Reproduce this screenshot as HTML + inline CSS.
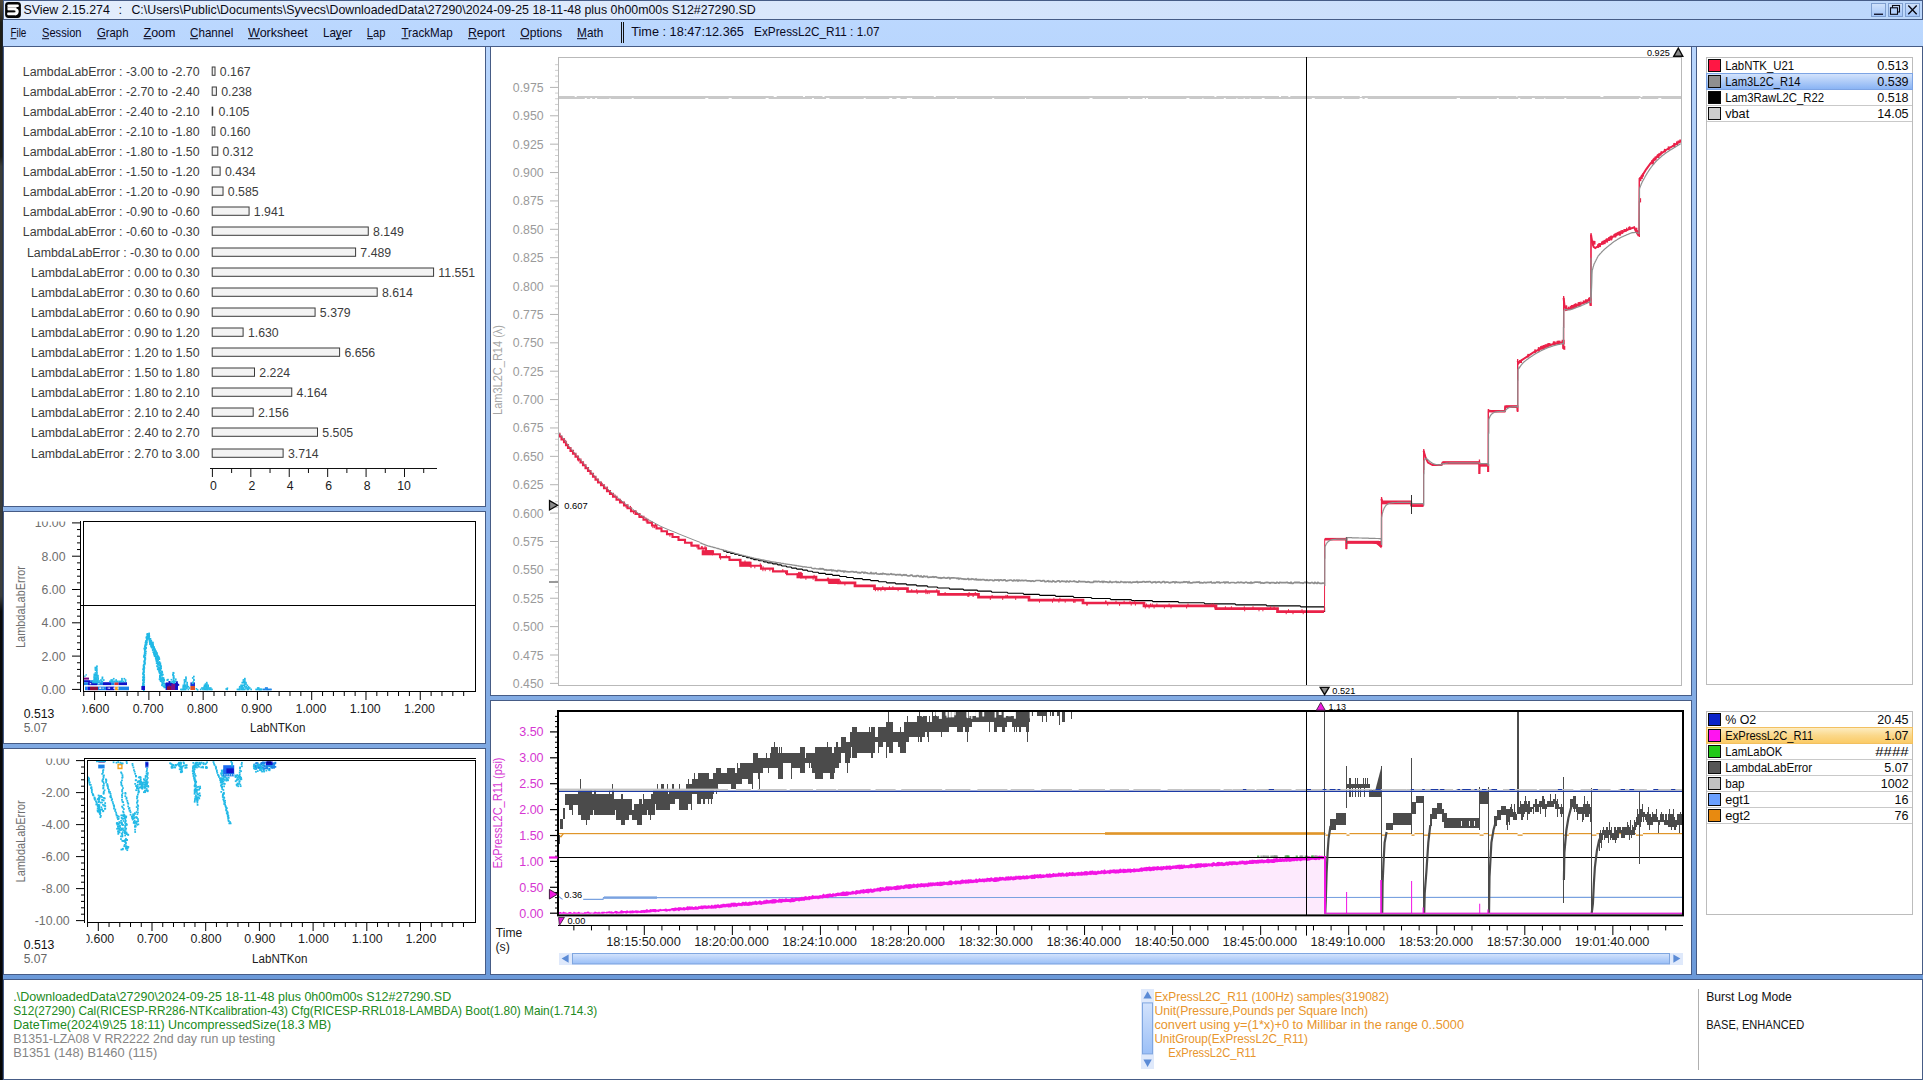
<!DOCTYPE html>
<html lang="en"><head><meta charset="utf-8"><title>SView 2.15.274</title>
<style>html,body{margin:0;padding:0;background:#000;overflow:hidden}svg{display:block;font-family:"Liberation Sans",sans-serif}text{white-space:pre}</style></head>
<body>
<svg width="1923" height="1080" viewBox="0 0 1923 1080">
<defs>
<linearGradient id="bg" x1="0" y1="0" x2="0" y2="1"><stop offset="0" stop-color="#bdd9ff"/><stop offset="1" stop-color="#6393d5"/></linearGradient>
<linearGradient id="tb" x1="0" y1="0" x2="1" y2="0"><stop offset="0" stop-color="#e4eefc"/><stop offset="0.45" stop-color="#d9e7fc"/><stop offset="1" stop-color="#bcd7fb"/></linearGradient>
<linearGradient id="desk" x1="0" y1="0" x2="0" y2="1"><stop offset="0" stop-color="#4f4737"/><stop offset="0.017" stop-color="#2c291f"/><stop offset="0.021" stop-color="#1d1d16"/><stop offset="0.145" stop-color="#1d1d16"/><stop offset="0.154" stop-color="#3b3c37"/><stop offset="0.552" stop-color="#3c3e3b"/><stop offset="0.566" stop-color="#0a0b0b"/><stop offset="1" stop-color="#050505"/></linearGradient>
<linearGradient id="btn" x1="0" y1="0" x2="0" y2="1"><stop offset="0" stop-color="#cfe1fb"/><stop offset="1" stop-color="#a4c6fa"/></linearGradient>
<linearGradient id="selb" x1="0" y1="0" x2="0" y2="1"><stop offset="0" stop-color="#d3e3fc"/><stop offset="1" stop-color="#8ab4f4"/></linearGradient>
<linearGradient id="selo" x1="0" y1="0" x2="0" y2="1"><stop offset="0" stop-color="#fdecc0"/><stop offset="0.5" stop-color="#fbd88a"/><stop offset="1" stop-color="#fbcb66"/></linearGradient>
<linearGradient id="thumb" x1="0" y1="0" x2="0" y2="1"><stop offset="0" stop-color="#d2e2fc"/><stop offset="1" stop-color="#9cc0f7"/></linearGradient>
</defs>
<rect x="0" y="0" width="3" height="1080" fill="url(#desk)"/>
<rect x="2" y="20" width="1" height="1060" fill="#1c2c4c" opacity="0.45"/>
<rect x="3" y="0" width="1920" height="1080" fill="url(#bg)"/>
<rect x="3" y="0" width="1920" height="20" fill="#465c86"/>
<rect x="4" y="1" width="1918" height="18" fill="url(#tb)"/>
<rect x="3" y="1079" width="1920" height="1" fill="#465c86"/>
<rect x="5.1" y="1.9" width="15.8" height="16.1" rx="3.4" fill="#050505"/>
<g fill="#fdfdfd"><rect x="7.5" y="4.4" width="11.2" height="2.7" rx="0.9"/><rect x="7.5" y="6.6" width="8.9" height="4.0" rx="0.8"/><path d="M14.6 8.3 Q18.7 8.3 18.7 11.6 Q18.7 15.3 15 15.3 L14.6 12.2 Z"/><rect x="7.2" y="12.3" width="9.6" height="3.0" rx="1.0"/></g>
<rect x="7.7" y="7.15" width="8.2" height="0.55" fill="#8e8e8e"/>
<rect x="6.4" y="10.7" width="9.0" height="1.5" fill="#050505"/>
<text x="23.40" y="14.00" font-size="12.6" fill="#0a0a14" text-anchor="start" textLength="86.40" lengthAdjust="spacingAndGlyphs">SView 2.15.274</text>
<text x="118.60" y="14.00" font-size="12.6" fill="#0a0a14" text-anchor="start" textLength="3.60" lengthAdjust="spacingAndGlyphs">:</text>
<text x="131.40" y="14.00" font-size="12.6" fill="#0a0a14" text-anchor="start" textLength="624.40" lengthAdjust="spacingAndGlyphs">C:\Users\Public\Documents\Syvecs\DownloadedData\27290\2024-09-25 18-11-48 plus 0h00m00s S12#27290.SD</text>
<rect x="1871" y="3" width="15" height="14" fill="#7f9fd0"/>
<rect x="1872" y="4" width="13" height="12" fill="url(#btn)"/>
<rect x="1888" y="3" width="15" height="14" fill="#7f9fd0"/>
<rect x="1889" y="4" width="13" height="12" fill="url(#btn)"/>
<rect x="1905" y="3" width="15" height="14" fill="#7f9fd0"/>
<rect x="1906" y="4" width="13" height="12" fill="url(#btn)"/>
<rect x="1874" y="13.6" width="9" height="1.3" fill="#0a0a20"/>
<g fill="none" stroke="#0a0a14" stroke-width="1.1"><rect x="1892.5" y="5.5" width="7" height="6.5"/><rect x="1890.5" y="7.8" width="7" height="6.5" fill="#b4d0fa"/></g>
<path d="M1908.3 5.5 L1916.7 14.3 M1916.7 5.5 L1908.3 14.3" stroke="#0a0a14" stroke-width="1.35" fill="none"/>
<rect x="3" y="46" width="1920" height="1" fill="#465c86"/>
<text x="10.40" y="37.00" font-size="12.6" fill="#0a0a1e" text-anchor="start" textLength="16.00" lengthAdjust="spacingAndGlyphs">File</text>
<rect x="10.5" y="38.2" width="6" height="1" fill="#0a0a1e"/>
<text x="42.00" y="37.00" font-size="12.6" fill="#0a0a1e" text-anchor="start" textLength="39.50" lengthAdjust="spacingAndGlyphs">Session</text>
<rect x="42.0" y="38.2" width="7" height="1" fill="#0a0a1e"/>
<text x="96.90" y="37.00" font-size="12.6" fill="#0a0a1e" text-anchor="start" textLength="31.60" lengthAdjust="spacingAndGlyphs">Graph</text>
<rect x="97.0" y="38.2" width="9" height="1" fill="#0a0a1e"/>
<text x="143.50" y="37.00" font-size="12.6" fill="#0a0a1e" text-anchor="start" textLength="32.00" lengthAdjust="spacingAndGlyphs">Zoom</text>
<rect x="143.5" y="38.2" width="8" height="1" fill="#0a0a1e"/>
<text x="190.10" y="37.00" font-size="12.6" fill="#0a0a1e" text-anchor="start" textLength="43.20" lengthAdjust="spacingAndGlyphs">Channel</text>
<rect x="190.0" y="38.2" width="8" height="1" fill="#0a0a1e"/>
<text x="248.00" y="37.00" font-size="12.6" fill="#0a0a1e" text-anchor="start" textLength="59.80" lengthAdjust="spacingAndGlyphs">Worksheet</text>
<rect x="248.0" y="38.2" width="12" height="1" fill="#0a0a1e"/>
<text x="322.90" y="37.00" font-size="12.6" fill="#0a0a1e" text-anchor="start" textLength="29.20" lengthAdjust="spacingAndGlyphs">Layer</text>
<rect x="336.0" y="38.2" width="6" height="1" fill="#0a0a1e"/>
<text x="366.80" y="37.00" font-size="12.6" fill="#0a0a1e" text-anchor="start" textLength="18.60" lengthAdjust="spacingAndGlyphs">Lap</text>
<rect x="367.0" y="38.2" width="6" height="1" fill="#0a0a1e"/>
<text x="401.40" y="37.00" font-size="12.6" fill="#0a0a1e" text-anchor="start" textLength="51.20" lengthAdjust="spacingAndGlyphs">TrackMap</text>
<rect x="401.5" y="38.2" width="7" height="1" fill="#0a0a1e"/>
<text x="468.00" y="37.00" font-size="12.6" fill="#0a0a1e" text-anchor="start" textLength="36.80" lengthAdjust="spacingAndGlyphs">Report</text>
<rect x="468.0" y="38.2" width="9" height="1" fill="#0a0a1e"/>
<text x="520.20" y="37.00" font-size="12.6" fill="#0a0a1e" text-anchor="start" textLength="41.90" lengthAdjust="spacingAndGlyphs">Options</text>
<rect x="520.0" y="38.2" width="9" height="1" fill="#0a0a1e"/>
<text x="577.10" y="37.00" font-size="12.6" fill="#0a0a1e" text-anchor="start" textLength="26.20" lengthAdjust="spacingAndGlyphs">Math</text>
<rect x="577.0" y="38.2" width="10" height="1" fill="#0a0a1e"/>
<rect x="621" y="22" width="1" height="21" fill="#111"/>
<rect x="623" y="22" width="1" height="21" fill="#111"/>
<text x="631.20" y="36.00" font-size="12.6" fill="#0a0a1e" text-anchor="start" textLength="112.70" lengthAdjust="spacingAndGlyphs">Time : 18:47:12.365</text>
<text x="754.10" y="36.00" font-size="12.6" fill="#0a0a1e" text-anchor="start" textLength="125.50" lengthAdjust="spacingAndGlyphs">ExPressL2C_R11 : 1.07</text>
<rect x="3" y="46" width="483" height="461" fill="#465c86"/><rect x="4" y="47" width="481" height="459" fill="#fff"/>
<rect x="3" y="511" width="483" height="233" fill="#465c86"/><rect x="4" y="512" width="481" height="231" fill="#fff"/>
<rect x="3" y="748" width="483" height="227" fill="#465c86"/><rect x="4" y="749" width="481" height="225" fill="#fff"/>
<rect x="490" y="46" width="1202" height="650" fill="#465c86"/><rect x="491" y="47" width="1200" height="648" fill="#fff"/>
<rect x="490" y="700" width="1202" height="275" fill="#465c86"/><rect x="491" y="701" width="1200" height="273" fill="#fff"/>
<rect x="1696" y="46" width="227" height="929" fill="#465c86"/><rect x="1697" y="47" width="225" height="927" fill="#fff"/>
<rect x="3" y="979" width="1920" height="101" fill="#465c86"/><rect x="4" y="980" width="1918" height="99" fill="#fff"/>
<text x="199.60" y="75.60" font-size="12" fill="#3c3c3c" text-anchor="end" textLength="176.80" lengthAdjust="spacingAndGlyphs">LambdaLabError : -3.00 to -2.70</text>
<rect x="212.2" y="67.00" width="2.81" height="8.3" fill="#f3f3f3" stroke="#3a3a3a" stroke-width="1"/>
<text x="219.81" y="75.60" font-size="12" fill="#3c3c3c" text-anchor="start" textLength="30.79" lengthAdjust="spacingAndGlyphs">0.167</text>
<text x="199.60" y="95.60" font-size="12" fill="#3c3c3c" text-anchor="end" textLength="176.80" lengthAdjust="spacingAndGlyphs">LambdaLabError : -2.70 to -2.40</text>
<rect x="212.2" y="87.00" width="4.17" height="8.3" fill="#f3f3f3" stroke="#3a3a3a" stroke-width="1"/>
<text x="221.17" y="95.60" font-size="12" fill="#3c3c3c" text-anchor="start" textLength="30.79" lengthAdjust="spacingAndGlyphs">0.238</text>
<text x="199.60" y="115.60" font-size="12" fill="#3c3c3c" text-anchor="end" textLength="176.80" lengthAdjust="spacingAndGlyphs">LambdaLabError : -2.40 to -2.10</text>
<rect x="211.7" y="106.60" width="1.5" height="9.2" fill="#3a3a3a"/>
<text x="218.62" y="115.60" font-size="12" fill="#3c3c3c" text-anchor="start" textLength="30.79" lengthAdjust="spacingAndGlyphs">0.105</text>
<text x="199.60" y="135.60" font-size="12" fill="#3c3c3c" text-anchor="end" textLength="176.80" lengthAdjust="spacingAndGlyphs">LambdaLabError : -2.10 to -1.80</text>
<rect x="212.2" y="127.00" width="2.67" height="8.3" fill="#f3f3f3" stroke="#3a3a3a" stroke-width="1"/>
<text x="219.67" y="135.60" font-size="12" fill="#3c3c3c" text-anchor="start" textLength="30.79" lengthAdjust="spacingAndGlyphs">0.160</text>
<text x="199.60" y="155.60" font-size="12" fill="#3c3c3c" text-anchor="end" textLength="176.80" lengthAdjust="spacingAndGlyphs">LambdaLabError : -1.80 to -1.50</text>
<rect x="212.2" y="147.00" width="5.59" height="8.3" fill="#f3f3f3" stroke="#3a3a3a" stroke-width="1"/>
<text x="222.59" y="155.60" font-size="12" fill="#3c3c3c" text-anchor="start" textLength="30.79" lengthAdjust="spacingAndGlyphs">0.312</text>
<text x="199.60" y="175.60" font-size="12" fill="#3c3c3c" text-anchor="end" textLength="176.80" lengthAdjust="spacingAndGlyphs">LambdaLabError : -1.50 to -1.20</text>
<rect x="212.2" y="167.00" width="7.93" height="8.3" fill="#f3f3f3" stroke="#3a3a3a" stroke-width="1"/>
<text x="224.93" y="175.60" font-size="12" fill="#3c3c3c" text-anchor="start" textLength="30.79" lengthAdjust="spacingAndGlyphs">0.434</text>
<text x="199.60" y="195.60" font-size="12" fill="#3c3c3c" text-anchor="end" textLength="176.80" lengthAdjust="spacingAndGlyphs">LambdaLabError : -1.20 to -0.90</text>
<rect x="212.2" y="187.00" width="10.83" height="8.3" fill="#f3f3f3" stroke="#3a3a3a" stroke-width="1"/>
<text x="227.83" y="195.60" font-size="12" fill="#3c3c3c" text-anchor="start" textLength="30.79" lengthAdjust="spacingAndGlyphs">0.585</text>
<text x="199.60" y="215.60" font-size="12" fill="#3c3c3c" text-anchor="end" textLength="176.80" lengthAdjust="spacingAndGlyphs">LambdaLabError : -0.90 to -0.60</text>
<rect x="212.2" y="207.00" width="36.87" height="8.3" fill="#f3f3f3" stroke="#3a3a3a" stroke-width="1"/>
<text x="253.87" y="215.60" font-size="12" fill="#3c3c3c" text-anchor="start" textLength="30.79" lengthAdjust="spacingAndGlyphs">1.941</text>
<text x="199.60" y="235.60" font-size="12" fill="#3c3c3c" text-anchor="end" textLength="176.80" lengthAdjust="spacingAndGlyphs">LambdaLabError : -0.60 to -0.30</text>
<rect x="212.2" y="227.00" width="156.06" height="8.3" fill="#f3f3f3" stroke="#3a3a3a" stroke-width="1"/>
<text x="373.06" y="235.60" font-size="12" fill="#3c3c3c" text-anchor="start" textLength="30.79" lengthAdjust="spacingAndGlyphs">8.149</text>
<text x="199.60" y="256.60" font-size="12" fill="#3c3c3c" text-anchor="end" textLength="172.68" lengthAdjust="spacingAndGlyphs">LambdaLabError : -0.30 to 0.00</text>
<rect x="212.2" y="248.00" width="143.39" height="8.3" fill="#f3f3f3" stroke="#3a3a3a" stroke-width="1"/>
<text x="360.39" y="256.60" font-size="12" fill="#3c3c3c" text-anchor="start" textLength="30.79" lengthAdjust="spacingAndGlyphs">7.489</text>
<text x="199.60" y="276.60" font-size="12" fill="#3c3c3c" text-anchor="end" textLength="168.56" lengthAdjust="spacingAndGlyphs">LambdaLabError : 0.00 to 0.30</text>
<rect x="212.2" y="268.00" width="221.38" height="8.3" fill="#f3f3f3" stroke="#3a3a3a" stroke-width="1"/>
<text x="438.38" y="276.60" font-size="12" fill="#3c3c3c" text-anchor="start" textLength="36.72" lengthAdjust="spacingAndGlyphs">11.551</text>
<text x="199.60" y="296.60" font-size="12" fill="#3c3c3c" text-anchor="end" textLength="168.56" lengthAdjust="spacingAndGlyphs">LambdaLabError : 0.30 to 0.60</text>
<rect x="212.2" y="288.00" width="164.99" height="8.3" fill="#f3f3f3" stroke="#3a3a3a" stroke-width="1"/>
<text x="381.99" y="296.60" font-size="12" fill="#3c3c3c" text-anchor="start" textLength="30.79" lengthAdjust="spacingAndGlyphs">8.614</text>
<text x="199.60" y="316.60" font-size="12" fill="#3c3c3c" text-anchor="end" textLength="168.56" lengthAdjust="spacingAndGlyphs">LambdaLabError : 0.60 to 0.90</text>
<rect x="212.2" y="308.00" width="102.88" height="8.3" fill="#f3f3f3" stroke="#3a3a3a" stroke-width="1"/>
<text x="319.88" y="316.60" font-size="12" fill="#3c3c3c" text-anchor="start" textLength="30.79" lengthAdjust="spacingAndGlyphs">5.379</text>
<text x="199.60" y="336.60" font-size="12" fill="#3c3c3c" text-anchor="end" textLength="168.56" lengthAdjust="spacingAndGlyphs">LambdaLabError : 0.90 to 1.20</text>
<rect x="212.2" y="328.00" width="30.90" height="8.3" fill="#f3f3f3" stroke="#3a3a3a" stroke-width="1"/>
<text x="247.90" y="336.60" font-size="12" fill="#3c3c3c" text-anchor="start" textLength="30.79" lengthAdjust="spacingAndGlyphs">1.630</text>
<text x="199.60" y="356.60" font-size="12" fill="#3c3c3c" text-anchor="end" textLength="168.56" lengthAdjust="spacingAndGlyphs">LambdaLabError : 1.20 to 1.50</text>
<rect x="212.2" y="348.00" width="127.40" height="8.3" fill="#f3f3f3" stroke="#3a3a3a" stroke-width="1"/>
<text x="344.40" y="356.60" font-size="12" fill="#3c3c3c" text-anchor="start" textLength="30.79" lengthAdjust="spacingAndGlyphs">6.656</text>
<text x="199.60" y="376.60" font-size="12" fill="#3c3c3c" text-anchor="end" textLength="168.56" lengthAdjust="spacingAndGlyphs">LambdaLabError : 1.50 to 1.80</text>
<rect x="212.2" y="368.00" width="42.30" height="8.3" fill="#f3f3f3" stroke="#3a3a3a" stroke-width="1"/>
<text x="259.30" y="376.60" font-size="12" fill="#3c3c3c" text-anchor="start" textLength="30.79" lengthAdjust="spacingAndGlyphs">2.224</text>
<text x="199.60" y="396.60" font-size="12" fill="#3c3c3c" text-anchor="end" textLength="168.56" lengthAdjust="spacingAndGlyphs">LambdaLabError : 1.80 to 2.10</text>
<rect x="212.2" y="388.00" width="79.55" height="8.3" fill="#f3f3f3" stroke="#3a3a3a" stroke-width="1"/>
<text x="296.55" y="396.60" font-size="12" fill="#3c3c3c" text-anchor="start" textLength="30.79" lengthAdjust="spacingAndGlyphs">4.164</text>
<text x="199.60" y="416.60" font-size="12" fill="#3c3c3c" text-anchor="end" textLength="168.56" lengthAdjust="spacingAndGlyphs">LambdaLabError : 2.10 to 2.40</text>
<rect x="212.2" y="408.00" width="41.00" height="8.3" fill="#f3f3f3" stroke="#3a3a3a" stroke-width="1"/>
<text x="258.00" y="416.60" font-size="12" fill="#3c3c3c" text-anchor="start" textLength="30.79" lengthAdjust="spacingAndGlyphs">2.156</text>
<text x="199.60" y="436.60" font-size="12" fill="#3c3c3c" text-anchor="end" textLength="168.56" lengthAdjust="spacingAndGlyphs">LambdaLabError : 2.40 to 2.70</text>
<rect x="212.2" y="428.00" width="105.30" height="8.3" fill="#f3f3f3" stroke="#3a3a3a" stroke-width="1"/>
<text x="322.30" y="436.60" font-size="12" fill="#3c3c3c" text-anchor="start" textLength="30.79" lengthAdjust="spacingAndGlyphs">5.505</text>
<text x="199.60" y="457.60" font-size="12" fill="#3c3c3c" text-anchor="end" textLength="168.56" lengthAdjust="spacingAndGlyphs">LambdaLabError : 2.70 to 3.00</text>
<rect x="212.2" y="449.00" width="70.91" height="8.3" fill="#f3f3f3" stroke="#3a3a3a" stroke-width="1"/>
<text x="287.91" y="457.60" font-size="12" fill="#3c3c3c" text-anchor="start" textLength="30.79" lengthAdjust="spacingAndGlyphs">3.714</text>
<rect x="210" y="468" width="227" height="1" fill="#111"/>
<rect x="211.90" y="468" width="1" height="9" fill="#111"/>
<text x="213.40" y="489.60" font-size="12" fill="#1a1a1a" text-anchor="middle" textLength="6.81" lengthAdjust="spacingAndGlyphs">0</text>
<rect x="231.11" y="468" width="1" height="5" fill="#111"/>
<rect x="250.32" y="468" width="1" height="9" fill="#111"/>
<text x="251.82" y="489.60" font-size="12" fill="#1a1a1a" text-anchor="middle" textLength="6.81" lengthAdjust="spacingAndGlyphs">2</text>
<rect x="269.53" y="468" width="1" height="5" fill="#111"/>
<rect x="288.74" y="468" width="1" height="9" fill="#111"/>
<text x="290.24" y="489.60" font-size="12" fill="#1a1a1a" text-anchor="middle" textLength="6.81" lengthAdjust="spacingAndGlyphs">4</text>
<rect x="307.95" y="468" width="1" height="5" fill="#111"/>
<rect x="327.16" y="468" width="1" height="9" fill="#111"/>
<text x="328.66" y="489.60" font-size="12" fill="#1a1a1a" text-anchor="middle" textLength="6.81" lengthAdjust="spacingAndGlyphs">6</text>
<rect x="346.37" y="468" width="1" height="5" fill="#111"/>
<rect x="365.58" y="468" width="1" height="9" fill="#111"/>
<text x="367.08" y="489.60" font-size="12" fill="#1a1a1a" text-anchor="middle" textLength="6.81" lengthAdjust="spacingAndGlyphs">8</text>
<rect x="384.79" y="468" width="1" height="5" fill="#111"/>
<rect x="404.00" y="468" width="1" height="9" fill="#111"/>
<text x="404.00" y="489.60" font-size="12" fill="#1a1a1a" text-anchor="middle" textLength="13.62" lengthAdjust="spacingAndGlyphs">10</text>
<rect x="423.21" y="468" width="1" height="5" fill="#111"/>
<rect x="80" y="521" width="1" height="171" fill="#000"/>
<rect x="72" y="688.90" width="8" height="1" fill="#000"/>
<rect x="77" y="682.24" width="3" height="1" fill="#000"/>
<rect x="77" y="675.58" width="3" height="1" fill="#000"/>
<rect x="77" y="668.92" width="3" height="1" fill="#000"/>
<rect x="77" y="662.26" width="3" height="1" fill="#000"/>
<rect x="72" y="655.60" width="8" height="1" fill="#000"/>
<rect x="77" y="648.94" width="3" height="1" fill="#000"/>
<rect x="77" y="642.28" width="3" height="1" fill="#000"/>
<rect x="77" y="635.62" width="3" height="1" fill="#000"/>
<rect x="77" y="628.96" width="3" height="1" fill="#000"/>
<rect x="72" y="622.30" width="8" height="1" fill="#000"/>
<rect x="77" y="615.64" width="3" height="1" fill="#000"/>
<rect x="77" y="608.98" width="3" height="1" fill="#000"/>
<rect x="77" y="602.32" width="3" height="1" fill="#000"/>
<rect x="77" y="595.66" width="3" height="1" fill="#000"/>
<rect x="72" y="589.00" width="8" height="1" fill="#000"/>
<rect x="77" y="582.34" width="3" height="1" fill="#000"/>
<rect x="77" y="575.68" width="3" height="1" fill="#000"/>
<rect x="77" y="569.02" width="3" height="1" fill="#000"/>
<rect x="77" y="562.36" width="3" height="1" fill="#000"/>
<rect x="72" y="555.70" width="8" height="1" fill="#000"/>
<rect x="77" y="549.04" width="3" height="1" fill="#000"/>
<rect x="77" y="542.38" width="3" height="1" fill="#000"/>
<rect x="77" y="535.72" width="3" height="1" fill="#000"/>
<rect x="77" y="529.06" width="3" height="1" fill="#000"/>
<rect x="72" y="522.40" width="8" height="1" fill="#000"/>
<clipPath id="c2"><rect x="4" y="521.6" width="480" height="220"/></clipPath>
<g clip-path="url(#c2)">
<text x="65.50" y="693.80" font-size="12" fill="#6e6e6e" text-anchor="end" textLength="23.95" lengthAdjust="spacingAndGlyphs">0.00</text>
<text x="65.50" y="660.50" font-size="12" fill="#6e6e6e" text-anchor="end" textLength="23.95" lengthAdjust="spacingAndGlyphs">2.00</text>
<text x="65.50" y="627.20" font-size="12" fill="#6e6e6e" text-anchor="end" textLength="23.95" lengthAdjust="spacingAndGlyphs">4.00</text>
<text x="65.50" y="593.90" font-size="12" fill="#6e6e6e" text-anchor="end" textLength="23.95" lengthAdjust="spacingAndGlyphs">6.00</text>
<text x="65.50" y="560.60" font-size="12" fill="#6e6e6e" text-anchor="end" textLength="23.95" lengthAdjust="spacingAndGlyphs">8.00</text>
<text x="65.50" y="527.30" font-size="12" fill="#6e6e6e" text-anchor="end" textLength="30.79" lengthAdjust="spacingAndGlyphs">10.00</text>
</g>
<text transform="translate(25.20,607.00) rotate(-90)" font-size="12" fill="#6e6e6e" text-anchor="middle" textLength="82.00" lengthAdjust="spacingAndGlyphs">LambdaLabError</text>
<clipPath id="p2"><rect x="84" y="522" width="391" height="169"/></clipPath><g clip-path="url(#p2)">
<rect x="83.5" y="677.6" width="5.5" height="2.0" fill="#7a0a86"/>
<rect x="84.0" y="680.2" width="6.0" height="2.0" fill="#1212c8"/><rect x="90.0" y="680.2" width="3.0" height="2.0" fill="#1b84e8"/>
<rect x="84.0" y="682.2" width="19.0" height="2.9" fill="#1b84e8"/><rect x="88.0" y="682.2" width="9.0" height="2.9" fill="#1212c8"/><rect x="103.0" y="682.2" width="8.0" height="2.9" fill="#1212c8"/><rect x="111.0" y="682.2" width="3.5" height="2.9" fill="#1b84e8"/><rect x="114.5" y="682.2" width="4.0" height="2.9" fill="#e03232"/><rect x="118.5" y="682.2" width="8.5" height="2.9" fill="#1212c8"/>
<rect x="85.0" y="686.6" width="2.5" height="3.6" fill="#1b84e8"/><rect x="87.5" y="686.6" width="2.5" height="3.6" fill="#1212c8"/><rect x="90.0" y="686.6" width="8.0" height="3.6" fill="#8a0f3c"/><rect x="98.0" y="686.6" width="8.0" height="3.6" fill="#1b84e8"/><rect x="106.0" y="686.6" width="8.5" height="3.6" fill="#1212c8"/><rect x="115.0" y="686.6" width="3.4" height="3.6" fill="#f2a21e"/><rect x="118.4" y="686.6" width="10.6" height="3.6" fill="#1b84e8"/>
<rect x="107.7" y="687.6" width="1.1" height="1.1" fill="#fff"/><rect x="102.5" y="687.6" width="1.1" height="1.1" fill="#fff"/><rect x="117.5" y="687.6" width="1.1" height="1.1" fill="#fff"/><rect x="100.2" y="687.6" width="1.1" height="1.1" fill="#fff"/><rect x="114.1" y="687.6" width="1.1" height="1.1" fill="#fff"/><rect x="109.0" y="687.6" width="1.1" height="1.1" fill="#fff"/><rect x="99.7" y="687.6" width="1.1" height="1.1" fill="#fff"/><rect x="113.2" y="687.6" width="1.1" height="1.1" fill="#fff"/><rect x="99.1" y="687.6" width="1.1" height="1.1" fill="#fff"/>
<rect x="98.4" y="683.2" width="1.0" height="1.0" fill="#fff"/><rect x="89.7" y="683.2" width="1.0" height="1.0" fill="#fff"/><rect x="90.2" y="683.2" width="1.0" height="1.0" fill="#fff"/><rect x="98.2" y="683.2" width="1.0" height="1.0" fill="#fff"/>
<rect x="92.1" y="681.6" width="1.7" height="1.7" fill="#22b9e6"/><rect x="92.4" y="680.2" width="1.7" height="1.7" fill="#22b9e6"/><rect x="93.6" y="681.6" width="1.7" height="1.7" fill="#22b9e6"/><rect x="93.6" y="680.2" width="1.7" height="1.7" fill="#22b9e6"/><rect x="93.3" y="678.9" width="1.7" height="1.7" fill="#22b9e6"/><rect x="93.4" y="677.5" width="1.7" height="1.7" fill="#22b9e6"/><rect x="93.3" y="676.2" width="1.7" height="1.7" fill="#22b9e6"/><rect x="93.5" y="674.8" width="1.7" height="1.7" fill="#22b9e6"/><rect x="93.5" y="673.5" width="1.7" height="1.7" fill="#22b9e6"/><rect x="94.6" y="681.6" width="1.7" height="1.7" fill="#22b9e6"/><rect x="94.7" y="680.2" width="1.7" height="1.7" fill="#22b9e6"/><rect x="94.7" y="678.9" width="1.7" height="1.7" fill="#22b9e6"/><rect x="94.6" y="677.5" width="1.7" height="1.7" fill="#22b9e6"/><rect x="94.8" y="676.2" width="1.7" height="1.7" fill="#22b9e6"/><rect x="94.7" y="674.8" width="1.7" height="1.7" fill="#22b9e6"/><rect x="94.9" y="673.5" width="1.7" height="1.7" fill="#22b9e6"/><rect x="94.6" y="672.1" width="1.7" height="1.7" fill="#22b9e6"/><rect x="94.7" y="669.4" width="1.7" height="1.7" fill="#22b9e6"/><rect x="94.6" y="668.1" width="1.7" height="1.7" fill="#22b9e6"/><rect x="94.5" y="666.7" width="1.7" height="1.7" fill="#22b9e6"/><rect x="96.0" y="681.6" width="1.7" height="1.7" fill="#22b9e6"/><rect x="95.9" y="680.2" width="1.7" height="1.7" fill="#22b9e6"/><rect x="96.0" y="678.9" width="1.7" height="1.7" fill="#22b9e6"/><rect x="95.9" y="677.5" width="1.7" height="1.7" fill="#22b9e6"/><rect x="96.1" y="676.2" width="1.7" height="1.7" fill="#22b9e6"/><rect x="96.0" y="674.8" width="1.7" height="1.7" fill="#22b9e6"/><rect x="96.0" y="673.5" width="1.7" height="1.7" fill="#22b9e6"/><rect x="96.1" y="672.1" width="1.7" height="1.7" fill="#22b9e6"/><rect x="95.9" y="670.8" width="1.7" height="1.7" fill="#22b9e6"/><rect x="96.0" y="669.4" width="1.7" height="1.7" fill="#22b9e6"/><rect x="95.9" y="668.1" width="1.7" height="1.7" fill="#22b9e6"/><rect x="95.8" y="666.7" width="1.7" height="1.7" fill="#22b9e6"/><rect x="96.1" y="665.4" width="1.7" height="1.7" fill="#22b9e6"/><rect x="97.2" y="681.6" width="1.7" height="1.7" fill="#22b9e6"/><rect x="97.0" y="680.2" width="1.7" height="1.7" fill="#22b9e6"/><rect x="97.2" y="678.9" width="1.7" height="1.7" fill="#22b9e6"/><rect x="97.3" y="677.5" width="1.7" height="1.7" fill="#22b9e6"/><rect x="97.1" y="676.2" width="1.7" height="1.7" fill="#22b9e6"/><rect x="97.1" y="674.8" width="1.7" height="1.7" fill="#22b9e6"/><rect x="98.3" y="680.2" width="1.7" height="1.7" fill="#22b9e6"/>
<rect x="100.3" y="680.6" width="1.7" height="1.7" fill="#22b9e6"/><rect x="100.1" y="679.2" width="1.7" height="1.7" fill="#22b9e6"/><rect x="101.5" y="680.6" width="1.7" height="1.7" fill="#22b9e6"/><rect x="101.5" y="677.9" width="1.7" height="1.7" fill="#22b9e6"/><rect x="101.6" y="676.5" width="1.7" height="1.7" fill="#22b9e6"/><rect x="102.9" y="679.2" width="1.7" height="1.7" fill="#22b9e6"/>
<rect x="109.1" y="680.6" width="1.7" height="1.7" fill="#22b9e6"/><rect x="110.3" y="680.6" width="1.7" height="1.7" fill="#22b9e6"/><rect x="110.4" y="679.2" width="1.7" height="1.7" fill="#22b9e6"/><rect x="111.6" y="680.6" width="1.7" height="1.7" fill="#22b9e6"/><rect x="111.6" y="679.2" width="1.7" height="1.7" fill="#22b9e6"/><rect x="113.1" y="680.6" width="1.7" height="1.7" fill="#22b9e6"/><rect x="112.9" y="677.9" width="1.7" height="1.7" fill="#22b9e6"/><rect x="114.1" y="680.6" width="1.7" height="1.7" fill="#22b9e6"/><rect x="115.5" y="680.6" width="1.7" height="1.7" fill="#22b9e6"/><rect x="115.3" y="679.2" width="1.7" height="1.7" fill="#22b9e6"/><rect x="116.9" y="680.6" width="1.7" height="1.7" fill="#22b9e6"/>
<rect x="118.5" y="680.6" width="1.7" height="1.7" fill="#22b9e6"/><rect x="119.9" y="680.6" width="1.7" height="1.7" fill="#22b9e6"/><rect x="120.9" y="680.6" width="1.7" height="1.7" fill="#22b9e6"/><rect x="121.1" y="679.2" width="1.7" height="1.7" fill="#22b9e6"/><rect x="121.1" y="677.9" width="1.7" height="1.7" fill="#22b9e6"/><rect x="122.4" y="680.6" width="1.7" height="1.7" fill="#22b9e6"/><rect x="123.5" y="677.9" width="1.7" height="1.7" fill="#22b9e6"/><rect x="124.6" y="680.6" width="1.7" height="1.7" fill="#22b9e6"/><rect x="124.7" y="679.2" width="1.7" height="1.7" fill="#22b9e6"/>
<rect x="84.2" y="675.5" width="1.4" height="1.4" fill="#22b9e6"/><rect x="85.5" y="674.2" width="1.4" height="1.4" fill="#22b9e6"/>
<rect x="142.9" y="689.5" width="1.7" height="1.7" fill="#22b9e6"/><rect x="143.0" y="688.3" width="1.7" height="1.7" fill="#22b9e6"/><rect x="142.0" y="687.5" width="1.7" height="1.7" fill="#22b9e6"/><rect x="141.9" y="686.9" width="1.7" height="1.7" fill="#22b9e6"/><rect x="142.6" y="687.0" width="1.7" height="1.7" fill="#22b9e6"/><rect x="142.9" y="685.9" width="1.7" height="1.7" fill="#22b9e6"/><rect x="142.6" y="685.7" width="1.7" height="1.7" fill="#22b9e6"/><rect x="141.9" y="684.9" width="1.7" height="1.7" fill="#22b9e6"/><rect x="143.0" y="684.4" width="1.7" height="1.7" fill="#22b9e6"/><rect x="142.8" y="683.5" width="1.7" height="1.7" fill="#22b9e6"/><rect x="142.1" y="683.2" width="1.7" height="1.7" fill="#22b9e6"/><rect x="142.3" y="682.6" width="1.7" height="1.7" fill="#22b9e6"/><rect x="143.2" y="681.6" width="1.7" height="1.7" fill="#22b9e6"/><rect x="142.4" y="681.6" width="1.7" height="1.7" fill="#22b9e6"/><rect x="142.9" y="680.2" width="1.7" height="1.7" fill="#22b9e6"/><rect x="142.1" y="679.6" width="1.7" height="1.7" fill="#22b9e6"/><rect x="143.2" y="679.6" width="1.7" height="1.7" fill="#22b9e6"/><rect x="142.2" y="679.0" width="1.7" height="1.7" fill="#22b9e6"/><rect x="143.4" y="678.2" width="1.7" height="1.7" fill="#22b9e6"/><rect x="142.5" y="677.5" width="1.7" height="1.7" fill="#22b9e6"/><rect x="142.2" y="676.4" width="1.7" height="1.7" fill="#22b9e6"/><rect x="143.4" y="676.4" width="1.7" height="1.7" fill="#22b9e6"/><rect x="142.8" y="676.1" width="1.7" height="1.7" fill="#22b9e6"/><rect x="142.7" y="675.4" width="1.7" height="1.7" fill="#22b9e6"/><rect x="143.3" y="674.2" width="1.7" height="1.7" fill="#22b9e6"/><rect x="142.5" y="673.6" width="1.7" height="1.7" fill="#22b9e6"/><rect x="142.5" y="673.3" width="1.7" height="1.7" fill="#22b9e6"/><rect x="142.5" y="672.6" width="1.7" height="1.7" fill="#22b9e6"/><rect x="142.4" y="672.4" width="1.7" height="1.7" fill="#22b9e6"/><rect x="142.7" y="671.4" width="1.7" height="1.7" fill="#22b9e6"/><rect x="143.1" y="671.2" width="1.7" height="1.7" fill="#22b9e6"/><rect x="142.8" y="670.6" width="1.7" height="1.7" fill="#22b9e6"/><rect x="143.0" y="669.6" width="1.7" height="1.7" fill="#22b9e6"/><rect x="143.0" y="668.5" width="1.7" height="1.7" fill="#22b9e6"/>
<rect x="142.9" y="668.7" width="1.7" height="1.7" fill="#22b9e6"/><rect x="142.3" y="668.6" width="1.7" height="1.7" fill="#22b9e6"/><rect x="142.6" y="667.6" width="1.7" height="1.7" fill="#22b9e6"/><rect x="143.5" y="667.1" width="1.7" height="1.7" fill="#22b9e6"/><rect x="142.9" y="666.4" width="1.7" height="1.7" fill="#22b9e6"/><rect x="143.3" y="666.0" width="1.7" height="1.7" fill="#22b9e6"/><rect x="142.7" y="665.1" width="1.7" height="1.7" fill="#22b9e6"/><rect x="142.9" y="664.1" width="1.7" height="1.7" fill="#22b9e6"/><rect x="143.8" y="663.7" width="1.7" height="1.7" fill="#22b9e6"/><rect x="143.5" y="663.3" width="1.7" height="1.7" fill="#22b9e6"/><rect x="144.1" y="662.3" width="1.7" height="1.7" fill="#22b9e6"/><rect x="143.7" y="661.7" width="1.7" height="1.7" fill="#22b9e6"/><rect x="143.6" y="661.2" width="1.7" height="1.7" fill="#22b9e6"/><rect x="143.6" y="660.4" width="1.7" height="1.7" fill="#22b9e6"/><rect x="143.6" y="660.1" width="1.7" height="1.7" fill="#22b9e6"/><rect x="144.0" y="659.4" width="1.7" height="1.7" fill="#22b9e6"/><rect x="144.5" y="658.1" width="1.7" height="1.7" fill="#22b9e6"/><rect x="143.9" y="658.1" width="1.7" height="1.7" fill="#22b9e6"/><rect x="144.4" y="656.6" width="1.7" height="1.7" fill="#22b9e6"/><rect x="143.3" y="656.3" width="1.7" height="1.7" fill="#22b9e6"/><rect x="143.3" y="655.4" width="1.7" height="1.7" fill="#22b9e6"/><rect x="143.3" y="655.2" width="1.7" height="1.7" fill="#22b9e6"/><rect x="144.5" y="654.7" width="1.7" height="1.7" fill="#22b9e6"/><rect x="143.6" y="653.9" width="1.7" height="1.7" fill="#22b9e6"/><rect x="144.4" y="652.6" width="1.7" height="1.7" fill="#22b9e6"/><rect x="144.8" y="652.8" width="1.7" height="1.7" fill="#22b9e6"/><rect x="143.8" y="652.1" width="1.7" height="1.7" fill="#22b9e6"/><rect x="144.1" y="651.0" width="1.7" height="1.7" fill="#22b9e6"/><rect x="145.1" y="650.7" width="1.7" height="1.7" fill="#22b9e6"/><rect x="143.9" y="649.6" width="1.7" height="1.7" fill="#22b9e6"/><rect x="144.5" y="648.8" width="1.7" height="1.7" fill="#22b9e6"/><rect x="144.0" y="648.2" width="1.7" height="1.7" fill="#22b9e6"/><rect x="144.9" y="647.2" width="1.7" height="1.7" fill="#22b9e6"/><rect x="144.7" y="646.9" width="1.7" height="1.7" fill="#22b9e6"/>
<rect x="143.5" y="647.8" width="1.7" height="1.7" fill="#22b9e6"/><rect x="144.7" y="647.5" width="1.7" height="1.7" fill="#22b9e6"/><rect x="143.8" y="647.5" width="1.7" height="1.7" fill="#22b9e6"/><rect x="145.2" y="646.9" width="1.7" height="1.7" fill="#22b9e6"/><rect x="144.1" y="645.7" width="1.7" height="1.7" fill="#22b9e6"/><rect x="144.1" y="645.7" width="1.7" height="1.7" fill="#22b9e6"/><rect x="144.6" y="644.5" width="1.7" height="1.7" fill="#22b9e6"/><rect x="144.9" y="644.8" width="1.7" height="1.7" fill="#22b9e6"/><rect x="145.7" y="643.6" width="1.7" height="1.7" fill="#22b9e6"/><rect x="144.6" y="643.8" width="1.7" height="1.7" fill="#22b9e6"/><rect x="145.5" y="643.0" width="1.7" height="1.7" fill="#22b9e6"/><rect x="144.7" y="641.9" width="1.7" height="1.7" fill="#22b9e6"/><rect x="145.9" y="641.7" width="1.7" height="1.7" fill="#22b9e6"/><rect x="144.9" y="641.7" width="1.7" height="1.7" fill="#22b9e6"/><rect x="146.0" y="641.1" width="1.7" height="1.7" fill="#22b9e6"/><rect x="145.1" y="640.6" width="1.7" height="1.7" fill="#22b9e6"/><rect x="145.2" y="640.1" width="1.7" height="1.7" fill="#22b9e6"/><rect x="146.0" y="639.0" width="1.7" height="1.7" fill="#22b9e6"/><rect x="146.2" y="639.1" width="1.7" height="1.7" fill="#22b9e6"/><rect x="145.8" y="637.8" width="1.7" height="1.7" fill="#22b9e6"/><rect x="146.4" y="637.4" width="1.7" height="1.7" fill="#22b9e6"/><rect x="145.7" y="636.8" width="1.7" height="1.7" fill="#22b9e6"/><rect x="145.7" y="636.3" width="1.7" height="1.7" fill="#22b9e6"/><rect x="146.3" y="635.9" width="1.7" height="1.7" fill="#22b9e6"/><rect x="147.2" y="635.4" width="1.7" height="1.7" fill="#22b9e6"/><rect x="146.8" y="634.7" width="1.7" height="1.7" fill="#22b9e6"/><rect x="146.6" y="634.1" width="1.7" height="1.7" fill="#22b9e6"/><rect x="146.6" y="633.5" width="1.7" height="1.7" fill="#22b9e6"/><rect x="147.5" y="633.6" width="1.7" height="1.7" fill="#22b9e6"/><rect x="146.6" y="633.0" width="1.7" height="1.7" fill="#22b9e6"/>
<rect x="148.3" y="632.6" width="1.7" height="1.7" fill="#22b9e6"/><rect x="148.2" y="633.3" width="1.7" height="1.7" fill="#22b9e6"/><rect x="147.6" y="634.1" width="1.7" height="1.7" fill="#22b9e6"/><rect x="147.5" y="634.2" width="1.7" height="1.7" fill="#22b9e6"/><rect x="148.3" y="635.1" width="1.7" height="1.7" fill="#22b9e6"/><rect x="147.7" y="635.3" width="1.7" height="1.7" fill="#22b9e6"/><rect x="148.5" y="635.5" width="1.7" height="1.7" fill="#22b9e6"/><rect x="148.0" y="635.6" width="1.7" height="1.7" fill="#22b9e6"/><rect x="147.5" y="635.8" width="1.7" height="1.7" fill="#22b9e6"/><rect x="147.6" y="636.8" width="1.7" height="1.7" fill="#22b9e6"/><rect x="148.1" y="636.7" width="1.7" height="1.7" fill="#22b9e6"/><rect x="147.9" y="637.7" width="1.7" height="1.7" fill="#22b9e6"/><rect x="149.6" y="638.0" width="1.7" height="1.7" fill="#22b9e6"/><rect x="148.5" y="637.9" width="1.7" height="1.7" fill="#22b9e6"/><rect x="148.7" y="638.6" width="1.7" height="1.7" fill="#22b9e6"/><rect x="148.5" y="638.9" width="1.7" height="1.7" fill="#22b9e6"/><rect x="148.8" y="639.9" width="1.7" height="1.7" fill="#22b9e6"/><rect x="150.4" y="639.8" width="1.7" height="1.7" fill="#22b9e6"/><rect x="149.0" y="640.7" width="1.7" height="1.7" fill="#22b9e6"/><rect x="149.3" y="640.5" width="1.7" height="1.7" fill="#22b9e6"/><rect x="148.8" y="640.9" width="1.7" height="1.7" fill="#22b9e6"/><rect x="149.9" y="641.4" width="1.7" height="1.7" fill="#22b9e6"/><rect x="149.4" y="641.8" width="1.7" height="1.7" fill="#22b9e6"/><rect x="149.2" y="642.0" width="1.7" height="1.7" fill="#22b9e6"/><rect x="149.5" y="642.5" width="1.7" height="1.7" fill="#22b9e6"/><rect x="149.5" y="642.5" width="1.7" height="1.7" fill="#22b9e6"/>
<rect x="149.3" y="640.6" width="1.7" height="1.7" fill="#22b9e6"/><rect x="150.4" y="641.3" width="1.7" height="1.7" fill="#22b9e6"/><rect x="151.0" y="641.7" width="1.7" height="1.7" fill="#22b9e6"/><rect x="151.0" y="642.3" width="1.7" height="1.7" fill="#22b9e6"/><rect x="150.0" y="641.7" width="1.7" height="1.7" fill="#22b9e6"/><rect x="152.1" y="641.7" width="1.7" height="1.7" fill="#22b9e6"/><rect x="151.3" y="642.7" width="1.7" height="1.7" fill="#22b9e6"/><rect x="149.1" y="643.3" width="1.7" height="1.7" fill="#22b9e6"/><rect x="152.1" y="643.2" width="1.7" height="1.7" fill="#22b9e6"/><rect x="151.7" y="643.7" width="1.7" height="1.7" fill="#22b9e6"/><rect x="149.7" y="643.5" width="1.7" height="1.7" fill="#22b9e6"/><rect x="151.1" y="644.2" width="1.7" height="1.7" fill="#22b9e6"/><rect x="152.2" y="644.5" width="1.7" height="1.7" fill="#22b9e6"/><rect x="151.5" y="644.8" width="1.7" height="1.7" fill="#22b9e6"/><rect x="152.0" y="644.8" width="1.7" height="1.7" fill="#22b9e6"/><rect x="150.5" y="643.9" width="1.7" height="1.7" fill="#22b9e6"/><rect x="150.3" y="644.7" width="1.7" height="1.7" fill="#22b9e6"/><rect x="150.3" y="645.7" width="1.7" height="1.7" fill="#22b9e6"/><rect x="151.9" y="645.6" width="1.7" height="1.7" fill="#22b9e6"/><rect x="152.2" y="646.0" width="1.7" height="1.7" fill="#22b9e6"/><rect x="151.9" y="645.1" width="1.7" height="1.7" fill="#22b9e6"/><rect x="153.0" y="646.6" width="1.7" height="1.7" fill="#22b9e6"/><rect x="152.1" y="646.5" width="1.7" height="1.7" fill="#22b9e6"/><rect x="152.7" y="646.0" width="1.7" height="1.7" fill="#22b9e6"/><rect x="153.1" y="646.5" width="1.7" height="1.7" fill="#22b9e6"/><rect x="150.9" y="646.8" width="1.7" height="1.7" fill="#22b9e6"/><rect x="153.3" y="646.9" width="1.7" height="1.7" fill="#22b9e6"/><rect x="153.4" y="648.4" width="1.7" height="1.7" fill="#22b9e6"/><rect x="152.7" y="647.7" width="1.7" height="1.7" fill="#22b9e6"/><rect x="152.7" y="648.4" width="1.7" height="1.7" fill="#22b9e6"/><rect x="153.8" y="648.6" width="1.7" height="1.7" fill="#22b9e6"/><rect x="153.5" y="648.0" width="1.7" height="1.7" fill="#22b9e6"/><rect x="151.9" y="648.5" width="1.7" height="1.7" fill="#22b9e6"/><rect x="154.0" y="648.8" width="1.7" height="1.7" fill="#22b9e6"/><rect x="153.5" y="648.6" width="1.7" height="1.7" fill="#22b9e6"/><rect x="151.9" y="649.3" width="1.7" height="1.7" fill="#22b9e6"/><rect x="154.0" y="650.2" width="1.7" height="1.7" fill="#22b9e6"/><rect x="154.1" y="649.8" width="1.7" height="1.7" fill="#22b9e6"/><rect x="153.7" y="650.3" width="1.7" height="1.7" fill="#22b9e6"/><rect x="153.6" y="650.0" width="1.7" height="1.7" fill="#22b9e6"/><rect x="155.2" y="650.4" width="1.7" height="1.7" fill="#22b9e6"/><rect x="155.5" y="651.8" width="1.7" height="1.7" fill="#22b9e6"/><rect x="152.4" y="651.3" width="1.7" height="1.7" fill="#22b9e6"/><rect x="155.2" y="652.3" width="1.7" height="1.7" fill="#22b9e6"/><rect x="154.0" y="651.5" width="1.7" height="1.7" fill="#22b9e6"/><rect x="153.3" y="652.8" width="1.7" height="1.7" fill="#22b9e6"/><rect x="153.4" y="652.5" width="1.7" height="1.7" fill="#22b9e6"/><rect x="153.3" y="652.6" width="1.7" height="1.7" fill="#22b9e6"/><rect x="156.1" y="652.2" width="1.7" height="1.7" fill="#22b9e6"/><rect x="155.8" y="653.1" width="1.7" height="1.7" fill="#22b9e6"/><rect x="156.1" y="653.6" width="1.7" height="1.7" fill="#22b9e6"/><rect x="154.0" y="654.2" width="1.7" height="1.7" fill="#22b9e6"/><rect x="154.9" y="653.1" width="1.7" height="1.7" fill="#22b9e6"/><rect x="153.4" y="654.0" width="1.7" height="1.7" fill="#22b9e6"/><rect x="155.0" y="654.0" width="1.7" height="1.7" fill="#22b9e6"/><rect x="154.0" y="654.3" width="1.7" height="1.7" fill="#22b9e6"/><rect x="154.7" y="655.3" width="1.7" height="1.7" fill="#22b9e6"/><rect x="153.8" y="655.4" width="1.7" height="1.7" fill="#22b9e6"/><rect x="156.7" y="654.7" width="1.7" height="1.7" fill="#22b9e6"/><rect x="157.1" y="655.9" width="1.7" height="1.7" fill="#22b9e6"/><rect x="157.1" y="655.4" width="1.7" height="1.7" fill="#22b9e6"/><rect x="155.4" y="655.9" width="1.7" height="1.7" fill="#22b9e6"/><rect x="157.6" y="656.4" width="1.7" height="1.7" fill="#22b9e6"/><rect x="155.6" y="656.4" width="1.7" height="1.7" fill="#22b9e6"/><rect x="155.4" y="656.0" width="1.7" height="1.7" fill="#22b9e6"/><rect x="154.9" y="657.5" width="1.7" height="1.7" fill="#22b9e6"/><rect x="155.6" y="658.0" width="1.7" height="1.7" fill="#22b9e6"/><rect x="155.6" y="657.1" width="1.7" height="1.7" fill="#22b9e6"/><rect x="156.5" y="657.3" width="1.7" height="1.7" fill="#22b9e6"/><rect x="156.2" y="658.7" width="1.7" height="1.7" fill="#22b9e6"/>
<rect x="157.5" y="656.5" width="1.7" height="1.7" fill="#22b9e6"/><rect x="156.6" y="656.9" width="1.7" height="1.7" fill="#22b9e6"/><rect x="157.9" y="656.6" width="1.7" height="1.7" fill="#22b9e6"/><rect x="157.1" y="656.1" width="1.7" height="1.7" fill="#22b9e6"/><rect x="157.2" y="657.0" width="1.7" height="1.7" fill="#22b9e6"/><rect x="157.3" y="657.6" width="1.7" height="1.7" fill="#22b9e6"/><rect x="155.5" y="656.9" width="1.7" height="1.7" fill="#22b9e6"/><rect x="158.1" y="657.3" width="1.7" height="1.7" fill="#22b9e6"/><rect x="156.4" y="657.9" width="1.7" height="1.7" fill="#22b9e6"/><rect x="155.7" y="658.8" width="1.7" height="1.7" fill="#22b9e6"/><rect x="158.5" y="658.3" width="1.7" height="1.7" fill="#22b9e6"/><rect x="157.3" y="658.6" width="1.7" height="1.7" fill="#22b9e6"/><rect x="157.0" y="659.1" width="1.7" height="1.7" fill="#22b9e6"/><rect x="155.5" y="659.0" width="1.7" height="1.7" fill="#22b9e6"/><rect x="155.7" y="660.4" width="1.7" height="1.7" fill="#22b9e6"/><rect x="156.9" y="659.6" width="1.7" height="1.7" fill="#22b9e6"/><rect x="158.6" y="661.1" width="1.7" height="1.7" fill="#22b9e6"/><rect x="156.9" y="660.0" width="1.7" height="1.7" fill="#22b9e6"/><rect x="155.9" y="660.2" width="1.7" height="1.7" fill="#22b9e6"/><rect x="156.5" y="660.5" width="1.7" height="1.7" fill="#22b9e6"/><rect x="156.2" y="661.0" width="1.7" height="1.7" fill="#22b9e6"/><rect x="157.6" y="662.3" width="1.7" height="1.7" fill="#22b9e6"/><rect x="158.4" y="661.8" width="1.7" height="1.7" fill="#22b9e6"/><rect x="157.1" y="662.2" width="1.7" height="1.7" fill="#22b9e6"/><rect x="157.0" y="662.2" width="1.7" height="1.7" fill="#22b9e6"/><rect x="155.8" y="662.4" width="1.7" height="1.7" fill="#22b9e6"/><rect x="159.5" y="662.4" width="1.7" height="1.7" fill="#22b9e6"/><rect x="157.7" y="663.5" width="1.7" height="1.7" fill="#22b9e6"/><rect x="159.2" y="663.1" width="1.7" height="1.7" fill="#22b9e6"/><rect x="156.9" y="663.4" width="1.7" height="1.7" fill="#22b9e6"/><rect x="157.5" y="664.0" width="1.7" height="1.7" fill="#22b9e6"/><rect x="159.7" y="664.9" width="1.7" height="1.7" fill="#22b9e6"/><rect x="159.5" y="663.9" width="1.7" height="1.7" fill="#22b9e6"/><rect x="156.2" y="665.2" width="1.7" height="1.7" fill="#22b9e6"/><rect x="159.7" y="665.1" width="1.7" height="1.7" fill="#22b9e6"/><rect x="158.5" y="664.6" width="1.7" height="1.7" fill="#22b9e6"/><rect x="157.8" y="666.4" width="1.7" height="1.7" fill="#22b9e6"/><rect x="159.6" y="666.5" width="1.7" height="1.7" fill="#22b9e6"/><rect x="160.2" y="665.8" width="1.7" height="1.7" fill="#22b9e6"/><rect x="156.8" y="666.0" width="1.7" height="1.7" fill="#22b9e6"/><rect x="158.6" y="667.1" width="1.7" height="1.7" fill="#22b9e6"/><rect x="160.3" y="667.4" width="1.7" height="1.7" fill="#22b9e6"/><rect x="159.2" y="667.7" width="1.7" height="1.7" fill="#22b9e6"/><rect x="158.5" y="667.7" width="1.7" height="1.7" fill="#22b9e6"/><rect x="156.9" y="668.3" width="1.7" height="1.7" fill="#22b9e6"/><rect x="157.7" y="668.8" width="1.7" height="1.7" fill="#22b9e6"/><rect x="159.4" y="668.1" width="1.7" height="1.7" fill="#22b9e6"/><rect x="157.4" y="668.3" width="1.7" height="1.7" fill="#22b9e6"/><rect x="159.5" y="669.3" width="1.7" height="1.7" fill="#22b9e6"/><rect x="157.5" y="668.5" width="1.7" height="1.7" fill="#22b9e6"/><rect x="159.2" y="669.6" width="1.7" height="1.7" fill="#22b9e6"/><rect x="158.7" y="669.3" width="1.7" height="1.7" fill="#22b9e6"/><rect x="159.6" y="669.2" width="1.7" height="1.7" fill="#22b9e6"/><rect x="158.5" y="670.2" width="1.7" height="1.7" fill="#22b9e6"/><rect x="161.2" y="670.8" width="1.7" height="1.7" fill="#22b9e6"/><rect x="160.9" y="670.8" width="1.7" height="1.7" fill="#22b9e6"/><rect x="158.4" y="670.7" width="1.7" height="1.7" fill="#22b9e6"/><rect x="161.4" y="671.7" width="1.7" height="1.7" fill="#22b9e6"/><rect x="158.8" y="670.9" width="1.7" height="1.7" fill="#22b9e6"/><rect x="159.6" y="672.2" width="1.7" height="1.7" fill="#22b9e6"/><rect x="159.4" y="671.8" width="1.7" height="1.7" fill="#22b9e6"/><rect x="160.4" y="673.1" width="1.7" height="1.7" fill="#22b9e6"/><rect x="158.7" y="672.0" width="1.7" height="1.7" fill="#22b9e6"/><rect x="159.2" y="672.9" width="1.7" height="1.7" fill="#22b9e6"/><rect x="160.7" y="672.8" width="1.7" height="1.7" fill="#22b9e6"/><rect x="161.2" y="673.9" width="1.7" height="1.7" fill="#22b9e6"/><rect x="160.1" y="673.3" width="1.7" height="1.7" fill="#22b9e6"/><rect x="162.0" y="673.8" width="1.7" height="1.7" fill="#22b9e6"/><rect x="161.5" y="673.9" width="1.7" height="1.7" fill="#22b9e6"/><rect x="159.1" y="675.0" width="1.7" height="1.7" fill="#22b9e6"/><rect x="159.5" y="675.6" width="1.7" height="1.7" fill="#22b9e6"/><rect x="160.4" y="674.6" width="1.7" height="1.7" fill="#22b9e6"/><rect x="159.3" y="675.3" width="1.7" height="1.7" fill="#22b9e6"/><rect x="161.2" y="676.4" width="1.7" height="1.7" fill="#22b9e6"/><rect x="159.2" y="675.8" width="1.7" height="1.7" fill="#22b9e6"/><rect x="159.5" y="677.0" width="1.7" height="1.7" fill="#22b9e6"/><rect x="159.3" y="675.8" width="1.7" height="1.7" fill="#22b9e6"/><rect x="159.0" y="676.6" width="1.7" height="1.7" fill="#22b9e6"/><rect x="162.4" y="677.6" width="1.7" height="1.7" fill="#22b9e6"/><rect x="161.8" y="678.1" width="1.7" height="1.7" fill="#22b9e6"/><rect x="162.7" y="677.3" width="1.7" height="1.7" fill="#22b9e6"/><rect x="159.7" y="678.5" width="1.7" height="1.7" fill="#22b9e6"/><rect x="162.1" y="677.4" width="1.7" height="1.7" fill="#22b9e6"/><rect x="161.8" y="678.2" width="1.7" height="1.7" fill="#22b9e6"/><rect x="160.7" y="678.4" width="1.7" height="1.7" fill="#22b9e6"/><rect x="159.9" y="678.1" width="1.7" height="1.7" fill="#22b9e6"/><rect x="160.4" y="679.0" width="1.7" height="1.7" fill="#22b9e6"/><rect x="163.2" y="678.9" width="1.7" height="1.7" fill="#22b9e6"/><rect x="163.3" y="679.3" width="1.7" height="1.7" fill="#22b9e6"/><rect x="160.9" y="680.5" width="1.7" height="1.7" fill="#22b9e6"/>
<rect x="161.0" y="677.9" width="1.7" height="1.7" fill="#22b9e6"/><rect x="158.7" y="678.4" width="1.7" height="1.7" fill="#22b9e6"/><rect x="160.0" y="679.5" width="1.7" height="1.7" fill="#22b9e6"/><rect x="159.6" y="679.1" width="1.7" height="1.7" fill="#22b9e6"/><rect x="162.0" y="679.0" width="1.7" height="1.7" fill="#22b9e6"/><rect x="160.7" y="680.6" width="1.7" height="1.7" fill="#22b9e6"/><rect x="162.0" y="679.8" width="1.7" height="1.7" fill="#22b9e6"/><rect x="159.8" y="680.3" width="1.7" height="1.7" fill="#22b9e6"/><rect x="162.9" y="681.0" width="1.7" height="1.7" fill="#22b9e6"/><rect x="162.5" y="682.5" width="1.7" height="1.7" fill="#22b9e6"/><rect x="161.4" y="681.9" width="1.7" height="1.7" fill="#22b9e6"/><rect x="163.6" y="682.9" width="1.7" height="1.7" fill="#22b9e6"/><rect x="161.5" y="683.5" width="1.7" height="1.7" fill="#22b9e6"/><rect x="161.9" y="683.2" width="1.7" height="1.7" fill="#22b9e6"/><rect x="161.1" y="684.4" width="1.7" height="1.7" fill="#22b9e6"/><rect x="164.2" y="684.6" width="1.7" height="1.7" fill="#22b9e6"/><rect x="164.5" y="684.1" width="1.7" height="1.7" fill="#22b9e6"/><rect x="162.4" y="685.2" width="1.7" height="1.7" fill="#22b9e6"/><rect x="164.9" y="686.4" width="1.7" height="1.7" fill="#22b9e6"/><rect x="163.3" y="685.7" width="1.7" height="1.7" fill="#22b9e6"/><rect x="163.6" y="686.6" width="1.7" height="1.7" fill="#22b9e6"/><rect x="165.4" y="686.5" width="1.7" height="1.7" fill="#22b9e6"/>
<rect x="141.4" y="686" width="3.6" height="4" fill="#1212c8"/>
<rect x="165.6" y="683" width="12.4" height="7" fill="#1212c8"/>
<rect x="168.6" y="683.6" width="6.6" height="6.4" fill="#7a1088"/>
<rect x="167" y="686.4" width="4" height="3.6" fill="#8a0f3c"/>
<rect x="176.2" y="683.2" width="1.8" height="1.8" fill="#1212c8"/><rect x="176.5" y="683.3" width="1.8" height="1.8" fill="#1212c8"/><rect x="173.5" y="682.0" width="1.8" height="1.8" fill="#1212c8"/><rect x="169.5" y="682.1" width="1.8" height="1.8" fill="#1212c8"/><rect x="176.0" y="681.2" width="1.8" height="1.8" fill="#1212c8"/><rect x="167.8" y="683.3" width="1.8" height="1.8" fill="#1212c8"/><rect x="168.5" y="681.2" width="1.8" height="1.8" fill="#1212c8"/><rect x="165.5" y="682.7" width="1.8" height="1.8" fill="#1212c8"/><rect x="169.6" y="683.9" width="1.8" height="1.8" fill="#1212c8"/><rect x="177.4" y="684.0" width="1.8" height="1.8" fill="#1212c8"/><rect x="168.7" y="681.3" width="1.8" height="1.8" fill="#1212c8"/><rect x="166.3" y="682.5" width="1.8" height="1.8" fill="#1212c8"/>
<rect x="172.7" y="682.0" width="1.7" height="1.7" fill="#22b9e6"/><rect x="172.0" y="681.0" width="1.7" height="1.7" fill="#22b9e6"/><rect x="172.6" y="680.2" width="1.7" height="1.7" fill="#22b9e6"/><rect x="172.8" y="679.4" width="1.7" height="1.7" fill="#22b9e6"/><rect x="172.7" y="677.9" width="1.7" height="1.7" fill="#22b9e6"/><rect x="173.0" y="677.1" width="1.7" height="1.7" fill="#22b9e6"/><rect x="172.6" y="676.2" width="1.7" height="1.7" fill="#22b9e6"/><rect x="172.9" y="675.1" width="1.7" height="1.7" fill="#22b9e6"/><rect x="172.2" y="674.2" width="1.7" height="1.7" fill="#22b9e6"/><rect x="172.1" y="673.7" width="1.7" height="1.7" fill="#22b9e6"/><rect x="172.7" y="672.3" width="1.7" height="1.7" fill="#22b9e6"/><rect x="172.5" y="671.9" width="1.7" height="1.7" fill="#22b9e6"/>
<rect x="170.6" y="678.9" width="1.7" height="1.7" fill="#22b9e6"/><rect x="173.3" y="680.6" width="1.7" height="1.7" fill="#22b9e6"/><rect x="174.9" y="678.4" width="1.7" height="1.7" fill="#22b9e6"/><rect x="170.3" y="681.3" width="1.7" height="1.7" fill="#22b9e6"/><rect x="173.6" y="681.7" width="1.7" height="1.7" fill="#22b9e6"/><rect x="166.4" y="679.2" width="1.7" height="1.7" fill="#22b9e6"/><rect x="167.1" y="678.8" width="1.7" height="1.7" fill="#22b9e6"/><rect x="174.8" y="680.3" width="1.7" height="1.7" fill="#22b9e6"/>
<rect x="180.1" y="688.6" width="1.7" height="1.7" fill="#22b9e6"/><rect x="181.4" y="688.6" width="1.7" height="1.7" fill="#22b9e6"/><rect x="182.5" y="688.6" width="1.7" height="1.7" fill="#22b9e6"/><rect x="182.4" y="687.2" width="1.7" height="1.7" fill="#22b9e6"/><rect x="182.4" y="685.9" width="1.7" height="1.7" fill="#22b9e6"/><rect x="182.5" y="684.5" width="1.7" height="1.7" fill="#22b9e6"/><rect x="183.6" y="688.6" width="1.7" height="1.7" fill="#22b9e6"/><rect x="183.8" y="687.2" width="1.7" height="1.7" fill="#22b9e6"/><rect x="183.7" y="685.9" width="1.7" height="1.7" fill="#22b9e6"/><rect x="183.9" y="684.5" width="1.7" height="1.7" fill="#22b9e6"/><rect x="183.6" y="683.2" width="1.7" height="1.7" fill="#22b9e6"/><rect x="183.7" y="681.8" width="1.7" height="1.7" fill="#22b9e6"/><rect x="183.8" y="680.5" width="1.7" height="1.7" fill="#22b9e6"/><rect x="183.6" y="679.1" width="1.7" height="1.7" fill="#22b9e6"/><rect x="184.9" y="688.6" width="1.7" height="1.7" fill="#22b9e6"/><rect x="185.2" y="687.2" width="1.7" height="1.7" fill="#22b9e6"/><rect x="185.0" y="685.9" width="1.7" height="1.7" fill="#22b9e6"/><rect x="185.0" y="684.5" width="1.7" height="1.7" fill="#22b9e6"/><rect x="184.9" y="680.5" width="1.7" height="1.7" fill="#22b9e6"/><rect x="184.9" y="679.1" width="1.7" height="1.7" fill="#22b9e6"/><rect x="185.2" y="677.8" width="1.7" height="1.7" fill="#22b9e6"/><rect x="185.1" y="676.4" width="1.7" height="1.7" fill="#22b9e6"/><rect x="186.1" y="687.2" width="1.7" height="1.7" fill="#22b9e6"/><rect x="186.3" y="685.9" width="1.7" height="1.7" fill="#22b9e6"/><rect x="186.4" y="684.5" width="1.7" height="1.7" fill="#22b9e6"/><rect x="186.3" y="683.2" width="1.7" height="1.7" fill="#22b9e6"/><rect x="186.3" y="681.8" width="1.7" height="1.7" fill="#22b9e6"/><rect x="187.5" y="688.6" width="1.7" height="1.7" fill="#22b9e6"/><rect x="187.5" y="685.9" width="1.7" height="1.7" fill="#22b9e6"/><rect x="188.6" y="687.2" width="1.7" height="1.7" fill="#22b9e6"/>
<rect x="199.9" y="688.6" width="1.7" height="1.7" fill="#22b9e6"/><rect x="201.1" y="687.2" width="1.7" height="1.7" fill="#22b9e6"/><rect x="202.1" y="688.6" width="1.7" height="1.7" fill="#22b9e6"/><rect x="202.4" y="687.2" width="1.7" height="1.7" fill="#22b9e6"/><rect x="203.5" y="688.6" width="1.7" height="1.7" fill="#22b9e6"/><rect x="203.5" y="687.2" width="1.7" height="1.7" fill="#22b9e6"/><rect x="203.4" y="685.9" width="1.7" height="1.7" fill="#22b9e6"/><rect x="203.7" y="684.5" width="1.7" height="1.7" fill="#22b9e6"/><rect x="204.9" y="688.6" width="1.7" height="1.7" fill="#22b9e6"/><rect x="204.9" y="687.2" width="1.7" height="1.7" fill="#22b9e6"/><rect x="204.8" y="685.9" width="1.7" height="1.7" fill="#22b9e6"/><rect x="204.8" y="684.5" width="1.7" height="1.7" fill="#22b9e6"/><rect x="204.7" y="683.2" width="1.7" height="1.7" fill="#22b9e6"/><rect x="206.1" y="688.6" width="1.7" height="1.7" fill="#22b9e6"/><rect x="206.0" y="687.2" width="1.7" height="1.7" fill="#22b9e6"/><rect x="206.0" y="685.9" width="1.7" height="1.7" fill="#22b9e6"/><rect x="205.9" y="684.5" width="1.7" height="1.7" fill="#22b9e6"/><rect x="206.1" y="683.2" width="1.7" height="1.7" fill="#22b9e6"/><rect x="205.9" y="681.8" width="1.7" height="1.7" fill="#22b9e6"/><rect x="207.1" y="688.6" width="1.7" height="1.7" fill="#22b9e6"/><rect x="207.1" y="687.2" width="1.7" height="1.7" fill="#22b9e6"/><rect x="207.3" y="685.9" width="1.7" height="1.7" fill="#22b9e6"/><rect x="207.3" y="684.5" width="1.7" height="1.7" fill="#22b9e6"/><rect x="208.6" y="688.6" width="1.7" height="1.7" fill="#22b9e6"/><rect x="208.3" y="687.2" width="1.7" height="1.7" fill="#22b9e6"/><rect x="209.9" y="688.6" width="1.7" height="1.7" fill="#22b9e6"/><rect x="209.9" y="687.2" width="1.7" height="1.7" fill="#22b9e6"/><rect x="211.1" y="688.6" width="1.7" height="1.7" fill="#22b9e6"/>
<rect x="190.4" y="682.4" width="4.6" height="3.6" fill="#1a36d8"/>
<rect x="190.4" y="686" width="4.6" height="4" fill="#e0502a"/>
<rect x="191.9" y="682.4" width="1.7" height="1.7" fill="#22b9e6"/><rect x="192.4" y="681.2" width="1.7" height="1.7" fill="#22b9e6"/><rect x="193.1" y="679.3" width="1.7" height="1.7" fill="#22b9e6"/><rect x="193.0" y="678.7" width="1.7" height="1.7" fill="#22b9e6"/><rect x="191.9" y="677.1" width="1.7" height="1.7" fill="#22b9e6"/><rect x="193.0" y="675.7" width="1.7" height="1.7" fill="#22b9e6"/>
<rect x="195.6" y="688.0" width="1.6" height="1.6" fill="#22b9e6"/><rect x="196.8" y="689.0" width="1.6" height="1.6" fill="#22b9e6"/>
<rect x="225.4" y="688.2" width="1.6" height="1.6" fill="#22b9e6"/><rect x="226.6" y="687.4" width="1.6" height="1.6" fill="#22b9e6"/><rect x="226.4" y="688.6" width="1.6" height="1.6" fill="#22b9e6"/>
<rect x="236.6" y="688.6" width="1.7" height="1.7" fill="#22b9e6"/><rect x="237.9" y="688.6" width="1.7" height="1.7" fill="#22b9e6"/><rect x="239.0" y="688.6" width="1.7" height="1.7" fill="#22b9e6"/><rect x="238.8" y="687.2" width="1.7" height="1.7" fill="#22b9e6"/><rect x="238.9" y="685.9" width="1.7" height="1.7" fill="#22b9e6"/><rect x="240.4" y="688.6" width="1.7" height="1.7" fill="#22b9e6"/><rect x="240.4" y="687.2" width="1.7" height="1.7" fill="#22b9e6"/><rect x="240.3" y="685.9" width="1.7" height="1.7" fill="#22b9e6"/><rect x="240.2" y="684.5" width="1.7" height="1.7" fill="#22b9e6"/><rect x="241.7" y="688.6" width="1.7" height="1.7" fill="#22b9e6"/><rect x="241.7" y="687.2" width="1.7" height="1.7" fill="#22b9e6"/><rect x="241.5" y="685.9" width="1.7" height="1.7" fill="#22b9e6"/><rect x="241.4" y="684.5" width="1.7" height="1.7" fill="#22b9e6"/><rect x="241.4" y="681.8" width="1.7" height="1.7" fill="#22b9e6"/><rect x="242.6" y="688.6" width="1.7" height="1.7" fill="#22b9e6"/><rect x="242.6" y="687.2" width="1.7" height="1.7" fill="#22b9e6"/><rect x="242.8" y="684.5" width="1.7" height="1.7" fill="#22b9e6"/><rect x="242.8" y="681.8" width="1.7" height="1.7" fill="#22b9e6"/><rect x="242.6" y="680.5" width="1.7" height="1.7" fill="#22b9e6"/><rect x="242.6" y="679.1" width="1.7" height="1.7" fill="#22b9e6"/><rect x="244.0" y="688.6" width="1.7" height="1.7" fill="#22b9e6"/><rect x="243.9" y="685.9" width="1.7" height="1.7" fill="#22b9e6"/><rect x="243.8" y="684.5" width="1.7" height="1.7" fill="#22b9e6"/><rect x="243.9" y="683.2" width="1.7" height="1.7" fill="#22b9e6"/><rect x="243.9" y="681.8" width="1.7" height="1.7" fill="#22b9e6"/><rect x="244.0" y="680.5" width="1.7" height="1.7" fill="#22b9e6"/><rect x="243.9" y="679.1" width="1.7" height="1.7" fill="#22b9e6"/><rect x="244.0" y="677.8" width="1.7" height="1.7" fill="#22b9e6"/><rect x="245.1" y="687.2" width="1.7" height="1.7" fill="#22b9e6"/><rect x="245.3" y="685.9" width="1.7" height="1.7" fill="#22b9e6"/><rect x="245.2" y="683.2" width="1.7" height="1.7" fill="#22b9e6"/><rect x="245.1" y="681.8" width="1.7" height="1.7" fill="#22b9e6"/><rect x="246.4" y="688.6" width="1.7" height="1.7" fill="#22b9e6"/><rect x="246.5" y="687.2" width="1.7" height="1.7" fill="#22b9e6"/><rect x="246.4" y="684.5" width="1.7" height="1.7" fill="#22b9e6"/><rect x="247.7" y="688.6" width="1.7" height="1.7" fill="#22b9e6"/><rect x="247.6" y="687.2" width="1.7" height="1.7" fill="#22b9e6"/><rect x="247.6" y="685.9" width="1.7" height="1.7" fill="#22b9e6"/><rect x="248.9" y="687.2" width="1.7" height="1.7" fill="#22b9e6"/><rect x="250.3" y="688.6" width="1.7" height="1.7" fill="#22b9e6"/>
<rect x="255.3" y="688.6" width="1.7" height="1.7" fill="#22b9e6"/><rect x="256.8" y="688.6" width="1.7" height="1.7" fill="#22b9e6"/><rect x="256.9" y="687.2" width="1.7" height="1.7" fill="#22b9e6"/><rect x="258.1" y="688.6" width="1.7" height="1.7" fill="#22b9e6"/><rect x="257.9" y="687.2" width="1.7" height="1.7" fill="#22b9e6"/><rect x="259.1" y="688.6" width="1.7" height="1.7" fill="#22b9e6"/><rect x="260.6" y="688.6" width="1.7" height="1.7" fill="#22b9e6"/>
<rect x="262.6" y="688.6" width="1.7" height="1.7" fill="#1b84e8"/><rect x="263.8" y="688.6" width="1.7" height="1.7" fill="#1b84e8"/><rect x="265.2" y="688.6" width="1.7" height="1.7" fill="#1b84e8"/><rect x="264.9" y="687.2" width="1.7" height="1.7" fill="#1b84e8"/><rect x="266.4" y="688.6" width="1.7" height="1.7" fill="#1b84e8"/><rect x="266.2" y="687.2" width="1.7" height="1.7" fill="#1b84e8"/><rect x="267.4" y="688.6" width="1.7" height="1.7" fill="#1b84e8"/><rect x="268.8" y="688.6" width="1.7" height="1.7" fill="#1b84e8"/><rect x="270.1" y="688.6" width="1.7" height="1.7" fill="#1b84e8"/>
<rect x="259.4" y="688.6" width="1.7" height="1.7" fill="#22b9e6"/><rect x="260.6" y="688.6" width="1.7" height="1.7" fill="#22b9e6"/>
</g>
<rect x="83.5" y="521.5" width="392" height="170" fill="none" stroke="#000" stroke-width="1"/>
<rect x="80" y="605" width="396" height="1" fill="#000"/>
<rect x="83.24" y="692" width="1" height="4" fill="#000"/>
<rect x="94.10" y="692" width="1" height="8" fill="#000"/>
<rect x="104.95" y="692" width="1" height="4" fill="#000"/>
<rect x="115.81" y="692" width="1" height="4" fill="#000"/>
<rect x="126.66" y="692" width="1" height="4" fill="#000"/>
<rect x="137.52" y="692" width="1" height="4" fill="#000"/>
<rect x="148.38" y="692" width="1" height="8" fill="#000"/>
<rect x="159.23" y="692" width="1" height="4" fill="#000"/>
<rect x="170.08" y="692" width="1" height="4" fill="#000"/>
<rect x="180.94" y="692" width="1" height="4" fill="#000"/>
<rect x="191.80" y="692" width="1" height="4" fill="#000"/>
<rect x="202.65" y="692" width="1" height="8" fill="#000"/>
<rect x="213.50" y="692" width="1" height="4" fill="#000"/>
<rect x="224.36" y="692" width="1" height="4" fill="#000"/>
<rect x="235.22" y="692" width="1" height="4" fill="#000"/>
<rect x="246.07" y="692" width="1" height="4" fill="#000"/>
<rect x="256.93" y="692" width="1" height="8" fill="#000"/>
<rect x="267.78" y="692" width="1" height="4" fill="#000"/>
<rect x="278.63" y="692" width="1" height="4" fill="#000"/>
<rect x="289.49" y="692" width="1" height="4" fill="#000"/>
<rect x="300.35" y="692" width="1" height="4" fill="#000"/>
<rect x="311.20" y="692" width="1" height="8" fill="#000"/>
<rect x="322.06" y="692" width="1" height="4" fill="#000"/>
<rect x="332.91" y="692" width="1" height="4" fill="#000"/>
<rect x="343.76" y="692" width="1" height="4" fill="#000"/>
<rect x="354.62" y="692" width="1" height="4" fill="#000"/>
<rect x="365.48" y="692" width="1" height="8" fill="#000"/>
<rect x="376.33" y="692" width="1" height="4" fill="#000"/>
<rect x="387.19" y="692" width="1" height="4" fill="#000"/>
<rect x="398.04" y="692" width="1" height="4" fill="#000"/>
<rect x="408.89" y="692" width="1" height="4" fill="#000"/>
<rect x="419.75" y="692" width="1" height="8" fill="#000"/>
<rect x="430.61" y="692" width="1" height="4" fill="#000"/>
<rect x="441.46" y="692" width="1" height="4" fill="#000"/>
<rect x="452.32" y="692" width="1" height="4" fill="#000"/>
<rect x="463.17" y="692" width="1" height="4" fill="#000"/>
<clipPath id="x2"><rect x="82.5" y="700" width="400" height="20"/></clipPath><g clip-path="url(#x2)">
<text x="93.90" y="713.20" font-size="12" fill="#1a1a1a" text-anchor="middle" textLength="30.94" lengthAdjust="spacingAndGlyphs">0.600</text>
<text x="148.17" y="713.20" font-size="12" fill="#1a1a1a" text-anchor="middle" textLength="30.94" lengthAdjust="spacingAndGlyphs">0.700</text>
<text x="202.44" y="713.20" font-size="12" fill="#1a1a1a" text-anchor="middle" textLength="30.94" lengthAdjust="spacingAndGlyphs">0.800</text>
<text x="256.71" y="713.20" font-size="12" fill="#1a1a1a" text-anchor="middle" textLength="30.94" lengthAdjust="spacingAndGlyphs">0.900</text>
<text x="310.98" y="713.20" font-size="12" fill="#1a1a1a" text-anchor="middle" textLength="30.94" lengthAdjust="spacingAndGlyphs">1.000</text>
<text x="365.25" y="713.20" font-size="12" fill="#1a1a1a" text-anchor="middle" textLength="30.94" lengthAdjust="spacingAndGlyphs">1.100</text>
<text x="419.52" y="713.20" font-size="12" fill="#1a1a1a" text-anchor="middle" textLength="30.94" lengthAdjust="spacingAndGlyphs">1.200</text>
</g>
<text x="277.80" y="732.20" font-size="12" fill="#1a1a1a" text-anchor="middle" textLength="55.40" lengthAdjust="spacingAndGlyphs">LabNTKon</text>
<text x="23.70" y="717.80" font-size="12" fill="#111" text-anchor="start" textLength="30.70" lengthAdjust="spacingAndGlyphs">0.513</text>
<text x="23.70" y="731.90" font-size="12" fill="#666" text-anchor="start" textLength="23.40" lengthAdjust="spacingAndGlyphs">5.07</text>
<rect x="84" y="758" width="1" height="165" fill="#000"/>
<rect x="76" y="760.10" width="8" height="1" fill="#000"/>
<rect x="81" y="766.50" width="3" height="1" fill="#000"/>
<rect x="81" y="772.90" width="3" height="1" fill="#000"/>
<rect x="81" y="779.30" width="3" height="1" fill="#000"/>
<rect x="81" y="785.70" width="3" height="1" fill="#000"/>
<rect x="76" y="792.10" width="8" height="1" fill="#000"/>
<rect x="81" y="798.50" width="3" height="1" fill="#000"/>
<rect x="81" y="804.90" width="3" height="1" fill="#000"/>
<rect x="81" y="811.30" width="3" height="1" fill="#000"/>
<rect x="81" y="817.70" width="3" height="1" fill="#000"/>
<rect x="76" y="824.10" width="8" height="1" fill="#000"/>
<rect x="81" y="830.50" width="3" height="1" fill="#000"/>
<rect x="81" y="836.90" width="3" height="1" fill="#000"/>
<rect x="81" y="843.30" width="3" height="1" fill="#000"/>
<rect x="81" y="849.70" width="3" height="1" fill="#000"/>
<rect x="76" y="856.10" width="8" height="1" fill="#000"/>
<rect x="81" y="862.50" width="3" height="1" fill="#000"/>
<rect x="81" y="868.90" width="3" height="1" fill="#000"/>
<rect x="81" y="875.30" width="3" height="1" fill="#000"/>
<rect x="81" y="881.70" width="3" height="1" fill="#000"/>
<rect x="76" y="888.10" width="8" height="1" fill="#000"/>
<rect x="81" y="894.50" width="3" height="1" fill="#000"/>
<rect x="81" y="900.90" width="3" height="1" fill="#000"/>
<rect x="81" y="907.30" width="3" height="1" fill="#000"/>
<rect x="81" y="913.70" width="3" height="1" fill="#000"/>
<rect x="76" y="920.10" width="8" height="1" fill="#000"/>
<clipPath id="c3"><rect x="4" y="758.6" width="480" height="215"/></clipPath><g clip-path="url(#c3)">
<text x="69.60" y="765.20" font-size="12" fill="#6e6e6e" text-anchor="end" textLength="23.95" lengthAdjust="spacingAndGlyphs">0.00</text>
<text x="69.60" y="797.15" font-size="12" fill="#6e6e6e" text-anchor="end" textLength="28.04" lengthAdjust="spacingAndGlyphs">-2.00</text>
<text x="69.60" y="829.10" font-size="12" fill="#6e6e6e" text-anchor="end" textLength="28.04" lengthAdjust="spacingAndGlyphs">-4.00</text>
<text x="69.60" y="861.05" font-size="12" fill="#6e6e6e" text-anchor="end" textLength="28.04" lengthAdjust="spacingAndGlyphs">-6.00</text>
<text x="69.60" y="893.00" font-size="12" fill="#6e6e6e" text-anchor="end" textLength="28.04" lengthAdjust="spacingAndGlyphs">-8.00</text>
<text x="69.60" y="924.95" font-size="12" fill="#6e6e6e" text-anchor="end" textLength="34.89" lengthAdjust="spacingAndGlyphs">-10.00</text>
</g>
<text transform="translate(25.20,841.40) rotate(-90)" font-size="12" fill="#6e6e6e" text-anchor="middle" textLength="82.00" lengthAdjust="spacingAndGlyphs">LambdaLabError</text>
<clipPath id="p3"><rect x="87.5" y="760.5" width="388" height="161"/></clipPath><g clip-path="url(#p3)">
<rect x="87.3" y="776.6" width="1.75" height="1.75" fill="#22b9e6"/><rect x="88.2" y="777.6" width="1.75" height="1.75" fill="#22b9e6"/><rect x="88.0" y="778.9" width="1.75" height="1.75" fill="#22b9e6"/><rect x="88.0" y="780.0" width="1.75" height="1.75" fill="#22b9e6"/><rect x="88.8" y="781.4" width="1.75" height="1.75" fill="#22b9e6"/><rect x="88.5" y="782.0" width="1.75" height="1.75" fill="#22b9e6"/><rect x="88.8" y="783.8" width="1.75" height="1.75" fill="#22b9e6"/><rect x="89.9" y="784.0" width="1.75" height="1.75" fill="#22b9e6"/><rect x="90.5" y="786.2" width="1.75" height="1.75" fill="#22b9e6"/><rect x="90.5" y="787.0" width="1.75" height="1.75" fill="#22b9e6"/><rect x="90.2" y="787.4" width="1.75" height="1.75" fill="#22b9e6"/><rect x="91.0" y="788.6" width="1.75" height="1.75" fill="#22b9e6"/><rect x="90.9" y="790.0" width="1.75" height="1.75" fill="#22b9e6"/><rect x="91.0" y="791.4" width="1.75" height="1.75" fill="#22b9e6"/><rect x="91.8" y="793.0" width="1.75" height="1.75" fill="#22b9e6"/><rect x="92.2" y="793.9" width="1.75" height="1.75" fill="#22b9e6"/>
<rect x="92.2" y="793.9" width="1.75" height="1.75" fill="#22b9e6"/><rect x="92.6" y="794.6" width="1.75" height="1.75" fill="#22b9e6"/><rect x="93.6" y="796.6" width="1.75" height="1.75" fill="#22b9e6"/><rect x="93.9" y="797.4" width="1.75" height="1.75" fill="#22b9e6"/><rect x="93.7" y="797.9" width="1.75" height="1.75" fill="#22b9e6"/><rect x="94.1" y="798.9" width="1.75" height="1.75" fill="#22b9e6"/><rect x="95.1" y="800.4" width="1.75" height="1.75" fill="#22b9e6"/><rect x="95.6" y="801.5" width="1.75" height="1.75" fill="#22b9e6"/><rect x="96.1" y="803.2" width="1.75" height="1.75" fill="#22b9e6"/><rect x="95.4" y="803.6" width="1.75" height="1.75" fill="#22b9e6"/><rect x="96.9" y="805.0" width="1.75" height="1.75" fill="#22b9e6"/><rect x="97.4" y="806.1" width="1.75" height="1.75" fill="#22b9e6"/><rect x="96.8" y="807.5" width="1.75" height="1.75" fill="#22b9e6"/><rect x="98.0" y="808.2" width="1.75" height="1.75" fill="#22b9e6"/><rect x="97.6" y="809.4" width="1.75" height="1.75" fill="#22b9e6"/><rect x="99.1" y="811.0" width="1.75" height="1.75" fill="#22b9e6"/><rect x="98.5" y="811.6" width="1.75" height="1.75" fill="#22b9e6"/><rect x="98.9" y="812.5" width="1.75" height="1.75" fill="#22b9e6"/>
<rect x="103.0" y="797.0" width="1.75" height="1.75" fill="#22b9e6"/><rect x="101.1" y="801.6" width="1.75" height="1.75" fill="#22b9e6"/><rect x="98.1" y="806.4" width="1.75" height="1.75" fill="#22b9e6"/><rect x="97.6" y="804.9" width="1.75" height="1.75" fill="#22b9e6"/><rect x="97.5" y="801.2" width="1.75" height="1.75" fill="#22b9e6"/><rect x="98.3" y="798.6" width="1.75" height="1.75" fill="#22b9e6"/><rect x="104.4" y="807.7" width="1.75" height="1.75" fill="#22b9e6"/><rect x="99.0" y="809.0" width="1.75" height="1.75" fill="#22b9e6"/><rect x="98.3" y="800.7" width="1.75" height="1.75" fill="#22b9e6"/><rect x="103.4" y="804.9" width="1.75" height="1.75" fill="#22b9e6"/><rect x="97.4" y="810.8" width="1.75" height="1.75" fill="#22b9e6"/><rect x="98.3" y="798.4" width="1.75" height="1.75" fill="#22b9e6"/><rect x="102.8" y="799.6" width="1.75" height="1.75" fill="#22b9e6"/><rect x="99.0" y="795.2" width="1.75" height="1.75" fill="#22b9e6"/><rect x="97.3" y="803.9" width="1.75" height="1.75" fill="#22b9e6"/><rect x="98.5" y="804.2" width="1.75" height="1.75" fill="#22b9e6"/><rect x="99.6" y="801.7" width="1.75" height="1.75" fill="#22b9e6"/><rect x="104.3" y="802.2" width="1.75" height="1.75" fill="#22b9e6"/><rect x="101.2" y="808.7" width="1.75" height="1.75" fill="#22b9e6"/><rect x="98.1" y="796.6" width="1.75" height="1.75" fill="#22b9e6"/><rect x="103.9" y="807.9" width="1.75" height="1.75" fill="#22b9e6"/><rect x="98.6" y="797.2" width="1.75" height="1.75" fill="#22b9e6"/><rect x="102.5" y="810.0" width="1.75" height="1.75" fill="#22b9e6"/><rect x="98.2" y="810.2" width="1.75" height="1.75" fill="#22b9e6"/><rect x="103.7" y="804.3" width="1.75" height="1.75" fill="#22b9e6"/><rect x="100.0" y="795.8" width="1.75" height="1.75" fill="#22b9e6"/><rect x="96.9" y="810.4" width="1.75" height="1.75" fill="#22b9e6"/><rect x="98.5" y="806.0" width="1.75" height="1.75" fill="#22b9e6"/><rect x="98.7" y="808.0" width="1.75" height="1.75" fill="#22b9e6"/><rect x="101.4" y="799.0" width="1.75" height="1.75" fill="#22b9e6"/><rect x="98.0" y="806.2" width="1.75" height="1.75" fill="#22b9e6"/><rect x="97.2" y="797.9" width="1.75" height="1.75" fill="#22b9e6"/><rect x="101.1" y="808.5" width="1.75" height="1.75" fill="#22b9e6"/><rect x="101.5" y="798.8" width="1.75" height="1.75" fill="#22b9e6"/><rect x="103.9" y="797.5" width="1.75" height="1.75" fill="#22b9e6"/><rect x="96.7" y="798.6" width="1.75" height="1.75" fill="#22b9e6"/><rect x="100.2" y="795.0" width="1.75" height="1.75" fill="#22b9e6"/><rect x="98.0" y="800.3" width="1.75" height="1.75" fill="#22b9e6"/><rect x="101.2" y="796.2" width="1.75" height="1.75" fill="#22b9e6"/><rect x="99.5" y="809.1" width="1.75" height="1.75" fill="#22b9e6"/><rect x="104.4" y="805.2" width="1.75" height="1.75" fill="#22b9e6"/><rect x="102.1" y="803.9" width="1.75" height="1.75" fill="#22b9e6"/><rect x="97.7" y="794.6" width="1.75" height="1.75" fill="#22b9e6"/><rect x="96.7" y="809.5" width="1.75" height="1.75" fill="#22b9e6"/><rect x="102.2" y="810.4" width="1.75" height="1.75" fill="#22b9e6"/><rect x="96.8" y="804.8" width="1.75" height="1.75" fill="#22b9e6"/><rect x="100.5" y="806.4" width="1.75" height="1.75" fill="#22b9e6"/><rect x="99.2" y="811.0" width="1.75" height="1.75" fill="#22b9e6"/>
<rect x="98.0" y="808.0" width="1.75" height="1.75" fill="#22b9e6"/><rect x="99.1" y="809.7" width="1.75" height="1.75" fill="#22b9e6"/><rect x="99.3" y="810.9" width="1.75" height="1.75" fill="#22b9e6"/><rect x="99.5" y="812.4" width="1.75" height="1.75" fill="#22b9e6"/><rect x="99.1" y="813.5" width="1.75" height="1.75" fill="#22b9e6"/><rect x="100.0" y="815.0" width="1.75" height="1.75" fill="#22b9e6"/><rect x="99.5" y="816.3" width="1.75" height="1.75" fill="#22b9e6"/>
<rect x="98.4" y="761" width="6.4" height="1.6" fill="#7a0a86"/>
<rect x="96" y="761" width="10" height="1.2" fill="#22b9e6"/>
<rect x="98.2" y="764.6" width="6.4" height="3.8" fill="#1b84e8"/>
<rect x="102.5" y="769.1" width="1.75" height="1.75" fill="#22b9e6"/><rect x="102.1" y="770.1" width="1.75" height="1.75" fill="#22b9e6"/><rect x="102.1" y="771.7" width="1.75" height="1.75" fill="#22b9e6"/><rect x="101.3" y="773.0" width="1.75" height="1.75" fill="#22b9e6"/><rect x="103.0" y="774.5" width="1.75" height="1.75" fill="#22b9e6"/><rect x="102.6" y="775.2" width="1.75" height="1.75" fill="#22b9e6"/><rect x="102.7" y="776.7" width="1.75" height="1.75" fill="#22b9e6"/><rect x="102.2" y="778.2" width="1.75" height="1.75" fill="#22b9e6"/><rect x="101.6" y="779.4" width="1.75" height="1.75" fill="#22b9e6"/><rect x="101.6" y="780.5" width="1.75" height="1.75" fill="#22b9e6"/><rect x="102.5" y="781.3" width="1.75" height="1.75" fill="#22b9e6"/><rect x="103.0" y="782.9" width="1.75" height="1.75" fill="#22b9e6"/><rect x="102.9" y="784.7" width="1.75" height="1.75" fill="#22b9e6"/><rect x="102.3" y="784.8" width="1.75" height="1.75" fill="#22b9e6"/><rect x="102.5" y="786.9" width="1.75" height="1.75" fill="#22b9e6"/><rect x="102.4" y="787.6" width="1.75" height="1.75" fill="#22b9e6"/><rect x="103.7" y="789.4" width="1.75" height="1.75" fill="#22b9e6"/><rect x="102.9" y="790.9" width="1.75" height="1.75" fill="#22b9e6"/><rect x="102.8" y="791.9" width="1.75" height="1.75" fill="#22b9e6"/><rect x="102.7" y="792.9" width="1.75" height="1.75" fill="#22b9e6"/>
<rect x="105.0" y="778.5" width="1.75" height="1.75" fill="#22b9e6"/><rect x="105.4" y="779.1" width="1.75" height="1.75" fill="#22b9e6"/><rect x="105.4" y="780.2" width="1.75" height="1.75" fill="#22b9e6"/><rect x="105.2" y="781.6" width="1.75" height="1.75" fill="#22b9e6"/><rect x="106.4" y="783.2" width="1.75" height="1.75" fill="#22b9e6"/><rect x="106.7" y="784.5" width="1.75" height="1.75" fill="#22b9e6"/><rect x="106.5" y="784.8" width="1.75" height="1.75" fill="#22b9e6"/><rect x="107.1" y="786.1" width="1.75" height="1.75" fill="#22b9e6"/><rect x="107.1" y="787.5" width="1.75" height="1.75" fill="#22b9e6"/><rect x="108.0" y="788.8" width="1.75" height="1.75" fill="#22b9e6"/><rect x="108.0" y="790.4" width="1.75" height="1.75" fill="#22b9e6"/><rect x="109.1" y="791.1" width="1.75" height="1.75" fill="#22b9e6"/><rect x="108.4" y="791.8" width="1.75" height="1.75" fill="#22b9e6"/><rect x="109.7" y="793.0" width="1.75" height="1.75" fill="#22b9e6"/><rect x="109.9" y="794.9" width="1.75" height="1.75" fill="#22b9e6"/><rect x="109.8" y="796.3" width="1.75" height="1.75" fill="#22b9e6"/>
<rect x="109.4" y="795.6" width="1.75" height="1.75" fill="#22b9e6"/><rect x="110.4" y="796.7" width="1.75" height="1.75" fill="#22b9e6"/><rect x="111.2" y="798.3" width="1.75" height="1.75" fill="#22b9e6"/><rect x="110.8" y="799.4" width="1.75" height="1.75" fill="#22b9e6"/><rect x="111.8" y="801.1" width="1.75" height="1.75" fill="#22b9e6"/><rect x="112.2" y="802.7" width="1.75" height="1.75" fill="#22b9e6"/><rect x="112.8" y="804.4" width="1.75" height="1.75" fill="#22b9e6"/><rect x="113.1" y="804.7" width="1.75" height="1.75" fill="#22b9e6"/><rect x="113.3" y="806.0" width="1.75" height="1.75" fill="#22b9e6"/><rect x="113.1" y="807.7" width="1.75" height="1.75" fill="#22b9e6"/><rect x="114.4" y="808.6" width="1.75" height="1.75" fill="#22b9e6"/><rect x="114.3" y="810.1" width="1.75" height="1.75" fill="#22b9e6"/><rect x="115.2" y="811.6" width="1.75" height="1.75" fill="#22b9e6"/><rect x="115.5" y="813.2" width="1.75" height="1.75" fill="#22b9e6"/><rect x="115.7" y="814.6" width="1.75" height="1.75" fill="#22b9e6"/><rect x="116.7" y="815.0" width="1.75" height="1.75" fill="#22b9e6"/>
<rect x="125.3" y="827.7" width="1.75" height="1.75" fill="#22b9e6"/><rect x="116.4" y="822.6" width="1.75" height="1.75" fill="#22b9e6"/><rect x="121.9" y="831.3" width="1.75" height="1.75" fill="#22b9e6"/><rect x="119.1" y="824.8" width="1.75" height="1.75" fill="#22b9e6"/><rect x="124.7" y="829.1" width="1.75" height="1.75" fill="#22b9e6"/><rect x="125.4" y="822.8" width="1.75" height="1.75" fill="#22b9e6"/><rect x="122.2" y="817.9" width="1.75" height="1.75" fill="#22b9e6"/><rect x="122.9" y="829.5" width="1.75" height="1.75" fill="#22b9e6"/><rect x="122.1" y="827.6" width="1.75" height="1.75" fill="#22b9e6"/><rect x="117.3" y="831.1" width="1.75" height="1.75" fill="#22b9e6"/><rect x="125.8" y="832.6" width="1.75" height="1.75" fill="#22b9e6"/><rect x="120.9" y="829.0" width="1.75" height="1.75" fill="#22b9e6"/><rect x="118.5" y="831.3" width="1.75" height="1.75" fill="#22b9e6"/><rect x="124.4" y="820.6" width="1.75" height="1.75" fill="#22b9e6"/><rect x="115.9" y="822.4" width="1.75" height="1.75" fill="#22b9e6"/><rect x="121.1" y="828.6" width="1.75" height="1.75" fill="#22b9e6"/><rect x="120.4" y="814.5" width="1.75" height="1.75" fill="#22b9e6"/><rect x="123.9" y="815.2" width="1.75" height="1.75" fill="#22b9e6"/><rect x="123.8" y="817.3" width="1.75" height="1.75" fill="#22b9e6"/><rect x="118.7" y="829.0" width="1.75" height="1.75" fill="#22b9e6"/><rect x="116.5" y="816.8" width="1.75" height="1.75" fill="#22b9e6"/><rect x="120.7" y="827.7" width="1.75" height="1.75" fill="#22b9e6"/><rect x="124.2" y="827.1" width="1.75" height="1.75" fill="#22b9e6"/><rect x="125.4" y="823.4" width="1.75" height="1.75" fill="#22b9e6"/><rect x="125.4" y="815.6" width="1.75" height="1.75" fill="#22b9e6"/><rect x="117.4" y="824.0" width="1.75" height="1.75" fill="#22b9e6"/><rect x="118.2" y="827.8" width="1.75" height="1.75" fill="#22b9e6"/><rect x="122.0" y="823.9" width="1.75" height="1.75" fill="#22b9e6"/><rect x="124.3" y="824.6" width="1.75" height="1.75" fill="#22b9e6"/><rect x="118.4" y="821.2" width="1.75" height="1.75" fill="#22b9e6"/><rect x="124.3" y="831.1" width="1.75" height="1.75" fill="#22b9e6"/><rect x="117.3" y="830.2" width="1.75" height="1.75" fill="#22b9e6"/><rect x="125.7" y="824.0" width="1.75" height="1.75" fill="#22b9e6"/><rect x="121.3" y="817.8" width="1.75" height="1.75" fill="#22b9e6"/><rect x="120.9" y="823.6" width="1.75" height="1.75" fill="#22b9e6"/><rect x="121.7" y="814.5" width="1.75" height="1.75" fill="#22b9e6"/><rect x="125.7" y="823.8" width="1.75" height="1.75" fill="#22b9e6"/><rect x="119.4" y="829.2" width="1.75" height="1.75" fill="#22b9e6"/><rect x="121.2" y="823.3" width="1.75" height="1.75" fill="#22b9e6"/><rect x="122.6" y="815.3" width="1.75" height="1.75" fill="#22b9e6"/><rect x="120.9" y="821.9" width="1.75" height="1.75" fill="#22b9e6"/><rect x="125.5" y="831.5" width="1.75" height="1.75" fill="#22b9e6"/><rect x="118.0" y="823.0" width="1.75" height="1.75" fill="#22b9e6"/><rect x="116.4" y="822.2" width="1.75" height="1.75" fill="#22b9e6"/><rect x="124.0" y="831.1" width="1.75" height="1.75" fill="#22b9e6"/><rect x="120.2" y="820.0" width="1.75" height="1.75" fill="#22b9e6"/><rect x="117.1" y="825.7" width="1.75" height="1.75" fill="#22b9e6"/><rect x="125.2" y="816.5" width="1.75" height="1.75" fill="#22b9e6"/><rect x="123.6" y="814.4" width="1.75" height="1.75" fill="#22b9e6"/><rect x="117.1" y="818.3" width="1.75" height="1.75" fill="#22b9e6"/><rect x="122.6" y="820.1" width="1.75" height="1.75" fill="#22b9e6"/><rect x="118.9" y="825.8" width="1.75" height="1.75" fill="#22b9e6"/><rect x="116.2" y="827.9" width="1.75" height="1.75" fill="#22b9e6"/><rect x="116.4" y="823.7" width="1.75" height="1.75" fill="#22b9e6"/><rect x="117.8" y="817.8" width="1.75" height="1.75" fill="#22b9e6"/><rect x="120.8" y="822.3" width="1.75" height="1.75" fill="#22b9e6"/><rect x="119.1" y="821.9" width="1.75" height="1.75" fill="#22b9e6"/><rect x="120.8" y="817.0" width="1.75" height="1.75" fill="#22b9e6"/><rect x="117.2" y="826.0" width="1.75" height="1.75" fill="#22b9e6"/><rect x="122.0" y="824.1" width="1.75" height="1.75" fill="#22b9e6"/><rect x="124.4" y="825.6" width="1.75" height="1.75" fill="#22b9e6"/><rect x="124.4" y="818.4" width="1.75" height="1.75" fill="#22b9e6"/><rect x="123.1" y="829.4" width="1.75" height="1.75" fill="#22b9e6"/><rect x="124.9" y="820.0" width="1.75" height="1.75" fill="#22b9e6"/><rect x="118.5" y="831.5" width="1.75" height="1.75" fill="#22b9e6"/><rect x="117.4" y="833.0" width="1.75" height="1.75" fill="#22b9e6"/><rect x="124.8" y="816.5" width="1.75" height="1.75" fill="#22b9e6"/><rect x="117.6" y="827.8" width="1.75" height="1.75" fill="#22b9e6"/><rect x="117.9" y="815.8" width="1.75" height="1.75" fill="#22b9e6"/><rect x="124.2" y="822.0" width="1.75" height="1.75" fill="#22b9e6"/><rect x="123.7" y="816.4" width="1.75" height="1.75" fill="#22b9e6"/><rect x="119.4" y="827.0" width="1.75" height="1.75" fill="#22b9e6"/>
<rect x="120.1" y="835.5" width="1.75" height="1.75" fill="#22b9e6"/><rect x="125.2" y="847.9" width="1.75" height="1.75" fill="#22b9e6"/><rect x="127.4" y="834.0" width="1.75" height="1.75" fill="#22b9e6"/><rect x="123.8" y="845.3" width="1.75" height="1.75" fill="#22b9e6"/><rect x="123.8" y="844.0" width="1.75" height="1.75" fill="#22b9e6"/><rect x="121.4" y="833.2" width="1.75" height="1.75" fill="#22b9e6"/><rect x="120.8" y="832.7" width="1.75" height="1.75" fill="#22b9e6"/><rect x="124.2" y="841.0" width="1.75" height="1.75" fill="#22b9e6"/><rect x="124.3" y="834.6" width="1.75" height="1.75" fill="#22b9e6"/><rect x="121.4" y="835.6" width="1.75" height="1.75" fill="#22b9e6"/><rect x="126.4" y="849.3" width="1.75" height="1.75" fill="#22b9e6"/><rect x="127.0" y="833.7" width="1.75" height="1.75" fill="#22b9e6"/><rect x="120.5" y="848.7" width="1.75" height="1.75" fill="#22b9e6"/><rect x="123.5" y="845.4" width="1.75" height="1.75" fill="#22b9e6"/><rect x="122.5" y="840.2" width="1.75" height="1.75" fill="#22b9e6"/><rect x="123.9" y="839.5" width="1.75" height="1.75" fill="#22b9e6"/><rect x="124.6" y="832.2" width="1.75" height="1.75" fill="#22b9e6"/><rect x="125.3" y="846.8" width="1.75" height="1.75" fill="#22b9e6"/><rect x="121.4" y="839.9" width="1.75" height="1.75" fill="#22b9e6"/><rect x="125.6" y="839.1" width="1.75" height="1.75" fill="#22b9e6"/><rect x="121.5" y="834.9" width="1.75" height="1.75" fill="#22b9e6"/><rect x="123.9" y="832.3" width="1.75" height="1.75" fill="#22b9e6"/><rect x="126.8" y="846.0" width="1.75" height="1.75" fill="#22b9e6"/><rect x="125.4" y="847.1" width="1.75" height="1.75" fill="#22b9e6"/><rect x="124.8" y="839.1" width="1.75" height="1.75" fill="#22b9e6"/><rect x="124.6" y="840.8" width="1.75" height="1.75" fill="#22b9e6"/><rect x="127.5" y="846.1" width="1.75" height="1.75" fill="#22b9e6"/><rect x="122.0" y="847.9" width="1.75" height="1.75" fill="#22b9e6"/><rect x="125.7" y="845.6" width="1.75" height="1.75" fill="#22b9e6"/><rect x="126.2" y="839.1" width="1.75" height="1.75" fill="#22b9e6"/><rect x="126.8" y="847.4" width="1.75" height="1.75" fill="#22b9e6"/><rect x="125.3" y="845.4" width="1.75" height="1.75" fill="#22b9e6"/><rect x="125.8" y="839.1" width="1.75" height="1.75" fill="#22b9e6"/><rect x="125.5" y="833.2" width="1.75" height="1.75" fill="#22b9e6"/><rect x="122.6" y="840.2" width="1.75" height="1.75" fill="#22b9e6"/><rect x="120.1" y="838.2" width="1.75" height="1.75" fill="#22b9e6"/><rect x="124.9" y="842.9" width="1.75" height="1.75" fill="#22b9e6"/><rect x="121.8" y="848.5" width="1.75" height="1.75" fill="#22b9e6"/><rect x="125.1" y="837.9" width="1.75" height="1.75" fill="#22b9e6"/><rect x="125.0" y="842.0" width="1.75" height="1.75" fill="#22b9e6"/>
<rect x="117.4" y="763.6" width="5.2" height="5.6" fill="#f2a21e"/>
<rect x="118.8" y="765.4" width="2.4" height="2.2" fill="#fff"/>
<rect x="119.5" y="761.8" width="1.75" height="1.75" fill="#22b9e6"/><rect x="126.0" y="762.3" width="1.75" height="1.75" fill="#22b9e6"/><rect x="121.8" y="762.5" width="1.75" height="1.75" fill="#22b9e6"/><rect x="125.7" y="761.0" width="1.75" height="1.75" fill="#22b9e6"/><rect x="120.6" y="762.5" width="1.75" height="1.75" fill="#22b9e6"/><rect x="115.6" y="761.8" width="1.75" height="1.75" fill="#22b9e6"/><rect x="112.7" y="761.4" width="1.75" height="1.75" fill="#22b9e6"/><rect x="117.3" y="761.2" width="1.75" height="1.75" fill="#22b9e6"/>
<rect x="120.2" y="771.5" width="1.75" height="1.75" fill="#22b9e6"/><rect x="120.8" y="772.6" width="1.75" height="1.75" fill="#22b9e6"/><rect x="121.6" y="774.3" width="1.75" height="1.75" fill="#22b9e6"/><rect x="121.7" y="776.1" width="1.75" height="1.75" fill="#22b9e6"/><rect x="121.4" y="777.0" width="1.75" height="1.75" fill="#22b9e6"/><rect x="121.1" y="779.5" width="1.75" height="1.75" fill="#22b9e6"/><rect x="120.2" y="781.3" width="1.75" height="1.75" fill="#22b9e6"/><rect x="120.5" y="782.4" width="1.75" height="1.75" fill="#22b9e6"/><rect x="120.5" y="784.0" width="1.75" height="1.75" fill="#22b9e6"/><rect x="121.4" y="785.1" width="1.75" height="1.75" fill="#22b9e6"/><rect x="122.1" y="787.2" width="1.75" height="1.75" fill="#22b9e6"/><rect x="121.4" y="789.0" width="1.75" height="1.75" fill="#22b9e6"/><rect x="121.2" y="790.3" width="1.75" height="1.75" fill="#22b9e6"/><rect x="121.7" y="792.3" width="1.75" height="1.75" fill="#22b9e6"/><rect x="121.1" y="794.1" width="1.75" height="1.75" fill="#22b9e6"/><rect x="121.2" y="794.9" width="1.75" height="1.75" fill="#22b9e6"/><rect x="121.2" y="796.5" width="1.75" height="1.75" fill="#22b9e6"/><rect x="121.1" y="799.0" width="1.75" height="1.75" fill="#22b9e6"/><rect x="121.6" y="800.8" width="1.75" height="1.75" fill="#22b9e6"/><rect x="122.3" y="801.4" width="1.75" height="1.75" fill="#22b9e6"/><rect x="122.8" y="804.1" width="1.75" height="1.75" fill="#22b9e6"/><rect x="121.2" y="805.7" width="1.75" height="1.75" fill="#22b9e6"/><rect x="121.9" y="806.8" width="1.75" height="1.75" fill="#22b9e6"/><rect x="123.0" y="808.2" width="1.75" height="1.75" fill="#22b9e6"/><rect x="122.2" y="810.6" width="1.75" height="1.75" fill="#22b9e6"/><rect x="122.7" y="811.7" width="1.75" height="1.75" fill="#22b9e6"/><rect x="123.2" y="813.8" width="1.75" height="1.75" fill="#22b9e6"/><rect x="122.6" y="814.5" width="1.75" height="1.75" fill="#22b9e6"/>
<rect x="131.6" y="763.0" width="1.75" height="1.75" fill="#22b9e6"/><rect x="131.8" y="764.6" width="1.75" height="1.75" fill="#22b9e6"/><rect x="132.6" y="766.6" width="1.75" height="1.75" fill="#22b9e6"/><rect x="133.1" y="769.2" width="1.75" height="1.75" fill="#22b9e6"/><rect x="133.7" y="770.8" width="1.75" height="1.75" fill="#22b9e6"/><rect x="134.3" y="772.9" width="1.75" height="1.75" fill="#22b9e6"/><rect x="135.1" y="775.0" width="1.75" height="1.75" fill="#22b9e6"/>
<rect x="124.5" y="792.0" width="1.75" height="1.75" fill="#22b9e6"/><rect x="124.6" y="792.9" width="1.75" height="1.75" fill="#22b9e6"/><rect x="124.4" y="795.3" width="1.75" height="1.75" fill="#22b9e6"/><rect x="125.6" y="796.7" width="1.75" height="1.75" fill="#22b9e6"/><rect x="125.6" y="798.0" width="1.75" height="1.75" fill="#22b9e6"/><rect x="126.4" y="800.0" width="1.75" height="1.75" fill="#22b9e6"/><rect x="126.8" y="801.8" width="1.75" height="1.75" fill="#22b9e6"/><rect x="127.4" y="802.9" width="1.75" height="1.75" fill="#22b9e6"/><rect x="127.3" y="805.5" width="1.75" height="1.75" fill="#22b9e6"/><rect x="128.6" y="807.1" width="1.75" height="1.75" fill="#22b9e6"/><rect x="128.0" y="807.8" width="1.75" height="1.75" fill="#22b9e6"/><rect x="128.7" y="809.9" width="1.75" height="1.75" fill="#22b9e6"/>
<rect x="129.1" y="809.5" width="1.75" height="1.75" fill="#22b9e6"/><rect x="129.7" y="811.3" width="1.75" height="1.75" fill="#22b9e6"/><rect x="129.7" y="813.8" width="1.75" height="1.75" fill="#22b9e6"/><rect x="130.9" y="815.5" width="1.75" height="1.75" fill="#22b9e6"/><rect x="131.3" y="817.1" width="1.75" height="1.75" fill="#22b9e6"/><rect x="131.8" y="818.7" width="1.75" height="1.75" fill="#22b9e6"/><rect x="133.0" y="821.1" width="1.75" height="1.75" fill="#22b9e6"/><rect x="132.8" y="822.0" width="1.75" height="1.75" fill="#22b9e6"/><rect x="134.3" y="824.4" width="1.75" height="1.75" fill="#22b9e6"/><rect x="134.9" y="825.7" width="1.75" height="1.75" fill="#22b9e6"/>
<rect x="139.9" y="778.5" width="1.75" height="1.75" fill="#22b9e6"/><rect x="145.2" y="780.5" width="1.75" height="1.75" fill="#22b9e6"/><rect x="143.0" y="791.3" width="1.75" height="1.75" fill="#22b9e6"/><rect x="138.5" y="783.6" width="1.75" height="1.75" fill="#22b9e6"/><rect x="144.3" y="790.1" width="1.75" height="1.75" fill="#22b9e6"/><rect x="139.9" y="780.5" width="1.75" height="1.75" fill="#22b9e6"/><rect x="135.3" y="789.3" width="1.75" height="1.75" fill="#22b9e6"/><rect x="135.1" y="775.5" width="1.75" height="1.75" fill="#22b9e6"/><rect x="141.8" y="782.5" width="1.75" height="1.75" fill="#22b9e6"/><rect x="143.5" y="779.2" width="1.75" height="1.75" fill="#22b9e6"/><rect x="144.7" y="775.3" width="1.75" height="1.75" fill="#22b9e6"/><rect x="136.9" y="785.6" width="1.75" height="1.75" fill="#22b9e6"/><rect x="135.1" y="779.3" width="1.75" height="1.75" fill="#22b9e6"/><rect x="144.0" y="786.1" width="1.75" height="1.75" fill="#22b9e6"/><rect x="137.9" y="776.5" width="1.75" height="1.75" fill="#22b9e6"/><rect x="138.9" y="786.7" width="1.75" height="1.75" fill="#22b9e6"/><rect x="139.1" y="776.1" width="1.75" height="1.75" fill="#22b9e6"/><rect x="143.8" y="784.0" width="1.75" height="1.75" fill="#22b9e6"/><rect x="146.7" y="790.4" width="1.75" height="1.75" fill="#22b9e6"/><rect x="146.6" y="781.7" width="1.75" height="1.75" fill="#22b9e6"/><rect x="145.1" y="779.3" width="1.75" height="1.75" fill="#22b9e6"/><rect x="138.4" y="781.0" width="1.75" height="1.75" fill="#22b9e6"/><rect x="146.9" y="789.7" width="1.75" height="1.75" fill="#22b9e6"/><rect x="137.4" y="780.3" width="1.75" height="1.75" fill="#22b9e6"/><rect x="139.0" y="780.4" width="1.75" height="1.75" fill="#22b9e6"/><rect x="139.5" y="780.8" width="1.75" height="1.75" fill="#22b9e6"/><rect x="136.7" y="783.9" width="1.75" height="1.75" fill="#22b9e6"/><rect x="145.0" y="783.5" width="1.75" height="1.75" fill="#22b9e6"/><rect x="145.5" y="783.8" width="1.75" height="1.75" fill="#22b9e6"/><rect x="136.4" y="787.3" width="1.75" height="1.75" fill="#22b9e6"/><rect x="146.2" y="778.9" width="1.75" height="1.75" fill="#22b9e6"/><rect x="134.3" y="783.0" width="1.75" height="1.75" fill="#22b9e6"/><rect x="141.5" y="783.9" width="1.75" height="1.75" fill="#22b9e6"/><rect x="147.3" y="785.4" width="1.75" height="1.75" fill="#22b9e6"/><rect x="145.1" y="775.1" width="1.75" height="1.75" fill="#22b9e6"/><rect x="141.5" y="787.8" width="1.75" height="1.75" fill="#22b9e6"/><rect x="135.2" y="775.4" width="1.75" height="1.75" fill="#22b9e6"/><rect x="144.2" y="789.7" width="1.75" height="1.75" fill="#22b9e6"/><rect x="135.2" y="785.1" width="1.75" height="1.75" fill="#22b9e6"/><rect x="136.0" y="787.1" width="1.75" height="1.75" fill="#22b9e6"/><rect x="143.0" y="778.3" width="1.75" height="1.75" fill="#22b9e6"/><rect x="137.0" y="787.4" width="1.75" height="1.75" fill="#22b9e6"/><rect x="141.2" y="787.4" width="1.75" height="1.75" fill="#22b9e6"/><rect x="139.4" y="779.9" width="1.75" height="1.75" fill="#22b9e6"/><rect x="147.4" y="785.8" width="1.75" height="1.75" fill="#22b9e6"/><rect x="140.8" y="783.4" width="1.75" height="1.75" fill="#22b9e6"/><rect x="143.9" y="786.4" width="1.75" height="1.75" fill="#22b9e6"/><rect x="146.6" y="781.2" width="1.75" height="1.75" fill="#22b9e6"/><rect x="145.4" y="785.7" width="1.75" height="1.75" fill="#22b9e6"/><rect x="145.8" y="788.1" width="1.75" height="1.75" fill="#22b9e6"/><rect x="145.5" y="789.6" width="1.75" height="1.75" fill="#22b9e6"/><rect x="147.2" y="785.2" width="1.75" height="1.75" fill="#22b9e6"/><rect x="141.2" y="786.4" width="1.75" height="1.75" fill="#22b9e6"/><rect x="145.1" y="781.4" width="1.75" height="1.75" fill="#22b9e6"/><rect x="139.8" y="776.6" width="1.75" height="1.75" fill="#22b9e6"/><rect x="144.2" y="791.3" width="1.75" height="1.75" fill="#22b9e6"/><rect x="139.2" y="776.9" width="1.75" height="1.75" fill="#22b9e6"/><rect x="136.8" y="781.4" width="1.75" height="1.75" fill="#22b9e6"/><rect x="138.0" y="791.0" width="1.75" height="1.75" fill="#22b9e6"/><rect x="134.8" y="779.4" width="1.75" height="1.75" fill="#22b9e6"/><rect x="135.6" y="785.3" width="1.75" height="1.75" fill="#22b9e6"/><rect x="144.7" y="777.1" width="1.75" height="1.75" fill="#22b9e6"/>
<rect x="139.5" y="783.2" width="1.75" height="1.75" fill="#22b9e6"/><rect x="143.7" y="786.4" width="1.75" height="1.75" fill="#22b9e6"/><rect x="139.3" y="780.8" width="1.75" height="1.75" fill="#22b9e6"/><rect x="140.5" y="781.5" width="1.75" height="1.75" fill="#22b9e6"/><rect x="140.9" y="785.0" width="1.75" height="1.75" fill="#22b9e6"/><rect x="143.8" y="781.6" width="1.75" height="1.75" fill="#22b9e6"/><rect x="140.5" y="782.0" width="1.75" height="1.75" fill="#22b9e6"/><rect x="140.4" y="785.3" width="1.75" height="1.75" fill="#22b9e6"/><rect x="141.5" y="783.8" width="1.75" height="1.75" fill="#22b9e6"/><rect x="145.5" y="783.4" width="1.75" height="1.75" fill="#22b9e6"/><rect x="141.1" y="786.2" width="1.75" height="1.75" fill="#22b9e6"/><rect x="146.3" y="782.4" width="1.75" height="1.75" fill="#22b9e6"/><rect x="143.4" y="786.7" width="1.75" height="1.75" fill="#22b9e6"/><rect x="142.9" y="781.5" width="1.75" height="1.75" fill="#22b9e6"/><rect x="139.4" y="786.6" width="1.75" height="1.75" fill="#22b9e6"/><rect x="145.4" y="782.7" width="1.75" height="1.75" fill="#22b9e6"/><rect x="143.2" y="783.6" width="1.75" height="1.75" fill="#22b9e6"/><rect x="141.2" y="786.9" width="1.75" height="1.75" fill="#22b9e6"/><rect x="144.3" y="781.7" width="1.75" height="1.75" fill="#22b9e6"/><rect x="139.1" y="783.3" width="1.75" height="1.75" fill="#22b9e6"/><rect x="142.0" y="785.6" width="1.75" height="1.75" fill="#22b9e6"/><rect x="144.7" y="784.2" width="1.75" height="1.75" fill="#22b9e6"/><rect x="140.3" y="781.1" width="1.75" height="1.75" fill="#22b9e6"/><rect x="141.6" y="781.8" width="1.75" height="1.75" fill="#22b9e6"/><rect x="146.0" y="783.6" width="1.75" height="1.75" fill="#22b9e6"/><rect x="144.1" y="787.0" width="1.75" height="1.75" fill="#22b9e6"/>
<rect x="145.2" y="761.6" width="3.2" height="6" fill="#1a56e0"/>
<rect x="145.8" y="762.6" width="2.4" height="3" fill="#1212c8"/>
<rect x="146.2" y="768.0" width="1.75" height="1.75" fill="#22b9e6"/><rect x="146.0" y="769.6" width="1.75" height="1.75" fill="#22b9e6"/><rect x="145.7" y="770.9" width="1.75" height="1.75" fill="#22b9e6"/><rect x="147.0" y="772.2" width="1.75" height="1.75" fill="#22b9e6"/><rect x="145.7" y="772.9" width="1.75" height="1.75" fill="#22b9e6"/><rect x="146.7" y="774.0" width="1.75" height="1.75" fill="#22b9e6"/><rect x="146.2" y="775.7" width="1.75" height="1.75" fill="#22b9e6"/><rect x="146.9" y="777.1" width="1.75" height="1.75" fill="#22b9e6"/>
<rect x="137.6" y="787.8" width="1.75" height="1.75" fill="#22b9e6"/><rect x="137.5" y="789.3" width="1.75" height="1.75" fill="#22b9e6"/><rect x="137.7" y="790.3" width="1.75" height="1.75" fill="#22b9e6"/><rect x="137.5" y="791.9" width="1.75" height="1.75" fill="#22b9e6"/><rect x="137.0" y="793.7" width="1.75" height="1.75" fill="#22b9e6"/><rect x="136.3" y="795.5" width="1.75" height="1.75" fill="#22b9e6"/><rect x="136.5" y="796.2" width="1.75" height="1.75" fill="#22b9e6"/><rect x="136.1" y="797.6" width="1.75" height="1.75" fill="#22b9e6"/><rect x="136.8" y="799.6" width="1.75" height="1.75" fill="#22b9e6"/><rect x="136.5" y="800.9" width="1.75" height="1.75" fill="#22b9e6"/><rect x="136.1" y="802.0" width="1.75" height="1.75" fill="#22b9e6"/><rect x="136.7" y="804.1" width="1.75" height="1.75" fill="#22b9e6"/><rect x="137.3" y="805.1" width="1.75" height="1.75" fill="#22b9e6"/><rect x="135.8" y="806.2" width="1.75" height="1.75" fill="#22b9e6"/><rect x="137.0" y="807.4" width="1.75" height="1.75" fill="#22b9e6"/><rect x="136.8" y="809.1" width="1.75" height="1.75" fill="#22b9e6"/><rect x="135.7" y="811.2" width="1.75" height="1.75" fill="#22b9e6"/><rect x="137.1" y="811.6" width="1.75" height="1.75" fill="#22b9e6"/>
<rect x="135.3" y="816.2" width="1.75" height="1.75" fill="#22b9e6"/><rect x="133.8" y="819.8" width="1.75" height="1.75" fill="#22b9e6"/><rect x="133.3" y="816.9" width="1.75" height="1.75" fill="#22b9e6"/><rect x="133.9" y="821.7" width="1.75" height="1.75" fill="#22b9e6"/><rect x="133.1" y="814.9" width="1.75" height="1.75" fill="#22b9e6"/><rect x="136.0" y="816.8" width="1.75" height="1.75" fill="#22b9e6"/><rect x="137.3" y="820.2" width="1.75" height="1.75" fill="#22b9e6"/><rect x="135.9" y="816.8" width="1.75" height="1.75" fill="#22b9e6"/><rect x="136.5" y="813.3" width="1.75" height="1.75" fill="#22b9e6"/><rect x="132.4" y="813.4" width="1.75" height="1.75" fill="#22b9e6"/><rect x="135.6" y="822.3" width="1.75" height="1.75" fill="#22b9e6"/><rect x="132.6" y="817.8" width="1.75" height="1.75" fill="#22b9e6"/><rect x="136.6" y="820.6" width="1.75" height="1.75" fill="#22b9e6"/><rect x="132.0" y="815.3" width="1.75" height="1.75" fill="#22b9e6"/><rect x="132.5" y="813.8" width="1.75" height="1.75" fill="#22b9e6"/><rect x="134.0" y="813.1" width="1.75" height="1.75" fill="#22b9e6"/><rect x="137.1" y="818.2" width="1.75" height="1.75" fill="#22b9e6"/><rect x="134.6" y="821.4" width="1.75" height="1.75" fill="#22b9e6"/><rect x="136.2" y="823.9" width="1.75" height="1.75" fill="#22b9e6"/><rect x="133.9" y="816.8" width="1.75" height="1.75" fill="#22b9e6"/><rect x="134.0" y="812.2" width="1.75" height="1.75" fill="#22b9e6"/><rect x="133.9" y="822.1" width="1.75" height="1.75" fill="#22b9e6"/><rect x="137.5" y="823.5" width="1.75" height="1.75" fill="#22b9e6"/><rect x="135.5" y="820.8" width="1.75" height="1.75" fill="#22b9e6"/><rect x="131.6" y="816.8" width="1.75" height="1.75" fill="#22b9e6"/><rect x="133.6" y="821.4" width="1.75" height="1.75" fill="#22b9e6"/>
<rect x="134.0" y="825.9" width="1.75" height="1.75" fill="#22b9e6"/><rect x="134.2" y="828.8" width="1.75" height="1.75" fill="#22b9e6"/><rect x="134.3" y="831.1" width="1.75" height="1.75" fill="#22b9e6"/>
<rect x="171.4" y="765.7" width="1.75" height="1.75" fill="#22b9e6"/><rect x="184.3" y="764.5" width="1.75" height="1.75" fill="#22b9e6"/><rect x="174.7" y="764.2" width="1.75" height="1.75" fill="#22b9e6"/><rect x="171.1" y="765.4" width="1.75" height="1.75" fill="#22b9e6"/><rect x="185.8" y="764.3" width="1.75" height="1.75" fill="#22b9e6"/><rect x="181.0" y="766.1" width="1.75" height="1.75" fill="#22b9e6"/><rect x="172.0" y="766.7" width="1.75" height="1.75" fill="#22b9e6"/><rect x="179.5" y="762.5" width="1.75" height="1.75" fill="#22b9e6"/><rect x="170.0" y="762.8" width="1.75" height="1.75" fill="#22b9e6"/><rect x="178.6" y="765.3" width="1.75" height="1.75" fill="#22b9e6"/><rect x="174.3" y="766.6" width="1.75" height="1.75" fill="#22b9e6"/><rect x="174.9" y="764.0" width="1.75" height="1.75" fill="#22b9e6"/><rect x="170.8" y="766.9" width="1.75" height="1.75" fill="#22b9e6"/><rect x="171.0" y="766.5" width="1.75" height="1.75" fill="#22b9e6"/><rect x="178.1" y="764.5" width="1.75" height="1.75" fill="#22b9e6"/><rect x="178.4" y="762.9" width="1.75" height="1.75" fill="#22b9e6"/><rect x="184.4" y="767.0" width="1.75" height="1.75" fill="#22b9e6"/><rect x="182.8" y="764.8" width="1.75" height="1.75" fill="#22b9e6"/><rect x="170.7" y="766.0" width="1.75" height="1.75" fill="#22b9e6"/><rect x="173.6" y="766.4" width="1.75" height="1.75" fill="#22b9e6"/><rect x="172.8" y="764.6" width="1.75" height="1.75" fill="#22b9e6"/><rect x="183.1" y="762.4" width="1.75" height="1.75" fill="#22b9e6"/><rect x="178.1" y="761.8" width="1.75" height="1.75" fill="#22b9e6"/><rect x="169.2" y="762.4" width="1.75" height="1.75" fill="#22b9e6"/><rect x="185.8" y="766.7" width="1.75" height="1.75" fill="#22b9e6"/><rect x="180.1" y="763.1" width="1.75" height="1.75" fill="#22b9e6"/><rect x="180.3" y="765.5" width="1.75" height="1.75" fill="#22b9e6"/><rect x="175.2" y="764.7" width="1.75" height="1.75" fill="#22b9e6"/><rect x="182.6" y="761.5" width="1.75" height="1.75" fill="#22b9e6"/><rect x="172.1" y="764.0" width="1.75" height="1.75" fill="#22b9e6"/><rect x="171.1" y="763.6" width="1.75" height="1.75" fill="#22b9e6"/><rect x="178.5" y="762.4" width="1.75" height="1.75" fill="#22b9e6"/><rect x="177.6" y="762.9" width="1.75" height="1.75" fill="#22b9e6"/><rect x="178.5" y="763.3" width="1.75" height="1.75" fill="#22b9e6"/><rect x="179.8" y="761.6" width="1.75" height="1.75" fill="#22b9e6"/><rect x="180.3" y="762.2" width="1.75" height="1.75" fill="#22b9e6"/><rect x="185.3" y="764.8" width="1.75" height="1.75" fill="#22b9e6"/><rect x="176.8" y="763.7" width="1.75" height="1.75" fill="#22b9e6"/><rect x="179.5" y="765.3" width="1.75" height="1.75" fill="#22b9e6"/><rect x="181.8" y="765.6" width="1.75" height="1.75" fill="#22b9e6"/>
<rect x="180.1" y="771.4" width="1.75" height="1.75" fill="#22b9e6"/><rect x="181.3" y="770.6" width="1.75" height="1.75" fill="#22b9e6"/><rect x="179.8" y="768.3" width="1.75" height="1.75" fill="#22b9e6"/><rect x="180.3" y="770.9" width="1.75" height="1.75" fill="#22b9e6"/><rect x="180.2" y="768.8" width="1.75" height="1.75" fill="#22b9e6"/><rect x="179.9" y="770.9" width="1.75" height="1.75" fill="#22b9e6"/><rect x="179.5" y="766.3" width="1.75" height="1.75" fill="#22b9e6"/><rect x="180.9" y="770.9" width="1.75" height="1.75" fill="#22b9e6"/><rect x="180.9" y="769.2" width="1.75" height="1.75" fill="#22b9e6"/><rect x="181.0" y="767.6" width="1.75" height="1.75" fill="#22b9e6"/><rect x="180.4" y="766.4" width="1.75" height="1.75" fill="#22b9e6"/><rect x="178.8" y="768.4" width="1.75" height="1.75" fill="#22b9e6"/>
<rect x="199.3" y="763.6" width="1.75" height="1.75" fill="#22b9e6"/><rect x="192.4" y="765.3" width="1.75" height="1.75" fill="#22b9e6"/><rect x="199.7" y="762.7" width="1.75" height="1.75" fill="#22b9e6"/><rect x="196.3" y="763.6" width="1.75" height="1.75" fill="#22b9e6"/><rect x="195.2" y="761.8" width="1.75" height="1.75" fill="#22b9e6"/><rect x="205.6" y="766.8" width="1.75" height="1.75" fill="#22b9e6"/><rect x="201.9" y="766.3" width="1.75" height="1.75" fill="#22b9e6"/><rect x="198.1" y="765.9" width="1.75" height="1.75" fill="#22b9e6"/><rect x="195.0" y="765.6" width="1.75" height="1.75" fill="#22b9e6"/><rect x="200.3" y="766.5" width="1.75" height="1.75" fill="#22b9e6"/><rect x="193.1" y="765.8" width="1.75" height="1.75" fill="#22b9e6"/><rect x="193.5" y="764.4" width="1.75" height="1.75" fill="#22b9e6"/><rect x="206.2" y="761.4" width="1.75" height="1.75" fill="#22b9e6"/><rect x="195.4" y="763.1" width="1.75" height="1.75" fill="#22b9e6"/><rect x="196.6" y="761.8" width="1.75" height="1.75" fill="#22b9e6"/><rect x="205.4" y="766.0" width="1.75" height="1.75" fill="#22b9e6"/><rect x="197.7" y="763.4" width="1.75" height="1.75" fill="#22b9e6"/><rect x="200.6" y="761.7" width="1.75" height="1.75" fill="#22b9e6"/><rect x="192.1" y="766.4" width="1.75" height="1.75" fill="#22b9e6"/><rect x="196.3" y="764.2" width="1.75" height="1.75" fill="#22b9e6"/><rect x="206.0" y="766.9" width="1.75" height="1.75" fill="#22b9e6"/><rect x="198.9" y="762.6" width="1.75" height="1.75" fill="#22b9e6"/><rect x="196.1" y="766.6" width="1.75" height="1.75" fill="#22b9e6"/><rect x="205.4" y="762.5" width="1.75" height="1.75" fill="#22b9e6"/><rect x="204.5" y="763.4" width="1.75" height="1.75" fill="#22b9e6"/><rect x="198.9" y="762.4" width="1.75" height="1.75" fill="#22b9e6"/><rect x="205.1" y="767.0" width="1.75" height="1.75" fill="#22b9e6"/><rect x="194.7" y="764.9" width="1.75" height="1.75" fill="#22b9e6"/><rect x="194.5" y="766.3" width="1.75" height="1.75" fill="#22b9e6"/><rect x="192.4" y="762.0" width="1.75" height="1.75" fill="#22b9e6"/><rect x="202.8" y="763.2" width="1.75" height="1.75" fill="#22b9e6"/><rect x="205.5" y="766.3" width="1.75" height="1.75" fill="#22b9e6"/><rect x="202.6" y="762.2" width="1.75" height="1.75" fill="#22b9e6"/><rect x="202.3" y="766.7" width="1.75" height="1.75" fill="#22b9e6"/><rect x="198.5" y="761.8" width="1.75" height="1.75" fill="#22b9e6"/><rect x="195.0" y="763.1" width="1.75" height="1.75" fill="#22b9e6"/><rect x="202.5" y="762.5" width="1.75" height="1.75" fill="#22b9e6"/><rect x="194.4" y="762.7" width="1.75" height="1.75" fill="#22b9e6"/><rect x="201.8" y="765.8" width="1.75" height="1.75" fill="#22b9e6"/><rect x="197.3" y="765.1" width="1.75" height="1.75" fill="#22b9e6"/>
<rect x="193.6" y="767.1" width="1.75" height="1.75" fill="#22b9e6"/><rect x="192.0" y="767.4" width="1.75" height="1.75" fill="#22b9e6"/><rect x="193.8" y="768.5" width="1.75" height="1.75" fill="#22b9e6"/><rect x="192.2" y="769.1" width="1.75" height="1.75" fill="#22b9e6"/><rect x="191.8" y="770.2" width="1.75" height="1.75" fill="#22b9e6"/><rect x="192.8" y="770.3" width="1.75" height="1.75" fill="#22b9e6"/><rect x="193.1" y="770.4" width="1.75" height="1.75" fill="#22b9e6"/><rect x="193.3" y="771.3" width="1.75" height="1.75" fill="#22b9e6"/><rect x="192.5" y="772.6" width="1.75" height="1.75" fill="#22b9e6"/><rect x="192.1" y="772.6" width="1.75" height="1.75" fill="#22b9e6"/><rect x="194.0" y="773.2" width="1.75" height="1.75" fill="#22b9e6"/><rect x="192.8" y="774.3" width="1.75" height="1.75" fill="#22b9e6"/><rect x="192.6" y="775.3" width="1.75" height="1.75" fill="#22b9e6"/><rect x="194.8" y="775.0" width="1.75" height="1.75" fill="#22b9e6"/><rect x="193.5" y="776.5" width="1.75" height="1.75" fill="#22b9e6"/><rect x="193.3" y="777.3" width="1.75" height="1.75" fill="#22b9e6"/><rect x="193.7" y="777.1" width="1.75" height="1.75" fill="#22b9e6"/><rect x="193.9" y="778.3" width="1.75" height="1.75" fill="#22b9e6"/><rect x="193.5" y="779.0" width="1.75" height="1.75" fill="#22b9e6"/><rect x="194.6" y="779.5" width="1.75" height="1.75" fill="#22b9e6"/><rect x="194.0" y="780.5" width="1.75" height="1.75" fill="#22b9e6"/><rect x="194.5" y="780.8" width="1.75" height="1.75" fill="#22b9e6"/><rect x="195.3" y="781.0" width="1.75" height="1.75" fill="#22b9e6"/><rect x="194.9" y="781.7" width="1.75" height="1.75" fill="#22b9e6"/><rect x="194.5" y="782.4" width="1.75" height="1.75" fill="#22b9e6"/><rect x="194.2" y="783.7" width="1.75" height="1.75" fill="#22b9e6"/><rect x="195.1" y="784.4" width="1.75" height="1.75" fill="#22b9e6"/><rect x="193.8" y="784.7" width="1.75" height="1.75" fill="#22b9e6"/><rect x="193.8" y="785.4" width="1.75" height="1.75" fill="#22b9e6"/><rect x="194.6" y="785.4" width="1.75" height="1.75" fill="#22b9e6"/>
<rect x="197.1" y="796.4" width="1.75" height="1.75" fill="#22b9e6"/><rect x="196.9" y="799.0" width="1.75" height="1.75" fill="#22b9e6"/><rect x="194.6" y="787.4" width="1.75" height="1.75" fill="#22b9e6"/><rect x="193.7" y="792.9" width="1.75" height="1.75" fill="#22b9e6"/><rect x="196.1" y="792.1" width="1.75" height="1.75" fill="#22b9e6"/><rect x="195.1" y="797.8" width="1.75" height="1.75" fill="#22b9e6"/><rect x="194.0" y="799.5" width="1.75" height="1.75" fill="#22b9e6"/><rect x="196.9" y="793.7" width="1.75" height="1.75" fill="#22b9e6"/><rect x="198.2" y="788.8" width="1.75" height="1.75" fill="#22b9e6"/><rect x="194.4" y="790.0" width="1.75" height="1.75" fill="#22b9e6"/><rect x="193.8" y="790.0" width="1.75" height="1.75" fill="#22b9e6"/><rect x="197.2" y="793.4" width="1.75" height="1.75" fill="#22b9e6"/><rect x="195.1" y="794.4" width="1.75" height="1.75" fill="#22b9e6"/><rect x="194.1" y="798.1" width="1.75" height="1.75" fill="#22b9e6"/><rect x="194.6" y="789.1" width="1.75" height="1.75" fill="#22b9e6"/><rect x="194.5" y="796.1" width="1.75" height="1.75" fill="#22b9e6"/><rect x="198.4" y="797.6" width="1.75" height="1.75" fill="#22b9e6"/><rect x="194.0" y="791.6" width="1.75" height="1.75" fill="#22b9e6"/><rect x="195.7" y="788.5" width="1.75" height="1.75" fill="#22b9e6"/><rect x="199.2" y="785.7" width="1.75" height="1.75" fill="#22b9e6"/><rect x="196.4" y="797.2" width="1.75" height="1.75" fill="#22b9e6"/><rect x="199.3" y="787.3" width="1.75" height="1.75" fill="#22b9e6"/><rect x="196.2" y="796.9" width="1.75" height="1.75" fill="#22b9e6"/><rect x="193.8" y="788.8" width="1.75" height="1.75" fill="#22b9e6"/><rect x="198.8" y="787.3" width="1.75" height="1.75" fill="#22b9e6"/><rect x="195.9" y="789.8" width="1.75" height="1.75" fill="#22b9e6"/><rect x="196.1" y="786.2" width="1.75" height="1.75" fill="#22b9e6"/><rect x="193.8" y="800.9" width="1.75" height="1.75" fill="#22b9e6"/><rect x="198.0" y="796.7" width="1.75" height="1.75" fill="#22b9e6"/><rect x="194.9" y="789.1" width="1.75" height="1.75" fill="#22b9e6"/><rect x="196.8" y="788.9" width="1.75" height="1.75" fill="#22b9e6"/><rect x="196.3" y="799.9" width="1.75" height="1.75" fill="#22b9e6"/><rect x="195.7" y="790.4" width="1.75" height="1.75" fill="#22b9e6"/><rect x="199.3" y="794.8" width="1.75" height="1.75" fill="#22b9e6"/><rect x="193.8" y="791.4" width="1.75" height="1.75" fill="#22b9e6"/><rect x="197.4" y="785.9" width="1.75" height="1.75" fill="#22b9e6"/><rect x="195.6" y="796.1" width="1.75" height="1.75" fill="#22b9e6"/><rect x="198.6" y="794.5" width="1.75" height="1.75" fill="#22b9e6"/><rect x="198.7" y="792.4" width="1.75" height="1.75" fill="#22b9e6"/><rect x="195.9" y="798.5" width="1.75" height="1.75" fill="#22b9e6"/>
<rect x="196.5" y="800.3" width="1.75" height="1.75" fill="#22b9e6"/><rect x="196.5" y="801.8" width="1.75" height="1.75" fill="#22b9e6"/><rect x="196.7" y="804.0" width="1.75" height="1.75" fill="#22b9e6"/>
<rect x="212.6" y="761.2" width="1.75" height="1.75" fill="#22b9e6"/><rect x="213.1" y="762.8" width="1.75" height="1.75" fill="#22b9e6"/><rect x="213.7" y="764.1" width="1.75" height="1.75" fill="#22b9e6"/><rect x="214.8" y="765.7" width="1.75" height="1.75" fill="#22b9e6"/><rect x="215.2" y="766.6" width="1.75" height="1.75" fill="#22b9e6"/><rect x="215.1" y="767.8" width="1.75" height="1.75" fill="#22b9e6"/><rect x="215.9" y="769.4" width="1.75" height="1.75" fill="#22b9e6"/><rect x="216.0" y="770.4" width="1.75" height="1.75" fill="#22b9e6"/><rect x="216.4" y="772.0" width="1.75" height="1.75" fill="#22b9e6"/><rect x="217.1" y="774.0" width="1.75" height="1.75" fill="#22b9e6"/><rect x="217.8" y="774.7" width="1.75" height="1.75" fill="#22b9e6"/><rect x="218.0" y="776.0" width="1.75" height="1.75" fill="#22b9e6"/><rect x="219.0" y="777.5" width="1.75" height="1.75" fill="#22b9e6"/><rect x="219.3" y="779.2" width="1.75" height="1.75" fill="#22b9e6"/><rect x="219.9" y="779.9" width="1.75" height="1.75" fill="#22b9e6"/><rect x="219.8" y="781.6" width="1.75" height="1.75" fill="#22b9e6"/>
<rect x="220.4" y="791.0" width="1.75" height="1.75" fill="#22b9e6"/><rect x="221.4" y="788.2" width="1.75" height="1.75" fill="#22b9e6"/><rect x="222.3" y="770.0" width="1.75" height="1.75" fill="#22b9e6"/><rect x="221.7" y="774.7" width="1.75" height="1.75" fill="#22b9e6"/><rect x="220.2" y="772.4" width="1.75" height="1.75" fill="#22b9e6"/><rect x="222.6" y="769.4" width="1.75" height="1.75" fill="#22b9e6"/><rect x="221.4" y="779.4" width="1.75" height="1.75" fill="#22b9e6"/><rect x="222.4" y="772.1" width="1.75" height="1.75" fill="#22b9e6"/><rect x="223.1" y="775.2" width="1.75" height="1.75" fill="#22b9e6"/><rect x="223.2" y="785.5" width="1.75" height="1.75" fill="#22b9e6"/><rect x="220.6" y="773.8" width="1.75" height="1.75" fill="#22b9e6"/><rect x="221.2" y="786.7" width="1.75" height="1.75" fill="#22b9e6"/><rect x="221.8" y="778.4" width="1.75" height="1.75" fill="#22b9e6"/><rect x="223.8" y="774.3" width="1.75" height="1.75" fill="#22b9e6"/><rect x="221.3" y="777.4" width="1.75" height="1.75" fill="#22b9e6"/><rect x="220.9" y="769.6" width="1.75" height="1.75" fill="#22b9e6"/><rect x="220.1" y="784.6" width="1.75" height="1.75" fill="#22b9e6"/><rect x="222.5" y="789.1" width="1.75" height="1.75" fill="#22b9e6"/><rect x="224.3" y="776.2" width="1.75" height="1.75" fill="#22b9e6"/><rect x="223.0" y="791.9" width="1.75" height="1.75" fill="#22b9e6"/><rect x="221.0" y="786.1" width="1.75" height="1.75" fill="#22b9e6"/><rect x="222.9" y="792.9" width="1.75" height="1.75" fill="#22b9e6"/><rect x="223.8" y="774.6" width="1.75" height="1.75" fill="#22b9e6"/><rect x="222.8" y="770.9" width="1.75" height="1.75" fill="#22b9e6"/><rect x="221.9" y="778.6" width="1.75" height="1.75" fill="#22b9e6"/><rect x="220.3" y="778.3" width="1.75" height="1.75" fill="#22b9e6"/><rect x="221.4" y="781.2" width="1.75" height="1.75" fill="#22b9e6"/><rect x="221.2" y="772.6" width="1.75" height="1.75" fill="#22b9e6"/><rect x="221.8" y="780.7" width="1.75" height="1.75" fill="#22b9e6"/><rect x="220.7" y="785.5" width="1.75" height="1.75" fill="#22b9e6"/><rect x="221.1" y="771.0" width="1.75" height="1.75" fill="#22b9e6"/><rect x="221.5" y="779.3" width="1.75" height="1.75" fill="#22b9e6"/><rect x="220.7" y="783.4" width="1.75" height="1.75" fill="#22b9e6"/><rect x="223.1" y="782.7" width="1.75" height="1.75" fill="#22b9e6"/><rect x="223.1" y="769.2" width="1.75" height="1.75" fill="#22b9e6"/><rect x="221.7" y="777.9" width="1.75" height="1.75" fill="#22b9e6"/><rect x="220.3" y="778.9" width="1.75" height="1.75" fill="#22b9e6"/><rect x="220.2" y="781.2" width="1.75" height="1.75" fill="#22b9e6"/><rect x="222.6" y="780.5" width="1.75" height="1.75" fill="#22b9e6"/><rect x="221.4" y="775.0" width="1.75" height="1.75" fill="#22b9e6"/><rect x="220.1" y="777.4" width="1.75" height="1.75" fill="#22b9e6"/><rect x="223.9" y="783.0" width="1.75" height="1.75" fill="#22b9e6"/><rect x="221.2" y="785.6" width="1.75" height="1.75" fill="#22b9e6"/><rect x="220.8" y="780.5" width="1.75" height="1.75" fill="#22b9e6"/><rect x="222.7" y="792.8" width="1.75" height="1.75" fill="#22b9e6"/><rect x="221.6" y="783.2" width="1.75" height="1.75" fill="#22b9e6"/>
<rect x="222.3" y="793.3" width="1.75" height="1.75" fill="#22b9e6"/><rect x="222.0" y="794.1" width="1.75" height="1.75" fill="#22b9e6"/><rect x="221.9" y="794.7" width="1.75" height="1.75" fill="#22b9e6"/><rect x="221.9" y="796.1" width="1.75" height="1.75" fill="#22b9e6"/><rect x="223.1" y="796.5" width="1.75" height="1.75" fill="#22b9e6"/><rect x="223.4" y="797.0" width="1.75" height="1.75" fill="#22b9e6"/><rect x="222.4" y="798.5" width="1.75" height="1.75" fill="#22b9e6"/><rect x="222.9" y="799.2" width="1.75" height="1.75" fill="#22b9e6"/><rect x="224.2" y="799.9" width="1.75" height="1.75" fill="#22b9e6"/><rect x="223.2" y="800.9" width="1.75" height="1.75" fill="#22b9e6"/><rect x="224.2" y="801.8" width="1.75" height="1.75" fill="#22b9e6"/><rect x="223.3" y="803.1" width="1.75" height="1.75" fill="#22b9e6"/><rect x="224.2" y="803.6" width="1.75" height="1.75" fill="#22b9e6"/><rect x="224.6" y="805.0" width="1.75" height="1.75" fill="#22b9e6"/><rect x="224.9" y="805.9" width="1.75" height="1.75" fill="#22b9e6"/><rect x="225.2" y="807.0" width="1.75" height="1.75" fill="#22b9e6"/><rect x="226.0" y="807.3" width="1.75" height="1.75" fill="#22b9e6"/><rect x="225.3" y="808.9" width="1.75" height="1.75" fill="#22b9e6"/><rect x="225.4" y="809.6" width="1.75" height="1.75" fill="#22b9e6"/><rect x="226.3" y="810.5" width="1.75" height="1.75" fill="#22b9e6"/><rect x="226.9" y="811.6" width="1.75" height="1.75" fill="#22b9e6"/><rect x="225.9" y="812.2" width="1.75" height="1.75" fill="#22b9e6"/><rect x="226.7" y="813.1" width="1.75" height="1.75" fill="#22b9e6"/><rect x="226.7" y="813.7" width="1.75" height="1.75" fill="#22b9e6"/><rect x="227.5" y="814.9" width="1.75" height="1.75" fill="#22b9e6"/><rect x="226.9" y="815.4" width="1.75" height="1.75" fill="#22b9e6"/><rect x="227.3" y="816.2" width="1.75" height="1.75" fill="#22b9e6"/><rect x="227.8" y="817.1" width="1.75" height="1.75" fill="#22b9e6"/><rect x="227.3" y="817.9" width="1.75" height="1.75" fill="#22b9e6"/><rect x="227.6" y="819.6" width="1.75" height="1.75" fill="#22b9e6"/><rect x="227.9" y="820.2" width="1.75" height="1.75" fill="#22b9e6"/><rect x="229.2" y="821.2" width="1.75" height="1.75" fill="#22b9e6"/><rect x="228.4" y="822.5" width="1.75" height="1.75" fill="#22b9e6"/><rect x="229.8" y="822.5" width="1.75" height="1.75" fill="#22b9e6"/>
<rect x="223.2" y="765.2" width="11" height="11" fill="#1c6af0"/>
<rect x="226.4" y="768.4" width="7.4" height="5" fill="#1212c8"/>
<rect x="223.2" y="773.6" width="11" height="2.6" fill="#1b84e8"/>
<rect x="224.4" y="774.4" width="1.0" height="1.0" fill="#fff"/><rect x="226.6" y="774.4" width="1.0" height="1.0" fill="#fff"/><rect x="228.8" y="774.4" width="1.0" height="1.0" fill="#fff"/><rect x="231.0" y="774.4" width="1.0" height="1.0" fill="#fff"/><rect x="233.2" y="774.4" width="1.0" height="1.0" fill="#fff"/>
<rect x="230.4" y="761.0" width="1.75" height="1.75" fill="#22b9e6"/><rect x="231.3" y="762.2" width="1.75" height="1.75" fill="#22b9e6"/><rect x="231.1" y="763.4" width="1.75" height="1.75" fill="#22b9e6"/><rect x="231.1" y="764.8" width="1.75" height="1.75" fill="#22b9e6"/>
<rect x="224.0" y="779.1" width="1.75" height="1.75" fill="#22b9e6"/><rect x="227.1" y="779.4" width="1.75" height="1.75" fill="#22b9e6"/><rect x="225.4" y="777.9" width="1.75" height="1.75" fill="#22b9e6"/><rect x="226.2" y="778.6" width="1.75" height="1.75" fill="#22b9e6"/><rect x="227.0" y="779.3" width="1.75" height="1.75" fill="#22b9e6"/><rect x="222.8" y="777.8" width="1.75" height="1.75" fill="#22b9e6"/><rect x="226.0" y="777.2" width="1.75" height="1.75" fill="#22b9e6"/><rect x="223.1" y="776.4" width="1.75" height="1.75" fill="#22b9e6"/><rect x="225.5" y="779.8" width="1.75" height="1.75" fill="#22b9e6"/><rect x="227.8" y="776.9" width="1.75" height="1.75" fill="#22b9e6"/>
<rect x="241.0" y="761.9" width="1.75" height="1.75" fill="#22b9e6"/><rect x="240.7" y="763.3" width="1.75" height="1.75" fill="#22b9e6"/><rect x="241.0" y="765.4" width="1.75" height="1.75" fill="#22b9e6"/><rect x="239.2" y="766.5" width="1.75" height="1.75" fill="#22b9e6"/><rect x="239.1" y="767.3" width="1.75" height="1.75" fill="#22b9e6"/><rect x="239.1" y="769.5" width="1.75" height="1.75" fill="#22b9e6"/><rect x="240.2" y="770.3" width="1.75" height="1.75" fill="#22b9e6"/><rect x="238.8" y="771.6" width="1.75" height="1.75" fill="#22b9e6"/><rect x="238.9" y="773.5" width="1.75" height="1.75" fill="#22b9e6"/><rect x="238.4" y="774.8" width="1.75" height="1.75" fill="#22b9e6"/>
<rect x="239.4" y="783.6" width="1.75" height="1.75" fill="#22b9e6"/><rect x="236.2" y="778.5" width="1.75" height="1.75" fill="#22b9e6"/><rect x="238.2" y="782.7" width="1.75" height="1.75" fill="#22b9e6"/><rect x="240.5" y="778.4" width="1.75" height="1.75" fill="#22b9e6"/><rect x="238.7" y="780.2" width="1.75" height="1.75" fill="#22b9e6"/><rect x="239.4" y="775.7" width="1.75" height="1.75" fill="#22b9e6"/><rect x="235.5" y="775.2" width="1.75" height="1.75" fill="#22b9e6"/><rect x="240.2" y="776.9" width="1.75" height="1.75" fill="#22b9e6"/><rect x="237.4" y="775.4" width="1.75" height="1.75" fill="#22b9e6"/><rect x="236.4" y="774.2" width="1.75" height="1.75" fill="#22b9e6"/><rect x="237.9" y="775.6" width="1.75" height="1.75" fill="#22b9e6"/><rect x="238.3" y="777.1" width="1.75" height="1.75" fill="#22b9e6"/><rect x="235.8" y="779.5" width="1.75" height="1.75" fill="#22b9e6"/><rect x="236.7" y="777.0" width="1.75" height="1.75" fill="#22b9e6"/><rect x="234.7" y="774.7" width="1.75" height="1.75" fill="#22b9e6"/><rect x="239.9" y="777.5" width="1.75" height="1.75" fill="#22b9e6"/><rect x="234.9" y="776.1" width="1.75" height="1.75" fill="#22b9e6"/><rect x="237.4" y="785.4" width="1.75" height="1.75" fill="#22b9e6"/><rect x="235.7" y="783.9" width="1.75" height="1.75" fill="#22b9e6"/><rect x="237.4" y="778.7" width="1.75" height="1.75" fill="#22b9e6"/><rect x="239.4" y="778.5" width="1.75" height="1.75" fill="#22b9e6"/><rect x="234.8" y="780.3" width="1.75" height="1.75" fill="#22b9e6"/><rect x="238.5" y="781.1" width="1.75" height="1.75" fill="#22b9e6"/><rect x="236.1" y="784.7" width="1.75" height="1.75" fill="#22b9e6"/><rect x="239.8" y="785.3" width="1.75" height="1.75" fill="#22b9e6"/><rect x="237.1" y="783.5" width="1.75" height="1.75" fill="#22b9e6"/><rect x="238.9" y="776.0" width="1.75" height="1.75" fill="#22b9e6"/><rect x="234.6" y="775.9" width="1.75" height="1.75" fill="#22b9e6"/><rect x="235.1" y="774.9" width="1.75" height="1.75" fill="#22b9e6"/><rect x="236.6" y="782.6" width="1.75" height="1.75" fill="#22b9e6"/>
<rect x="258.9" y="767.6" width="1.75" height="1.75" fill="#22b9e6"/><rect x="253.2" y="765.5" width="1.75" height="1.75" fill="#22b9e6"/><rect x="271.2" y="764.1" width="1.75" height="1.75" fill="#22b9e6"/><rect x="263.0" y="769.7" width="1.75" height="1.75" fill="#22b9e6"/><rect x="268.1" y="769.1" width="1.75" height="1.75" fill="#22b9e6"/><rect x="260.6" y="769.6" width="1.75" height="1.75" fill="#22b9e6"/><rect x="268.7" y="769.4" width="1.75" height="1.75" fill="#22b9e6"/><rect x="271.7" y="764.7" width="1.75" height="1.75" fill="#22b9e6"/><rect x="271.1" y="766.8" width="1.75" height="1.75" fill="#22b9e6"/><rect x="266.4" y="765.8" width="1.75" height="1.75" fill="#22b9e6"/><rect x="270.3" y="764.2" width="1.75" height="1.75" fill="#22b9e6"/><rect x="264.0" y="765.6" width="1.75" height="1.75" fill="#22b9e6"/><rect x="260.4" y="766.6" width="1.75" height="1.75" fill="#22b9e6"/><rect x="265.5" y="769.7" width="1.75" height="1.75" fill="#22b9e6"/><rect x="259.9" y="768.5" width="1.75" height="1.75" fill="#22b9e6"/><rect x="259.7" y="766.0" width="1.75" height="1.75" fill="#22b9e6"/><rect x="270.2" y="766.3" width="1.75" height="1.75" fill="#22b9e6"/><rect x="254.8" y="766.3" width="1.75" height="1.75" fill="#22b9e6"/><rect x="267.1" y="765.5" width="1.75" height="1.75" fill="#22b9e6"/><rect x="267.1" y="767.8" width="1.75" height="1.75" fill="#22b9e6"/><rect x="265.9" y="765.2" width="1.75" height="1.75" fill="#22b9e6"/><rect x="255.0" y="765.0" width="1.75" height="1.75" fill="#22b9e6"/><rect x="259.7" y="767.0" width="1.75" height="1.75" fill="#22b9e6"/><rect x="253.2" y="767.5" width="1.75" height="1.75" fill="#22b9e6"/><rect x="260.7" y="766.3" width="1.75" height="1.75" fill="#22b9e6"/><rect x="263.2" y="770.7" width="1.75" height="1.75" fill="#22b9e6"/><rect x="256.9" y="770.2" width="1.75" height="1.75" fill="#22b9e6"/><rect x="259.1" y="769.3" width="1.75" height="1.75" fill="#22b9e6"/><rect x="255.1" y="770.9" width="1.75" height="1.75" fill="#22b9e6"/><rect x="261.2" y="770.7" width="1.75" height="1.75" fill="#22b9e6"/><rect x="257.2" y="766.9" width="1.75" height="1.75" fill="#22b9e6"/><rect x="266.4" y="765.2" width="1.75" height="1.75" fill="#22b9e6"/>
<rect x="258.7" y="765.9" width="1.75" height="1.75" fill="#1b84e8"/><rect x="273.5" y="763.5" width="1.75" height="1.75" fill="#1b84e8"/><rect x="256.7" y="763.8" width="1.75" height="1.75" fill="#1b84e8"/><rect x="274.4" y="762.4" width="1.75" height="1.75" fill="#1b84e8"/><rect x="266.6" y="763.9" width="1.75" height="1.75" fill="#1b84e8"/><rect x="266.8" y="762.8" width="1.75" height="1.75" fill="#1b84e8"/><rect x="266.2" y="767.3" width="1.75" height="1.75" fill="#1b84e8"/><rect x="271.5" y="765.5" width="1.75" height="1.75" fill="#1b84e8"/><rect x="263.8" y="765.1" width="1.75" height="1.75" fill="#1b84e8"/><rect x="255.2" y="766.9" width="1.75" height="1.75" fill="#1b84e8"/><rect x="267.8" y="764.4" width="1.75" height="1.75" fill="#1b84e8"/><rect x="267.3" y="764.2" width="1.75" height="1.75" fill="#1b84e8"/><rect x="261.1" y="762.9" width="1.75" height="1.75" fill="#1b84e8"/><rect x="265.9" y="765.2" width="1.75" height="1.75" fill="#1b84e8"/><rect x="264.0" y="761.6" width="1.75" height="1.75" fill="#1b84e8"/><rect x="266.4" y="764.3" width="1.75" height="1.75" fill="#1b84e8"/><rect x="265.7" y="765.3" width="1.75" height="1.75" fill="#1b84e8"/><rect x="273.1" y="762.4" width="1.75" height="1.75" fill="#1b84e8"/><rect x="263.0" y="768.0" width="1.75" height="1.75" fill="#1b84e8"/><rect x="268.9" y="763.5" width="1.75" height="1.75" fill="#1b84e8"/><rect x="268.8" y="767.9" width="1.75" height="1.75" fill="#1b84e8"/><rect x="261.5" y="767.1" width="1.75" height="1.75" fill="#1b84e8"/><rect x="255.5" y="767.9" width="1.75" height="1.75" fill="#1b84e8"/><rect x="263.5" y="762.9" width="1.75" height="1.75" fill="#1b84e8"/><rect x="271.1" y="765.7" width="1.75" height="1.75" fill="#1b84e8"/><rect x="273.2" y="766.9" width="1.75" height="1.75" fill="#1b84e8"/><rect x="270.2" y="764.8" width="1.75" height="1.75" fill="#1b84e8"/><rect x="274.5" y="761.8" width="1.75" height="1.75" fill="#1b84e8"/><rect x="271.8" y="766.1" width="1.75" height="1.75" fill="#1b84e8"/><rect x="258.2" y="766.7" width="1.75" height="1.75" fill="#1b84e8"/><rect x="262.6" y="764.9" width="1.75" height="1.75" fill="#1b84e8"/><rect x="271.7" y="762.7" width="1.75" height="1.75" fill="#1b84e8"/><rect x="258.8" y="765.6" width="1.75" height="1.75" fill="#1b84e8"/><rect x="254.3" y="765.1" width="1.75" height="1.75" fill="#1b84e8"/><rect x="269.9" y="764.6" width="1.75" height="1.75" fill="#1b84e8"/><rect x="258.0" y="766.7" width="1.75" height="1.75" fill="#1b84e8"/><rect x="271.4" y="766.5" width="1.75" height="1.75" fill="#1b84e8"/><rect x="264.7" y="767.4" width="1.75" height="1.75" fill="#1b84e8"/><rect x="270.1" y="762.4" width="1.75" height="1.75" fill="#1b84e8"/><rect x="260.7" y="762.1" width="1.75" height="1.75" fill="#1b84e8"/><rect x="253.5" y="763.7" width="1.75" height="1.75" fill="#1b84e8"/><rect x="271.6" y="766.9" width="1.75" height="1.75" fill="#1b84e8"/><rect x="255.3" y="762.6" width="1.75" height="1.75" fill="#1b84e8"/><rect x="261.2" y="767.0" width="1.75" height="1.75" fill="#1b84e8"/><rect x="266.2" y="767.4" width="1.75" height="1.75" fill="#1b84e8"/><rect x="254.3" y="767.9" width="1.75" height="1.75" fill="#1b84e8"/><rect x="257.2" y="765.6" width="1.75" height="1.75" fill="#1b84e8"/><rect x="271.9" y="766.2" width="1.75" height="1.75" fill="#1b84e8"/><rect x="257.0" y="765.8" width="1.75" height="1.75" fill="#1b84e8"/><rect x="262.1" y="761.5" width="1.75" height="1.75" fill="#1b84e8"/><rect x="260.1" y="763.5" width="1.75" height="1.75" fill="#1b84e8"/><rect x="266.5" y="763.2" width="1.75" height="1.75" fill="#1b84e8"/><rect x="265.9" y="766.0" width="1.75" height="1.75" fill="#1b84e8"/><rect x="256.7" y="762.2" width="1.75" height="1.75" fill="#1b84e8"/><rect x="267.9" y="764.5" width="1.75" height="1.75" fill="#1b84e8"/><rect x="255.5" y="762.2" width="1.75" height="1.75" fill="#1b84e8"/><rect x="273.3" y="765.4" width="1.75" height="1.75" fill="#1b84e8"/><rect x="260.5" y="762.7" width="1.75" height="1.75" fill="#1b84e8"/><rect x="274.5" y="766.0" width="1.75" height="1.75" fill="#1b84e8"/><rect x="268.8" y="763.8" width="1.75" height="1.75" fill="#1b84e8"/><rect x="259.5" y="764.1" width="1.75" height="1.75" fill="#1b84e8"/><rect x="255.9" y="765.6" width="1.75" height="1.75" fill="#1b84e8"/><rect x="262.0" y="766.8" width="1.75" height="1.75" fill="#1b84e8"/><rect x="261.7" y="764.4" width="1.75" height="1.75" fill="#1b84e8"/><rect x="263.8" y="767.6" width="1.75" height="1.75" fill="#1b84e8"/><rect x="260.3" y="766.0" width="1.75" height="1.75" fill="#1b84e8"/><rect x="257.8" y="765.2" width="1.75" height="1.75" fill="#1b84e8"/><rect x="258.9" y="767.2" width="1.75" height="1.75" fill="#1b84e8"/><rect x="259.0" y="767.0" width="1.75" height="1.75" fill="#1b84e8"/><rect x="267.5" y="764.4" width="1.75" height="1.75" fill="#1b84e8"/><rect x="273.1" y="764.0" width="1.75" height="1.75" fill="#1b84e8"/><rect x="269.0" y="765.4" width="1.75" height="1.75" fill="#1b84e8"/><rect x="262.5" y="761.8" width="1.75" height="1.75" fill="#1b84e8"/><rect x="261.9" y="763.3" width="1.75" height="1.75" fill="#1b84e8"/><rect x="262.4" y="767.7" width="1.75" height="1.75" fill="#1b84e8"/><rect x="259.1" y="766.0" width="1.75" height="1.75" fill="#1b84e8"/><rect x="267.4" y="763.0" width="1.75" height="1.75" fill="#1b84e8"/><rect x="261.7" y="762.3" width="1.75" height="1.75" fill="#1b84e8"/><rect x="272.3" y="763.1" width="1.75" height="1.75" fill="#1b84e8"/><rect x="261.9" y="763.7" width="1.75" height="1.75" fill="#1b84e8"/>
<rect x="260.3" y="767.0" width="1.75" height="1.75" fill="#22b9e6"/><rect x="258.2" y="765.0" width="1.75" height="1.75" fill="#22b9e6"/><rect x="253.6" y="767.3" width="1.75" height="1.75" fill="#22b9e6"/><rect x="253.5" y="763.8" width="1.75" height="1.75" fill="#22b9e6"/><rect x="256.2" y="766.2" width="1.75" height="1.75" fill="#22b9e6"/><rect x="258.9" y="763.7" width="1.75" height="1.75" fill="#22b9e6"/><rect x="261.1" y="767.7" width="1.75" height="1.75" fill="#22b9e6"/><rect x="252.9" y="765.6" width="1.75" height="1.75" fill="#22b9e6"/><rect x="257.1" y="763.8" width="1.75" height="1.75" fill="#22b9e6"/><rect x="257.0" y="763.5" width="1.75" height="1.75" fill="#22b9e6"/><rect x="258.9" y="765.4" width="1.75" height="1.75" fill="#22b9e6"/><rect x="261.7" y="767.8" width="1.75" height="1.75" fill="#22b9e6"/><rect x="261.9" y="764.0" width="1.75" height="1.75" fill="#22b9e6"/><rect x="260.4" y="765.7" width="1.75" height="1.75" fill="#22b9e6"/><rect x="259.2" y="768.0" width="1.75" height="1.75" fill="#22b9e6"/><rect x="253.3" y="764.5" width="1.75" height="1.75" fill="#22b9e6"/><rect x="256.4" y="765.7" width="1.75" height="1.75" fill="#22b9e6"/><rect x="254.7" y="767.9" width="1.75" height="1.75" fill="#22b9e6"/>
<rect x="265.8" y="761.4" width="6.8" height="3.6" fill="#1212c8"/>
<rect x="267" y="761.4" width="4" height="2" fill="#0a0a80"/>
</g>
<rect x="87.5" y="760.5" width="388" height="162" fill="none" stroke="#000" stroke-width="1"/>
<rect x="84" y="758" width="392" height="1" fill="#000"/>
<rect x="87.06" y="923" width="1" height="4" fill="#000"/>
<rect x="97.80" y="923" width="1" height="8" fill="#000"/>
<rect x="108.54" y="923" width="1" height="4" fill="#000"/>
<rect x="119.28" y="923" width="1" height="4" fill="#000"/>
<rect x="130.02" y="923" width="1" height="4" fill="#000"/>
<rect x="140.76" y="923" width="1" height="4" fill="#000"/>
<rect x="151.50" y="923" width="1" height="8" fill="#000"/>
<rect x="162.24" y="923" width="1" height="4" fill="#000"/>
<rect x="172.98" y="923" width="1" height="4" fill="#000"/>
<rect x="183.72" y="923" width="1" height="4" fill="#000"/>
<rect x="194.46" y="923" width="1" height="4" fill="#000"/>
<rect x="205.20" y="923" width="1" height="8" fill="#000"/>
<rect x="215.94" y="923" width="1" height="4" fill="#000"/>
<rect x="226.68" y="923" width="1" height="4" fill="#000"/>
<rect x="237.42" y="923" width="1" height="4" fill="#000"/>
<rect x="248.16" y="923" width="1" height="4" fill="#000"/>
<rect x="258.90" y="923" width="1" height="8" fill="#000"/>
<rect x="269.64" y="923" width="1" height="4" fill="#000"/>
<rect x="280.38" y="923" width="1" height="4" fill="#000"/>
<rect x="291.12" y="923" width="1" height="4" fill="#000"/>
<rect x="301.86" y="923" width="1" height="4" fill="#000"/>
<rect x="312.60" y="923" width="1" height="8" fill="#000"/>
<rect x="323.34" y="923" width="1" height="4" fill="#000"/>
<rect x="334.08" y="923" width="1" height="4" fill="#000"/>
<rect x="344.82" y="923" width="1" height="4" fill="#000"/>
<rect x="355.56" y="923" width="1" height="4" fill="#000"/>
<rect x="366.30" y="923" width="1" height="8" fill="#000"/>
<rect x="377.04" y="923" width="1" height="4" fill="#000"/>
<rect x="387.78" y="923" width="1" height="4" fill="#000"/>
<rect x="398.52" y="923" width="1" height="4" fill="#000"/>
<rect x="409.26" y="923" width="1" height="4" fill="#000"/>
<rect x="420.00" y="923" width="1" height="8" fill="#000"/>
<rect x="430.74" y="923" width="1" height="4" fill="#000"/>
<rect x="441.48" y="923" width="1" height="4" fill="#000"/>
<rect x="452.22" y="923" width="1" height="4" fill="#000"/>
<rect x="462.96" y="923" width="1" height="4" fill="#000"/>
<clipPath id="x3"><rect x="86.5" y="930" width="400" height="20"/></clipPath><g clip-path="url(#x3)">
<text x="98.70" y="943.30" font-size="12" fill="#1a1a1a" text-anchor="middle" textLength="30.94" lengthAdjust="spacingAndGlyphs">0.600</text>
<text x="152.40" y="943.30" font-size="12" fill="#1a1a1a" text-anchor="middle" textLength="30.94" lengthAdjust="spacingAndGlyphs">0.700</text>
<text x="206.10" y="943.30" font-size="12" fill="#1a1a1a" text-anchor="middle" textLength="30.94" lengthAdjust="spacingAndGlyphs">0.800</text>
<text x="259.80" y="943.30" font-size="12" fill="#1a1a1a" text-anchor="middle" textLength="30.94" lengthAdjust="spacingAndGlyphs">0.900</text>
<text x="313.50" y="943.30" font-size="12" fill="#1a1a1a" text-anchor="middle" textLength="30.94" lengthAdjust="spacingAndGlyphs">1.000</text>
<text x="367.20" y="943.30" font-size="12" fill="#1a1a1a" text-anchor="middle" textLength="30.94" lengthAdjust="spacingAndGlyphs">1.100</text>
<text x="420.90" y="943.30" font-size="12" fill="#1a1a1a" text-anchor="middle" textLength="30.94" lengthAdjust="spacingAndGlyphs">1.200</text>
</g>
<text x="279.80" y="963.00" font-size="12" fill="#1a1a1a" text-anchor="middle" textLength="55.40" lengthAdjust="spacingAndGlyphs">LabNTKon</text>
<text x="23.70" y="948.80" font-size="12" fill="#111" text-anchor="start" textLength="30.70" lengthAdjust="spacingAndGlyphs">0.513</text>
<text x="23.70" y="963.00" font-size="12" fill="#666" text-anchor="start" textLength="23.40" lengthAdjust="spacingAndGlyphs">5.07</text>
<text transform="translate(501.80,370.00) rotate(-90)" font-size="12" fill="#a6a6a6" text-anchor="middle" textLength="90.00" lengthAdjust="spacingAndGlyphs">Lam3L2C_R14 (λ)</text>
<rect x="555" y="64.20" width="3" height="1" fill="#cfcfcf"/>
<rect x="555" y="69.87" width="3" height="1" fill="#cfcfcf"/>
<rect x="555" y="75.55" width="3" height="1" fill="#cfcfcf"/>
<rect x="555" y="81.22" width="3" height="1" fill="#cfcfcf"/>
<rect x="550" y="86.90" width="8" height="1" fill="#b4b4b4"/>
<rect x="555" y="92.58" width="3" height="1" fill="#cfcfcf"/>
<rect x="555" y="98.25" width="3" height="1" fill="#cfcfcf"/>
<rect x="555" y="103.93" width="3" height="1" fill="#cfcfcf"/>
<rect x="555" y="109.60" width="3" height="1" fill="#cfcfcf"/>
<rect x="550" y="115.28" width="8" height="1" fill="#b4b4b4"/>
<rect x="555" y="120.96" width="3" height="1" fill="#cfcfcf"/>
<rect x="555" y="126.63" width="3" height="1" fill="#cfcfcf"/>
<rect x="555" y="132.31" width="3" height="1" fill="#cfcfcf"/>
<rect x="555" y="137.98" width="3" height="1" fill="#cfcfcf"/>
<rect x="550" y="143.66" width="8" height="1" fill="#b4b4b4"/>
<rect x="555" y="149.34" width="3" height="1" fill="#cfcfcf"/>
<rect x="555" y="155.01" width="3" height="1" fill="#cfcfcf"/>
<rect x="555" y="160.69" width="3" height="1" fill="#cfcfcf"/>
<rect x="555" y="166.36" width="3" height="1" fill="#cfcfcf"/>
<rect x="550" y="172.04" width="8" height="1" fill="#b4b4b4"/>
<rect x="555" y="177.72" width="3" height="1" fill="#cfcfcf"/>
<rect x="555" y="183.39" width="3" height="1" fill="#cfcfcf"/>
<rect x="555" y="189.07" width="3" height="1" fill="#cfcfcf"/>
<rect x="555" y="194.74" width="3" height="1" fill="#cfcfcf"/>
<rect x="550" y="200.42" width="8" height="1" fill="#b4b4b4"/>
<rect x="555" y="206.10" width="3" height="1" fill="#cfcfcf"/>
<rect x="555" y="211.77" width="3" height="1" fill="#cfcfcf"/>
<rect x="555" y="217.45" width="3" height="1" fill="#cfcfcf"/>
<rect x="555" y="223.12" width="3" height="1" fill="#cfcfcf"/>
<rect x="550" y="228.80" width="8" height="1" fill="#b4b4b4"/>
<rect x="555" y="234.48" width="3" height="1" fill="#cfcfcf"/>
<rect x="555" y="240.15" width="3" height="1" fill="#cfcfcf"/>
<rect x="555" y="245.83" width="3" height="1" fill="#cfcfcf"/>
<rect x="555" y="251.50" width="3" height="1" fill="#cfcfcf"/>
<rect x="550" y="257.18" width="8" height="1" fill="#b4b4b4"/>
<rect x="555" y="262.86" width="3" height="1" fill="#cfcfcf"/>
<rect x="555" y="268.53" width="3" height="1" fill="#cfcfcf"/>
<rect x="555" y="274.21" width="3" height="1" fill="#cfcfcf"/>
<rect x="555" y="279.88" width="3" height="1" fill="#cfcfcf"/>
<rect x="550" y="285.56" width="8" height="1" fill="#b4b4b4"/>
<rect x="555" y="291.24" width="3" height="1" fill="#cfcfcf"/>
<rect x="555" y="296.91" width="3" height="1" fill="#cfcfcf"/>
<rect x="555" y="302.59" width="3" height="1" fill="#cfcfcf"/>
<rect x="555" y="308.26" width="3" height="1" fill="#cfcfcf"/>
<rect x="550" y="313.94" width="8" height="1" fill="#b4b4b4"/>
<rect x="555" y="319.62" width="3" height="1" fill="#cfcfcf"/>
<rect x="555" y="325.29" width="3" height="1" fill="#cfcfcf"/>
<rect x="555" y="330.97" width="3" height="1" fill="#cfcfcf"/>
<rect x="555" y="336.64" width="3" height="1" fill="#cfcfcf"/>
<rect x="550" y="342.32" width="8" height="1" fill="#b4b4b4"/>
<rect x="555" y="348.00" width="3" height="1" fill="#cfcfcf"/>
<rect x="555" y="353.67" width="3" height="1" fill="#cfcfcf"/>
<rect x="555" y="359.35" width="3" height="1" fill="#cfcfcf"/>
<rect x="555" y="365.02" width="3" height="1" fill="#cfcfcf"/>
<rect x="550" y="370.70" width="8" height="1" fill="#b4b4b4"/>
<rect x="555" y="376.38" width="3" height="1" fill="#cfcfcf"/>
<rect x="555" y="382.05" width="3" height="1" fill="#cfcfcf"/>
<rect x="555" y="387.73" width="3" height="1" fill="#cfcfcf"/>
<rect x="555" y="393.40" width="3" height="1" fill="#cfcfcf"/>
<rect x="550" y="399.08" width="8" height="1" fill="#b4b4b4"/>
<rect x="555" y="404.76" width="3" height="1" fill="#cfcfcf"/>
<rect x="555" y="410.43" width="3" height="1" fill="#cfcfcf"/>
<rect x="555" y="416.11" width="3" height="1" fill="#cfcfcf"/>
<rect x="555" y="421.78" width="3" height="1" fill="#cfcfcf"/>
<rect x="550" y="427.46" width="8" height="1" fill="#b4b4b4"/>
<rect x="555" y="433.14" width="3" height="1" fill="#cfcfcf"/>
<rect x="555" y="438.81" width="3" height="1" fill="#cfcfcf"/>
<rect x="555" y="444.49" width="3" height="1" fill="#cfcfcf"/>
<rect x="555" y="450.16" width="3" height="1" fill="#cfcfcf"/>
<rect x="550" y="455.84" width="8" height="1" fill="#b4b4b4"/>
<rect x="555" y="461.52" width="3" height="1" fill="#cfcfcf"/>
<rect x="555" y="467.19" width="3" height="1" fill="#cfcfcf"/>
<rect x="555" y="472.87" width="3" height="1" fill="#cfcfcf"/>
<rect x="555" y="478.54" width="3" height="1" fill="#cfcfcf"/>
<rect x="550" y="484.22" width="8" height="1" fill="#b4b4b4"/>
<rect x="555" y="489.90" width="3" height="1" fill="#cfcfcf"/>
<rect x="555" y="495.57" width="3" height="1" fill="#cfcfcf"/>
<rect x="555" y="501.25" width="3" height="1" fill="#cfcfcf"/>
<rect x="555" y="506.92" width="3" height="1" fill="#cfcfcf"/>
<rect x="550" y="512.60" width="8" height="1" fill="#b4b4b4"/>
<rect x="555" y="518.28" width="3" height="1" fill="#cfcfcf"/>
<rect x="555" y="523.95" width="3" height="1" fill="#cfcfcf"/>
<rect x="555" y="529.63" width="3" height="1" fill="#cfcfcf"/>
<rect x="555" y="535.30" width="3" height="1" fill="#cfcfcf"/>
<rect x="550" y="540.98" width="8" height="1" fill="#b4b4b4"/>
<rect x="555" y="546.66" width="3" height="1" fill="#cfcfcf"/>
<rect x="555" y="552.33" width="3" height="1" fill="#cfcfcf"/>
<rect x="555" y="558.01" width="3" height="1" fill="#cfcfcf"/>
<rect x="555" y="563.68" width="3" height="1" fill="#cfcfcf"/>
<rect x="550" y="569.36" width="8" height="1" fill="#b4b4b4"/>
<rect x="555" y="575.04" width="3" height="1" fill="#cfcfcf"/>
<rect x="555" y="580.71" width="3" height="1" fill="#cfcfcf"/>
<rect x="555" y="586.39" width="3" height="1" fill="#cfcfcf"/>
<rect x="555" y="592.06" width="3" height="1" fill="#cfcfcf"/>
<rect x="550" y="597.74" width="8" height="1" fill="#b4b4b4"/>
<rect x="555" y="603.42" width="3" height="1" fill="#cfcfcf"/>
<rect x="555" y="609.09" width="3" height="1" fill="#cfcfcf"/>
<rect x="555" y="614.77" width="3" height="1" fill="#cfcfcf"/>
<rect x="555" y="620.44" width="3" height="1" fill="#cfcfcf"/>
<rect x="550" y="626.12" width="8" height="1" fill="#b4b4b4"/>
<rect x="555" y="631.80" width="3" height="1" fill="#cfcfcf"/>
<rect x="555" y="637.47" width="3" height="1" fill="#cfcfcf"/>
<rect x="555" y="643.15" width="3" height="1" fill="#cfcfcf"/>
<rect x="555" y="648.82" width="3" height="1" fill="#cfcfcf"/>
<rect x="550" y="654.50" width="8" height="1" fill="#b4b4b4"/>
<rect x="555" y="660.18" width="3" height="1" fill="#cfcfcf"/>
<rect x="555" y="665.85" width="3" height="1" fill="#cfcfcf"/>
<rect x="555" y="671.53" width="3" height="1" fill="#cfcfcf"/>
<rect x="555" y="677.20" width="3" height="1" fill="#cfcfcf"/>
<rect x="550" y="682.88" width="8" height="1" fill="#b4b4b4"/>
<text x="543.60" y="91.90" font-size="12" fill="#9a9a9a" text-anchor="end" textLength="30.80" lengthAdjust="spacingAndGlyphs">0.975</text>
<text x="543.60" y="120.28" font-size="12" fill="#9a9a9a" text-anchor="end" textLength="30.80" lengthAdjust="spacingAndGlyphs">0.950</text>
<text x="543.60" y="148.66" font-size="12" fill="#9a9a9a" text-anchor="end" textLength="30.80" lengthAdjust="spacingAndGlyphs">0.925</text>
<text x="543.60" y="177.04" font-size="12" fill="#9a9a9a" text-anchor="end" textLength="30.80" lengthAdjust="spacingAndGlyphs">0.900</text>
<text x="543.60" y="205.42" font-size="12" fill="#9a9a9a" text-anchor="end" textLength="30.80" lengthAdjust="spacingAndGlyphs">0.875</text>
<text x="543.60" y="233.80" font-size="12" fill="#9a9a9a" text-anchor="end" textLength="30.80" lengthAdjust="spacingAndGlyphs">0.850</text>
<text x="543.60" y="262.18" font-size="12" fill="#9a9a9a" text-anchor="end" textLength="30.80" lengthAdjust="spacingAndGlyphs">0.825</text>
<text x="543.60" y="290.56" font-size="12" fill="#9a9a9a" text-anchor="end" textLength="30.80" lengthAdjust="spacingAndGlyphs">0.800</text>
<text x="543.60" y="318.94" font-size="12" fill="#9a9a9a" text-anchor="end" textLength="30.80" lengthAdjust="spacingAndGlyphs">0.775</text>
<text x="543.60" y="347.32" font-size="12" fill="#9a9a9a" text-anchor="end" textLength="30.80" lengthAdjust="spacingAndGlyphs">0.750</text>
<text x="543.60" y="375.70" font-size="12" fill="#9a9a9a" text-anchor="end" textLength="30.80" lengthAdjust="spacingAndGlyphs">0.725</text>
<text x="543.60" y="404.08" font-size="12" fill="#9a9a9a" text-anchor="end" textLength="30.80" lengthAdjust="spacingAndGlyphs">0.700</text>
<text x="543.60" y="432.46" font-size="12" fill="#9a9a9a" text-anchor="end" textLength="30.80" lengthAdjust="spacingAndGlyphs">0.675</text>
<text x="543.60" y="460.84" font-size="12" fill="#9a9a9a" text-anchor="end" textLength="30.80" lengthAdjust="spacingAndGlyphs">0.650</text>
<text x="543.60" y="489.22" font-size="12" fill="#9a9a9a" text-anchor="end" textLength="30.80" lengthAdjust="spacingAndGlyphs">0.625</text>
<text x="543.60" y="517.60" font-size="12" fill="#9a9a9a" text-anchor="end" textLength="30.80" lengthAdjust="spacingAndGlyphs">0.600</text>
<text x="543.60" y="545.98" font-size="12" fill="#9a9a9a" text-anchor="end" textLength="30.80" lengthAdjust="spacingAndGlyphs">0.575</text>
<text x="543.60" y="574.36" font-size="12" fill="#9a9a9a" text-anchor="end" textLength="30.80" lengthAdjust="spacingAndGlyphs">0.550</text>
<text x="543.60" y="602.74" font-size="12" fill="#9a9a9a" text-anchor="end" textLength="30.80" lengthAdjust="spacingAndGlyphs">0.525</text>
<text x="543.60" y="631.12" font-size="12" fill="#9a9a9a" text-anchor="end" textLength="30.80" lengthAdjust="spacingAndGlyphs">0.500</text>
<text x="543.60" y="659.50" font-size="12" fill="#9a9a9a" text-anchor="end" textLength="30.80" lengthAdjust="spacingAndGlyphs">0.475</text>
<text x="543.60" y="687.88" font-size="12" fill="#9a9a9a" text-anchor="end" textLength="30.80" lengthAdjust="spacingAndGlyphs">0.450</text>
<rect x="558.5" y="57.5" width="1123" height="628" fill="none" stroke="#b9b9b9" stroke-width="1"/>
<clipPath id="pm"><rect x="559" y="58" width="1122" height="627"/></clipPath><g clip-path="url(#pm)">
<rect x="559" y="96" width="1122" height="3" fill="#c9c9c9"/>
<rect x="826.5" y="98" width="2" height="1" fill="#fff"/>
<rect x="1236.4" y="98" width="1" height="1" fill="#fff"/>
<rect x="574.7" y="96" width="2" height="1" fill="#fff"/>
<rect x="822.5" y="96" width="2" height="1" fill="#fff"/>
<rect x="1496.8" y="98" width="2" height="1" fill="#fff"/>
<rect x="728.7" y="98" width="3" height="1" fill="#fff"/>
<rect x="1146.0" y="98" width="2" height="1" fill="#fff"/>
<rect x="631.7" y="98" width="2" height="1" fill="#fff"/>
<rect x="897.4" y="98" width="3" height="1" fill="#fff"/>
<rect x="1089.5" y="98" width="3" height="1" fill="#fff"/>
<rect x="1359.8" y="96" width="2" height="1" fill="#fff"/>
<rect x="1457.0" y="98" width="3" height="1" fill="#fff"/>
<rect x="1544.3" y="98" width="1" height="1" fill="#fff"/>
<rect x="803.0" y="96" width="2" height="1" fill="#fff"/>
<rect x="1261.8" y="98" width="2" height="1" fill="#fff"/>
<rect x="992.2" y="98" width="2" height="1" fill="#fff"/>
<rect x="1214.4" y="96" width="2" height="1" fill="#fff"/>
<rect x="1600.4" y="96" width="3" height="1" fill="#fff"/>
<rect x="1311.8" y="98" width="3" height="1" fill="#fff"/>
<rect x="1640.4" y="96" width="2" height="1" fill="#fff"/>
<rect x="1359.5" y="98" width="3" height="1" fill="#fff"/>
<rect x="1202.4" y="98" width="1" height="1" fill="#fff"/>
<rect x="1516.4" y="96" width="1" height="1" fill="#fff"/>
<rect x="1456.7" y="98" width="1" height="1" fill="#fff"/>
<rect x="889.2" y="98" width="3" height="1" fill="#fff"/>
<rect x="609.5" y="98" width="1" height="1" fill="#fff"/>
<rect x="1364.7" y="98" width="3" height="1" fill="#fff"/>
<rect x="1658.3" y="98" width="3" height="1" fill="#fff"/>
<rect x="906.8" y="98" width="2" height="1" fill="#fff"/>
<rect x="595.1" y="98" width="2" height="1" fill="#fff"/>
<rect x="1243.7" y="98" width="1" height="1" fill="#fff"/>
<rect x="1531.9" y="98" width="3" height="1" fill="#fff"/>
<rect x="1564.3" y="98" width="2" height="1" fill="#fff"/>
<rect x="1142.5" y="98" width="2" height="1" fill="#fff"/>
<rect x="1186.4" y="98" width="3" height="1" fill="#fff"/>
<rect x="1127.9" y="98" width="2" height="1" fill="#fff"/>
<rect x="826.2" y="98" width="3" height="1" fill="#fff"/>
<rect x="1143.7" y="98" width="1" height="1" fill="#fff"/>
<rect x="1025.0" y="98" width="1" height="1" fill="#fff"/>
<rect x="1249.7" y="98" width="1" height="1" fill="#fff"/>
<rect x="1262.6" y="98" width="2" height="1" fill="#fff"/>
<rect x="954.9" y="98" width="2" height="1" fill="#fff"/>
<rect x="584.8" y="98" width="2" height="1" fill="#fff"/>
<rect x="1638.9" y="98" width="2" height="1" fill="#fff"/>
<rect x="1223.8" y="98" width="2" height="1" fill="#fff"/>
<rect x="910.2" y="98" width="2" height="1" fill="#fff"/>
<rect x="896.5" y="98" width="3" height="1" fill="#fff"/>
<rect x="590.2" y="98" width="2" height="1" fill="#fff"/>
<rect x="907.2" y="98" width="3" height="1" fill="#fff"/>
<rect x="827.3" y="98" width="2" height="1" fill="#fff"/>
<rect x="1341.8" y="98" width="2" height="1" fill="#fff"/>
<rect x="933.8" y="96" width="2" height="1" fill="#fff"/>
<rect x="1518.2" y="98" width="2" height="1" fill="#fff"/>
<rect x="1288.3" y="96" width="2" height="1" fill="#fff"/>
<rect x="812.0" y="98" width="2" height="1" fill="#fff"/>
<rect x="773.7" y="96" width="3" height="1" fill="#fff"/>
<rect x="765.6" y="98" width="3" height="1" fill="#fff"/>
<rect x="1279.0" y="96" width="2" height="1" fill="#fff"/>
<rect x="705.3" y="98" width="3" height="1" fill="#fff"/>
<rect x="863.7" y="98" width="2" height="1" fill="#fff"/>
<polyline points="723.0,550.2 724.0,551.2 725.0,551.2 726.0,551.2 727.0,552.3 728.0,552.3 729.0,552.3 730.0,552.3 731.0,553.4 732.0,553.4 733.0,553.4 734.0,553.4 735.0,554.4 736.0,554.4 737.0,554.4 738.0,554.4 739.0,555.5 740.0,555.5 741.0,555.5 742.0,555.5 743.0,556.5 744.0,556.5 745.0,556.5 746.0,556.5 747.0,557.6 748.0,557.6 749.0,557.6 750.0,557.6 751.0,558.6 752.0,558.6 753.0,558.6 754.0,559.6 755.0,559.6 756.0,559.6 757.0,559.6 758.0,559.6 759.0,560.7 760.0,560.7 761.0,560.7 762.0,560.7 763.0,560.7 764.0,561.8 765.0,561.8 766.0,561.8 767.0,561.8 768.0,562.8 769.0,562.8 770.0,562.8 771.0,562.8 772.0,562.8 773.0,563.9 774.0,563.9 775.0,563.9 776.0,563.9 777.0,563.9 778.0,564.9 779.0,564.9 780.0,564.9 781.0,564.9 782.0,566.0 783.0,566.0 784.0,566.0 785.0,566.0 786.0,566.0 787.0,567.0 788.0,567.0 789.0,567.0 790.0,567.0 791.0,567.0 792.0,568.1 793.0,568.1 794.0,568.1 795.0,568.1 796.0,568.1 797.0,569.1 798.0,569.1 799.0,569.1 800.0,569.1 801.0,569.1 802.0,569.1 803.0,570.1 804.0,570.1 805.0,570.1 806.0,570.1 807.0,570.1 808.0,571.2 809.0,571.2 810.0,571.2 811.0,571.2 812.0,571.2 813.0,572.2 814.0,572.2 815.0,572.2 816.0,572.2 817.0,572.2 818.0,572.2 819.0,573.3 820.0,573.3 821.0,573.3 822.0,573.3 823.0,573.3 824.0,573.3 825.0,573.3 826.0,574.4 827.0,574.4 828.0,574.4 829.0,574.4 830.0,574.4 831.0,574.4 832.0,574.4 833.0,575.4 834.0,575.4 835.0,575.4 836.0,575.4 837.0,575.4 838.0,575.4 839.0,575.4 840.0,576.5 841.0,576.5 842.0,576.5 843.0,576.5 844.0,576.5 845.0,576.5 846.0,576.5 847.0,577.5 848.0,577.5 849.0,577.5 850.0,577.5 851.0,577.5 852.0,577.5 853.0,577.5 854.0,578.6 855.0,578.6 856.0,578.6 857.0,578.6 858.0,578.6 859.0,578.6 860.0,578.6 861.0,578.6 862.0,578.6 863.0,579.6 864.0,579.6 865.0,579.6 866.0,579.6 867.0,579.6 868.0,579.6 869.0,579.6 870.0,579.6 871.0,580.6 872.0,580.6 873.0,580.6 874.0,580.6 875.0,580.6 876.0,580.6 877.0,580.6 878.0,580.6 879.0,581.7 880.0,581.7 881.0,581.7 882.0,581.7 883.0,581.7 884.0,581.7 885.0,581.7 886.0,581.7 887.0,582.8 888.0,582.8 889.0,582.8 890.0,582.8 891.0,582.8 892.0,582.8 893.0,582.8 894.0,582.8 895.0,582.8 896.0,583.8 897.0,583.8 898.0,583.8 899.0,583.8 900.0,583.8 901.0,583.8 902.0,583.8 903.0,583.8 904.0,583.8 905.0,583.8 906.0,583.8 907.0,584.9 908.0,584.9 909.0,584.9 910.0,584.9 911.0,584.9 912.0,584.9 913.0,584.9 914.0,584.9 915.0,584.9 916.0,584.9 917.0,585.9 918.0,585.9 919.0,585.9 920.0,585.9 921.0,585.9 922.0,585.9 923.0,585.9 924.0,585.9 925.0,585.9 926.0,585.9 927.0,585.9 928.0,587.0 929.0,587.0 930.0,587.0 931.0,587.0 932.0,587.0 933.0,587.0 934.0,587.0 935.0,587.0 936.0,587.0 937.0,587.0 938.0,588.0 939.0,588.0 940.0,588.0 941.0,588.0 942.0,588.0 943.0,588.0 944.0,588.0 945.0,588.0 946.0,588.0 947.0,588.0 948.0,588.0 949.0,588.0 950.0,589.1 951.0,589.1 952.0,589.1 953.0,589.1 954.0,589.1 955.0,589.1 956.0,589.1 957.0,589.1 958.0,589.1 959.0,589.1 960.0,589.1 961.0,589.1 962.0,589.1 963.0,589.1 964.0,590.1 965.0,590.1 966.0,590.1 967.0,590.1 968.0,590.1 969.0,590.1 970.0,590.1 971.0,590.1 972.0,590.1 973.0,590.1 974.0,590.1 975.0,590.1 976.0,590.1 977.0,590.1 978.0,591.1 979.0,591.1 980.0,591.1 981.0,591.1 982.0,591.1 983.0,591.1 984.0,591.1 985.0,591.1 986.0,591.1 987.0,591.1 988.0,591.1 989.0,591.1 990.0,591.1 991.0,591.1 992.0,592.2 993.0,592.2 994.0,592.2 995.0,592.2 996.0,592.2 997.0,592.2 998.0,592.2 999.0,592.2 1000.0,592.2 1001.0,592.2 1002.0,592.2 1003.0,592.2 1004.0,592.2 1005.0,592.2 1006.0,592.2 1007.0,592.2 1008.0,593.2 1009.0,593.2 1010.0,593.2 1011.0,593.2 1012.0,593.2 1013.0,593.2 1014.0,593.2 1015.0,593.2 1016.0,593.2 1017.0,593.2 1018.0,593.2 1019.0,593.2 1020.0,593.2 1021.0,593.2 1022.0,593.2 1023.0,593.2 1024.0,594.3 1025.0,594.3 1026.0,594.3 1027.0,594.3 1028.0,594.3 1029.0,594.3 1030.0,594.3 1031.0,594.3 1032.0,594.3 1033.0,594.3 1034.0,594.3 1035.0,594.3 1036.0,594.3 1037.0,594.3 1038.0,594.3 1039.0,594.3 1040.0,595.4 1041.0,595.4 1042.0,595.4 1043.0,595.4 1044.0,595.4 1045.0,595.4 1046.0,595.4 1047.0,595.4 1048.0,595.4 1049.0,595.4 1050.0,595.4 1051.0,595.4 1052.0,595.4 1053.0,595.4 1054.0,595.4 1055.0,595.4 1056.0,596.4 1057.0,596.4 1058.0,596.4 1059.0,596.4 1060.0,596.4 1061.0,596.4 1062.0,596.4 1063.0,596.4 1064.0,596.4 1065.0,596.4 1066.0,596.4 1067.0,596.4 1068.0,596.4 1069.0,596.4 1070.0,596.4 1071.0,596.4 1072.0,596.4 1073.0,596.4 1074.0,597.5 1075.0,597.5 1076.0,597.5 1077.0,597.5 1078.0,597.5 1079.0,597.5 1080.0,597.5 1081.0,597.5 1082.0,597.5 1083.0,597.5 1084.0,597.5 1085.0,597.5 1086.0,597.5 1087.0,597.5 1088.0,597.5 1089.0,597.5 1090.0,597.5 1091.0,597.5 1092.0,598.5 1093.0,598.5 1094.0,598.5 1095.0,598.5 1096.0,598.5 1097.0,598.5 1098.0,598.5 1099.0,598.5 1100.0,598.5 1101.0,598.5 1102.0,598.5 1103.0,598.5 1104.0,598.5 1105.0,598.5 1106.0,598.5 1107.0,598.5 1108.0,598.5 1109.0,598.5 1110.0,598.5 1111.0,599.6 1112.0,599.6 1113.0,599.6 1114.0,599.6 1115.0,599.6 1116.0,599.6 1117.0,599.6 1118.0,599.6 1119.0,599.6 1120.0,599.6 1121.0,599.6 1122.0,599.6 1123.0,599.6 1124.0,599.6 1125.0,599.6 1126.0,599.6 1127.0,599.6 1128.0,599.6 1129.0,599.6 1130.0,599.6 1131.0,599.6 1132.0,600.6 1133.0,600.6 1134.0,600.6 1135.0,600.6 1136.0,600.6 1137.0,600.6 1138.0,600.6 1139.0,600.6 1140.0,600.6 1141.0,600.6 1142.0,600.6 1143.0,600.6 1144.0,600.6 1145.0,600.6 1146.0,600.6 1147.0,600.6 1148.0,600.6 1149.0,600.6 1150.0,600.6 1151.0,600.6 1152.0,600.6 1153.0,601.6 1154.0,601.6 1155.0,601.6 1156.0,601.6 1157.0,601.6 1158.0,601.6 1159.0,601.6 1160.0,601.6 1161.0,601.6 1162.0,601.6 1163.0,601.6 1164.0,601.6 1165.0,601.6 1166.0,601.6 1167.0,601.6 1168.0,601.6 1169.0,601.6 1170.0,601.6 1171.0,601.6 1172.0,601.6 1173.0,601.6 1174.0,601.6 1175.0,601.6 1176.0,601.6 1177.0,601.6 1178.0,601.6 1179.0,602.7 1180.0,602.7 1181.0,602.7 1182.0,602.7 1183.0,602.7 1184.0,602.7 1185.0,602.7 1186.0,602.7 1187.0,602.7 1188.0,602.7 1189.0,602.7 1190.0,602.7 1191.0,602.7 1192.0,602.7 1193.0,602.7 1194.0,602.7 1195.0,602.7 1196.0,602.7 1197.0,602.7 1198.0,602.7 1199.0,602.7 1200.0,602.7 1201.0,602.7 1202.0,602.7 1203.0,602.7 1204.0,602.7 1205.0,603.8 1206.0,603.8 1207.0,603.8 1208.0,603.8 1209.0,603.8 1210.0,603.8 1211.0,603.8 1212.0,603.8 1213.0,603.8 1214.0,603.8 1215.0,603.8 1216.0,603.8 1217.0,603.8 1218.0,603.8 1219.0,603.8 1220.0,603.8 1221.0,603.8 1222.0,603.8 1223.0,603.8 1224.0,603.8 1225.0,603.8 1226.0,603.8 1227.0,603.8 1228.0,603.8 1229.0,603.8 1230.0,603.8 1231.0,603.8 1232.0,603.8 1233.0,603.8 1234.0,603.8 1235.0,603.8 1236.0,604.8 1237.0,604.8 1238.0,604.8 1239.0,604.8 1240.0,604.8 1241.0,604.8 1242.0,604.8 1243.0,604.8 1244.0,604.8 1245.0,604.8 1246.0,604.8 1247.0,604.8 1248.0,604.8 1249.0,604.8 1250.0,604.8 1251.0,604.8 1252.0,604.8 1253.0,604.8 1254.0,604.8 1255.0,604.8 1256.0,604.8 1257.0,604.8 1258.0,604.8 1259.0,604.8 1260.0,604.8 1261.0,604.8 1262.0,604.8 1263.0,604.8 1264.0,604.8 1265.0,604.8 1266.0,604.8 1267.0,605.9 1268.0,605.9 1269.0,605.9 1270.0,605.9 1271.0,605.9 1272.0,605.9 1273.0,605.9 1274.0,605.9 1275.0,605.9 1276.0,605.9 1277.0,605.9 1278.0,605.9 1279.0,605.9 1280.0,605.9 1281.0,605.9 1282.0,605.9 1283.0,605.9 1284.0,605.9 1285.0,605.9 1286.0,605.9 1287.0,605.9 1288.0,605.9 1289.0,605.9 1290.0,605.9 1291.0,605.9 1292.0,605.9 1293.0,605.9 1294.0,605.9 1295.0,605.9 1296.0,605.9 1297.0,605.9 1298.0,605.9 1299.0,605.9 1300.0,605.9 1301.0,606.9 1302.0,606.9 1303.0,606.9 1304.0,606.9 1305.0,606.9 1306.0,606.9 1307.0,606.9 1308.0,606.9 1309.0,606.9 1310.0,606.9 1311.0,606.9 1312.0,606.9 1313.0,606.9 1314.0,606.9 1315.0,606.9 1316.0,606.9 1317.0,606.9 1318.0,606.9 1319.0,606.9 1320.0,606.9 1321.0,606.9 1322.0,606.9 1323.0,606.9 1324.0,606.9 1324.5,607.1 1324.6,612.0" fill="none" stroke="#000" stroke-width="1.15" stroke-linejoin="miter"/>
<polyline points="559.0,433.7 559.5,433.7 559.5,436.5 560.0,436.5 560.5,436.5 561.0,436.5 561.5,436.5 561.5,439.4 562.0,439.4 562.5,439.4 563.0,439.4 563.5,439.4 564.0,439.4 564.0,442.3 564.5,442.3 565.0,442.3 565.5,442.3 566.0,442.3 566.0,445.1 566.5,445.1 567.0,445.1 567.5,445.1 568.0,445.1 568.0,448.0 568.5,448.0 569.0,448.0 569.5,448.0 570.0,448.0 570.5,448.0 570.5,450.9 571.0,450.9 571.5,450.9 572.0,450.9 572.5,450.9 573.0,450.9 573.0,453.8 573.5,453.8 574.0,453.8 574.5,453.8 575.0,453.8 575.5,453.8 575.5,456.6 576.0,456.6 576.5,456.6 577.0,456.6 577.5,456.6 578.0,456.6 578.0,459.5 578.5,459.5 579.0,459.5 579.5,459.5 580.0,459.5 580.5,459.5 580.5,462.4 581.0,462.4 581.5,462.4 582.0,462.4 582.5,462.4 583.0,462.4 583.0,465.2 583.5,465.2 584.0,465.2 584.5,465.2 585.0,465.2 585.5,465.2 585.5,468.1 586.0,468.1 586.5,468.1 587.0,468.1 587.5,468.1 588.0,468.1 588.0,471.0 588.5,471.0 589.0,471.0 589.5,471.0 590.0,471.0 590.5,471.0 590.5,473.8 591.0,473.8 591.5,473.8 592.0,473.8 592.5,473.8 593.0,473.8 593.0,476.7 593.5,476.7 594.0,476.7 594.5,476.7 595.0,476.7 595.5,476.7 595.5,479.6 596.0,479.6 596.5,479.6 597.0,479.6 597.5,479.6 598.0,479.6 598.0,482.5 598.5,482.5 599.0,482.5 599.5,482.5 600.0,482.5 600.5,482.5 601.0,482.5 601.0,485.3 601.5,485.3 602.0,485.3 602.5,485.3 603.0,485.3 603.5,485.3 604.0,485.3 604.0,488.2 604.5,488.2 605.0,488.2 605.5,488.2 606.0,488.2 606.5,488.2 607.0,488.2 607.0,491.1 607.5,491.1 608.0,491.1 608.5,491.1 609.0,491.1 609.5,491.1 610.0,491.1 610.0,493.9 610.5,493.9 611.0,493.9 611.5,493.9 612.0,493.9 612.5,493.9 613.0,493.9 613.0,496.8 613.5,496.8 614.0,496.8 614.5,496.8 615.0,496.8 615.5,496.8 616.0,496.8 616.5,496.8 616.5,499.7 617.0,499.7 617.5,499.7 618.0,499.7 618.5,499.7 619.0,499.7 619.5,499.7 620.0,499.7 620.0,502.5 620.5,502.5 621.0,502.5 621.5,502.5 622.0,502.5 622.5,502.5 623.0,502.5 623.5,502.5 624.0,502.5 624.0,505.4 624.5,505.4 625.0,505.4 625.5,505.4 626.0,505.4 626.5,505.4 627.0,505.4 627.5,505.4 627.5,508.3 628.0,508.3 628.5,508.3 629.0,508.3 629.5,508.3 630.0,508.3 630.5,508.3 631.0,508.3 631.0,511.2 631.5,511.2 632.0,511.2 632.5,511.2 633.0,511.2 633.5,511.2 634.0,511.2 634.5,511.2 635.0,511.2 635.5,511.2 635.5,514.0 636.0,514.0 636.5,514.0 637.0,514.0 637.5,514.0 638.0,514.0 638.5,514.0 639.0,514.0 639.5,514.0 639.5,516.9 640.0,516.9 640.5,516.9 641.0,516.9 641.5,516.9 642.0,516.9 642.5,516.9 643.0,516.9 643.5,516.9 643.5,519.8 644.0,519.8 644.5,519.8 645.0,519.8 645.5,519.8 646.0,519.8 646.5,519.8 647.0,519.8 647.5,519.8 647.5,522.6 648.0,522.6 648.5,522.6 649.0,522.6 649.5,522.6 650.0,522.6 650.5,522.6 651.0,522.6 651.5,522.6 652.0,522.6 652.0,525.5 652.5,525.5 653.0,525.5 653.5,525.5 654.0,525.5 654.5,525.5 655.0,525.5 655.5,525.5 656.0,525.5 656.5,525.5 656.5,528.4 657.0,528.4 657.5,528.4 658.0,528.4 658.5,528.4 659.0,528.4 659.5,528.4 660.0,528.4 660.5,528.4 661.0,528.4 661.5,528.4 661.5,531.2 662.0,531.2 662.5,531.2 663.0,531.2 663.5,531.2 664.0,531.2 664.5,531.2 665.0,531.2 665.5,531.2 666.0,531.2 666.5,531.2 667.0,531.2 667.0,534.1 667.5,534.1 668.0,534.1 668.5,534.1 669.0,534.1 669.5,534.1 670.0,534.1 670.5,534.1 671.0,534.1 671.5,534.1 672.0,534.1 672.5,534.1 672.5,537.0 673.0,537.0 673.5,537.0 674.0,537.0 674.5,537.0 675.0,537.0 675.5,537.0 676.0,537.0 676.5,537.0 677.0,537.0 677.5,537.0 678.0,537.0 678.5,537.0 678.5,539.9 679.0,539.9 679.5,539.9 680.0,539.9 680.5,539.9 681.0,539.9 681.5,539.9 682.0,539.9 682.5,539.9 683.0,539.9 683.5,539.9 684.0,539.9 684.5,539.9 685.0,539.9 685.0,542.7 685.5,542.7 686.0,542.7 686.5,542.7 687.0,542.7 687.5,542.7 688.0,542.7 688.5,542.7 689.0,542.7 689.5,542.7 690.0,542.7 690.5,542.7 691.0,542.7 691.5,542.7 691.5,545.6 692.0,545.6 692.5,545.6 693.0,545.6 693.5,545.6 694.0,545.6 694.5,545.6 695.0,545.6 695.5,545.6 696.0,545.6 696.5,545.6 697.0,545.6 697.5,545.6 698.0,545.6 698.5,545.6 698.5,548.5 699.0,548.5 699.5,548.5 700.0,548.5 700.5,548.5 701.0,548.5 701.5,548.5 702.0,548.5 702.5,548.5 703.0,548.5 703.5,548.5 704.0,548.5 704.5,548.5 705.0,548.5 705.5,548.5 706.0,548.5 706.0,551.3 706.5,551.3 707.0,551.3 707.5,551.3 708.0,551.3 708.5,551.3 709.0,551.3 709.5,551.3 710.0,551.3 710.5,551.3 711.0,551.3 711.5,551.3 712.0,551.3 712.5,551.3 713.0,551.3 713.0,554.2 713.5,554.2 714.0,554.2 714.5,554.2 715.0,554.2 715.5,554.2 716.0,554.2 716.5,554.2 717.0,554.2 717.5,554.2 718.0,554.2 718.5,554.2 719.0,554.2 719.5,554.2 720.0,554.2 720.0,557.1 720.5,557.1 721.0,557.1 721.5,557.1 722.0,557.1 722.5,557.1 723.0,557.1 723.5,557.1 724.0,557.1 724.5,557.1 725.0,557.1 725.5,557.1 726.0,557.1 726.5,557.1 727.0,557.1 727.5,557.1 728.0,557.1 728.5,557.1 729.0,557.1 729.5,557.1 729.5,559.9 730.0,559.9 730.5,559.9 731.0,559.9 731.5,559.9 732.0,559.9 732.5,559.9 733.0,559.9 733.5,559.9 734.0,559.9 734.5,559.9 735.0,559.9 735.5,559.9 736.0,559.9 736.5,559.9 737.0,559.9 737.5,559.9 738.0,559.9 738.5,559.9 739.0,559.9 739.5,559.9 740.0,559.9 740.5,559.9 740.5,562.8 741.0,562.8 741.5,562.8 742.0,562.8 742.5,562.8 743.0,562.8 743.5,562.8 744.0,562.8 744.5,562.8 745.0,562.8 745.5,562.8 746.0,562.8 746.5,562.8 747.0,562.8 747.5,562.8 748.0,562.8 748.5,562.8 749.0,562.8 749.5,562.8 750.0,562.8 750.5,562.8 750.5,565.7 751.0,565.7 751.5,565.7 752.0,565.7 752.5,565.7 753.0,565.7 753.5,565.7 754.0,565.7 754.5,565.7 755.0,565.7 755.5,565.7 756.0,565.7 756.5,565.7 757.0,565.7 757.5,565.7 758.0,565.7 758.5,565.7 759.0,565.7 759.5,565.7 760.0,565.7 760.5,565.7 761.0,565.7 761.0,568.6 761.5,568.6 762.0,568.6 762.5,568.6 763.0,568.6 763.5,568.6 764.0,568.6 764.5,568.6 765.0,568.6 765.5,568.6 766.0,568.6 766.5,568.6 767.0,568.6 767.5,568.6 768.0,568.6 768.5,568.6 769.0,568.6 769.5,568.6 770.0,568.6 770.5,568.6 771.0,568.6 771.5,568.6 772.0,568.6 772.5,568.6 773.0,568.6 773.0,571.4 773.5,571.4 774.0,571.4 774.5,571.4 775.0,571.4 775.5,571.4 776.0,571.4 776.5,571.4 777.0,571.4 777.5,571.4 778.0,571.4 778.5,571.4 779.0,571.4 779.5,571.4 780.0,571.4 780.5,571.4 781.0,571.4 781.5,571.4 782.0,571.4 782.5,571.4 783.0,571.4 783.5,571.4 784.0,571.4 784.5,571.4 785.0,571.4 785.5,571.4 786.0,571.4 786.5,571.4 787.0,571.4 787.0,574.3 787.5,574.3 788.0,574.3 788.5,574.3 789.0,574.3 789.5,574.3 790.0,574.3 790.5,574.3 791.0,574.3 791.5,574.3 792.0,574.3 792.5,574.3 793.0,574.3 793.5,574.3 794.0,574.3 794.5,574.3 795.0,574.3 795.5,574.3 796.0,574.3 796.5,574.3 797.0,574.3 797.5,574.3 798.0,574.3 798.5,574.3 799.0,574.3 799.5,574.3 800.0,574.3" fill="none" stroke="#ea2249" stroke-width="2.1" stroke-linejoin="miter"/>
<polyline points="800.0,574.3 800.5,574.3 801.0,574.3 801.5,574.3 801.5,577.2 802.0,577.2 802.5,577.2 803.0,577.2 803.5,577.2 804.0,577.2 804.5,577.2 805.0,577.2 805.5,577.2 806.0,577.2 806.5,577.2 807.0,577.2 807.5,577.2 808.0,577.2 808.5,577.2 809.0,577.2 809.5,577.2 810.0,577.2 810.5,577.2 811.0,577.2 811.5,577.2 812.0,577.2 812.5,577.2 813.0,577.2 813.5,577.2 814.0,577.2 814.5,577.2 815.0,577.2 815.5,577.2 816.0,577.2 816.0,580.0 816.5,580.0 817.0,580.0 817.5,580.0 818.0,580.0 818.5,580.0 819.0,580.0 819.5,580.0 820.0,580.0 820.5,580.0 821.0,580.0 821.5,580.0 822.0,580.0 822.5,580.0 823.0,580.0 823.5,580.0 824.0,580.0 824.5,580.0 825.0,580.0 825.5,580.0 826.0,580.0 826.5,580.0 827.0,580.0 827.5,580.0 828.0,580.0 828.5,580.0 829.0,580.0 829.5,580.0 830.0,580.0 830.5,580.0 831.0,580.0 831.5,580.0 832.0,580.0 832.5,580.0 833.0,580.0 833.5,580.0 834.0,580.0 834.5,580.0 835.0,580.0 835.5,580.0 836.0,580.0 836.5,580.0 837.0,580.0 837.5,580.0 838.0,580.0 838.5,580.0 838.5,582.9 839.0,582.9 839.5,582.9 840.0,582.9 840.5,582.9 841.0,582.9 841.5,582.9 842.0,582.9 842.5,582.9 843.0,582.9 843.5,582.9 844.0,582.9 844.5,582.9 845.0,582.9 845.5,582.9 846.0,582.9 846.5,582.9 847.0,582.9 847.5,582.9 848.0,582.9 848.5,582.9 849.0,582.9 849.5,582.9 850.0,582.9 850.5,582.9 851.0,582.9 851.5,582.9 852.0,582.9 852.5,582.9 853.0,582.9 853.5,582.9 854.0,582.9 854.5,582.9 855.0,582.9 855.0,585.8 855.5,585.8 856.0,585.8 856.5,585.8 857.0,585.8 857.5,585.8 858.0,585.8 858.5,585.8 859.0,585.8 859.5,585.8 860.0,585.8 860.5,585.8 861.0,585.8 861.5,585.8 862.0,585.8 862.5,585.8 863.0,585.8 863.5,585.8 864.0,585.8 864.5,585.8 865.0,585.8 865.5,585.8 866.0,585.8 866.5,585.8 867.0,585.8 867.5,585.8 868.0,585.8 868.5,585.8 869.0,585.8 869.5,585.8 870.0,585.8 870.5,585.8 871.0,585.8 871.5,585.8 872.0,585.8 872.5,585.8 873.0,585.8 873.5,585.8 874.0,585.8 874.5,585.8 874.5,588.6 875.0,588.6 875.5,588.6 876.0,588.6 876.5,588.6 877.0,588.6 877.5,588.6 878.0,588.6 878.5,588.6 879.0,588.6 879.5,588.6 880.0,588.6 880.5,588.6 881.0,588.6 881.5,588.6 882.0,588.6 882.5,588.6 883.0,588.6 883.5,588.6 884.0,588.6 884.5,588.6 885.0,588.6 885.5,588.6 886.0,588.6 886.5,588.6 887.0,588.6 887.5,588.6 888.0,588.6 888.5,588.6 889.0,588.6 889.5,588.6 890.0,588.6 890.5,588.6 891.0,588.6 891.5,588.6 892.0,588.6 892.5,588.6 893.0,588.6 893.5,588.6 894.0,588.6 894.5,588.6 895.0,588.6 895.5,588.6 896.0,588.6 896.5,588.6 897.0,588.6 897.5,588.6 898.0,588.6 898.5,588.6 899.0,588.6 899.5,588.6 900.0,588.6 900.5,588.6 901.0,588.6 901.5,588.6 902.0,588.6 902.5,588.6 903.0,588.6 903.5,588.6 904.0,588.6 904.5,588.6 905.0,588.6 905.5,588.6 906.0,588.6 906.5,588.6 907.0,588.6 907.5,588.6 907.5,591.5 908.0,591.5 908.5,591.5 909.0,591.5 909.5,591.5 910.0,591.5 910.5,591.5 911.0,591.5 911.5,591.5 912.0,591.5 912.5,591.5 913.0,591.5 913.5,591.5 914.0,591.5 914.5,591.5 915.0,591.5 915.5,591.5 916.0,591.5 916.5,591.5 917.0,591.5 917.5,591.5 918.0,591.5 918.5,591.5 919.0,591.5 919.5,591.5 920.0,591.5 920.5,591.5 921.0,591.5 921.5,591.5 922.0,591.5 922.5,591.5 923.0,591.5 923.5,591.5 924.0,591.5 924.5,591.5 925.0,591.5 925.5,591.5 926.0,591.5 926.5,591.5 927.0,591.5 927.5,591.5 928.0,591.5 928.5,591.5 929.0,591.5 929.5,591.5 930.0,591.5 930.5,591.5 931.0,591.5 931.5,591.5 932.0,591.5 932.5,591.5 933.0,591.5 933.5,591.5 934.0,591.5 934.5,591.5 935.0,591.5 935.5,591.5 936.0,591.5 936.5,591.5 937.0,591.5 937.5,591.5 938.0,591.5 938.5,591.5 938.5,594.4 939.0,594.4 939.5,594.4 940.0,594.4 940.5,594.4 941.0,594.4 941.5,594.4 942.0,594.4 942.5,594.4 943.0,594.4 943.5,594.4 944.0,594.4 944.5,594.4 945.0,594.4 945.5,594.4 946.0,594.4 946.5,594.4 947.0,594.4 947.5,594.4 948.0,594.4 948.5,594.4 949.0,594.4 949.5,594.4 950.0,594.4 950.5,594.4 951.0,594.4 951.5,594.4 952.0,594.4 952.5,594.4 953.0,594.4 953.5,594.4 954.0,594.4 954.5,594.4 955.0,594.4 955.5,594.4 956.0,594.4 956.5,594.4 957.0,594.4 957.5,594.4 958.0,594.4 958.5,594.4 959.0,594.4 959.5,594.4 960.0,594.4 960.5,594.4 961.0,594.4 961.5,594.4 962.0,594.4 962.5,594.4 963.0,594.4 963.5,594.4 964.0,594.4 964.5,594.4 965.0,594.4 965.5,594.4 966.0,594.4 966.5,594.4 967.0,594.4 967.5,594.4 968.0,594.4 968.5,594.4 969.0,594.4 969.5,594.4 970.0,594.4 970.5,594.4 971.0,594.4 971.5,594.4 972.0,594.4 972.5,594.4 973.0,594.4 973.5,594.4 974.0,594.4 974.5,594.4 975.0,594.4 975.5,594.4 976.0,594.4 976.5,594.4 977.0,594.4 977.5,594.4 978.0,594.4 978.5,594.4 978.5,597.2 979.0,597.2 979.5,597.2 980.0,597.2 980.5,597.2 981.0,597.2 981.5,597.2 982.0,597.2 982.5,597.2 983.0,597.2 983.5,597.2 984.0,597.2 984.5,597.2 985.0,597.2 985.5,597.2 986.0,597.2 986.5,597.2 987.0,597.2 987.5,597.2 988.0,597.2 988.5,597.2 989.0,597.2 989.5,597.2 990.0,597.2 990.5,597.2 991.0,597.2 991.5,597.2 992.0,597.2 992.5,597.2 993.0,597.2 993.5,597.2 994.0,597.2 994.5,597.2 995.0,597.2 995.5,597.2 996.0,597.2 996.5,597.2 997.0,597.2 997.5,597.2 998.0,597.2 998.5,597.2 999.0,597.2 999.5,597.2 1000.0,597.2 1000.5,597.2 1001.0,597.2 1001.5,597.2 1002.0,597.2 1002.5,597.2 1003.0,597.2 1003.5,597.2 1004.0,597.2 1004.5,597.2 1005.0,597.2 1005.5,597.2 1006.0,597.2 1006.5,597.2 1007.0,597.2 1007.5,597.2 1008.0,597.2 1008.5,597.2 1009.0,597.2 1009.5,597.2 1010.0,597.2 1010.5,597.2 1011.0,597.2 1011.5,597.2 1012.0,597.2 1012.5,597.2 1013.0,597.2 1013.5,597.2 1014.0,597.2 1014.5,597.2 1015.0,597.2 1015.5,597.2 1016.0,597.2 1016.5,597.2 1017.0,597.2 1017.5,597.2 1018.0,597.2 1018.5,597.2 1019.0,597.2 1019.5,597.2 1020.0,597.2 1020.5,597.2 1021.0,597.2 1021.5,597.2 1022.0,597.2 1022.5,597.2 1023.0,597.2 1023.5,597.2 1024.0,597.2 1024.5,597.2 1025.0,597.2 1025.5,597.2 1026.0,597.2 1026.5,597.2 1027.0,597.2 1027.5,597.2 1028.0,597.2 1028.5,597.2 1029.0,597.2 1029.0,600.1 1029.5,600.1 1030.0,600.1 1030.5,600.1 1031.0,600.1 1031.5,600.1 1032.0,600.1 1032.5,600.1 1033.0,600.1 1033.5,600.1 1034.0,600.1 1034.5,600.1 1035.0,600.1 1035.5,600.1 1036.0,600.1 1036.5,600.1 1037.0,600.1 1037.5,600.1 1038.0,600.1 1038.5,600.1 1039.0,600.1 1039.5,600.1 1040.0,600.1 1040.5,600.1 1041.0,600.1 1041.5,600.1 1042.0,600.1 1042.5,600.1 1043.0,600.1 1043.5,600.1 1044.0,600.1 1044.5,600.1 1045.0,600.1 1045.5,600.1 1046.0,600.1 1046.5,600.1 1047.0,600.1 1047.5,600.1 1048.0,600.1 1048.5,600.1 1049.0,600.1 1049.5,600.1 1050.0,600.1 1050.5,600.1 1051.0,600.1 1051.5,600.1 1052.0,600.1 1052.5,600.1 1053.0,600.1 1053.5,600.1 1054.0,600.1 1054.5,600.1 1055.0,600.1 1055.5,600.1 1056.0,600.1 1056.5,600.1 1057.0,600.1 1057.5,600.1 1058.0,600.1 1058.5,600.1 1059.0,600.1 1059.5,600.1 1060.0,600.1 1060.5,600.1 1061.0,600.1 1061.5,600.1 1062.0,600.1 1062.5,600.1 1063.0,600.1 1063.5,600.1 1064.0,600.1 1064.5,600.1 1065.0,600.1 1065.5,600.1 1066.0,600.1 1066.5,600.1 1067.0,600.1 1067.5,600.1 1068.0,600.1 1068.5,600.1 1069.0,600.1 1069.5,600.1 1070.0,600.1 1070.5,600.1 1071.0,600.1 1071.5,600.1 1072.0,600.1 1072.5,600.1 1073.0,600.1 1073.5,600.1 1074.0,600.1 1074.5,600.1 1075.0,600.1 1075.5,600.1 1076.0,600.1 1076.5,600.1 1077.0,600.1 1077.5,600.1 1078.0,600.1 1078.5,600.1 1079.0,600.1 1079.5,600.1 1080.0,600.1 1080.5,600.1 1081.0,600.1 1081.5,600.1 1082.0,600.1 1082.5,600.1 1083.0,600.1 1083.0,603.0 1083.5,603.0 1084.0,603.0 1084.5,603.0 1085.0,603.0 1085.5,603.0 1086.0,603.0 1086.5,603.0 1087.0,603.0 1087.5,603.0 1088.0,603.0 1088.5,603.0 1089.0,603.0 1089.5,603.0 1090.0,603.0 1090.5,603.0 1091.0,603.0 1091.5,603.0 1092.0,603.0 1092.5,603.0 1093.0,603.0 1093.5,603.0 1094.0,603.0 1094.5,603.0 1095.0,603.0 1095.5,603.0 1096.0,603.0 1096.5,603.0 1097.0,603.0 1097.5,603.0 1098.0,603.0 1098.5,603.0 1099.0,603.0 1099.5,603.0 1100.0,603.0 1100.5,603.0 1101.0,603.0 1101.5,603.0 1102.0,603.0 1102.5,603.0 1103.0,603.0 1103.5,603.0 1104.0,603.0 1104.5,603.0 1105.0,603.0 1105.5,603.0 1106.0,603.0 1106.5,603.0 1107.0,603.0 1107.5,603.0 1108.0,603.0 1108.5,603.0 1109.0,603.0 1109.5,603.0 1110.0,603.0 1110.5,603.0 1111.0,603.0 1111.5,603.0 1112.0,603.0 1112.5,603.0 1113.0,603.0 1113.5,603.0 1114.0,603.0 1114.5,603.0 1115.0,603.0 1115.5,603.0 1116.0,603.0 1116.5,603.0 1117.0,603.0 1117.5,603.0 1118.0,603.0 1118.5,603.0 1119.0,603.0 1119.5,603.0 1120.0,603.0 1120.5,603.0 1121.0,603.0 1121.5,603.0 1122.0,603.0 1122.5,603.0 1123.0,603.0 1123.5,603.0 1124.0,603.0 1124.5,603.0 1125.0,603.0 1125.5,603.0 1126.0,603.0 1126.5,603.0 1127.0,603.0 1127.5,603.0 1128.0,603.0 1128.5,603.0 1129.0,603.0 1129.5,603.0 1130.0,603.0 1130.5,603.0 1131.0,603.0 1131.5,603.0 1132.0,603.0 1132.5,603.0 1133.0,603.0 1133.5,603.0 1134.0,603.0 1134.5,603.0 1135.0,603.0 1135.5,603.0 1136.0,603.0 1136.5,603.0 1137.0,603.0 1137.5,603.0 1138.0,603.0 1138.5,603.0 1139.0,603.0 1139.5,603.0 1140.0,603.0 1140.5,603.0 1141.0,603.0 1141.5,603.0 1142.0,603.0 1142.5,603.0 1143.0,603.0 1143.5,603.0 1144.0,603.0 1144.0,605.9 1144.5,605.9 1145.0,605.9 1145.5,605.9 1146.0,605.9 1146.5,605.9 1147.0,605.9 1147.5,605.9 1148.0,605.9 1148.5,605.9 1149.0,605.9 1149.5,605.9 1150.0,605.9 1150.5,605.9 1151.0,605.9 1151.5,605.9 1152.0,605.9 1152.5,605.9 1153.0,605.9 1153.5,605.9 1154.0,605.9 1154.5,605.9 1155.0,605.9 1155.5,605.9 1156.0,605.9 1156.5,605.9 1157.0,605.9 1157.5,605.9 1158.0,605.9 1158.5,605.9 1159.0,605.9 1159.5,605.9 1160.0,605.9 1160.5,605.9 1161.0,605.9 1161.5,605.9 1162.0,605.9 1162.5,605.9 1163.0,605.9 1163.5,605.9 1164.0,605.9 1164.5,605.9 1165.0,605.9 1165.5,605.9 1166.0,605.9 1166.5,605.9 1167.0,605.9 1167.5,605.9 1168.0,605.9 1168.5,605.9 1169.0,605.9 1169.5,605.9 1170.0,605.9 1170.5,605.9 1171.0,605.9 1171.5,605.9 1172.0,605.9 1172.5,605.9 1173.0,605.9 1173.5,605.9 1174.0,605.9 1174.5,605.9 1175.0,605.9 1175.5,605.9 1176.0,605.9 1176.5,605.9 1177.0,605.9 1177.5,605.9 1178.0,605.9 1178.5,605.9 1179.0,605.9 1179.5,605.9 1180.0,605.9 1180.5,605.9 1181.0,605.9 1181.5,605.9 1182.0,605.9 1182.5,605.9 1183.0,605.9 1183.5,605.9 1184.0,605.9 1184.5,605.9 1185.0,605.9 1185.5,605.9 1186.0,605.9 1186.5,605.9 1187.0,605.9 1187.5,605.9 1188.0,605.9 1188.5,605.9 1189.0,605.9 1189.5,605.9 1190.0,605.9 1190.5,605.9 1191.0,605.9 1191.5,605.9 1192.0,605.9 1192.5,605.9 1193.0,605.9 1193.5,605.9 1194.0,605.9 1194.5,605.9 1195.0,605.9 1195.5,605.9 1196.0,605.9 1196.5,605.9 1197.0,605.9 1197.5,605.9 1198.0,605.9 1198.5,605.9 1199.0,605.9 1199.5,605.9 1200.0,605.9 1200.5,605.9 1201.0,605.9 1201.5,605.9 1202.0,605.9 1202.5,605.9 1203.0,605.9 1203.5,605.9 1204.0,605.9 1204.5,605.9 1205.0,605.9 1205.5,605.9 1206.0,605.9 1206.5,605.9 1207.0,605.9 1207.5,605.9 1208.0,605.9 1208.5,605.9 1209.0,605.9 1209.5,605.9 1210.0,605.9 1210.5,605.9 1211.0,605.9 1211.5,605.9 1212.0,605.9 1212.5,605.9 1213.0,605.9 1213.5,605.9 1214.0,605.9 1214.5,605.9 1215.0,605.9 1215.5,605.9 1216.0,605.9 1216.0,608.7 1216.5,608.7 1217.0,608.7 1217.5,608.7 1218.0,608.7 1218.5,608.7 1219.0,608.7 1219.5,608.7 1220.0,608.7 1220.5,608.7 1221.0,608.7 1221.5,608.7 1222.0,608.7 1222.5,608.7 1223.0,608.7 1223.5,608.7 1224.0,608.7 1224.5,608.7 1225.0,608.7 1225.5,608.7 1226.0,608.7 1226.5,608.7 1227.0,608.7 1227.5,608.7 1228.0,608.7 1228.5,608.7 1229.0,608.7 1229.5,608.7 1230.0,608.7 1230.5,608.7 1231.0,608.7 1231.5,608.7 1232.0,608.7 1232.5,608.7 1233.0,608.7 1233.5,608.7 1234.0,608.7 1234.5,608.7 1235.0,608.7 1235.5,608.7 1236.0,608.7 1236.5,608.7 1237.0,608.7 1237.5,608.7 1238.0,608.7 1238.5,608.7 1239.0,608.7 1239.5,608.7 1240.0,608.7 1240.5,608.7 1241.0,608.7 1241.5,608.7 1242.0,608.7 1242.5,608.7 1243.0,608.7 1243.5,608.7 1244.0,608.7 1244.5,608.7 1245.0,608.7 1245.5,608.7 1246.0,608.7 1246.5,608.7 1247.0,608.7 1247.5,608.7 1248.0,608.7 1248.5,608.7 1249.0,608.7 1249.5,608.7 1250.0,608.7 1250.5,608.7 1251.0,608.7 1251.5,608.7 1252.0,608.7 1252.5,608.7 1253.0,608.7 1253.5,608.7 1254.0,608.7 1254.5,608.7 1255.0,608.7 1255.5,608.7 1256.0,608.7 1256.5,608.7 1257.0,608.7 1257.5,608.7 1258.0,608.7 1258.5,608.7 1259.0,608.7 1259.5,608.7 1260.0,608.7 1260.5,608.7 1261.0,608.7 1261.5,608.7 1262.0,608.7 1262.5,608.7 1263.0,608.7 1263.5,608.7 1264.0,608.7 1264.5,608.7 1265.0,608.7 1265.5,608.7 1266.0,608.7 1266.5,608.7 1267.0,608.7 1267.5,608.7 1268.0,608.7 1268.5,608.7 1269.0,608.7 1269.5,608.7 1270.0,608.7 1270.5,608.7 1271.0,608.7 1271.5,608.7 1272.0,608.7 1272.5,608.7 1273.0,608.7 1273.5,608.7 1274.0,608.7 1274.5,608.7 1275.0,608.7 1275.5,608.7 1276.0,608.7 1276.5,608.7 1277.0,608.7 1277.5,608.7 1277.5,611.6 1278.0,611.6 1278.5,611.6 1279.0,611.6 1279.5,611.6 1280.0,611.6 1280.5,611.6 1281.0,611.6 1281.5,611.6 1282.0,611.6 1282.5,611.6 1283.0,611.6 1283.5,611.6 1284.0,611.6 1284.5,611.6 1285.0,611.6 1285.5,611.6 1286.0,611.6 1286.5,611.6 1287.0,611.6 1287.5,611.6 1288.0,611.6 1288.5,611.6 1289.0,611.6 1289.5,611.6 1290.0,611.6 1290.5,611.6 1291.0,611.6 1291.5,611.6 1292.0,611.6 1292.5,611.6 1293.0,611.6 1293.5,611.6 1294.0,611.6 1294.5,611.6 1295.0,611.6 1295.5,611.6 1296.0,611.6 1296.5,611.6 1297.0,611.6 1297.5,611.6 1298.0,611.6 1298.5,611.6 1299.0,611.6 1299.5,611.6 1300.0,611.6 1300.5,611.6 1301.0,611.6 1301.5,611.6 1302.0,611.6 1302.5,611.6 1303.0,611.6 1303.5,611.6 1304.0,611.6 1304.5,611.6 1305.0,611.6 1305.5,611.6 1306.0,611.6 1306.5,611.6 1307.0,611.6 1307.5,611.6 1308.0,611.6 1308.5,611.6 1309.0,611.6 1309.5,611.6 1310.0,611.6 1310.5,611.6 1311.0,611.6 1311.5,611.6 1312.0,611.6 1312.5,611.6 1313.0,611.6 1313.5,611.6 1314.0,611.6 1314.5,611.6 1315.0,611.6 1315.5,611.6 1316.0,611.6 1316.5,611.6 1317.0,611.6 1317.5,611.6 1318.0,611.6 1318.5,611.6 1319.0,611.6 1319.5,611.6 1320.0,611.6 1320.5,611.6 1321.0,611.6 1321.5,611.6 1322.0,611.6 1322.5,611.6 1323.0,611.6 1323.5,611.6 1324.0,611.6" fill="none" stroke="#ea2249" stroke-width="2.7" stroke-linejoin="miter"/>

<rect x="701.7" y="550.2" width="11.3" height="5.1" fill="#ea2249"/>



<rect x="739.2" y="561.7" width="11.3" height="5.1" fill="#ea2249"/>



<rect x="796.5" y="573.2" width="5.0" height="5.1" fill="#ea2249"/>

<rect x="828.2" y="578.9" width="10.3" height="5.1" fill="#ea2249"/>










<rect x="828.1" y="577.6" width="1" height="2" fill="#ea2249"/>
<rect x="967.4" y="595.0" width="1" height="2" fill="#ea2249"/>
<rect x="690.5" y="543.3" width="1" height="2" fill="#ea2249"/>
<rect x="1262.4" y="609.3" width="1" height="2" fill="#ea2249"/>
<rect x="1187.5" y="603.5" width="1" height="2" fill="#ea2249"/>
<rect x="1039.0" y="600.7" width="1" height="2" fill="#ea2249"/>
<rect x="598.0" y="480.1" width="1" height="2" fill="#ea2249"/>
<rect x="764.7" y="569.2" width="1" height="2" fill="#ea2249"/>
<rect x="882.3" y="586.2" width="1" height="2" fill="#ea2249"/>
<rect x="1151.7" y="603.5" width="1" height="2" fill="#ea2249"/>
<rect x="601.8" y="482.9" width="1" height="2" fill="#ea2249"/>
<rect x="655.0" y="523.1" width="1" height="2" fill="#ea2249"/>
<rect x="1302.7" y="612.2" width="1" height="2" fill="#ea2249"/>
<rect x="625.6" y="506.0" width="1" height="2" fill="#ea2249"/>
<rect x="800.7" y="571.9" width="1" height="2" fill="#ea2249"/>
<rect x="827.7" y="580.6" width="1" height="2" fill="#ea2249"/>
<rect x="1007.0" y="594.9" width="1" height="2" fill="#ea2249"/>
<rect x="705.6" y="546.7" width="1" height="2" fill="#ea2249"/>
<rect x="654.3" y="526.1" width="1" height="2" fill="#ea2249"/>
<rect x="1105.6" y="600.6" width="1" height="2" fill="#ea2249"/>
<rect x="620.9" y="500.1" width="1" height="2" fill="#ea2249"/>
<rect x="844.4" y="583.5" width="1" height="2" fill="#ea2249"/>
<rect x="1156.4" y="603.5" width="1" height="2" fill="#ea2249"/>
<rect x="1170.5" y="606.5" width="1" height="2" fill="#ea2249"/>
<rect x="888.9" y="586.2" width="1" height="2" fill="#ea2249"/>
<rect x="938.1" y="592.5" width="1" height="2" fill="#ea2249"/>
<rect x="880.4" y="589.2" width="1" height="2" fill="#ea2249"/>
<rect x="911.2" y="589.1" width="1" height="2" fill="#ea2249"/>
<rect x="968.3" y="595.0" width="1" height="2" fill="#ea2249"/>
<rect x="614.5" y="494.4" width="1" height="2" fill="#ea2249"/>
<rect x="884.5" y="589.2" width="1" height="2" fill="#ea2249"/>
<rect x="1273.6" y="606.3" width="1" height="2" fill="#ea2249"/>
<rect x="1244.2" y="609.3" width="1" height="2" fill="#ea2249"/>
<rect x="759.8" y="563.3" width="1" height="2" fill="#ea2249"/>
<rect x="653.8" y="526.1" width="1" height="2" fill="#ea2249"/>
<rect x="1064.7" y="600.7" width="1" height="2" fill="#ea2249"/>
<rect x="1163.9" y="606.5" width="1" height="2" fill="#ea2249"/>
<rect x="1119.1" y="603.6" width="1" height="2" fill="#ea2249"/>
<rect x="638.6" y="514.6" width="1" height="2" fill="#ea2249"/>
<rect x="563.7" y="438.3" width="1" height="2" fill="#ea2249"/>
<rect x="1150.0" y="603.5" width="1" height="2" fill="#ea2249"/>
<rect x="630.0" y="505.9" width="1" height="2" fill="#ea2249"/>
<rect x="1230.9" y="606.3" width="1" height="2" fill="#ea2249"/>
<rect x="577.9" y="459.5" width="1" height="2" fill="#ea2249"/>
<rect x="652.4" y="526.1" width="1" height="2" fill="#ea2249"/>
<rect x="1073.2" y="600.7" width="1" height="2" fill="#ea2249"/>
<rect x="1285.7" y="612.2" width="1" height="2" fill="#ea2249"/>
<rect x="1168.6" y="603.5" width="1" height="2" fill="#ea2249"/>
<rect x="1144.8" y="606.5" width="1" height="2" fill="#ea2249"/>
<rect x="1105.0" y="600.6" width="1" height="2" fill="#ea2249"/>
<rect x="1130.7" y="603.6" width="1" height="2" fill="#ea2249"/>
<rect x="606.6" y="486.3" width="1" height="2" fill="#ea2249"/>
<rect x="989.8" y="597.9" width="1" height="2" fill="#ea2249"/>
<rect x="744.5" y="560.4" width="1" height="2" fill="#ea2249"/>
<rect x="750.5" y="566.1" width="1" height="2" fill="#ea2249"/>
<rect x="1134.2" y="600.6" width="1" height="2" fill="#ea2249"/>
<rect x="840.0" y="580.5" width="1" height="2" fill="#ea2249"/>
<rect x="826.9" y="577.6" width="1" height="2" fill="#ea2249"/>
<rect x="623.4" y="503.1" width="1" height="2" fill="#ea2249"/>
<rect x="1301.5" y="609.2" width="1" height="2" fill="#ea2249"/>
<rect x="1129.5" y="600.6" width="1" height="2" fill="#ea2249"/>
<rect x="1086.4" y="603.6" width="1" height="2" fill="#ea2249"/>
<rect x="1073.5" y="600.7" width="1" height="2" fill="#ea2249"/>
<rect x="928.6" y="592.1" width="1" height="2" fill="#ea2249"/>
<rect x="1243.8" y="606.3" width="1" height="2" fill="#ea2249"/>
<rect x="633.0" y="511.8" width="1" height="2" fill="#ea2249"/>
<rect x="1258.5" y="609.3" width="1" height="2" fill="#ea2249"/>
<rect x="897.6" y="589.2" width="1" height="2" fill="#ea2249"/>
<rect x="701.8" y="546.1" width="1" height="2" fill="#ea2249"/>
<rect x="711.8" y="551.9" width="1" height="2" fill="#ea2249"/>
<rect x="799.9" y="571.9" width="1" height="2" fill="#ea2249"/>
<rect x="1086.6" y="603.6" width="1" height="2" fill="#ea2249"/>
<rect x="785.4" y="572.0" width="1" height="2" fill="#ea2249"/>
<rect x="874.9" y="589.2" width="1" height="2" fill="#ea2249"/>
<rect x="1005.5" y="594.9" width="1" height="2" fill="#ea2249"/>
<rect x="725.8" y="554.7" width="1" height="2" fill="#ea2249"/>
<rect x="925.4" y="589.1" width="1" height="2" fill="#ea2249"/>
<rect x="691.3" y="541.8" width="1" height="2" fill="#ea2249"/>
<rect x="805.4" y="577.8" width="1" height="2" fill="#ea2249"/>
<rect x="669.4" y="534.7" width="1" height="2" fill="#ea2249"/>
<rect x="925.4" y="592.1" width="1" height="2" fill="#ea2249"/>
<rect x="916.7" y="592.1" width="1" height="2" fill="#ea2249"/>
<rect x="1186.1" y="606.5" width="1" height="2" fill="#ea2249"/>
<rect x="926.8" y="592.1" width="1" height="2" fill="#ea2249"/>
<rect x="1212.8" y="603.5" width="1" height="2" fill="#ea2249"/>
<rect x="1119.0" y="603.6" width="1" height="2" fill="#ea2249"/>
<rect x="916.2" y="589.1" width="1" height="2" fill="#ea2249"/>
<rect x="738.9" y="560.5" width="1" height="2" fill="#ea2249"/>
<rect x="1074.6" y="600.7" width="1" height="2" fill="#ea2249"/>
<rect x="1210.7" y="603.5" width="1" height="2" fill="#ea2249"/>
<rect x="704.5" y="546.1" width="1" height="2" fill="#ea2249"/>
<rect x="702.6" y="549.1" width="1" height="2" fill="#ea2249"/>
<rect x="1214.2" y="606.5" width="1" height="2" fill="#ea2249"/>
<rect x="754.3" y="566.3" width="1" height="2" fill="#ea2249"/>
<rect x="798.8" y="571.9" width="1" height="2" fill="#ea2249"/>
<rect x="1115.5" y="600.6" width="1" height="2" fill="#ea2249"/>
<rect x="630.6" y="509.4" width="1" height="2" fill="#ea2249"/>
<rect x="782.3" y="569.0" width="1" height="2" fill="#ea2249"/>
<rect x="1002.2" y="597.9" width="1" height="2" fill="#ea2249"/>
<rect x="565.2" y="439.9" width="1" height="2" fill="#ea2249"/>
<rect x="892.4" y="586.2" width="1" height="2" fill="#ea2249"/>
<rect x="720.1" y="557.7" width="1" height="2" fill="#ea2249"/>
<rect x="1288.0" y="609.2" width="1" height="2" fill="#ea2249"/>
<rect x="974.8" y="592.0" width="1" height="2" fill="#ea2249"/>
<rect x="769.4" y="569.2" width="1" height="2" fill="#ea2249"/>
<rect x="645.7" y="520.4" width="1" height="2" fill="#ea2249"/>
<rect x="1252.5" y="606.3" width="1" height="2" fill="#ea2249"/>
<rect x="1277.3" y="607.8" width="1" height="2" fill="#ea2249"/>
<rect x="1148.6" y="606.5" width="1" height="2" fill="#ea2249"/>
<rect x="785.2" y="572.0" width="1" height="2" fill="#ea2249"/>
<rect x="1058.4" y="600.7" width="1" height="2" fill="#ea2249"/>
<rect x="762.4" y="569.2" width="1" height="2" fill="#ea2249"/>
<rect x="1292.5" y="612.2" width="1" height="2" fill="#ea2249"/>
<rect x="968.6" y="592.0" width="1" height="2" fill="#ea2249"/>
<rect x="936.3" y="589.1" width="1" height="2" fill="#ea2249"/>
<rect x="1107.2" y="603.6" width="1" height="2" fill="#ea2249"/>
<rect x="991.6" y="594.9" width="1" height="2" fill="#ea2249"/>
<rect x="1052.0" y="600.7" width="1" height="2" fill="#ea2249"/>
<rect x="696.5" y="546.2" width="1" height="2" fill="#ea2249"/>
<rect x="1059.4" y="597.7" width="1" height="2" fill="#ea2249"/>
<rect x="1270.1" y="606.3" width="1" height="2" fill="#ea2249"/>
<rect x="812.6" y="577.8" width="1" height="2" fill="#ea2249"/>
<rect x="1015.2" y="597.9" width="1" height="2" fill="#ea2249"/>
<rect x="1053.4" y="597.7" width="1" height="2" fill="#ea2249"/>
<rect x="798.1" y="571.9" width="1" height="2" fill="#ea2249"/>
<rect x="612.3" y="494.5" width="1" height="2" fill="#ea2249"/>
<rect x="1134.9" y="603.6" width="1" height="2" fill="#ea2249"/>
<rect x="1123.6" y="600.6" width="1" height="2" fill="#ea2249"/>
<rect x="762.6" y="566.2" width="1" height="2" fill="#ea2249"/>
<rect x="1224.9" y="606.3" width="1" height="2" fill="#ea2249"/>
<rect x="944.6" y="592.0" width="1" height="2" fill="#ea2249"/>
<rect x="1145.9" y="603.5" width="1" height="2" fill="#ea2249"/>
<rect x="813.6" y="574.8" width="1" height="2" fill="#ea2249"/>
<rect x="972.6" y="595.0" width="1" height="2" fill="#ea2249"/>
<rect x="828.9" y="580.6" width="1" height="2" fill="#ea2249"/>
<rect x="645.4" y="517.4" width="1" height="2" fill="#ea2249"/>
<rect x="635.9" y="511.6" width="1" height="2" fill="#ea2249"/>
<rect x="1153.6" y="606.5" width="1" height="2" fill="#ea2249"/>
<rect x="700.9" y="546.1" width="1" height="2" fill="#ea2249"/>
<rect x="877.5" y="589.2" width="1" height="2" fill="#ea2249"/>
<polyline points="559.0,432.7 560.0,434.0 561.0,435.4 562.0,436.7 563.0,438.1 564.0,439.4 565.0,440.7 566.0,442.1 567.0,443.4 568.0,444.8 569.0,446.1 570.0,447.4 571.0,448.7 572.0,449.8 573.0,451.0 574.0,452.1 575.0,453.3 576.0,454.4 577.0,455.5 578.0,456.7 579.0,457.8 580.0,459.0 581.0,460.1 582.0,461.3 583.0,462.4 584.0,463.6 585.0,464.8 586.0,465.9 587.0,467.1 588.0,468.2 589.0,469.4 590.0,470.6 591.0,471.7 592.0,472.9 593.0,474.0 594.0,475.2 595.0,476.3 596.0,477.5 597.0,478.7 598.0,479.7 599.0,480.6 600.0,481.6 601.0,482.5 602.0,483.5 603.0,484.4 604.0,485.4 605.0,486.3 606.0,487.3 607.0,488.2 608.0,489.2 609.0,490.1 610.0,491.1 611.0,492.0 612.0,493.0 613.0,493.9 614.0,494.7 615.0,495.5 616.0,496.3 617.0,497.1 618.0,497.9 619.0,498.7 620.0,499.5 621.0,500.3 622.0,501.1 623.0,501.9 624.0,502.7 625.0,503.5 626.0,504.3 627.0,505.0 628.0,505.8 629.0,506.6 630.0,507.3 631.0,508.0 632.0,508.7 633.0,509.4 634.0,510.1 635.0,510.9 636.0,511.6 637.0,512.3 638.0,513.0 639.0,513.7 640.0,514.4 641.0,515.1 642.0,515.8 643.0,516.5 644.0,517.2 645.0,517.8 646.0,518.4 647.0,518.9 648.0,519.5 649.0,520.0 650.0,520.5 651.0,521.1 652.0,521.6 653.0,522.2 654.0,522.7 655.0,523.3 656.0,523.8 657.0,524.4 658.0,524.9 659.0,525.4 660.0,526.0 661.0,526.4 662.0,526.9 663.0,527.3 664.0,527.8 665.0,528.2 666.0,528.6 667.0,529.1 668.0,529.5 669.0,529.9 670.0,530.3 671.0,530.7 672.0,531.1 673.0,531.5 674.0,531.9 675.0,532.3 676.0,532.7 677.0,533.1 678.0,533.6 679.0,534.0 680.0,534.4 681.0,534.8 682.0,535.2 683.0,535.6 684.0,536.0 685.0,536.4 686.0,536.8 687.0,537.2 688.0,537.6 689.0,538.0 690.0,538.4 691.0,538.8 692.0,539.2 693.0,539.6 694.0,540.0 695.0,540.4 696.0,540.8 697.0,541.2 698.0,541.5 699.0,541.9 700.0,542.3" fill="none" stroke="#8e8e8e" stroke-width="1.0" stroke-linejoin="miter"/>
<polyline points="700.0,542.8 701.0,543.2 702.0,543.6 703.0,544.0 704.0,544.4 705.0,544.8 706.0,545.2 707.0,545.5 708.0,545.9 709.0,546.1 710.0,546.4 711.0,546.7 712.0,546.9 713.0,547.2 714.0,547.5 715.0,547.7 716.0,548.0 717.0,548.3 718.0,548.5 719.0,548.8 720.0,549.1 721.0,549.3 722.0,549.6 723.0,549.9 724.0,550.2 725.0,550.4 726.0,550.7 727.0,551.0 728.0,551.3 729.0,551.6 730.0,551.9 731.0,552.1 732.0,552.4 733.0,552.7 734.0,553.0 735.0,553.3 736.0,553.6 737.0,553.9 738.0,554.1 739.0,554.4 740.0,554.7 741.0,554.9 742.0,555.2 743.0,555.4 744.0,555.7 745.0,555.9 746.0,556.2 747.0,556.4 748.0,556.7 749.0,556.9 750.0,557.2 751.0,557.4 752.0,557.7 753.0,557.9 754.0,558.2 755.0,558.4 756.0,558.6 757.0,558.8 758.0,559.0 759.0,559.2 760.0,559.4 761.0,559.6 762.0,559.8 763.0,560.0 764.0,560.2 765.0,560.4 766.0,560.6 767.0,560.8 768.0,561.0 769.0,561.2 770.0,561.4 771.0,561.6 772.0,561.8 773.0,561.9 774.0,562.1 775.0,562.2 776.0,562.4 777.0,562.6 778.0,562.7 779.0,562.9 780.0,563.0 781.0,563.2 782.0,563.3 783.0,563.5 784.0,563.7 785.0,563.8 786.0,564.0 787.0,564.1 788.0,564.3 789.0,564.4 790.0,564.6 791.0,564.7 792.0,564.9 793.0,565.1 794.0,565.2 795.0,565.4 796.0,565.5 797.0,565.7 798.0,565.8 799.0,566.0 800.0,566.1 801.0,566.3 802.0,566.4 803.0,567.1 804.0,566.7 805.0,566.9 806.0,567.0 807.0,567.2 808.0,567.3 809.0,567.4 810.0,567.6 811.0,567.2 812.0,568.4 813.0,568.5 814.0,568.7 815.0,568.3 816.0,568.5 817.0,569.1 818.0,568.7 819.0,569.4" fill="none" stroke="#8e8e8e" stroke-width="1.3" stroke-linejoin="miter"/>
<polyline points="819.0,569.4 820.0,568.5 821.0,569.1 822.0,568.7 823.0,568.9 824.0,569.5 825.0,570.1 826.0,569.7 827.0,570.3 828.0,570.0 829.0,570.1 830.0,570.2 831.0,569.8 832.0,570.9 833.0,570.1 834.0,570.7 835.0,570.7 836.0,570.8 837.0,571.4 838.0,570.5 839.0,570.6 840.0,570.7 841.0,571.2 842.0,571.3 843.0,570.9 844.0,572.0 845.0,571.1 846.0,571.7 847.0,571.7 848.0,571.8 849.0,571.9 850.0,572.0 851.0,571.5 852.0,571.6 853.0,571.6 854.0,572.2 855.0,572.2 856.0,571.8 857.0,572.3 858.0,572.9 859.0,572.5 860.0,573.0 861.0,572.6 862.0,572.1 863.0,572.2 864.0,573.2 865.0,572.3 866.0,572.8 867.0,572.9 868.0,573.5 869.0,573.5 870.0,573.6 871.0,572.6 872.0,573.7 873.0,573.2 874.0,573.8 875.0,573.4 876.0,572.9 877.0,574.0 878.0,574.0 879.0,574.1 880.0,574.1 881.0,573.7 882.0,574.2 883.0,573.3 884.0,573.9 885.0,573.9 886.0,574.0 887.0,574.5 888.0,574.1 889.0,574.6 890.0,574.2 891.0,573.7 892.0,574.3 893.0,574.4 894.0,574.4 895.0,574.5 896.0,575.1 897.0,574.7 898.0,574.7 899.0,574.8 900.0,574.4 901.0,574.9 902.0,575.5 903.0,575.1 904.0,574.7 905.0,575.2 906.0,574.8 907.0,575.4 908.0,575.9 909.0,576.0 910.0,575.6 911.0,575.2 912.0,575.2 913.0,576.3 914.0,576.4 915.0,575.9 916.0,576.5 917.0,575.6 918.0,575.6 919.0,576.2 920.0,576.8 921.0,575.9 922.0,576.9 923.0,577.0 924.0,576.1 925.0,576.6 926.0,576.7 927.0,576.3 928.0,577.4 929.0,577.4 930.0,577.0 931.0,577.1 932.0,577.1 933.0,576.7 934.0,577.3 935.0,576.9 936.0,576.9 937.0,577.5 938.0,577.6 939.0,578.1 940.0,577.7 941.0,578.3 942.0,577.9 943.0,577.9 944.0,577.5 945.0,578.0 946.0,578.1 947.0,578.1 948.0,577.7 949.0,577.7 950.0,578.8 951.0,577.8 952.0,577.8 953.0,577.9 954.0,577.9 955.0,578.0 956.0,578.0 957.0,578.5 958.0,578.1 959.0,579.1 960.0,578.2 961.0,578.7 962.0,578.8 963.0,578.8 964.0,579.3 965.0,578.9 966.0,579.4 967.0,579.0 968.0,578.5 969.0,579.6 970.0,579.1 971.0,579.6 972.0,578.7 973.0,579.2 974.0,579.3 975.0,579.8 976.0,578.9 977.0,579.9 978.0,579.4 979.0,580.0 980.0,579.5 981.0,580.1 982.0,579.6 983.0,579.7 984.0,579.7 985.0,580.2 986.0,580.3 987.0,579.8 988.0,580.4 989.0,580.4 990.0,579.9 991.0,580.0 992.0,580.0 993.0,580.6 994.0,580.6 995.0,579.7 996.0,580.2 997.0,580.2 998.0,579.7 999.0,580.8 1000.0,579.8 1001.0,579.8 1002.0,580.3 1003.0,580.3 1004.0,579.9 1005.0,579.9 1006.0,580.9 1007.0,580.9 1008.0,580.4 1009.0,580.5 1010.0,580.0 1011.0,580.0 1012.0,580.5 1013.0,581.0 1014.0,580.0 1015.0,580.6 1016.0,580.6 1017.0,580.1 1018.0,581.1 1019.0,580.1 1020.0,580.7 1021.0,580.7 1022.0,580.2 1023.0,580.7 1024.0,580.7 1025.0,580.3 1026.0,580.3 1027.0,580.8 1028.0,580.8 1029.0,580.8 1030.0,580.9 1031.0,581.4 1032.0,580.9 1033.0,580.9 1034.0,581.4 1035.0,581.0 1036.0,580.5 1037.0,580.5 1038.0,580.5 1039.0,580.5 1040.0,580.5 1041.0,581.1 1042.0,581.1 1043.0,580.6 1044.0,580.6 1045.0,581.6 1046.0,581.7 1047.0,581.2 1048.0,580.7 1049.0,581.7 1050.0,581.2 1051.0,581.7 1052.0,581.8 1053.0,580.8 1054.0,581.3 1055.0,581.8 1056.0,581.8 1057.0,581.3 1058.0,580.8 1059.0,580.8 1060.0,581.9 1061.0,581.4 1062.0,580.9 1063.0,581.4 1064.0,581.4 1065.0,581.4 1066.0,581.9 1067.0,581.0 1068.0,581.5 1069.0,582.0 1070.0,581.0 1071.0,581.5 1072.0,581.5 1073.0,581.5 1074.0,581.0 1075.0,581.6 1076.0,581.6 1077.0,582.1 1078.0,582.1 1079.0,581.1 1080.0,581.6 1081.0,581.6 1082.0,581.7 1083.0,581.7 1084.0,581.7 1085.0,581.7 1086.0,582.2 1087.0,582.2 1088.0,581.7 1089.0,581.8 1090.0,582.3 1091.0,582.3 1092.0,582.3 1093.0,582.3 1094.0,581.3 1095.0,581.8 1096.0,581.3 1097.0,581.9 1098.0,581.4 1099.0,581.4 1100.0,581.9 1101.0,581.9 1102.0,581.4 1103.0,582.4 1104.0,581.4 1105.0,581.9 1106.0,581.9 1107.0,581.9 1108.0,582.4 1109.0,582.4 1110.0,581.4 1111.0,582.0 1112.0,582.5 1113.0,582.0 1114.0,582.0 1115.0,582.0 1116.0,581.5 1117.0,582.5 1118.0,582.0 1119.0,582.5 1120.0,582.5 1121.0,581.5 1122.0,582.0 1123.0,582.0 1124.0,582.5 1125.0,582.0 1126.0,582.5 1127.0,582.0 1128.0,582.0 1129.0,582.5 1130.0,582.0 1131.0,582.6 1132.0,582.6 1133.0,582.1 1134.0,582.1 1135.0,582.1 1136.0,582.1 1137.0,581.6 1138.0,582.6 1139.0,582.1 1140.0,582.1 1141.0,582.1 1142.0,582.1 1143.0,581.6 1144.0,581.6 1145.0,582.1 1146.0,582.1 1147.0,581.6 1148.0,582.1 1149.0,581.6 1150.0,581.6 1151.0,582.2 1152.0,582.7 1153.0,582.2 1154.0,582.2 1155.0,581.7 1156.0,582.7 1157.0,582.2 1158.0,582.2 1159.0,581.7 1160.0,582.2 1161.0,582.7 1162.0,582.2 1163.0,581.7 1164.0,581.7 1165.0,582.7 1166.0,582.2 1167.0,582.2 1168.0,582.2 1169.0,582.7 1170.0,582.8 1171.0,582.3 1172.0,582.3 1173.0,581.8 1174.0,581.8 1175.0,582.8 1176.0,581.8 1177.0,582.3 1178.0,582.3 1179.0,582.3 1180.0,582.8 1181.0,582.3 1182.0,582.3 1183.0,582.3 1184.0,581.8 1185.0,582.3 1186.0,581.8 1187.0,581.8 1188.0,582.8 1189.0,581.8 1190.0,582.9 1191.0,582.9 1192.0,582.9 1193.0,582.4 1194.0,582.4 1195.0,582.4 1196.0,582.4 1197.0,581.9 1198.0,582.4 1199.0,581.9 1200.0,582.9 1201.0,582.4 1202.0,582.9 1203.0,582.9 1204.0,582.4 1205.0,582.4 1206.0,582.9 1207.0,582.4 1208.0,582.4 1209.0,582.4 1210.0,582.4 1211.0,581.9 1212.0,582.9 1213.0,583.0 1214.0,582.5 1215.0,583.0 1216.0,582.5 1217.0,582.0 1218.0,582.5 1219.0,582.0 1220.0,583.0 1221.0,582.5 1222.0,582.5 1223.0,582.5 1224.0,582.0 1225.0,583.0 1226.0,582.0 1227.0,582.5 1228.0,582.0 1229.0,583.0 1230.0,583.0 1231.0,582.5 1232.0,582.5 1233.0,582.5 1234.0,582.5 1235.0,583.0 1236.0,583.0 1237.0,582.5 1238.0,582.1 1239.0,582.6 1240.0,582.6 1241.0,582.1 1242.0,582.6 1243.0,582.6 1244.0,583.1 1245.0,582.6 1246.0,582.1 1247.0,582.6 1248.0,583.1 1249.0,582.6 1250.0,583.1 1251.0,582.1 1252.0,583.1 1253.0,582.6 1254.0,582.6 1255.0,582.1 1256.0,582.1 1257.0,582.1 1258.0,582.1 1259.0,582.6 1260.0,582.1 1261.0,583.1 1262.0,582.6 1263.0,583.2 1264.0,583.2 1265.0,582.7 1266.0,582.7 1267.0,582.2 1268.0,582.7 1269.0,582.7 1270.0,583.2 1271.0,582.7 1272.0,582.7 1273.0,582.7 1274.0,582.7 1275.0,583.2 1276.0,583.2 1277.0,582.2 1278.0,582.7 1279.0,583.2 1280.0,582.2 1281.0,582.7 1282.0,582.7 1283.0,582.7 1284.0,582.7 1285.0,582.7 1286.0,582.7 1287.0,582.2 1288.0,582.8 1289.0,582.8 1290.0,583.3 1291.0,582.3 1292.0,583.3 1293.0,583.3 1294.0,582.8 1295.0,582.3 1296.0,582.8 1297.0,582.3 1298.0,582.8 1299.0,582.3 1300.0,582.8 1301.0,582.8 1302.0,582.8 1303.0,583.3 1304.0,582.8 1305.0,582.3 1306.0,582.8 1307.0,582.3 1308.0,582.8 1309.0,582.8 1310.0,583.3 1311.0,582.8 1312.0,582.4 1313.0,582.9 1314.0,583.4 1315.0,582.4 1316.0,582.9 1317.0,583.4 1318.0,582.4 1319.0,582.9 1320.0,583.4 1321.0,583.4 1322.0,583.4 1323.0,582.9 1324.0,583.4" fill="none" stroke="#8e8e8e" stroke-width="1.7" stroke-linejoin="miter"/>
<polyline points="1324.5,611.6 1324.7,539.1 1346.3,539.1 1346.4,549.0 1346.6,542.3 1372.0,542.3 1377.0,543.2 1380.8,546.5 1381.4,546.8 1381.5,498.8 1382.2,502.4 1411.2,502.4 1411.3,505.6 1423.5,505.6 1423.6,450.7 1425.5,457.5 1428.0,462.5 1432.5,465.0 1441.5,465.0 1442.5,462.8 1479.3,462.8 1479.4,474.0 1479.6,465.0 1488.2,465.0 1488.2,472.0 1488.3,410.4 1492.0,411.3 1504.9,411.3 1505.2,406.6 1517.4,406.6 1517.5,411.5 1517.6,361.0 1518.4,363.4 1521.0,360.6 1526.8,356.8 1533.0,352.6 1540.3,348.8 1547.0,346.0 1553.7,344.0 1563.1,342.1 1563.3,348.8 1563.6,297.8 1564.6,306.5 1566.0,309.9 1569.0,308.8 1572.5,307.2 1580.5,304.0 1589.9,299.7 1590.6,305.8 1591.0,234.7 1592.2,242.5 1593.6,246.8 1595.3,248.1 1599.0,245.5 1607.4,240.1 1614.0,236.2 1620.8,232.8 1628.0,229.6 1634.2,227.2 1635.6,230.7 1638.8,236.0 1639.3,179.7 1642.3,175.6 1646.0,169.6 1650.3,163.6 1655.0,158.6 1661.1,153.6 1666.0,150.0 1671.8,146.6 1676.0,144.0 1680.6,141.3" fill="none" stroke="#ea2249" stroke-width="1.0" stroke-linejoin="miter"/>
<polyline points="1324.7,539.1 1346.3,539.1 1346.4,549.0 1346.6,542.3 1372.0,542.3 1377.0,543.2 1380.8,546.5 1381.4,546.8" fill="none" stroke="#ea2249" stroke-width="2.0" stroke-linejoin="miter"/>
<polyline points="1381.5,498.8 1382.2,502.4 1411.2,502.4 1411.3,505.6 1423.5,505.6" fill="none" stroke="#ea2249" stroke-width="2.0" stroke-linejoin="miter"/>
<polyline points="1423.6,450.7 1425.5,457.5 1428.0,462.5 1432.5,465.0 1441.5,465.0 1442.5,462.8 1479.3,462.8 1479.4,474.0 1479.6,465.0 1488.2,465.0 1488.2,472.0" fill="none" stroke="#ea2249" stroke-width="2.0" stroke-linejoin="miter"/>
<polyline points="1488.3,410.4 1492.0,411.3 1504.9,411.3 1505.2,406.6 1517.4,406.6 1517.5,411.5" fill="none" stroke="#ea2249" stroke-width="2.0" stroke-linejoin="miter"/>
<polyline points="1517.6,361.0 1518.4,363.4 1521.0,360.6 1526.8,356.8 1533.0,352.6 1540.3,348.8 1547.0,346.0 1553.7,344.0 1563.1,342.1 1563.3,348.8" fill="none" stroke="#ea2249" stroke-width="2.0" stroke-linejoin="miter"/>
<polyline points="1563.6,297.8 1564.6,306.5 1566.0,309.9 1569.0,308.8 1572.5,307.2 1580.5,304.0 1589.9,299.7 1590.6,305.8" fill="none" stroke="#ea2249" stroke-width="2.0" stroke-linejoin="miter"/>
<polyline points="1591.0,234.7 1592.2,242.5 1593.6,246.8 1595.3,248.1 1599.0,245.5 1607.4,240.1 1614.0,236.2 1620.8,232.8 1628.0,229.6 1634.2,227.2 1635.6,230.7 1638.8,236.0" fill="none" stroke="#ea2249" stroke-width="2.0" stroke-linejoin="miter"/>
<polyline points="1639.3,179.7 1642.3,175.6 1646.0,169.6 1650.3,163.6 1655.0,158.6 1661.1,153.6 1666.0,150.0 1671.8,146.6 1676.0,144.0 1680.6,141.3" fill="none" stroke="#ea2249" stroke-width="2.0" stroke-linejoin="miter"/>
<rect x="1325" y="537.9" width="21.0" height="2.6" fill="#ea2249"/>
<rect x="1347" y="540.8" width="32.0" height="3.0" fill="#ea2249"/>
<rect x="1382" y="500.5" width="29.0" height="3.8" fill="#ea2249"/>
<rect x="1411.5" y="504.3" width="11.9" height="2.6" fill="#ea2249"/>
<rect x="1442.5" y="461.2" width="36.5" height="3.2" fill="#ea2249"/>
<rect x="1480" y="463.7" width="8.0" height="3.0" fill="#ea2249"/>
<rect x="1489" y="410.0" width="16.0" height="2.4" fill="#ea2249"/>
<rect x="1505.5" y="405.3" width="11.5" height="2.6" fill="#ea2249"/>
<rect x="1543.0" y="345.1" width="2" height="3.3" fill="#ea2249"/>
<rect x="1640.8" y="175.0" width="2" height="4.0" fill="#ea2249"/>
<rect x="1639.4" y="177.0" width="2" height="4.2" fill="#ea2249"/>
<rect x="1673.4" y="143.0" width="2" height="4.2" fill="#ea2249"/>
<rect x="1540.0" y="346.4" width="2" height="2.6" fill="#ea2249"/>
<rect x="1617.9" y="231.6" width="1" height="3.6" fill="#ea2249"/>
<rect x="1544.4" y="344.5" width="1" height="3.3" fill="#ea2249"/>
<rect x="1610.6" y="235.6" width="2" height="3.9" fill="#ea2249"/>
<rect x="1563.3" y="346.1" width="2" height="3.7" fill="#ea2249"/>
<rect x="1571.5" y="305.1" width="2" height="2.9" fill="#ea2249"/>
<rect x="1592.5" y="240.7" width="2" height="3.8" fill="#ea2249"/>
<rect x="1614.2" y="233.5" width="2" height="4.0" fill="#ea2249"/>
<rect x="1635.4" y="227.7" width="2" height="3.9" fill="#ea2249"/>
<rect x="1574.0" y="304.0" width="3" height="3.1" fill="#ea2249"/>
<rect x="1548.4" y="343.0" width="2" height="2.9" fill="#ea2249"/>
<rect x="1679.3" y="139.5" width="2" height="3.0" fill="#ea2249"/>
<rect x="1589.0" y="297.5" width="2" height="2.8" fill="#ea2249"/>
<rect x="1572.9" y="304.5" width="3" height="2.9" fill="#ea2249"/>
<rect x="1618.9" y="231.2" width="2" height="4.5" fill="#ea2249"/>
<rect x="1527.3" y="353.9" width="2" height="3.6" fill="#ea2249"/>
<rect x="1617.3" y="232.0" width="2" height="3.0" fill="#ea2249"/>
<rect x="1580.5" y="301.4" width="1" height="2.6" fill="#ea2249"/>
<rect x="1601.8" y="241.1" width="1" height="3.5" fill="#ea2249"/>
<rect x="1537.9" y="347.4" width="2" height="3.3" fill="#ea2249"/>
<rect x="1609.2" y="236.4" width="1" height="3.2" fill="#ea2249"/>
<rect x="1578.7" y="302.1" width="2" height="4.3" fill="#ea2249"/>
<rect x="1629.3" y="226.5" width="1" height="3.5" fill="#ea2249"/>
<rect x="1571.1" y="305.3" width="1" height="2.6" fill="#ea2249"/>
<rect x="1519.0" y="360.1" width="3" height="2.9" fill="#ea2249"/>
<rect x="1589.1" y="297.5" width="1" height="2.6" fill="#ea2249"/>
<rect x="1637.0" y="230.5" width="2" height="3.4" fill="#ea2249"/>
<rect x="1577.6" y="302.6" width="2" height="4.1" fill="#ea2249"/>
<rect x="1553.3" y="341.5" width="2" height="3.7" fill="#ea2249"/>
<rect x="1601.0" y="241.6" width="3" height="2.9" fill="#ea2249"/>
<rect x="1541.4" y="345.8" width="2" height="3.6" fill="#ea2249"/>
<rect x="1537.9" y="347.5" width="1" height="4.3" fill="#ea2249"/>
<rect x="1588.3" y="297.8" width="3" height="3.3" fill="#ea2249"/>
<rect x="1597.9" y="243.7" width="3" height="3.4" fill="#ea2249"/>
<rect x="1541.5" y="345.7" width="1" height="3.8" fill="#ea2249"/>
<rect x="1613.4" y="234.0" width="3" height="3.1" fill="#ea2249"/>
<rect x="1565.2" y="305.3" width="2" height="4.0" fill="#ea2249"/>
<rect x="1660.3" y="151.6" width="1" height="4.3" fill="#ea2249"/>
<rect x="1639.1" y="198.2" width="2" height="4.2" fill="#ea2249"/>
<rect x="1571.2" y="305.2" width="3" height="3.8" fill="#ea2249"/>
<rect x="1534.2" y="349.4" width="2" height="3.8" fill="#ea2249"/>
<rect x="1660.9" y="151.1" width="1" height="3.1" fill="#ea2249"/>
<rect x="1623.4" y="229.0" width="3" height="2.6" fill="#ea2249"/>
<rect x="1602.4" y="240.7" width="3" height="3.5" fill="#ea2249"/>
<rect x="1557.5" y="340.6" width="3" height="2.9" fill="#ea2249"/>
<rect x="1651.2" y="160.1" width="3" height="4.3" fill="#ea2249"/>
<rect x="1582.8" y="300.4" width="2" height="3.4" fill="#ea2249"/>
<rect x="1673.7" y="142.9" width="1" height="3.6" fill="#ea2249"/>
<rect x="1574.2" y="303.9" width="2" height="3.7" fill="#ea2249"/>
<rect x="1577.7" y="302.5" width="2" height="3.1" fill="#ea2249"/>
<rect x="1657.5" y="154.0" width="2" height="3.9" fill="#ea2249"/>
<rect x="1603.6" y="239.9" width="2" height="3.9" fill="#ea2249"/>
<rect x="1657.1" y="154.3" width="2" height="3.5" fill="#ea2249"/>
<rect x="1656.5" y="154.8" width="1" height="2.7" fill="#ea2249"/>
<rect x="1592.5" y="241.0" width="3" height="3.5" fill="#ea2249"/>
<rect x="1654.6" y="156.4" width="2" height="4.0" fill="#ea2249"/>
<rect x="1571.6" y="305.0" width="1" height="4.3" fill="#ea2249"/>
<rect x="1628.6" y="226.8" width="2" height="3.0" fill="#ea2249"/>
<rect x="1578.1" y="302.4" width="1" height="3.1" fill="#ea2249"/>
<rect x="1574.6" y="303.7" width="1" height="4.4" fill="#ea2249"/>
<rect x="1636.9" y="230.2" width="1" height="3.1" fill="#ea2249"/>
<rect x="1546.8" y="343.5" width="1" height="3.5" fill="#ea2249"/>
<rect x="1552.7" y="341.7" width="3" height="3.2" fill="#ea2249"/>
<rect x="1556.4" y="340.9" width="2" height="3.6" fill="#ea2249"/>
<rect x="1615.3" y="232.9" width="2" height="2.9" fill="#ea2249"/>
<rect x="1567.6" y="306.7" width="2" height="2.7" fill="#ea2249"/>
<rect x="1605.3" y="238.8" width="2" height="2.5" fill="#ea2249"/>
<rect x="1547.4" y="343.3" width="2" height="3.3" fill="#ea2249"/>
<rect x="1598.7" y="243.1" width="2" height="3.5" fill="#ea2249"/>
<rect x="1597.1" y="244.2" width="2" height="3.7" fill="#ea2249"/>
<rect x="1641.1" y="174.7" width="1" height="3.3" fill="#ea2249"/>
<rect x="1658.2" y="153.4" width="1" height="3.1" fill="#ea2249"/>
<rect x="1575.2" y="303.5" width="1" height="3.1" fill="#ea2249"/>
<rect x="1620.3" y="230.4" width="1" height="4.3" fill="#ea2249"/>
<rect x="1579.3" y="301.9" width="1" height="3.2" fill="#ea2249"/>
<rect x="1621.2" y="230.0" width="2" height="3.9" fill="#ea2249"/>
<rect x="1676.0" y="141.4" width="2" height="3.7" fill="#ea2249"/>
<rect x="1628.2" y="226.9" width="2" height="3.1" fill="#ea2249"/>
<rect x="1585.0" y="299.3" width="3" height="3.8" fill="#ea2249"/>
<rect x="1667.7" y="146.4" width="2" height="3.6" fill="#ea2249"/>
<rect x="1642.0" y="173.4" width="2" height="3.2" fill="#ea2249"/>
<rect x="1548.2" y="343.0" width="2" height="2.9" fill="#ea2249"/>
<rect x="1653.3" y="157.8" width="2" height="3.1" fill="#ea2249"/>
<rect x="1545.1" y="344.2" width="3" height="3.5" fill="#ea2249"/>
<rect x="1606.1" y="238.3" width="2" height="4.3" fill="#ea2249"/>
<rect x="1608.0" y="237.1" width="2" height="3.9" fill="#ea2249"/>
<rect x="1616.6" y="232.3" width="2" height="2.8" fill="#ea2249"/>
<rect x="1626.1" y="227.8" width="1" height="3.6" fill="#ea2249"/>
<rect x="1537.9" y="347.5" width="2" height="3.6" fill="#ea2249"/>
<rect x="1569.8" y="305.8" width="2" height="3.5" fill="#ea2249"/>
<rect x="1629.1" y="226.6" width="1" height="3.0" fill="#ea2249"/>
<rect x="1553.1" y="341.6" width="1" height="3.2" fill="#ea2249"/>
<rect x="1542.7" y="345.2" width="2" height="3.9" fill="#ea2249"/>
<rect x="1561.6" y="339.8" width="3" height="4.4" fill="#ea2249"/>
<rect x="1626.4" y="227.7" width="1" height="3.0" fill="#ea2249"/>
<rect x="1575.0" y="303.6" width="2" height="2.7" fill="#ea2249"/>
<rect x="1658.8" y="152.9" width="1" height="2.7" fill="#ea2249"/>
<rect x="1677.5" y="140.5" width="2" height="2.7" fill="#ea2249"/>
<rect x="1652.4" y="158.8" width="1" height="2.6" fill="#ea2249"/>
<rect x="1598.0" y="243.6" width="3" height="2.8" fill="#ea2249"/>
<rect x="1663.9" y="149.0" width="2" height="3.4" fill="#ea2249"/>
<rect x="1610.1" y="235.9" width="2" height="4.5" fill="#ea2249"/>
<rect x="1588.2" y="297.9" width="2" height="3.0" fill="#ea2249"/>
<rect x="1664.1" y="148.8" width="1" height="2.6" fill="#ea2249"/>
<rect x="1588.5" y="297.8" width="1" height="4.1" fill="#ea2249"/>
<rect x="1540.1" y="346.3" width="2" height="2.9" fill="#ea2249"/>
<path d="M1375 541 L1381.4 541 L1381.4 548.5 Z" fill="#ea2249"/>
<rect x="1345.8" y="537" width="1.3" height="12.3" fill="#ea2249"/>
<rect x="1380.9" y="497" width="1.3" height="50.0" fill="#ea2249"/>
<rect x="1423.1" y="449" width="1.3" height="21.0" fill="#ea2249"/>
<rect x="1478.8" y="459.5" width="1.3" height="14.5" fill="#ea2249"/>
<rect x="1487.7" y="409" width="1.3" height="63.0" fill="#ea2249"/>
<rect x="1517.0" y="359" width="1.3" height="53.0" fill="#ea2249"/>
<rect x="1563.0" y="296" width="1.3" height="53.0" fill="#ea2249"/>
<rect x="1590.4" y="233" width="1.3" height="73.0" fill="#ea2249"/>
<rect x="1638.7" y="178" width="1.3" height="59.0" fill="#ea2249"/>
<polyline points="1324.5,585.4 1324.8,585.4 1324.8,558.1 1325.0,558.1 1325.0,546.9 1325.2,546.3 1325.5,545.7 1325.8,545.1 1326.0,544.6 1326.2,544.1 1326.5,543.7 1326.8,543.3 1327.0,542.9 1327.2,542.6 1327.5,542.3 1327.8,542.0 1328.0,541.8 1328.2,541.6 1328.5,541.3 1328.8,541.2 1329.0,541.0 1329.2,540.8 1329.5,540.7 1329.8,540.5 1330.0,540.4 1330.2,540.3 1330.5,540.2 1330.8,540.1 1331.0,540.0 1331.2,539.9 1331.5,539.9 1331.8,539.8 1332.0,539.7 1332.2,539.7 1332.5,539.6 1332.8,539.6 1333.0,539.5 1333.2,539.5 1333.5,539.5 1333.8,539.4 1334.0,539.4 1334.2,539.4 1334.5,539.4 1334.8,539.3 1335.0,539.3 1335.2,539.3 1335.5,539.3 1335.8,539.3 1336.0,539.3 1336.2,539.2 1336.5,539.2 1336.8,539.2 1337.0,539.2 1337.2,539.2 1337.5,539.2 1337.8,539.2 1338.0,539.2 1338.2,539.2 1338.5,539.2 1338.8,539.2 1339.0,539.2 1339.2,539.1 1339.5,539.1 1339.8,539.1 1340.0,539.1 1340.2,539.1 1340.5,539.1 1340.8,539.1 1341.0,539.1 1341.2,539.1 1341.5,539.1 1341.8,539.1 1342.0,539.1 1342.2,539.1 1342.5,539.1 1342.8,539.1 1343.0,539.1 1343.2,539.1 1343.5,539.1 1343.8,539.1 1344.0,539.1 1344.2,539.1 1344.5,539.1 1344.8,539.1 1345.0,539.1 1345.2,539.1 1345.5,539.1 1345.8,539.1 1346.0,539.1 1346.2,539.1 1346.5,539.7 1346.8,539.9 1347.0,537.6 1347.2,537.6 1347.5,537.6 1347.8,537.6 1348.0,537.6 1348.2,537.6 1348.5,537.6 1348.8,537.7 1349.0,537.7 1349.2,537.7 1349.5,537.7 1349.8,537.7 1350.0,537.7 1350.2,537.7 1350.5,537.7 1350.8,537.7 1351.0,537.7 1351.2,537.7 1351.5,537.7 1351.8,537.7 1352.0,537.8 1352.2,537.8 1352.5,537.8 1352.8,537.8 1353.0,537.8 1353.2,537.8 1353.5,537.8 1353.8,537.8 1354.0,537.8 1354.2,537.8 1354.5,537.8 1354.8,537.8 1355.0,537.8 1355.2,537.8 1355.5,537.9 1355.8,537.9 1356.0,537.9 1356.2,537.9 1356.5,537.9 1356.8,537.9 1357.0,537.9 1357.2,537.9 1357.5,537.9 1357.8,537.9 1358.0,537.9 1358.2,537.9 1358.5,537.9 1358.8,538.0 1359.0,538.0 1359.2,538.0 1359.5,538.0 1359.8,538.0 1360.0,538.0 1360.2,538.0 1360.5,538.0 1360.8,538.0 1361.0,538.0 1361.2,538.0 1361.5,538.0 1361.8,538.0 1362.0,538.1 1362.2,538.1 1362.5,538.1 1362.8,538.1 1363.0,538.1 1363.2,538.1 1363.5,538.1 1363.8,538.1 1364.0,538.1 1364.2,538.1 1364.5,538.1 1364.8,538.1 1365.0,538.1 1365.2,538.1 1365.5,538.2 1365.8,538.2 1366.0,538.2 1366.2,538.2 1366.5,538.2 1366.8,538.2 1367.0,538.2 1367.2,538.2 1367.5,538.2 1367.8,538.2 1368.0,538.2 1368.2,538.2 1368.5,538.2 1368.8,538.3 1369.0,538.3 1369.2,538.3 1369.5,538.3 1369.8,538.3 1370.0,538.3 1370.2,538.3 1370.5,538.3 1370.8,538.3 1371.0,538.3 1371.2,538.3 1371.5,538.3 1371.8,538.3 1372.0,538.4 1372.2,538.4 1372.5,538.4 1372.8,538.4 1373.0,538.4 1373.2,538.4 1373.5,538.4 1373.8,538.4 1374.0,538.4 1374.2,538.4 1374.5,538.4 1374.8,538.4 1375.0,538.4 1375.2,538.4 1375.5,538.5 1375.8,538.5 1376.0,538.5 1376.2,538.5 1376.5,538.5 1376.8,538.5 1377.0,538.5 1377.2,538.5 1377.5,538.5 1377.8,538.5 1378.0,538.5 1378.2,538.5 1378.5,538.5 1378.8,538.6 1379.0,538.6 1379.2,538.6 1379.5,538.6 1379.8,538.6 1380.0,538.6 1380.2,538.6 1380.5,538.6 1380.8,538.6 1381.0,538.6 1381.2,538.6 1381.5,545.0 1381.5,517.8 1381.8,516.3 1382.0,515.0 1382.2,513.9 1382.5,513.0 1382.8,512.0 1383.0,511.2 1383.2,510.5 1383.5,509.8 1383.8,509.2 1384.0,508.6 1384.2,508.0 1384.5,507.6 1384.8,507.1 1385.0,506.7 1385.2,506.4 1385.5,506.0 1385.8,505.7 1386.0,505.4 1386.2,505.2 1386.5,504.9 1386.8,504.7 1387.0,504.5 1387.2,504.3 1387.5,504.2 1387.8,504.0 1388.0,503.9 1388.2,503.8 1388.5,503.6 1388.8,503.5 1389.0,503.4 1389.2,503.3 1389.5,503.3 1389.8,503.2 1390.0,503.1 1390.2,503.1 1390.5,503.0 1390.8,503.0 1391.0,502.9 1391.2,502.9 1391.5,502.8 1391.8,502.8 1392.0,502.8 1392.2,502.7 1392.5,502.7 1392.8,502.7 1393.0,502.6 1393.2,502.6 1393.5,502.6 1393.8,502.6 1394.0,502.6 1394.2,502.6 1394.5,502.5 1394.8,502.5 1395.0,502.5 1395.2,502.5 1395.5,502.5 1395.8,502.5 1396.0,502.5 1396.2,502.5 1396.5,502.5 1396.8,502.5 1397.0,502.5 1397.2,502.5 1397.5,502.4 1397.8,502.4 1398.0,502.4 1398.2,502.4 1398.5,502.4 1398.8,502.4 1399.0,502.4 1399.2,502.4 1399.5,502.4 1399.8,502.4 1400.0,502.4 1400.2,502.4 1400.5,502.4 1400.8,502.4 1401.0,502.4 1401.2,502.4 1401.5,502.4 1401.8,502.4 1402.0,502.4 1402.2,502.4 1402.5,502.4 1402.8,502.4 1403.0,502.4 1403.2,502.4 1403.5,502.4 1403.8,502.4 1404.0,502.4 1404.2,502.4 1404.5,502.4 1404.8,502.4 1405.0,502.4 1405.2,502.4 1405.5,502.4 1405.8,502.4 1406.0,502.4 1406.2,502.4 1406.5,502.4 1406.8,502.4 1407.0,502.4 1407.2,502.4 1407.5,502.4 1407.8,502.4 1408.0,502.4 1408.2,502.4 1408.5,502.4 1408.8,502.4 1409.0,502.4 1409.2,502.4 1409.5,502.4 1409.8,502.4 1410.0,502.4 1410.2,502.4 1410.5,502.4 1410.8,502.4 1411.0,502.4 1411.2,502.5 1411.5,503.5 1411.8,503.5 1412.0,503.5 1412.2,503.5 1412.5,503.5 1412.8,503.5 1413.0,503.5 1413.2,503.5 1413.5,503.5 1413.8,503.5 1414.0,503.5 1414.2,503.5 1414.5,503.5 1414.8,503.5 1415.0,503.5 1415.2,503.5 1415.5,503.5 1415.8,503.5 1416.0,503.5 1416.2,503.5 1416.5,503.5 1416.8,503.5 1417.0,503.5 1417.2,503.5 1417.5,503.5 1417.8,503.5 1418.0,503.5 1418.2,503.5 1418.5,503.5 1418.8,503.5 1419.0,503.5 1419.2,503.5 1419.5,503.5 1419.8,503.5 1420.0,503.5 1420.2,503.5 1420.5,503.5 1420.8,503.5 1421.0,503.5 1421.2,503.5 1421.5,503.5 1421.8,503.5 1422.0,503.5 1422.2,503.5 1422.5,503.5 1422.8,503.5 1423.0,503.5 1423.2,503.5 1423.5,503.5 1423.8,505.6 1423.8,473.6 1424.0,473.6 1424.0,461.0 1424.2,460.3 1424.5,459.7 1424.8,459.3 1425.0,459.0 1425.2,458.8 1425.5,458.7 1425.8,458.6 1426.0,458.6 1426.2,458.7 1426.5,458.7 1426.8,458.8 1427.0,459.0 1427.2,459.2 1427.5,459.4 1427.8,459.6 1428.0,459.8 1428.2,460.1 1428.5,460.3 1428.8,460.5 1429.0,460.7 1429.2,460.9 1429.5,461.2 1429.8,461.4 1430.0,461.5 1430.2,461.7 1430.5,461.9 1430.8,462.1 1431.0,462.3 1431.2,462.4 1431.5,462.6 1431.8,462.8 1432.0,463.0 1432.2,463.1 1432.5,463.3 1432.8,463.4 1433.0,463.6 1433.2,463.7 1433.5,463.8 1433.8,463.9 1434.0,464.0 1434.2,464.1 1434.5,464.2 1434.8,464.2 1435.0,464.3 1435.2,464.4 1435.5,464.4 1435.8,464.5 1436.0,464.5 1436.2,464.5 1436.5,464.6 1436.8,464.6 1437.0,464.7 1437.2,464.7 1437.5,464.7 1437.8,464.7 1438.0,464.8 1438.2,464.8 1438.5,464.8 1438.8,464.8 1439.0,464.8 1439.2,464.8 1439.5,464.9 1439.8,464.9 1440.0,464.9 1440.2,464.9 1440.5,464.9 1440.8,464.9 1441.0,464.9 1441.2,464.9 1441.5,464.9 1441.8,464.9 1442.0,463.6 1442.2,463.6 1442.5,463.6 1442.8,463.6 1443.0,463.6 1443.2,463.6 1443.5,463.6 1443.8,463.6 1444.0,463.6 1444.2,463.6 1444.5,463.6 1444.8,463.6 1445.0,463.5 1445.2,463.4 1445.5,463.4 1445.8,463.3 1446.0,463.3 1446.2,463.3 1446.5,463.2 1446.8,463.2 1447.0,463.1 1447.2,463.1 1447.5,463.1 1447.8,463.1 1448.0,463.0 1448.2,463.0 1448.5,463.0 1448.8,463.0 1449.0,463.0 1449.2,463.0 1449.5,462.9 1449.8,462.9 1450.0,462.9 1450.2,462.9 1450.5,462.9 1450.8,462.9 1451.0,462.9 1451.2,462.9 1451.5,462.9 1451.8,462.9 1452.0,462.9 1452.2,462.9 1452.5,462.8 1452.8,462.8 1453.0,462.8 1453.2,462.8 1453.5,462.8 1453.8,462.8 1454.0,462.8 1454.2,462.8 1454.5,462.8 1454.8,462.8 1455.0,462.8 1455.2,462.8 1455.5,462.8 1455.8,462.8 1456.0,462.8 1456.2,462.8 1456.5,462.8 1456.8,462.8 1457.0,462.8 1457.2,462.8 1457.5,462.8 1457.8,462.8 1458.0,462.8 1458.2,462.8 1458.5,462.8 1458.8,462.8 1459.0,462.8 1459.2,462.8 1459.5,462.8 1459.8,462.8 1460.0,462.8 1460.2,462.8 1460.5,462.8 1460.8,462.8 1461.0,462.8 1461.2,462.8 1461.5,462.8 1461.8,462.8 1462.0,462.8 1462.2,462.8 1462.5,462.8 1462.8,462.8 1463.0,462.8 1463.2,462.8 1463.5,462.8 1463.8,462.8 1464.0,462.8 1464.2,462.8 1464.5,462.8 1464.8,462.8 1465.0,462.8 1465.2,462.8 1465.5,462.8 1465.8,462.8 1466.0,462.8 1466.2,462.8 1466.5,462.8 1466.8,462.8 1467.0,462.8 1467.2,462.8 1467.5,462.8 1467.8,462.8 1468.0,462.8 1468.2,462.8 1468.5,462.8 1468.8,462.8 1469.0,462.8 1469.2,462.8 1469.5,462.8 1469.8,462.8 1470.0,462.8 1470.2,462.8 1470.5,462.8 1470.8,462.8 1471.0,462.8 1471.2,462.8 1471.5,462.8 1471.8,462.8 1472.0,462.8 1472.2,462.8 1472.5,462.8 1472.8,462.8 1473.0,462.8 1473.2,462.8 1473.5,462.8 1473.8,462.8 1474.0,462.8 1474.2,462.8 1474.5,462.8 1474.8,462.8 1475.0,462.8 1475.2,462.8 1475.5,462.8 1475.8,462.8 1476.0,462.8 1476.2,462.8 1476.5,462.8 1476.8,462.8 1477.0,462.8 1477.2,462.8 1477.5,462.8 1477.8,462.8 1478.0,462.8 1478.2,462.8 1478.5,462.8 1478.8,462.8 1479.0,462.8 1479.2,462.8 1479.5,463.4 1479.8,463.5 1480.0,463.6 1480.2,463.6 1480.5,463.6 1480.8,463.6 1481.0,463.6 1481.2,463.6 1481.5,463.6 1481.8,463.6 1482.0,463.6 1482.2,463.6 1482.5,463.6 1482.8,463.6 1483.0,463.6 1483.2,463.6 1483.5,463.6 1483.8,463.6 1484.0,463.6 1484.2,463.6 1484.5,463.6 1484.8,463.6 1485.0,463.6 1485.2,463.6 1485.5,463.6 1485.8,463.6 1486.0,463.6 1486.2,463.6 1486.5,463.6 1486.8,463.6 1487.0,463.6 1487.2,463.6 1487.5,463.6 1487.8,463.6 1488.0,463.6 1488.2,465.5 1488.5,465.5 1488.5,433.1 1488.8,433.1 1488.8,419.8 1489.0,419.0 1489.2,418.3 1489.5,417.7 1489.8,417.1 1490.0,416.5 1490.2,416.0 1490.5,415.6 1490.8,415.2 1491.0,414.9 1491.2,414.5 1491.5,414.3 1491.8,414.0 1492.0,413.8 1492.2,413.6 1492.5,413.4 1492.8,413.2 1493.0,413.0 1493.2,412.9 1493.5,412.7 1493.8,412.6 1494.0,412.5 1494.2,412.4 1494.5,412.3 1494.8,412.2 1495.0,412.1 1495.2,412.1 1495.5,412.0 1495.8,411.9 1496.0,411.9 1496.2,411.8 1496.5,411.8 1496.8,411.8 1497.0,411.7 1497.2,411.7 1497.5,411.6 1497.8,411.6 1498.0,411.6 1498.2,411.6 1498.5,411.5 1498.8,411.5 1499.0,411.5 1499.2,411.5 1499.5,411.5 1499.8,411.5 1500.0,411.4 1500.2,411.4 1500.5,411.4 1500.8,411.4 1501.0,411.4 1501.2,411.4 1501.5,411.4 1501.8,411.4 1502.0,411.4 1502.2,411.4 1502.5,411.4 1502.8,411.4 1503.0,411.3 1503.2,411.3 1503.5,411.3 1503.8,411.3 1504.0,411.3 1504.2,411.3 1504.5,411.3 1504.8,411.3 1505.0,411.2 1505.2,410.8 1505.5,410.4 1505.8,410.1 1506.0,409.8 1506.2,409.5 1506.5,409.3 1506.8,409.1 1507.0,408.8 1507.2,408.7 1507.5,408.5 1507.8,408.3 1508.0,408.2 1508.2,408.0 1508.5,407.9 1508.8,407.8 1509.0,407.7 1509.2,407.6 1509.5,407.5 1509.8,407.4 1510.0,407.4 1510.2,407.3 1510.5,407.2 1510.8,407.2 1511.0,407.1 1511.2,407.1 1511.5,407.1 1511.8,407.0 1512.0,407.0 1512.2,406.9 1512.5,406.9 1512.8,406.9 1513.0,406.9 1513.2,406.8 1513.5,406.8 1513.8,406.8 1514.0,406.8 1514.2,406.8 1514.5,406.8 1514.8,406.7 1515.0,406.7 1515.2,406.7 1515.5,406.7 1515.8,406.7 1516.0,406.7 1516.2,406.7 1516.5,406.7 1516.8,406.7 1517.0,406.7 1517.2,406.7 1517.5,407.1 1517.8,407.1 1517.8,380.2 1518.0,380.2 1518.0,369.6 1518.2,369.0 1518.5,368.6 1518.8,368.1 1519.0,367.6 1519.2,368.1 1519.5,367.7 1519.8,367.3 1520.0,366.9 1520.2,366.5 1520.5,366.1 1520.8,365.7 1521.0,365.4 1521.2,365.0 1521.5,364.7 1521.8,364.4 1522.0,364.1 1522.2,363.8 1522.5,363.5 1522.8,363.2 1523.0,363.0 1523.2,362.7 1523.5,362.5 1523.8,362.2 1524.0,362.0 1524.2,361.8 1524.5,361.6 1524.8,361.3 1525.0,361.1 1525.2,360.9 1525.5,360.7 1525.8,360.5 1526.0,360.3 1526.2,360.1 1526.5,359.9 1526.8,359.8 1527.0,359.6 1527.2,359.4 1527.5,359.2 1527.8,359.0 1528.0,358.8 1528.2,358.7 1528.5,358.5 1528.8,358.3 1529.0,358.1 1529.2,357.9 1529.5,357.8 1529.8,357.6 1530.0,357.4 1530.2,357.2 1530.5,357.1 1530.8,356.9 1531.0,356.7 1531.2,356.5 1531.5,356.4 1531.8,356.2 1532.0,356.0 1532.2,355.9 1532.5,355.7 1532.8,355.5 1533.0,355.3 1533.2,355.2 1533.5,355.0 1533.8,354.8 1534.0,354.7 1534.2,354.5 1534.5,354.4 1534.8,354.2 1535.0,354.1 1535.2,353.9 1535.5,353.8 1535.8,353.6 1536.0,353.5 1536.2,353.3 1536.5,353.2 1536.8,353.1 1537.0,352.9 1537.2,352.8 1537.5,352.6 1537.8,352.5 1538.0,352.4 1538.2,352.2 1538.5,352.1 1538.8,352.0 1539.0,351.8 1539.2,351.7 1539.5,351.6 1539.8,351.4 1540.0,351.3 1540.2,351.2 1540.5,351.0 1540.8,350.9 1541.0,350.8 1541.2,350.6 1541.5,350.5 1541.8,350.4 1542.0,350.3 1542.2,350.2 1542.5,350.0 1542.8,349.9 1543.0,349.8 1543.2,349.7 1543.5,349.6 1543.8,349.5 1544.0,349.4 1544.2,349.2 1544.5,349.1 1544.8,349.0 1545.0,348.9 1545.2,348.8 1545.5,348.7 1545.8,348.6 1546.0,348.5 1546.2,348.4 1546.5,348.3 1546.8,348.2 1547.0,348.0 1547.2,347.9 1547.5,347.8 1547.8,347.7 1548.0,347.6 1548.2,347.5 1548.5,347.5 1548.8,347.4 1549.0,347.3 1549.2,347.2 1549.5,347.1 1549.8,347.0 1550.0,346.9 1550.2,346.8 1550.5,346.8 1550.8,346.7 1551.0,346.6 1551.2,346.5 1551.5,346.4 1551.8,346.3 1552.0,346.3 1552.2,346.2 1552.5,346.1 1552.8,346.0 1553.0,345.9 1553.2,345.9 1553.5,345.8 1553.8,345.7 1554.0,345.6 1554.2,345.6 1554.5,345.5 1554.8,345.4 1555.0,345.4 1555.2,345.3 1555.5,345.2 1555.8,345.2 1556.0,345.1 1556.2,345.0 1556.5,345.0 1556.8,344.9 1557.0,344.9 1557.2,344.8 1557.5,344.7 1557.8,344.7 1558.0,344.6 1558.2,344.6 1558.5,344.5 1558.8,344.5 1559.0,344.4 1559.2,344.4 1559.5,344.3 1559.8,344.3 1560.0,344.2 1560.2,344.1 1560.5,344.1 1560.8,344.0 1561.0,344.0 1561.2,343.9 1561.5,343.9 1561.8,343.8 1562.0,343.8 1562.2,343.7 1562.5,343.7 1562.8,343.6 1563.0,343.6 1563.2,344.0 1563.5,344.0 1563.5,327.3 1563.8,327.3 1563.8,311.2 1564.0,310.5 1564.2,310.0 1564.5,309.7 1564.8,309.5 1565.0,309.4 1565.2,309.4 1565.5,309.4 1565.8,309.5 1566.0,309.6 1566.2,309.7 1566.5,309.7 1566.8,309.8 1567.0,309.9 1567.2,309.9 1567.5,309.9 1567.8,310.0 1568.0,310.0 1568.2,310.0 1568.5,310.0 1568.8,309.9 1569.0,309.9 1569.2,309.9 1569.5,309.9 1569.8,309.8 1570.0,309.8 1570.2,309.7 1570.5,309.7 1570.8,309.6 1571.0,309.5 1571.2,309.4 1571.5,309.4 1571.8,309.3 1572.0,309.2 1572.2,309.1 1572.5,309.0 1572.8,308.9 1573.0,308.9 1573.2,308.8 1573.5,308.7 1573.8,308.6 1574.0,308.5 1574.2,308.4 1574.5,308.3 1574.8,308.2 1575.0,308.1 1575.2,308.0 1575.5,307.9 1575.8,307.8 1576.0,307.7 1576.2,307.6 1576.5,307.5 1576.8,307.4 1577.0,307.3 1577.2,307.2 1577.5,307.1 1577.8,307.1 1578.0,307.0 1578.2,306.9 1578.5,306.8 1578.8,306.7 1579.0,306.6 1579.2,306.5 1579.5,306.4 1579.8,306.3 1580.0,306.2 1580.2,306.1 1580.5,306.0 1580.8,305.9 1581.0,305.8 1581.2,305.7 1581.5,305.6 1581.8,305.4 1582.0,305.3 1582.2,305.2 1582.5,305.1 1582.8,305.0 1583.0,304.9 1583.2,304.8 1583.5,304.7 1583.8,304.6 1584.0,304.5 1584.2,304.4 1584.5,304.3 1584.8,304.1 1585.0,304.0 1585.2,303.9 1585.5,303.8 1585.8,303.7 1586.0,303.6 1586.2,303.5 1586.5,303.4 1586.8,303.2 1587.0,303.1 1587.2,303.0 1587.5,302.9 1587.8,302.8 1588.0,302.7 1588.2,302.6 1588.5,302.5 1588.8,302.3 1589.0,302.2 1589.2,302.1 1589.5,302.0 1589.8,301.9 1590.0,301.9 1590.2,302.0 1590.5,302.3 1590.8,302.3 1590.8,289.2 1591.0,289.2 1591.0,257.7 1591.2,298.4 1591.2,298.4 1591.5,290.3 1591.8,282.2 1592.0,274.1 1592.2,270.4 1592.5,269.5 1592.8,268.6 1593.0,267.7 1593.2,266.8 1593.5,266.0 1593.8,265.1 1594.0,264.2 1594.2,263.7 1594.5,263.2 1594.8,262.7 1595.0,262.2 1595.2,261.7 1595.5,261.2 1595.8,260.7 1596.0,260.2 1596.2,259.7 1596.5,259.2 1596.8,258.7 1597.0,258.2 1597.2,257.7 1597.5,257.2 1597.8,256.7 1598.0,256.2 1598.2,255.9 1598.5,255.6 1598.8,255.4 1599.0,255.1 1599.2,254.8 1599.5,254.5 1599.8,254.2 1600.0,254.0 1600.2,253.7 1600.5,253.4 1600.8,253.1 1601.0,252.8 1601.2,252.6 1601.5,252.3 1601.8,252.0 1602.0,251.7 1602.2,251.4 1602.5,251.2 1602.8,250.9 1603.0,250.6 1603.2,250.4 1603.5,250.2 1603.8,250.0 1604.0,249.7 1604.2,249.5 1604.5,249.3 1604.8,249.1 1605.0,248.9 1605.2,248.7 1605.5,248.4 1605.8,248.2 1606.0,248.0 1606.2,247.8 1606.5,247.6 1606.8,247.4 1607.0,247.1 1607.2,246.9 1607.5,246.7 1607.8,246.5 1608.0,246.3 1608.2,246.1 1608.5,245.9 1608.8,245.7 1609.0,245.5 1609.2,245.3 1609.5,245.1 1609.8,244.9 1610.0,244.8 1610.2,244.6 1610.5,244.4 1610.8,244.2 1611.0,244.0 1611.2,243.8 1611.5,243.6 1611.8,243.4 1612.0,243.2 1612.2,243.0 1612.5,242.8 1612.8,242.6 1613.0,242.4 1613.2,242.2 1613.5,242.0 1613.8,241.8 1614.0,241.6 1614.2,241.4 1614.5,241.3 1614.8,241.1 1615.0,241.0 1615.2,240.8 1615.5,240.7 1615.8,240.5 1616.0,240.4 1616.2,240.2 1616.5,240.1 1616.8,239.9 1617.0,239.7 1617.2,239.6 1617.5,239.4 1617.8,239.3 1618.0,239.1 1618.2,239.0 1618.5,238.8 1618.8,238.7 1619.0,238.5 1619.2,238.4 1619.5,238.2 1619.8,238.0 1620.0,237.9 1620.2,237.7 1620.5,237.6 1620.8,237.4 1621.0,237.3 1621.2,237.2 1621.5,237.1 1621.8,237.0 1622.0,236.9 1622.2,236.8 1622.5,236.7 1622.8,236.6 1623.0,236.5 1623.2,236.3 1623.5,236.2 1623.8,236.1 1624.0,236.0 1624.2,235.9 1624.5,235.8 1624.8,235.7 1625.0,235.6 1625.2,235.5 1625.5,235.4 1625.8,235.3 1626.0,235.2 1626.2,235.1 1626.5,234.9 1626.8,234.8 1627.0,234.7 1627.2,234.6 1627.5,234.5 1627.8,234.4 1628.0,234.3 1628.2,234.2 1628.5,234.1 1628.8,234.0 1629.0,233.9 1629.2,233.8 1629.5,233.7 1629.8,233.6 1630.0,233.4 1630.2,233.3 1630.5,233.2 1630.8,233.1 1631.0,233.0 1631.2,232.9 1631.5,232.8 1631.8,232.8 1632.0,232.8 1632.2,232.7 1632.5,232.7 1632.8,232.7 1633.0,232.7 1633.2,232.6 1633.5,232.6 1633.8,232.6 1634.0,232.6 1634.2,232.6 1634.5,232.5 1634.8,232.5 1635.0,232.5 1635.2,232.5 1635.5,232.4 1635.8,232.4 1636.0,232.4 1636.2,232.5 1636.5,232.6 1636.8,232.7 1637.0,232.8 1637.2,232.9 1637.5,233.0 1637.8,233.1 1638.0,233.1 1638.2,233.2 1638.5,233.3 1638.8,233.4 1639.0,233.5 1639.0,233.5 1639.2,222.1 1639.2,201.0 1639.5,201.0 1639.5,188.8 1639.8,188.1 1640.0,187.4 1640.2,186.7 1640.5,186.0 1640.8,185.4 1641.0,184.8 1641.2,184.2 1641.5,183.6 1641.8,183.1 1642.0,182.6 1642.2,182.0 1642.5,181.5 1642.8,181.0 1643.0,180.6 1643.2,180.1 1643.5,179.6 1643.8,179.1 1644.0,178.7 1644.2,178.2 1644.5,177.8 1644.8,177.3 1645.0,176.9 1645.2,176.4 1645.5,176.0 1645.8,175.6 1646.0,175.1 1646.2,174.7 1646.5,174.3 1646.8,173.9 1647.0,173.5 1647.2,173.1 1647.5,172.7 1647.8,172.3 1648.0,171.9 1648.2,171.5 1648.5,171.1 1648.8,170.7 1649.0,170.4 1649.2,170.0 1649.5,169.6 1649.8,169.2 1650.0,168.9 1650.2,168.5 1650.5,168.1 1650.8,167.8 1651.0,167.4 1651.2,167.1 1651.5,166.8 1651.8,166.4 1652.0,166.1 1652.2,165.8 1652.5,165.5 1652.8,165.2 1653.0,164.9 1653.2,164.6 1653.5,164.3 1653.8,164.0 1654.0,163.7 1654.2,163.4 1654.5,163.1 1654.8,162.8 1655.0,162.5 1655.2,162.3 1655.5,162.0 1655.8,161.7 1656.0,161.5 1656.2,161.2 1656.5,161.0 1656.8,160.7 1657.0,160.5 1657.2,160.2 1657.5,160.0 1657.8,159.8 1658.0,159.5 1658.2,159.3 1658.5,159.1 1658.8,158.8 1659.0,158.6 1659.2,158.4 1659.5,158.2 1659.8,158.0 1660.0,157.7 1660.2,157.5 1660.5,157.3 1660.8,157.1 1661.0,156.9 1661.2,156.7 1661.5,156.5 1661.8,156.2 1662.0,156.0 1662.2,155.8 1662.5,155.6 1662.8,155.4 1663.0,155.2 1663.2,155.0 1663.5,154.8 1663.8,154.6 1664.0,154.5 1664.2,154.3 1664.5,154.1 1664.8,153.9 1665.0,153.7 1665.2,153.5 1665.5,153.3 1665.8,153.1 1666.0,152.9 1666.2,152.7 1666.5,152.6 1666.8,152.4 1667.0,152.2 1667.2,152.0 1667.5,151.9 1667.8,151.7 1668.0,151.5 1668.2,151.4 1668.5,151.2 1668.8,151.0 1669.0,150.9 1669.2,150.7 1669.5,150.5 1669.8,150.4 1670.0,150.2 1670.2,150.1 1670.5,149.9 1670.8,149.8 1671.0,149.6 1671.2,149.5 1671.5,149.3 1671.8,149.2 1672.0,149.0 1672.2,148.9 1672.5,148.7 1672.8,148.5 1673.0,148.4 1673.2,148.2 1673.5,148.1 1673.8,147.9 1674.0,147.8 1674.2,147.6 1674.5,147.5 1674.8,147.3 1675.0,147.2 1675.2,147.0 1675.5,146.9 1675.8,146.7 1676.0,146.6 1676.2,146.4 1676.5,146.2 1676.8,146.1 1677.0,145.9 1677.2,145.8 1677.5,145.6 1677.8,145.5 1678.0,145.3 1678.2,145.2 1678.5,145.0 1678.8,144.9 1679.0,144.7 1679.2,144.6 1679.5,144.4 1679.8,144.3 1680.0,144.1 1680.2,144.0 1680.5,143.8 1680.8,143.7" fill="none" stroke="#8e8e8e" stroke-width="1.2" stroke-linejoin="miter"/>
<rect x="1411" y="495" width="1" height="19" fill="#333"/>
<rect x="1346" y="537" width="1" height="6" fill="#666"/>
</g>
<rect x="1306" y="57" width="1" height="628" fill="#000"/>
<path d="M549.5 500.6 L557.6 505.3 L549.5 510 Z" fill="#8a8a8a" stroke="#0a0a0a" stroke-width="1.25"/>
<text x="564.20" y="509.20" font-size="9.6" fill="#000" text-anchor="start" textLength="23.40" lengthAdjust="spacingAndGlyphs">0.607</text>
<rect x="549" y="581" width="9" height="2" fill="#9a9a9a"/>
<path d="M1673.8 56.2 L1678.3 48.2 L1682.8 56.2 Z" fill="#8a8a8a" stroke="#0a0a0a" stroke-width="1.35"/>
<text x="1647.00" y="55.60" font-size="9.6" fill="#000" text-anchor="start" textLength="22.80" lengthAdjust="spacingAndGlyphs">0.925</text>
<path d="M1320.2 687.3 L1329 687.3 L1324.6 694.6 Z" fill="#8a8a8a" stroke="#0a0a0a" stroke-width="1.35"/>
<text x="1332.30" y="694.30" font-size="9.6" fill="#000" text-anchor="start" textLength="23.00" lengthAdjust="spacingAndGlyphs">0.521</text>
<text transform="translate(501.80,813.00) rotate(-90)" font-size="12" fill="#d636d2" text-anchor="middle" textLength="111.00" lengthAdjust="spacingAndGlyphs">ExPressL2C_R11 (psi)</text>
<rect x="550" y="912.60" width="8" height="1.2" fill="#000"/>
<rect x="555" y="907.52" width="3" height="1" fill="#000"/>
<rect x="555" y="902.34" width="3" height="1" fill="#000"/>
<rect x="555" y="897.16" width="3" height="1" fill="#000"/>
<rect x="555" y="891.98" width="3" height="1" fill="#000"/>
<rect x="550" y="886.70" width="8" height="1.2" fill="#000"/>
<rect x="555" y="881.62" width="3" height="1" fill="#000"/>
<rect x="555" y="876.44" width="3" height="1" fill="#000"/>
<rect x="555" y="871.26" width="3" height="1" fill="#000"/>
<rect x="555" y="866.08" width="3" height="1" fill="#000"/>
<rect x="550" y="860.80" width="8" height="1.2" fill="#000"/>
<rect x="555" y="855.72" width="3" height="1" fill="#000"/>
<rect x="555" y="850.54" width="3" height="1" fill="#000"/>
<rect x="555" y="845.36" width="3" height="1" fill="#000"/>
<rect x="555" y="840.18" width="3" height="1" fill="#000"/>
<rect x="550" y="834.90" width="8" height="1.2" fill="#000"/>
<rect x="555" y="829.82" width="3" height="1" fill="#000"/>
<rect x="555" y="824.64" width="3" height="1" fill="#000"/>
<rect x="555" y="819.46" width="3" height="1" fill="#000"/>
<rect x="555" y="814.28" width="3" height="1" fill="#000"/>
<rect x="550" y="809.00" width="8" height="1.2" fill="#000"/>
<rect x="555" y="803.92" width="3" height="1" fill="#000"/>
<rect x="555" y="798.74" width="3" height="1" fill="#000"/>
<rect x="555" y="793.56" width="3" height="1" fill="#000"/>
<rect x="555" y="788.38" width="3" height="1" fill="#000"/>
<rect x="550" y="783.10" width="8" height="1.2" fill="#000"/>
<rect x="555" y="778.02" width="3" height="1" fill="#000"/>
<rect x="555" y="772.84" width="3" height="1" fill="#000"/>
<rect x="555" y="767.66" width="3" height="1" fill="#000"/>
<rect x="555" y="762.48" width="3" height="1" fill="#000"/>
<rect x="550" y="757.20" width="8" height="1.2" fill="#000"/>
<rect x="555" y="752.12" width="3" height="1" fill="#000"/>
<rect x="555" y="746.94" width="3" height="1" fill="#000"/>
<rect x="555" y="741.76" width="3" height="1" fill="#000"/>
<rect x="555" y="736.58" width="3" height="1" fill="#000"/>
<rect x="550" y="731.30" width="8" height="1.2" fill="#000"/>
<rect x="555" y="726.22" width="3" height="1" fill="#000"/>
<rect x="555" y="721.04" width="3" height="1" fill="#000"/>
<rect x="555" y="715.86" width="3" height="1" fill="#000"/>
<text x="543.60" y="917.60" font-size="12" fill="#d636d2" text-anchor="end" textLength="24.40" lengthAdjust="spacingAndGlyphs">0.00</text>
<text x="543.60" y="891.70" font-size="12" fill="#d636d2" text-anchor="end" textLength="24.40" lengthAdjust="spacingAndGlyphs">0.50</text>
<text x="543.60" y="865.80" font-size="12" fill="#d636d2" text-anchor="end" textLength="24.40" lengthAdjust="spacingAndGlyphs">1.00</text>
<text x="543.60" y="839.90" font-size="12" fill="#d636d2" text-anchor="end" textLength="24.40" lengthAdjust="spacingAndGlyphs">1.50</text>
<text x="543.60" y="814.00" font-size="12" fill="#d636d2" text-anchor="end" textLength="24.40" lengthAdjust="spacingAndGlyphs">2.00</text>
<text x="543.60" y="788.10" font-size="12" fill="#d636d2" text-anchor="end" textLength="24.40" lengthAdjust="spacingAndGlyphs">2.50</text>
<text x="543.60" y="762.20" font-size="12" fill="#d636d2" text-anchor="end" textLength="24.40" lengthAdjust="spacingAndGlyphs">3.00</text>
<text x="543.60" y="736.30" font-size="12" fill="#d636d2" text-anchor="end" textLength="24.40" lengthAdjust="spacingAndGlyphs">3.50</text>
<clipPath id="pl"><rect x="559" y="712" width="1123" height="202.4"/></clipPath><g clip-path="url(#pl)">
<path d="M559 914 L559 913.4 L560 913.4 L561 913.4 L562 913.4 L563 913.4 L564 913.4 L565 913.4 L566 913.3 L567 913.3 L568 913.3 L569 913.3 L570 913.3 L571 913.3 L572 913.3 L573 913.3 L574 913.3 L575 913.3 L576 913.3 L577 913.3 L578 913.3 L579 913.2 L580 913.2 L581 913.2 L582 913.2 L583 913.2 L584 913.2 L585 913.2 L586 913.2 L587 913.2 L588 913.1 L589 913.1 L590 913.1 L591 913.1 L592 913.0 L593 913.0 L594 913.0 L595 913.0 L596 912.9 L597 912.9 L598 912.9 L599 912.9 L600 912.8 L601 912.8 L602 912.8 L603 912.8 L604 912.7 L605 912.7 L606 912.7 L607 912.7 L608 912.6 L609 912.6 L610 912.6 L611 912.6 L612 912.5 L613 912.5 L614 912.5 L615 912.4 L616 912.4 L617 912.4 L618 912.3 L619 912.3 L620 912.3 L621 912.2 L622 912.2 L623 912.2 L624 912.1 L625 912.1 L626 912.1 L627 912.0 L628 912.0 L629 912.0 L630 911.9 L631 911.9 L632 911.9 L633 911.8 L634 911.8 L635 911.8 L636 911.7 L637 911.7 L638 911.7 L639 911.6 L640 911.6 L641 911.5 L642 911.5 L643 911.4 L644 911.4 L645 911.3 L646 911.2 L647 911.2 L648 911.1 L649 911.1 L650 911.0 L651 910.9 L652 910.9 L653 910.8 L654 910.8 L655 910.7 L656 910.6 L657 910.6 L658 910.5 L659 910.5 L660 910.4 L661 910.3 L662 910.3 L663 910.2 L664 910.2 L665 910.1 L666 910.0 L667 910.0 L668 909.9 L669 909.9 L670 909.8 L671 909.7 L672 909.7 L673 909.6 L674 909.5 L675 909.5 L676 909.4 L677 909.3 L678 909.3 L679 909.2 L680 909.1 L681 909.1 L682 909.0 L683 908.9 L684 908.9 L685 908.8 L686 908.7 L687 908.7 L688 908.6 L689 908.5 L690 908.5 L691 908.4 L692 908.3 L693 908.3 L694 908.2 L695 908.1 L696 908.1 L697 908.0 L698 907.9 L699 907.9 L700 907.8 L701 907.7 L702 907.7 L703 907.6 L704 907.5 L705 907.4 L706 907.3 L707 907.3 L708 907.2 L709 907.1 L710 907.0 L711 906.9 L712 906.8 L713 906.7 L714 906.7 L715 906.6 L716 906.5 L717 906.4 L718 906.3 L719 906.2 L720 906.2 L721 906.1 L722 906.0 L723 905.9 L724 905.8 L725 905.7 L726 905.6 L727 905.6 L728 905.5 L729 905.4 L730 905.3 L731 905.2 L732 905.1 L733 905.0 L734 905.0 L735 904.9 L736 904.8 L737 904.7 L738 904.6 L739 904.5 L740 904.5 L741 904.4 L742 904.3 L743 904.2 L744 904.1 L745 904.0 L746 903.9 L747 903.9 L748 903.8 L749 903.7 L750 903.6 L751 903.5 L752 903.4 L753 903.3 L754 903.3 L755 903.2 L756 903.1 L757 903.0 L758 902.9 L759 902.8 L760 902.7 L761 902.7 L762 902.6 L763 902.5 L764 902.4 L765 902.3 L766 902.2 L767 902.2 L768 902.1 L769 902.0 L770 901.9 L771 901.8 L772 901.7 L773 901.6 L774 901.6 L775 901.5 L776 901.4 L777 901.3 L778 901.2 L779 901.1 L780 901.0 L781 901.0 L782 900.9 L783 900.8 L784 900.7 L785 900.6 L786 900.5 L787 900.5 L788 900.4 L789 900.3 L790 900.2 L791 900.1 L792 900.0 L793 899.9 L794 899.9 L795 899.8 L796 899.7 L797 899.6 L798 899.5 L799 899.4 L800 899.2 L801 899.1 L802 899.0 L803 898.9 L804 898.8 L805 898.6 L806 898.5 L807 898.4 L808 898.3 L809 898.1 L810 898.0 L811 897.9 L812 897.8 L813 897.7 L814 897.5 L815 897.4 L816 897.3 L817 897.2 L818 897.1 L819 896.9 L820 896.8 L821 896.7 L822 896.6 L823 896.5 L824 896.3 L825 896.2 L826 896.1 L827 896.0 L828 895.9 L829 895.7 L830 895.6 L831 895.5 L832 895.4 L833 895.2 L834 895.1 L835 895.0 L836 894.9 L837 894.8 L838 894.6 L839 894.5 L840 894.4 L841 894.3 L842 894.2 L843 894.0 L844 893.9 L845 893.8 L846 893.7 L847 893.6 L848 893.4 L849 893.3 L850 893.2 L851 893.1 L852 893.0 L853 892.8 L854 892.7 L855 892.6 L856 892.5 L857 892.4 L858 892.2 L859 892.1 L860 892.0 L861 891.9 L862 891.8 L863 891.6 L864 891.5 L865 891.4 L866 891.3 L867 891.2 L868 891.0 L869 890.9 L870 890.8 L871 890.7 L872 890.6 L873 890.4 L874 890.3 L875 890.2 L876 890.1 L877 890.0 L878 889.8 L879 889.7 L880 889.6 L881 889.5 L882 889.4 L883 889.2 L884 889.1 L885 889.0 L886 888.9 L887 888.8 L888 888.6 L889 888.5 L890 888.4 L891 888.3 L892 888.2 L893 888.1 L894 888.0 L895 887.9 L896 887.8 L897 887.8 L898 887.7 L899 887.6 L900 887.5 L901 887.4 L902 887.3 L903 887.2 L904 887.1 L905 887.0 L906 886.9 L907 886.8 L908 886.7 L909 886.7 L910 886.6 L911 886.5 L912 886.4 L913 886.3 L914 886.2 L915 886.1 L916 886.0 L917 885.9 L918 885.8 L919 885.7 L920 885.6 L921 885.5 L922 885.5 L923 885.4 L924 885.3 L925 885.2 L926 885.1 L927 885.0 L928 884.9 L929 884.8 L930 884.7 L931 884.6 L932 884.5 L933 884.4 L934 884.4 L935 884.3 L936 884.2 L937 884.1 L938 884.0 L939 883.9 L940 883.8 L941 883.7 L942 883.6 L943 883.6 L944 883.5 L945 883.4 L946 883.3 L947 883.2 L948 883.2 L949 883.1 L950 883.0 L951 882.9 L952 882.8 L953 882.8 L954 882.7 L955 882.6 L956 882.5 L957 882.4 L958 882.4 L959 882.3 L960 882.2 L961 882.1 L962 882.0 L963 882.0 L964 881.9 L965 881.8 L966 881.7 L967 881.7 L968 881.6 L969 881.5 L970 881.4 L971 881.3 L972 881.3 L973 881.2 L974 881.1 L975 881.0 L976 880.9 L977 880.9 L978 880.8 L979 880.7 L980 880.6 L981 880.5 L982 880.5 L983 880.4 L984 880.3 L985 880.2 L986 880.2 L987 880.1 L988 880.0 L989 879.9 L990 879.9 L991 879.8 L992 879.7 L993 879.7 L994 879.6 L995 879.5 L996 879.4 L997 879.4 L998 879.3 L999 879.2 L1000 879.2 L1001 879.1 L1002 879.0 L1003 878.9 L1004 878.9 L1005 878.8 L1006 878.7 L1007 878.6 L1008 878.6 L1009 878.5 L1010 878.4 L1011 878.4 L1012 878.3 L1013 878.2 L1014 878.1 L1015 878.1 L1016 878.0 L1017 877.9 L1018 877.9 L1019 877.8 L1020 877.7 L1021 877.6 L1022 877.6 L1023 877.5 L1024 877.4 L1025 877.4 L1026 877.3 L1027 877.2 L1028 877.1 L1029 877.1 L1030 877.0 L1031 876.9 L1032 876.9 L1033 876.8 L1034 876.8 L1035 876.7 L1036 876.6 L1037 876.6 L1038 876.5 L1039 876.4 L1040 876.4 L1041 876.3 L1042 876.2 L1043 876.2 L1044 876.1 L1045 876.1 L1046 876.0 L1047 875.9 L1048 875.9 L1049 875.8 L1050 875.8 L1051 875.7 L1052 875.6 L1053 875.6 L1054 875.5 L1055 875.4 L1056 875.4 L1057 875.3 L1058 875.2 L1059 875.2 L1060 875.1 L1061 875.1 L1062 875.0 L1063 874.9 L1064 874.9 L1065 874.8 L1066 874.8 L1067 874.7 L1068 874.6 L1069 874.6 L1070 874.5 L1071 874.4 L1072 874.4 L1073 874.3 L1074 874.2 L1075 874.2 L1076 874.1 L1077 874.1 L1078 874.0 L1079 873.9 L1080 873.9 L1081 873.8 L1082 873.7 L1083 873.7 L1084 873.6 L1085 873.5 L1086 873.5 L1087 873.4 L1088 873.3 L1089 873.3 L1090 873.2 L1091 873.1 L1092 873.1 L1093 873.0 L1094 873.0 L1095 872.9 L1096 872.8 L1097 872.8 L1098 872.7 L1099 872.6 L1100 872.6 L1101 872.5 L1102 872.4 L1103 872.4 L1104 872.3 L1105 872.2 L1106 872.2 L1107 872.1 L1108 872.0 L1109 872.0 L1110 871.9 L1111 871.8 L1112 871.8 L1113 871.7 L1114 871.6 L1115 871.6 L1116 871.5 L1117 871.5 L1118 871.4 L1119 871.3 L1120 871.3 L1121 871.2 L1122 871.1 L1123 871.1 L1124 871.0 L1125 870.9 L1126 870.9 L1127 870.8 L1128 870.7 L1129 870.7 L1130 870.6 L1131 870.5 L1132 870.5 L1133 870.4 L1134 870.3 L1135 870.2 L1136 870.2 L1137 870.1 L1138 870.0 L1139 870.0 L1140 869.9 L1141 869.8 L1142 869.7 L1143 869.7 L1144 869.6 L1145 869.5 L1146 869.4 L1147 869.4 L1148 869.3 L1149 869.2 L1150 869.2 L1151 869.1 L1152 869.0 L1153 868.9 L1154 868.9 L1155 868.8 L1156 868.7 L1157 868.7 L1158 868.6 L1159 868.5 L1160 868.4 L1161 868.4 L1162 868.3 L1163 868.2 L1164 868.2 L1165 868.1 L1166 868.0 L1167 867.9 L1168 867.9 L1169 867.8 L1170 867.7 L1171 867.6 L1172 867.6 L1173 867.5 L1174 867.4 L1175 867.4 L1176 867.3 L1177 867.2 L1178 867.1 L1179 867.1 L1180 867.0 L1181 866.9 L1182 866.9 L1183 866.8 L1184 866.7 L1185 866.7 L1186 866.6 L1187 866.5 L1188 866.5 L1189 866.4 L1190 866.3 L1191 866.3 L1192 866.2 L1193 866.1 L1194 866.0 L1195 866.0 L1196 865.9 L1197 865.8 L1198 865.8 L1199 865.7 L1200 865.6 L1201 865.6 L1202 865.5 L1203 865.4 L1204 865.4 L1205 865.3 L1206 865.2 L1207 865.2 L1208 865.1 L1209 865.0 L1210 865.0 L1211 864.9 L1212 864.8 L1213 864.8 L1214 864.7 L1215 864.6 L1216 864.6 L1217 864.5 L1218 864.4 L1219 864.3 L1220 864.3 L1221 864.2 L1222 864.1 L1223 864.1 L1224 864.0 L1225 863.9 L1226 863.9 L1227 863.8 L1228 863.7 L1229 863.7 L1230 863.6 L1231 863.5 L1232 863.5 L1233 863.4 L1234 863.3 L1235 863.3 L1236 863.2 L1237 863.1 L1238 863.1 L1239 863.0 L1240 862.9 L1241 862.9 L1242 862.8 L1243 862.7 L1244 862.6 L1245 862.6 L1246 862.5 L1247 862.4 L1248 862.4 L1249 862.3 L1250 862.2 L1251 862.2 L1252 862.1 L1253 862.0 L1254 862.0 L1255 861.9 L1256 861.8 L1257 861.8 L1258 861.7 L1259 861.6 L1260 861.6 L1261 861.5 L1262 861.4 L1263 861.4 L1264 861.3 L1265 861.2 L1266 861.2 L1267 861.1 L1268 861.0 L1269 860.9 L1270 860.9 L1271 860.8 L1272 860.7 L1273 860.7 L1274 860.6 L1275 860.5 L1276 860.5 L1277 860.4 L1278 860.3 L1279 860.3 L1280 860.2 L1281 860.1 L1282 860.1 L1283 860.0 L1284 860.0 L1285 859.9 L1286 859.8 L1287 859.8 L1288 859.7 L1289 859.7 L1290 859.6 L1291 859.6 L1292 859.5 L1293 859.4 L1294 859.4 L1295 859.3 L1296 859.3 L1297 859.2 L1298 859.1 L1299 859.1 L1300 859.0 L1301 859.0 L1302 858.9 L1303 858.9 L1304 858.8 L1305 858.7 L1306 858.7 L1307 858.6 L1308 858.6 L1309 858.5 L1310 858.4 L1311 858.4 L1312 858.3 L1313 858.3 L1314 858.2 L1315 858.2 L1316 858.1 L1317 858.0 L1318 858.0 L1319 857.9 L1320 857.9 L1321 857.8 L1322 857.7 L1323 857.7 L1324 857.6 L1324.5 914 Z" fill="#fdeafd"/>
<polyline points="559,896.6 561,898.2 563,899.4 603,899.4 603.5,897.6 1682,897.4" fill="none" stroke="#7aa2e0" stroke-width="1.2"/>
<rect x="604" y="896.4" width="53" height="2.4" fill="#7aa2e0"/>
<path d="M559 912.2 L560 911.9 L561 912.0 L562 913.1 L563 911.7 L564 911.8 L565 912.4 L566 912.3 L567 913.1 L568 912.7 L569 911.9 L570 911.9 L571 912.1 L572 913.0 L573 912.7 L574 911.6 L575 912.6 L576 912.2 L577 912.7 L578 912.0 L579 911.7 L580 912.4 L581 912.8 L582 912.5 L583 913.0 L584 912.5 L585 911.7 L586 912.5 L587 911.8 L588 911.4 L589 911.7 L590 912.8 L591 912.3 L592 912.8 L593 912.5 L594 912.4 L595 911.3 L596 912.2 L597 911.9 L598 912.5 L599 911.4 L600 912.5 L601 912.4 L602 911.6 L603 912.0 L604 911.6 L605 912.0 L606 912.3 L607 911.3 L608 912.1 L609 910.8 L610 911.7 L611 911.3 L612 911.5 L613 912.1 L614 912.1 L615 910.8 L616 910.9 L617 911.0 L618 911.8 L619 911.7 L620 911.4 L621 910.3 L622 910.3 L623 911.0 L624 911.0 L625 911.1 L626 911.1 L627 910.2 L628 910.8 L629 911.4 L630 910.3 L631 910.9 L632 910.2 L633 910.4 L634 910.8 L635 910.8 L636 910.1 L637 910.7 L638 910.2 L639 911.1 L640 910.7 L641 910.3 L642 910.0 L643 910.3 L644 909.7 L645 910.2 L646 909.4 L647 909.1 L648 909.7 L649 910.2 L650 909.0 L651 909.3 L652 909.2 L653 909.0 L654 909.1 L655 909.1 L656 909.0 L657 909.9 L658 909.2 L659 909.5 L660 908.8 L661 908.9 L662 909.5 L663 909.0 L664 909.2 L665 908.7 L666 908.4 L667 908.9 L668 909.2 L669 908.7 L670 908.9 L671 908.4 L672 908.0 L673 908.0 L674 907.9 L675 907.5 L676 907.4 L677 908.0 L678 907.6 L679 906.9 L680 907.4 L681 906.9 L682 908.0 L683 907.2 L684 907.1 L685 907.4 L686 907.5 L687 906.3 L688 906.3 L689 906.8 L690 906.1 L691 906.9 L692 905.9 L693 906.9 L694 907.1 L695 906.5 L696 906.0 L697 907.0 L698 906.6 L699 905.7 L700 906.4 L701 905.3 L702 905.8 L703 905.6 L704 905.4 L705 905.3 L706 905.5 L707 905.8 L708 905.5 L709 904.9 L710 905.9 L711 905.2 L712 904.5 L713 905.7 L714 905.0 L715 904.4 L716 904.7 L717 904.7 L718 904.0 L719 904.7 L720 904.9 L721 903.9 L722 904.4 L723 903.4 L724 904.0 L725 903.8 L726 904.3 L727 903.2 L728 904.0 L729 903.0 L730 904.1 L731 902.6 L732 902.9 L733 902.6 L734 902.8 L735 902.6 L736 903.1 L737 903.3 L738 902.8 L739 902.4 L740 903.0 L741 903.0 L742 902.2 L743 901.6 L744 902.2 L745 901.9 L746 901.3 L747 902.5 L748 902.3 L749 901.7 L750 901.5 L751 901.9 L752 901.8 L753 901.3 L754 901.7 L755 900.8 L756 900.8 L757 901.6 L758 901.5 L759 900.7 L760 900.2 L761 900.9 L762 901.3 L763 901.2 L764 899.7 L765 900.7 L766 899.5 L767 899.7 L768 899.9 L769 900.4 L770 899.7 L771 900.0 L772 899.2 L773 899.2 L774 899.0 L775 899.3 L776 899.0 L777 899.9 L778 899.7 L779 898.5 L780 898.7 L781 899.0 L782 898.7 L783 898.8 L784 899.2 L785 898.8 L786 898.0 L787 898.8 L788 898.9 L789 898.7 L790 898.9 L791 898.3 L792 897.7 L793 898.0 L794 898.4 L795 898.1 L796 897.3 L797 898.0 L798 897.9 L799 897.5 L800 897.4 L801 897.2 L802 896.6 L803 897.4 L804 896.5 L805 896.4 L806 895.8 L807 897.1 L808 896.4 L809 896.1 L810 896.0 L811 896.5 L812 895.2 L813 895.0 L814 895.9 L815 895.6 L816 895.7 L817 895.5 L818 895.8 L819 895.4 L820 895.0 L821 895.3 L822 895.2 L823 893.8 L824 893.8 L825 894.9 L826 894.1 L827 894.2 L828 893.5 L829 894.0 L830 893.1 L831 894.1 L832 894.0 L833 892.8 L834 893.7 L835 893.4 L836 893.0 L837 893.1 L838 892.3 L839 893.0 L840 892.6 L841 892.4 L842 891.8 L843 891.4 L844 891.5 L845 891.9 L846 891.4 L847 891.2 L848 891.8 L849 891.5 L850 891.9 L851 891.4 L852 891.3 L853 890.4 L854 891.4 L855 891.2 L856 889.9 L857 890.2 L858 890.3 L859 890.4 L860 889.9 L861 889.5 L862 889.7 L863 889.3 L864 888.9 L865 890.0 L866 888.7 L867 889.3 L868 888.6 L869 888.9 L870 888.7 L871 888.2 L872 889.2 L873 889.1 L874 888.3 L875 888.4 L876 888.4 L877 887.9 L878 887.5 L879 887.9 L880 886.9 L881 887.0 L882 887.5 L883 886.7 L884 887.8 L885 887.6 L886 886.3 L887 886.3 L888 886.4 L889 886.3 L890 886.6 L891 886.3 L892 886.7 L893 886.4 L894 886.3 L895 886.0 L896 886.0 L897 885.3 L898 885.4 L899 885.5 L900 885.7 L901 885.1 L902 885.6 L903 885.8 L904 885.0 L905 884.7 L906 884.3 L907 884.5 L908 884.4 L909 884.0 L910 884.3 L911 884.1 L912 884.8 L913 883.7 L914 883.5 L915 884.3 L916 884.2 L917 883.7 L918 883.2 L919 883.9 L920 883.4 L921 883.2 L922 882.9 L923 883.7 L924 883.1 L925 883.7 L926 882.7 L927 883.7 L928 882.4 L929 882.5 L930 882.8 L931 882.0 L932 882.9 L933 881.7 L934 883.1 L935 882.2 L936 882.6 L937 881.9 L938 881.7 L939 882.5 L940 881.3 L941 882.0 L942 881.4 L943 882.0 L944 881.0 L945 882.0 L946 881.8 L947 881.8 L948 881.8 L949 880.7 L950 880.5 L951 880.3 L952 880.7 L953 881.4 L954 881.3 L955 880.8 L956 880.3 L957 881.1 L958 880.3 L959 880.9 L960 880.4 L961 880.1 L962 879.4 L963 879.6 L964 880.2 L965 879.8 L966 879.4 L967 879.8 L968 879.6 L969 879.1 L970 879.7 L971 878.8 L972 879.9 L973 879.6 L974 879.7 L975 879.6 L976 878.2 L977 879.0 L978 879.4 L979 878.2 L980 878.2 L981 879.3 L982 878.5 L983 878.4 L984 878.7 L985 878.3 L986 878.8 L987 877.4 L988 878.0 L989 878.1 L990 878.0 L991 877.2 L992 877.5 L993 878.4 L994 877.7 L995 877.0 L996 877.6 L997 877.0 L998 877.8 L999 877.3 L1000 876.4 L1001 877.2 L1002 877.1 L1003 876.7 L1004 877.4 L1005 877.4 L1006 876.1 L1007 877.1 L1008 876.1 L1009 876.4 L1010 876.8 L1011 875.7 L1012 876.8 L1013 876.6 L1014 876.3 L1015 876.6 L1016 875.3 L1017 876.5 L1018 875.6 L1019 876.0 L1020 875.6 L1021 876.0 L1022 875.9 L1023 875.2 L1024 875.5 L1025 876.1 L1026 875.4 L1027 875.0 L1028 875.8 L1029 875.8 L1030 875.2 L1031 875.2 L1032 874.6 L1033 875.0 L1034 874.4 L1035 874.0 L1036 874.9 L1037 873.9 L1038 874.6 L1039 874.4 L1040 873.7 L1041 874.2 L1042 874.8 L1043 874.2 L1044 874.6 L1045 874.7 L1046 874.2 L1047 873.2 L1048 874.2 L1049 873.5 L1050 873.3 L1051 873.9 L1052 874.0 L1053 873.0 L1054 872.9 L1055 874.0 L1056 873.0 L1057 874.0 L1058 872.8 L1059 872.6 L1060 873.0 L1061 872.7 L1062 872.8 L1063 872.3 L1064 873.5 L1065 873.4 L1066 872.8 L1067 872.1 L1068 873.3 L1069 872.0 L1070 872.1 L1071 872.7 L1072 872.0 L1073 871.7 L1074 872.8 L1075 872.5 L1076 872.6 L1077 872.3 L1078 872.1 L1079 871.7 L1080 872.4 L1081 871.5 L1082 871.6 L1083 872.2 L1084 871.6 L1085 870.9 L1086 871.2 L1087 871.0 L1088 871.7 L1089 871.6 L1090 870.6 L1091 871.0 L1092 870.4 L1093 870.6 L1094 871.5 L1095 870.4 L1096 871.5 L1097 870.9 L1098 870.4 L1099 870.8 L1100 871.2 L1101 870.2 L1102 869.9 L1103 870.7 L1104 869.6 L1105 869.6 L1106 870.8 L1107 870.5 L1108 869.9 L1109 870.6 L1110 869.3 L1111 869.9 L1112 869.4 L1113 869.7 L1114 868.9 L1115 869.7 L1116 869.4 L1117 869.6 L1118 869.4 L1119 869.5 L1120 868.6 L1121 868.7 L1122 869.7 L1123 868.4 L1124 869.1 L1125 868.8 L1126 869.2 L1127 869.2 L1128 868.3 L1129 869.2 L1130 868.3 L1131 869.1 L1132 869.0 L1133 869.0 L1134 868.1 L1135 868.7 L1136 868.8 L1137 868.5 L1138 868.7 L1139 868.5 L1140 868.1 L1141 867.6 L1142 867.2 L1143 868.0 L1144 867.0 L1145 867.6 L1146 866.7 L1147 867.1 L1148 867.0 L1149 866.6 L1150 866.6 L1151 867.2 L1152 866.8 L1153 866.6 L1154 866.6 L1155 866.4 L1156 866.7 L1157 866.2 L1158 866.1 L1159 866.5 L1160 867.0 L1161 865.7 L1162 866.7 L1163 866.0 L1164 865.9 L1165 866.4 L1166 865.8 L1167 865.6 L1168 866.0 L1169 865.4 L1170 865.6 L1171 865.7 L1172 866.2 L1173 865.0 L1174 866.1 L1175 865.0 L1176 865.4 L1177 864.8 L1178 865.1 L1179 864.6 L1180 864.8 L1181 864.8 L1182 864.3 L1183 865.5 L1184 864.0 L1185 865.3 L1186 865.2 L1187 865.1 L1188 865.2 L1189 864.7 L1190 864.5 L1191 863.6 L1192 863.9 L1193 864.3 L1194 864.2 L1195 864.0 L1196 863.6 L1197 863.6 L1198 863.2 L1199 863.3 L1200 863.4 L1201 863.0 L1202 863.6 L1203 863.7 L1204 863.1 L1205 863.8 L1206 862.7 L1207 863.8 L1208 863.3 L1209 863.3 L1210 863.5 L1211 863.5 L1212 862.7 L1213 862.3 L1214 862.1 L1215 863.1 L1216 863.2 L1217 862.1 L1218 862.0 L1219 861.7 L1220 862.2 L1221 862.3 L1222 861.7 L1223 862.4 L1224 862.7 L1225 862.4 L1226 861.7 L1227 861.5 L1228 862.0 L1229 861.2 L1230 861.3 L1231 861.5 L1232 861.3 L1233 861.2 L1234 861.3 L1235 861.3 L1236 861.5 L1237 861.8 L1238 861.4 L1239 861.6 L1240 860.3 L1241 861.5 L1242 860.1 L1243 861.0 L1244 860.4 L1245 861.2 L1246 860.8 L1247 860.5 L1248 861.0 L1249 860.6 L1250 859.8 L1251 860.4 L1252 859.6 L1253 860.1 L1254 859.8 L1255 860.0 L1256 859.9 L1257 860.1 L1258 859.5 L1259 860.1 L1260 859.2 L1261 860.1 L1262 858.8 L1263 860.0 L1264 859.6 L1265 859.9 L1266 859.7 L1267 858.8 L1268 858.5 L1269 858.8 L1270 859.4 L1271 859.1 L1272 859.3 L1273 858.9 L1274 857.9 L1275 858.7 L1276 857.7 L1277 858.0 L1278 858.4 L1279 858.8 L1280 857.6 L1281 858.5 L1282 858.2 L1283 858.1 L1284 858.7 L1285 857.7 L1286 857.8 L1287 857.8 L1288 857.3 L1289 857.9 L1290 858.1 L1291 858.2 L1292 857.8 L1293 858.1 L1294 856.6 L1295 857.7 L1296 858.0 L1297 857.7 L1298 857.4 L1299 857.7 L1300 856.3 L1301 856.3 L1302 856.5 L1303 857.3 L1304 857.4 L1305 856.4 L1306 857.4 L1307 856.1 L1308 856.2 L1309 855.9 L1310 856.6 L1311 856.7 L1312 856.7 L1313 856.8 L1314 856.6 L1315 855.5 L1316 855.6 L1317 855.9 L1318 856.1 L1319 855.7 L1320 855.4 L1321 856.3 L1322 855.6 L1323 856.4 L1324 856.0 L1324 859.1 L1323 859.3 L1322 859.3 L1321 859.1 L1320 859.5 L1319 860.2 L1318 859.6 L1317 859.7 L1316 860.2 L1315 860.0 L1314 859.9 L1313 859.6 L1312 860.1 L1311 859.7 L1310 860.4 L1309 860.4 L1308 860.7 L1307 860.9 L1306 860.3 L1305 860.6 L1304 860.3 L1303 860.4 L1302 860.5 L1301 861.2 L1300 861.2 L1299 860.5 L1298 860.7 L1297 861.6 L1296 860.7 L1295 861.1 L1294 861.6 L1293 861.0 L1292 861.4 L1291 861.4 L1290 862.0 L1289 861.7 L1288 861.3 L1287 862.1 L1286 861.8 L1285 861.4 L1284 862.2 L1283 861.6 L1282 862.1 L1281 862.1 L1280 861.9 L1279 862.0 L1278 861.9 L1277 862.5 L1276 861.9 L1275 862.8 L1274 863.0 L1273 862.9 L1272 863.1 L1271 862.8 L1270 862.7 L1269 863.2 L1268 863.3 L1267 862.9 L1266 862.8 L1265 863.0 L1264 863.3 L1263 863.4 L1262 862.8 L1261 863.6 L1260 862.9 L1259 863.4 L1258 863.7 L1257 863.5 L1256 864.1 L1255 863.3 L1254 863.7 L1253 864.1 L1252 864.0 L1251 864.0 L1250 864.1 L1249 863.9 L1248 863.9 L1247 864.7 L1246 864.6 L1245 864.9 L1244 864.5 L1243 864.2 L1242 864.1 L1241 864.5 L1240 864.5 L1239 864.6 L1238 864.7 L1237 865.2 L1236 865.0 L1235 864.7 L1234 865.1 L1233 864.7 L1232 865.8 L1231 864.9 L1230 865.0 L1229 865.3 L1228 866.0 L1227 865.5 L1226 865.2 L1225 866.0 L1224 865.9 L1223 866.3 L1222 865.7 L1221 866.0 L1220 865.7 L1219 866.3 L1218 866.2 L1217 866.3 L1216 866.5 L1215 865.9 L1214 866.0 L1213 866.4 L1212 867.2 L1211 866.1 L1210 866.7 L1209 866.3 L1208 866.5 L1207 867.1 L1206 866.9 L1205 867.2 L1204 867.5 L1203 867.0 L1202 867.0 L1201 867.7 L1200 867.7 L1199 867.5 L1198 868.1 L1197 868.0 L1196 868.2 L1195 868.2 L1194 867.3 L1193 867.9 L1192 867.7 L1191 868.6 L1190 867.8 L1189 868.5 L1188 868.2 L1187 868.0 L1186 868.3 L1185 868.3 L1184 868.2 L1183 869.1 L1182 868.9 L1181 869.0 L1180 869.3 L1179 869.2 L1178 868.4 L1177 869.0 L1176 869.1 L1175 868.7 L1174 868.7 L1173 868.9 L1172 869.1 L1171 869.7 L1170 869.9 L1169 869.5 L1168 869.5 L1167 869.8 L1166 870.0 L1165 869.3 L1164 869.7 L1163 869.9 L1162 870.5 L1161 870.6 L1160 869.9 L1159 870.3 L1158 869.9 L1157 870.8 L1156 870.0 L1155 870.2 L1154 870.9 L1153 870.8 L1152 870.7 L1151 871.3 L1150 871.2 L1149 870.9 L1148 870.6 L1147 871.5 L1146 870.9 L1145 871.3 L1144 871.0 L1143 871.3 L1142 872.1 L1141 871.6 L1140 871.8 L1139 872.1 L1138 872.1 L1137 871.8 L1136 872.1 L1135 872.3 L1134 872.6 L1133 872.2 L1132 871.9 L1131 873.0 L1130 872.7 L1129 872.2 L1128 872.7 L1127 872.6 L1126 873.0 L1125 872.8 L1124 873.3 L1123 872.9 L1122 872.4 L1121 873.1 L1120 872.9 L1119 873.3 L1118 873.7 L1117 873.0 L1116 873.9 L1115 873.2 L1114 873.5 L1113 873.1 L1112 873.2 L1111 873.2 L1110 874.3 L1109 873.8 L1108 873.6 L1107 873.4 L1106 873.9 L1105 874.1 L1104 874.5 L1103 873.8 L1102 873.8 L1101 874.2 L1100 873.9 L1099 874.3 L1098 874.3 L1097 874.8 L1096 875.2 L1095 874.8 L1094 875.0 L1093 874.7 L1092 874.5 L1091 875.2 L1090 874.8 L1089 875.0 L1088 874.7 L1087 875.7 L1086 875.2 L1085 875.5 L1084 875.5 L1083 875.2 L1082 876.1 L1081 875.6 L1080 875.7 L1079 875.4 L1078 876.0 L1077 875.4 L1076 875.5 L1075 876.6 L1074 875.8 L1073 876.1 L1072 876.2 L1071 875.7 L1070 876.1 L1069 876.0 L1068 876.6 L1067 876.8 L1066 876.8 L1065 876.1 L1064 876.9 L1063 876.3 L1062 876.5 L1061 877.0 L1060 876.5 L1059 876.5 L1058 877.1 L1057 876.6 L1056 877.3 L1055 876.7 L1054 877.0 L1053 877.3 L1052 877.2 L1051 877.7 L1050 877.8 L1049 877.4 L1048 878.1 L1047 877.5 L1046 877.4 L1045 877.4 L1044 877.9 L1043 878.1 L1042 877.9 L1041 878.6 L1040 878.0 L1039 878.2 L1038 878.6 L1037 877.9 L1036 878.1 L1035 879.1 L1034 879.1 L1033 878.7 L1032 879.2 L1031 878.7 L1030 878.3 L1029 878.8 L1028 879.0 L1027 879.4 L1026 879.1 L1025 879.5 L1024 879.5 L1023 878.9 L1022 879.5 L1021 879.6 L1020 880.1 L1019 879.6 L1018 879.6 L1017 879.3 L1016 880.1 L1015 879.9 L1014 880.3 L1013 880.4 L1012 880.1 L1011 879.7 L1010 880.8 L1009 879.9 L1008 881.0 L1007 879.9 L1006 881.0 L1005 880.5 L1004 880.7 L1003 880.3 L1002 880.6 L1001 880.7 L1000 880.7 L999 881.6 L998 881.5 L997 881.7 L996 881.9 L995 881.9 L994 881.9 L993 881.8 L992 881.0 L991 881.8 L990 881.8 L989 882.1 L988 881.3 L987 882.2 L986 881.7 L985 882.0 L984 882.7 L983 881.7 L982 882.2 L981 882.1 L980 882.3 L979 882.0 L978 882.5 L977 883.2 L976 882.8 L975 882.8 L974 882.7 L973 883.2 L972 883.0 L971 883.2 L970 883.1 L969 883.4 L968 883.7 L967 883.3 L966 884.1 L965 883.5 L964 883.3 L963 884.1 L962 883.4 L961 884.5 L960 884.3 L959 884.3 L958 884.1 L957 884.2 L956 884.7 L955 884.4 L954 884.2 L953 884.1 L952 885.3 L951 885.3 L950 885.1 L949 885.3 L948 885.3 L947 885.2 L946 884.7 L945 884.9 L944 885.3 L943 885.6 L942 886.0 L941 886.0 L940 886.2 L939 885.7 L938 886.1 L937 886.1 L936 885.6 L935 886.2 L934 885.7 L933 885.9 L932 886.5 L931 886.2 L930 886.6 L929 886.6 L928 887.2 L927 886.9 L926 886.6 L925 887.2 L924 887.6 L923 886.9 L922 887.0 L921 887.2 L920 887.6 L919 887.1 L918 887.8 L917 888.2 L916 887.5 L915 887.4 L914 888.1 L913 887.8 L912 888.2 L911 888.5 L910 888.8 L909 889.0 L908 888.8 L907 888.2 L906 888.5 L905 888.6 L904 889.3 L903 888.9 L902 888.6 L901 889.3 L900 889.4 L899 889.8 L898 889.7 L897 890.1 L896 890.3 L895 890.0 L894 889.7 L893 889.4 L892 889.9 L891 890.3 L890 889.7 L889 890.7 L888 890.9 L887 890.4 L886 890.4 L885 891.1 L884 890.6 L883 891.1 L882 890.8 L881 891.5 L880 891.9 L879 891.3 L878 891.4 L877 891.6 L876 891.6 L875 891.7 L874 892.6 L873 892.4 L872 893.0 L871 892.4 L870 892.2 L869 893.3 L868 893.4 L867 892.9 L866 893.1 L865 893.0 L864 893.7 L863 893.4 L862 893.2 L861 893.2 L860 894.2 L859 893.4 L858 893.9 L857 893.9 L856 894.9 L855 894.3 L854 894.0 L853 894.8 L852 894.3 L851 895.1 L850 894.7 L849 894.7 L848 895.7 L847 895.7 L846 896.1 L845 896.0 L844 895.9 L843 896.1 L842 896.1 L841 895.9 L840 895.8 L839 896.1 L838 896.0 L837 896.1 L836 896.8 L835 896.4 L834 896.5 L833 896.9 L832 897.5 L831 897.1 L830 897.1 L829 897.5 L828 898.2 L827 898.0 L826 898.0 L825 898.1 L824 897.8 L823 898.4 L822 898.5 L821 898.3 L820 898.7 L819 898.8 L818 899.5 L817 898.5 L816 899.0 L815 898.7 L814 898.9 L813 899.0 L812 899.6 L811 899.2 L810 899.7 L809 900.6 L808 899.6 L807 900.6 L806 899.8 L805 900.4 L804 901.1 L803 900.4 L802 901.1 L801 900.7 L800 900.9 L799 901.8 L798 900.8 L797 900.9 L796 901.1 L795 901.8 L794 901.9 L793 902.3 L792 902.1 L791 902.5 L790 902.6 L789 902.1 L788 902.0 L787 902.0 L786 902.0 L785 902.3 L784 902.1 L783 902.2 L782 902.6 L781 903.3 L780 902.3 L779 903.0 L778 902.5 L777 902.6 L776 903.1 L775 903.4 L774 903.4 L773 903.4 L772 903.8 L771 903.2 L770 903.6 L769 903.6 L768 903.7 L767 903.6 L766 904.3 L765 903.7 L764 904.5 L763 903.9 L762 904.7 L761 904.9 L760 904.6 L759 904.4 L758 904.3 L757 905.1 L756 905.1 L755 904.6 L754 905.0 L753 904.8 L752 905.6 L751 905.4 L750 905.6 L749 906.0 L748 905.8 L747 905.9 L746 905.6 L745 905.9 L744 905.7 L743 905.6 L742 906.4 L741 905.7 L740 906.2 L739 905.8 L738 906.1 L737 906.7 L736 907.1 L735 906.3 L734 907.3 L733 906.5 L732 906.4 L731 907.6 L730 907.3 L729 907.4 L728 907.6 L727 906.8 L726 907.5 L725 907.3 L724 907.6 L723 907.2 L722 908.0 L721 907.7 L720 908.3 L719 908.3 L718 907.7 L717 908.0 L716 908.7 L715 908.4 L714 908.4 L713 908.7 L712 908.5 L711 909.1 L710 908.3 L709 908.8 L708 908.6 L707 908.9 L706 908.8 L705 908.8 L704 908.6 L703 909.3 L702 909.2 L701 909.1 L700 909.0 L699 909.1 L698 910.0 L697 909.6 L696 910.0 L695 909.4 L694 909.9 L693 909.8 L692 909.8 L691 909.7 L690 910.0 L689 909.7 L688 910.6 L687 910.0 L686 909.9 L685 910.2 L684 910.8 L683 909.9 L682 910.5 L681 909.9 L680 910.4 L679 911.2 L678 910.8 L677 910.3 L676 911.0 L675 910.8 L674 911.5 L673 910.8 L672 910.5 L671 910.5 L670 911.5 L669 911.1 L668 911.1 L667 911.8 L666 911.5 L665 911.3 L664 910.9 L663 911.1 L662 911.1 L661 911.3 L660 911.1 L659 912.0 L658 912.0 L657 911.4 L656 912.2 L655 912.3 L654 911.9 L653 912.1 L652 911.7 L651 912.4 L650 912.2 L649 912.7 L648 912.3 L647 912.9 L646 912.6 L645 912.9 L644 912.9 L643 912.8 L642 913.0 L641 913.1 L640 912.9 L639 912.8 L638 912.9 L637 913.3 L636 913.1 L635 912.8 L634 913.1 L633 913.2 L632 913.2 L631 913.3 L630 913.4 L629 912.8 L628 912.9 L627 913.2 L626 913.7 L625 912.7 L624 912.9 L623 913.5 L622 913.2 L621 913.7 L620 913.2 L619 913.7 L618 913.2 L617 913.7 L616 913.8 L615 912.9 L614 913.4 L613 913.8 L612 913.4 L611 913.8 L610 913.2 L609 913.6 L608 913.0 L607 913.8 L606 913.2 L605 913.2 L604 913.4 L603 913.8 L602 913.8 L601 913.5 L600 913.8 L599 913.8 L598 913.8 L597 913.8 L596 913.6 L595 913.8 L594 913.8 L593 913.8 L592 913.3 L591 913.8 L590 913.8 L589 913.8 L588 913.4 L587 913.5 L586 913.8 L585 913.8 L584 913.8 L583 913.8 L582 913.8 L581 913.6 L580 913.7 L579 913.8 L578 913.8 L577 913.8 L576 913.8 L575 913.8 L574 913.8 L573 913.8 L572 913.8 L571 913.7 L570 913.7 L569 913.8 L568 913.8 L567 913.8 L566 913.8 L565 913.8 L564 913.7 L563 913.8 L562 913.8 L561 913.8 L560 913.8 L559 913.8 Z" fill="#f214e4"/>
<rect x="559" y="857" width="1123" height="1" fill="#000"/>
<rect x="1299.5" y="855.6" width="3.0" height="1.2" fill="#7d9a7d"/>
<rect x="1311.4" y="855.6" width="1.8" height="1.2" fill="#3fae3f"/>
<rect x="1263.0" y="855.6" width="3.0" height="1.2" fill="#9a9a9a"/>
<rect x="1311.1" y="855.6" width="3.0" height="1.2" fill="#3fae3f"/>
<rect x="1313.4" y="855.6" width="3.1" height="1.2" fill="#9a9a9a"/>
<rect x="1272.0" y="855.6" width="3.0" height="1.2" fill="#9a9a9a"/>
<rect x="1286.2" y="855.6" width="2.9" height="1.2" fill="#3fae3f"/>
<rect x="1300.3" y="855.6" width="3.1" height="1.2" fill="#9a9a9a"/>
<rect x="1286.8" y="855.6" width="2.8" height="1.2" fill="#3fae3f"/>
<rect x="1275.2" y="855.6" width="2.9" height="1.2" fill="#9a9a9a"/>
<rect x="1265.7" y="855.6" width="3.5" height="1.2" fill="#7d9a7d"/>
<rect x="1273.7" y="855.6" width="2.7" height="1.2" fill="#9a9a9a"/>
<rect x="1295.6" y="855.6" width="2.3" height="1.2" fill="#3fae3f"/>
<rect x="1284.9" y="855.6" width="2.9" height="1.2" fill="#3fae3f"/>
<rect x="1304.7" y="855.6" width="3.0" height="1.2" fill="#3fae3f"/>
<rect x="1316.2" y="855.6" width="2.0" height="1.2" fill="#9a9a9a"/>
<rect x="1257.1" y="855.6" width="2.2" height="1.2" fill="#3fae3f"/>
<rect x="1273.6" y="855.6" width="3.6" height="1.2" fill="#7d9a7d"/>
<rect x="1260.3" y="855.6" width="2.4" height="1.2" fill="#9a9a9a"/>
<rect x="1262.6" y="855.6" width="2.1" height="1.2" fill="#9a9a9a"/>
<rect x="1270.3" y="855.6" width="2.2" height="1.2" fill="#7d9a7d"/>
<rect x="1284.6" y="855.6" width="2.1" height="1.2" fill="#7d9a7d"/>
<rect x="559" y="833" width="1123" height="1.2" fill="#e0962a"/>
<rect x="1105" y="832.2" width="219.5" height="2.6" fill="#e0962a"/>
<path d="M559 836 L561 836.6 L563.5 833.4" fill="none" stroke="#e0962a" stroke-width="1.4"/>
<rect x="1325.5" y="833" width="4" height="1.4" fill="#fff"/>
<rect x="1325.5" y="834.6" width="4" height="1.2" fill="#e0962a"/>
<rect x="1346.5" y="833" width="3" height="1.4" fill="#fff"/>
<rect x="1346.5" y="834.6" width="3" height="1.2" fill="#e0962a"/>
<rect x="1382" y="833" width="5" height="1.4" fill="#fff"/>
<rect x="1382" y="834.6" width="5" height="1.2" fill="#e0962a"/>
<rect x="1411.5" y="833" width="3" height="1.4" fill="#fff"/>
<rect x="1411.5" y="834.6" width="3" height="1.2" fill="#e0962a"/>
<rect x="1424" y="833" width="4" height="1.4" fill="#fff"/>
<rect x="1424" y="834.6" width="4" height="1.2" fill="#e0962a"/>
<rect x="1479.6" y="833" width="4" height="1.4" fill="#fff"/>
<rect x="1479.6" y="834.6" width="4" height="1.2" fill="#e0962a"/>
<rect x="1488.6" y="833" width="4" height="1.4" fill="#fff"/>
<rect x="1488.6" y="834.6" width="4" height="1.2" fill="#e0962a"/>
<rect x="1517.6" y="833" width="5" height="1.4" fill="#fff"/>
<rect x="1517.6" y="834.6" width="5" height="1.2" fill="#e0962a"/>
<rect x="1563.8" y="833" width="5" height="1.4" fill="#fff"/>
<rect x="1563.8" y="834.6" width="5" height="1.2" fill="#e0962a"/>
<rect x="1591.4" y="833" width="5" height="1.4" fill="#fff"/>
<rect x="1591.4" y="834.6" width="5" height="1.2" fill="#e0962a"/>
<rect x="1636" y="833" width="7" height="1.4" fill="#fff"/>
<rect x="1636" y="834.6" width="7" height="1.2" fill="#e0962a"/>
<rect x="559.0" y="835.0" width="1.2" height="9.0" fill="#4b4b4b" shape-rendering="crispEdges"/>
<rect x="560.0" y="818.5" width="2.6" height="10.9" fill="#4b4b4b" shape-rendering="crispEdges"/>
<rect x="562.6" y="808.0" width="2.4" height="10.8" fill="#4b4b4b" shape-rendering="crispEdges"/>
<rect x="565.0" y="794.1" width="4.0" height="10.4" fill="#4b4b4b" shape-rendering="crispEdges"/>
<rect x="569.0" y="794.1" width="4.0" height="15.5" fill="#4b4b4b" shape-rendering="crispEdges"/>
<rect x="573.0" y="794.1" width="5.0" height="10.4" fill="#4b4b4b" shape-rendering="crispEdges"/>
<rect x="578.0" y="788.9" width="3.0" height="25.9" fill="#4b4b4b" shape-rendering="crispEdges"/>
<rect x="581.0" y="788.9" width="9.0" height="31.1" fill="#4b4b4b" shape-rendering="crispEdges"/>
<rect x="590.0" y="788.9" width="2.0" height="25.9" fill="#4b4b4b" shape-rendering="crispEdges"/>
<rect x="592.0" y="794.1" width="2.0" height="15.5" fill="#4b4b4b" shape-rendering="crispEdges"/>
<rect x="594.0" y="794.1" width="19.0" height="20.7" fill="#4b4b4b" shape-rendering="crispEdges"/>
<rect x="613.0" y="799.2" width="2.0" height="15.5" fill="#4b4b4b" shape-rendering="crispEdges"/>
<rect x="615.0" y="799.2" width="1.0" height="10.4" fill="#4b4b4b" shape-rendering="crispEdges"/>
<rect x="616.0" y="799.2" width="5.0" height="20.7" fill="#4b4b4b" shape-rendering="crispEdges"/>
<rect x="621.0" y="794.1" width="2.0" height="31.1" fill="#4b4b4b" shape-rendering="crispEdges"/>
<rect x="623.0" y="799.2" width="2.0" height="25.9" fill="#4b4b4b" shape-rendering="crispEdges"/>
<rect x="625.0" y="799.2" width="4.0" height="20.7" fill="#4b4b4b" shape-rendering="crispEdges"/>
<rect x="629.0" y="799.2" width="3.0" height="15.5" fill="#4b4b4b" shape-rendering="crispEdges"/>
<rect x="632.0" y="809.6" width="2.0" height="10.4" fill="#4b4b4b" shape-rendering="crispEdges"/>
<rect x="634.0" y="804.4" width="3.0" height="15.5" fill="#4b4b4b" shape-rendering="crispEdges"/>
<rect x="637.0" y="804.4" width="2.0" height="20.7" fill="#4b4b4b" shape-rendering="crispEdges"/>
<rect x="639.0" y="799.2" width="3.0" height="25.9" fill="#4b4b4b" shape-rendering="crispEdges"/>
<rect x="642.0" y="804.4" width="1.0" height="10.4" fill="#4b4b4b" shape-rendering="crispEdges"/>
<rect x="643.0" y="799.2" width="4.0" height="15.5" fill="#4b4b4b" shape-rendering="crispEdges"/>
<rect x="647.0" y="799.2" width="1.0" height="10.4" fill="#4b4b4b" shape-rendering="crispEdges"/>
<rect x="648.0" y="799.2" width="3.0" height="15.5" fill="#4b4b4b" shape-rendering="crispEdges"/>
<rect x="651.0" y="794.1" width="2.0" height="20.7" fill="#4b4b4b" shape-rendering="crispEdges"/>
<rect x="653.0" y="788.9" width="2.0" height="25.9" fill="#4b4b4b" shape-rendering="crispEdges"/>
<rect x="655.0" y="788.9" width="1.0" height="15.5" fill="#4b4b4b" shape-rendering="crispEdges"/>
<rect x="656.0" y="788.9" width="5.0" height="20.7" fill="#4b4b4b" shape-rendering="crispEdges"/>
<rect x="661.0" y="783.7" width="3.0" height="25.9" fill="#4b4b4b" shape-rendering="crispEdges"/>
<rect x="664.0" y="788.9" width="4.0" height="20.7" fill="#4b4b4b" shape-rendering="crispEdges"/>
<rect x="668.0" y="794.1" width="1.0" height="15.5" fill="#4b4b4b" shape-rendering="crispEdges"/>
<rect x="669.0" y="788.9" width="1.0" height="20.7" fill="#4b4b4b" shape-rendering="crispEdges"/>
<rect x="670.0" y="788.9" width="5.0" height="15.5" fill="#4b4b4b" shape-rendering="crispEdges"/>
<rect x="675.0" y="788.9" width="4.0" height="10.4" fill="#4b4b4b" shape-rendering="crispEdges"/>
<rect x="679.0" y="783.7" width="1.0" height="25.9" fill="#4b4b4b" shape-rendering="crispEdges"/>
<rect x="680.0" y="788.9" width="6.0" height="20.7" fill="#4b4b4b" shape-rendering="crispEdges"/>
<rect x="686.0" y="783.7" width="2.0" height="25.9" fill="#4b4b4b" shape-rendering="crispEdges"/>
<rect x="688.0" y="783.7" width="4.0" height="20.7" fill="#4b4b4b" shape-rendering="crispEdges"/>
<rect x="692.0" y="778.5" width="5.0" height="15.5" fill="#4b4b4b" shape-rendering="crispEdges"/>
<rect x="697.0" y="778.5" width="1.0" height="25.9" fill="#4b4b4b" shape-rendering="crispEdges"/>
<rect x="698.0" y="773.3" width="3.0" height="31.1" fill="#4b4b4b" shape-rendering="crispEdges"/>
<rect x="701.0" y="773.3" width="2.0" height="25.9" fill="#4b4b4b" shape-rendering="crispEdges"/>
<rect x="703.0" y="773.3" width="2.0" height="31.1" fill="#4b4b4b" shape-rendering="crispEdges"/>
<rect x="705.0" y="773.3" width="4.0" height="25.9" fill="#4b4b4b" shape-rendering="crispEdges"/>
<rect x="709.0" y="778.5" width="4.0" height="20.7" fill="#4b4b4b" shape-rendering="crispEdges"/>
<rect x="713.0" y="773.3" width="1.0" height="20.7" fill="#4b4b4b" shape-rendering="crispEdges"/>
<rect x="714.0" y="773.3" width="2.0" height="15.5" fill="#4b4b4b" shape-rendering="crispEdges"/>
<rect x="716.0" y="768.2" width="2.0" height="20.7" fill="#4b4b4b" shape-rendering="crispEdges"/>
<rect x="718.0" y="768.2" width="3.0" height="15.5" fill="#4b4b4b" shape-rendering="crispEdges"/>
<rect x="721.0" y="773.3" width="6.0" height="10.4" fill="#4b4b4b" shape-rendering="crispEdges"/>
<rect x="727.0" y="768.2" width="4.0" height="15.5" fill="#4b4b4b" shape-rendering="crispEdges"/>
<rect x="731.0" y="768.2" width="4.0" height="20.7" fill="#4b4b4b" shape-rendering="crispEdges"/>
<rect x="735.0" y="773.3" width="1.0" height="15.5" fill="#4b4b4b" shape-rendering="crispEdges"/>
<rect x="736.0" y="773.3" width="1.0" height="10.4" fill="#4b4b4b" shape-rendering="crispEdges"/>
<rect x="737.0" y="768.2" width="3.0" height="15.5" fill="#4b4b4b" shape-rendering="crispEdges"/>
<rect x="740.0" y="763.0" width="2.0" height="20.7" fill="#4b4b4b" shape-rendering="crispEdges"/>
<rect x="742.0" y="763.0" width="6.0" height="15.5" fill="#4b4b4b" shape-rendering="crispEdges"/>
<rect x="748.0" y="763.0" width="5.0" height="20.7" fill="#4b4b4b" shape-rendering="crispEdges"/>
<rect x="753.0" y="752.6" width="5.0" height="20.7" fill="#4b4b4b" shape-rendering="crispEdges"/>
<rect x="758.0" y="757.8" width="2.0" height="20.7" fill="#4b4b4b" shape-rendering="crispEdges"/>
<rect x="760.0" y="757.8" width="3.0" height="15.5" fill="#4b4b4b" shape-rendering="crispEdges"/>
<rect x="763.0" y="757.8" width="7.0" height="10.4" fill="#4b4b4b" shape-rendering="crispEdges"/>
<rect x="770.0" y="752.6" width="2.0" height="15.5" fill="#4b4b4b" shape-rendering="crispEdges"/>
<rect x="772.0" y="747.4" width="6.0" height="20.7" fill="#4b4b4b" shape-rendering="crispEdges"/>
<rect x="778.0" y="752.6" width="5.0" height="25.9" fill="#4b4b4b" shape-rendering="crispEdges"/>
<rect x="783.0" y="752.6" width="8.0" height="10.4" fill="#4b4b4b" shape-rendering="crispEdges"/>
<rect x="791.0" y="752.6" width="9.0" height="15.5" fill="#4b4b4b" shape-rendering="crispEdges"/>
<rect x="800.0" y="747.4" width="5.0" height="25.9" fill="#4b4b4b" shape-rendering="crispEdges"/>
<rect x="805.0" y="757.8" width="1.0" height="5.2" fill="#4b4b4b" shape-rendering="crispEdges"/>
<rect x="806.0" y="752.6" width="5.0" height="10.4" fill="#4b4b4b" shape-rendering="crispEdges"/>
<rect x="811.0" y="752.6" width="1.0" height="15.5" fill="#4b4b4b" shape-rendering="crispEdges"/>
<rect x="812.0" y="752.6" width="3.0" height="20.7" fill="#4b4b4b" shape-rendering="crispEdges"/>
<rect x="815.0" y="747.4" width="8.0" height="31.1" fill="#4b4b4b" shape-rendering="crispEdges"/>
<rect x="823.0" y="747.4" width="7.0" height="25.9" fill="#4b4b4b" shape-rendering="crispEdges"/>
<rect x="830.0" y="747.4" width="2.0" height="31.1" fill="#4b4b4b" shape-rendering="crispEdges"/>
<rect x="832.0" y="752.6" width="2.0" height="25.9" fill="#4b4b4b" shape-rendering="crispEdges"/>
<rect x="834.0" y="752.6" width="1.0" height="20.7" fill="#4b4b4b" shape-rendering="crispEdges"/>
<rect x="835.0" y="747.4" width="1.0" height="20.7" fill="#4b4b4b" shape-rendering="crispEdges"/>
<rect x="836.0" y="742.3" width="2.0" height="25.9" fill="#4b4b4b" shape-rendering="crispEdges"/>
<rect x="838.0" y="747.4" width="1.0" height="20.7" fill="#4b4b4b" shape-rendering="crispEdges"/>
<rect x="839.0" y="747.4" width="2.0" height="15.5" fill="#4b4b4b" shape-rendering="crispEdges"/>
<rect x="841.0" y="737.1" width="5.0" height="15.5" fill="#4b4b4b" shape-rendering="crispEdges"/>
<rect x="846.0" y="742.3" width="4.0" height="20.7" fill="#4b4b4b" shape-rendering="crispEdges"/>
<rect x="850.0" y="731.9" width="1.0" height="20.7" fill="#4b4b4b" shape-rendering="crispEdges"/>
<rect x="851.0" y="731.9" width="1.0" height="15.5" fill="#4b4b4b" shape-rendering="crispEdges"/>
<rect x="852.0" y="726.7" width="5.0" height="31.1" fill="#4b4b4b" shape-rendering="crispEdges"/>
<rect x="857.0" y="731.9" width="14.0" height="20.7" fill="#4b4b4b" shape-rendering="crispEdges"/>
<rect x="871.0" y="726.7" width="1.0" height="31.1" fill="#4b4b4b" shape-rendering="crispEdges"/>
<rect x="872.0" y="726.7" width="3.0" height="25.9" fill="#4b4b4b" shape-rendering="crispEdges"/>
<rect x="875.0" y="737.1" width="3.0" height="5.2" fill="#4b4b4b" shape-rendering="crispEdges"/>
<rect x="878.0" y="726.7" width="1.0" height="25.9" fill="#4b4b4b" shape-rendering="crispEdges"/>
<rect x="879.0" y="726.7" width="4.0" height="20.7" fill="#4b4b4b" shape-rendering="crispEdges"/>
<rect x="883.0" y="726.7" width="3.0" height="15.5" fill="#4b4b4b" shape-rendering="crispEdges"/>
<rect x="886.0" y="721.5" width="3.0" height="25.9" fill="#4b4b4b" shape-rendering="crispEdges"/>
<rect x="889.0" y="721.5" width="4.0" height="31.1" fill="#4b4b4b" shape-rendering="crispEdges"/>
<rect x="893.0" y="731.9" width="5.0" height="10.4" fill="#4b4b4b" shape-rendering="crispEdges"/>
<rect x="898.0" y="731.9" width="2.0" height="15.5" fill="#4b4b4b" shape-rendering="crispEdges"/>
<rect x="900.0" y="731.9" width="4.0" height="20.7" fill="#4b4b4b" shape-rendering="crispEdges"/>
<rect x="904.0" y="721.5" width="2.0" height="25.9" fill="#4b4b4b" shape-rendering="crispEdges"/>
<rect x="906.0" y="721.5" width="1.0" height="20.7" fill="#4b4b4b" shape-rendering="crispEdges"/>
<rect x="907.0" y="716.4" width="1.0" height="25.9" fill="#4b4b4b" shape-rendering="crispEdges"/>
<rect x="908.0" y="721.5" width="1.0" height="20.7" fill="#4b4b4b" shape-rendering="crispEdges"/>
<rect x="909.0" y="721.5" width="8.0" height="15.5" fill="#4b4b4b" shape-rendering="crispEdges"/>
<rect x="917.0" y="716.4" width="3.0" height="20.7" fill="#4b4b4b" shape-rendering="crispEdges"/>
<rect x="920.0" y="716.4" width="2.0" height="25.9" fill="#4b4b4b" shape-rendering="crispEdges"/>
<rect x="922.0" y="716.4" width="3.0" height="20.7" fill="#4b4b4b" shape-rendering="crispEdges"/>
<rect x="925.0" y="716.4" width="2.0" height="15.5" fill="#4b4b4b" shape-rendering="crispEdges"/>
<rect x="927.0" y="721.5" width="5.0" height="10.4" fill="#4b4b4b" shape-rendering="crispEdges"/>
<rect x="932.0" y="716.4" width="8.0" height="15.5" fill="#4b4b4b" shape-rendering="crispEdges"/>
<rect x="940.0" y="706.0" width="6.0" height="25.9" fill="#4b4b4b" shape-rendering="crispEdges"/>
<rect x="946.0" y="711.2" width="3.0" height="20.7" fill="#4b4b4b" shape-rendering="crispEdges"/>
<rect x="949.0" y="711.2" width="8.0" height="15.5" fill="#4b4b4b" shape-rendering="crispEdges"/>
<rect x="957.0" y="711.2" width="6.0" height="20.7" fill="#4b4b4b" shape-rendering="crispEdges"/>
<rect x="963.0" y="706.0" width="2.0" height="20.7" fill="#4b4b4b" shape-rendering="crispEdges"/>
<rect x="965.0" y="711.2" width="4.0" height="20.7" fill="#4b4b4b" shape-rendering="crispEdges"/>
<rect x="969.0" y="716.4" width="3.0" height="10.4" fill="#4b4b4b" shape-rendering="crispEdges"/>
<rect x="972.0" y="716.4" width="3.0" height="5.2" fill="#4b4b4b" shape-rendering="crispEdges"/>
<rect x="975.0" y="711.2" width="9.0" height="10.4" fill="#4b4b4b" shape-rendering="crispEdges"/>
<rect x="984.0" y="706.0" width="5.0" height="15.5" fill="#4b4b4b" shape-rendering="crispEdges"/>
<rect x="989.0" y="711.2" width="5.0" height="10.4" fill="#4b4b4b" shape-rendering="crispEdges"/>
<rect x="994.0" y="711.2" width="3.0" height="20.7" fill="#4b4b4b" shape-rendering="crispEdges"/>
<rect x="997.0" y="711.2" width="5.0" height="15.5" fill="#4b4b4b" shape-rendering="crispEdges"/>
<rect x="1002.0" y="706.0" width="3.0" height="25.9" fill="#4b4b4b" shape-rendering="crispEdges"/>
<rect x="1005.0" y="716.4" width="2.0" height="10.4" fill="#4b4b4b" shape-rendering="crispEdges"/>
<rect x="1007.0" y="716.4" width="5.0" height="5.2" fill="#4b4b4b" shape-rendering="crispEdges"/>
<rect x="1012.0" y="716.4" width="3.0" height="10.4" fill="#4b4b4b" shape-rendering="crispEdges"/>
<rect x="1015.0" y="706.0" width="4.0" height="20.7" fill="#4b4b4b" shape-rendering="crispEdges"/>
<rect x="1019.0" y="706.0" width="2.0" height="25.9" fill="#4b4b4b" shape-rendering="crispEdges"/>
<rect x="1021.0" y="711.2" width="5.0" height="15.5" fill="#4b4b4b" shape-rendering="crispEdges"/>
<rect x="1026.0" y="711.2" width="3.0" height="20.7" fill="#4b4b4b" shape-rendering="crispEdges"/>
<rect x="1029.0" y="700.8" width="1.0" height="20.7" fill="#4b4b4b" shape-rendering="crispEdges"/>
<rect x="1030.0" y="695.6" width="3.0" height="20.7" fill="#4b4b4b" shape-rendering="crispEdges"/>
<rect x="1033.0" y="695.6" width="3.0" height="10.4" fill="#4b4b4b" shape-rendering="crispEdges"/>
<rect x="1036.0" y="706.0" width="1.0" height="5.2" fill="#4b4b4b" shape-rendering="crispEdges"/>
<rect x="1037.0" y="706.0" width="5.0" height="10.4" fill="#4b4b4b" shape-rendering="crispEdges"/>
<rect x="1042.0" y="695.6" width="1.0" height="25.9" fill="#4b4b4b" shape-rendering="crispEdges"/>
<rect x="1043.0" y="695.6" width="4.0" height="20.7" fill="#4b4b4b" shape-rendering="crispEdges"/>
<rect x="1047.0" y="685.3" width="5.0" height="25.9" fill="#4b4b4b" shape-rendering="crispEdges"/>
<rect x="1052.0" y="685.3" width="2.0" height="31.1" fill="#4b4b4b" shape-rendering="crispEdges"/>
<rect x="1054.0" y="695.6" width="1.0" height="10.4" fill="#4b4b4b" shape-rendering="crispEdges"/>
<rect x="1055.0" y="706.0" width="2.0" height="5.2" fill="#4b4b4b" shape-rendering="crispEdges"/>
<rect x="1057.0" y="706.0" width="3.0" height="10.4" fill="#4b4b4b" shape-rendering="crispEdges"/>
<rect x="1060.0" y="695.6" width="2.0" height="15.5" fill="#4b4b4b" shape-rendering="crispEdges"/>
<rect x="1062.0" y="700.8" width="2.0" height="20.7" fill="#4b4b4b" shape-rendering="crispEdges"/>
<rect x="1064.0" y="695.6" width="1.0" height="25.9" fill="#4b4b4b" shape-rendering="crispEdges"/>
<rect x="1065.0" y="685.3" width="1.0" height="25.9" fill="#4b4b4b" shape-rendering="crispEdges"/>
<rect x="572.0" y="809.6" width="1.0" height="5.2" fill="#4b4b4b" shape-rendering="crispEdges"/>
<rect x="580.0" y="778.5" width="1.0" height="10.4" fill="#4b4b4b" shape-rendering="crispEdges"/>
<rect x="586.0" y="820.0" width="1.0" height="5.2" fill="#4b4b4b" shape-rendering="crispEdges"/>
<rect x="592.0" y="809.6" width="1.0" height="5.2" fill="#4b4b4b" shape-rendering="crispEdges"/>
<rect x="594.0" y="788.9" width="1.0" height="5.2" fill="#4b4b4b" shape-rendering="crispEdges"/>
<rect x="595.0" y="788.9" width="1.0" height="5.2" fill="#4b4b4b" shape-rendering="crispEdges"/>
<rect x="609.0" y="788.9" width="1.0" height="5.2" fill="#4b4b4b" shape-rendering="crispEdges"/>
<rect x="612.0" y="783.7" width="1.0" height="10.4" fill="#4b4b4b" shape-rendering="crispEdges"/>
<rect x="613.0" y="788.9" width="1.0" height="10.4" fill="#4b4b4b" shape-rendering="crispEdges"/>
<rect x="643.0" y="794.1" width="1.0" height="5.2" fill="#4b4b4b" shape-rendering="crispEdges"/>
<rect x="650.0" y="814.8" width="1.0" height="5.2" fill="#4b4b4b" shape-rendering="crispEdges"/>
<rect x="657.0" y="783.7" width="1.0" height="5.2" fill="#4b4b4b" shape-rendering="crispEdges"/>
<rect x="667.0" y="783.7" width="1.0" height="5.2" fill="#4b4b4b" shape-rendering="crispEdges"/>
<rect x="672.0" y="783.7" width="1.0" height="5.2" fill="#4b4b4b" shape-rendering="crispEdges"/>
<rect x="673.0" y="783.7" width="1.0" height="5.2" fill="#4b4b4b" shape-rendering="crispEdges"/>
<rect x="688.0" y="778.5" width="1.0" height="5.2" fill="#4b4b4b" shape-rendering="crispEdges"/>
<rect x="691.0" y="804.4" width="1.0" height="5.2" fill="#4b4b4b" shape-rendering="crispEdges"/>
<rect x="694.0" y="773.3" width="1.0" height="5.2" fill="#4b4b4b" shape-rendering="crispEdges"/>
<rect x="708.0" y="799.2" width="1.0" height="5.2" fill="#4b4b4b" shape-rendering="crispEdges"/>
<rect x="711.0" y="799.2" width="1.0" height="5.2" fill="#4b4b4b" shape-rendering="crispEdges"/>
<rect x="716.0" y="788.9" width="1.0" height="5.2" fill="#4b4b4b" shape-rendering="crispEdges"/>
<rect x="737.0" y="763.0" width="1.0" height="5.2" fill="#4b4b4b" shape-rendering="crispEdges"/>
<rect x="752.0" y="783.7" width="1.0" height="5.2" fill="#4b4b4b" shape-rendering="crispEdges"/>
<rect x="759.0" y="778.5" width="1.0" height="10.4" fill="#4b4b4b" shape-rendering="crispEdges"/>
<rect x="766.0" y="752.6" width="1.0" height="5.2" fill="#4b4b4b" shape-rendering="crispEdges"/>
<rect x="768.0" y="768.2" width="1.0" height="5.2" fill="#4b4b4b" shape-rendering="crispEdges"/>
<rect x="771.0" y="747.4" width="1.0" height="5.2" fill="#4b4b4b" shape-rendering="crispEdges"/>
<rect x="774.0" y="742.3" width="1.0" height="5.2" fill="#4b4b4b" shape-rendering="crispEdges"/>
<rect x="779.0" y="747.4" width="1.0" height="5.2" fill="#4b4b4b" shape-rendering="crispEdges"/>
<rect x="781.0" y="747.4" width="1.0" height="5.2" fill="#4b4b4b" shape-rendering="crispEdges"/>
<rect x="791.0" y="768.2" width="1.0" height="10.4" fill="#4b4b4b" shape-rendering="crispEdges"/>
<rect x="809.0" y="763.0" width="1.0" height="5.2" fill="#4b4b4b" shape-rendering="crispEdges"/>
<rect x="827.0" y="742.3" width="1.0" height="5.2" fill="#4b4b4b" shape-rendering="crispEdges"/>
<rect x="834.0" y="747.4" width="1.0" height="5.2" fill="#4b4b4b" shape-rendering="crispEdges"/>
<rect x="845.0" y="752.6" width="1.0" height="10.4" fill="#4b4b4b" shape-rendering="crispEdges"/>
<rect x="847.0" y="763.0" width="1.0" height="10.4" fill="#4b4b4b" shape-rendering="crispEdges"/>
<rect x="850.0" y="752.6" width="1.0" height="5.2" fill="#4b4b4b" shape-rendering="crispEdges"/>
<rect x="869.0" y="726.7" width="1.0" height="5.2" fill="#4b4b4b" shape-rendering="crispEdges"/>
<rect x="872.0" y="752.6" width="1.0" height="5.2" fill="#4b4b4b" shape-rendering="crispEdges"/>
<rect x="886.0" y="747.4" width="1.0" height="10.4" fill="#4b4b4b" shape-rendering="crispEdges"/>
<rect x="888.0" y="711.2" width="1.0" height="10.4" fill="#4b4b4b" shape-rendering="crispEdges"/>
<rect x="900.0" y="726.7" width="1.0" height="5.2" fill="#4b4b4b" shape-rendering="crispEdges"/>
<rect x="904.0" y="747.4" width="1.0" height="5.2" fill="#4b4b4b" shape-rendering="crispEdges"/>
<rect x="905.0" y="747.4" width="1.0" height="5.2" fill="#4b4b4b" shape-rendering="crispEdges"/>
<rect x="918.0" y="737.1" width="1.0" height="5.2" fill="#4b4b4b" shape-rendering="crispEdges"/>
<rect x="919.0" y="711.2" width="1.0" height="5.2" fill="#4b4b4b" shape-rendering="crispEdges"/>
<rect x="927.0" y="731.9" width="1.0" height="5.2" fill="#4b4b4b" shape-rendering="crispEdges"/>
<rect x="928.0" y="731.9" width="1.0" height="10.4" fill="#4b4b4b" shape-rendering="crispEdges"/>
<rect x="929.0" y="716.4" width="1.0" height="5.2" fill="#4b4b4b" shape-rendering="crispEdges"/>
<rect x="932.0" y="711.2" width="1.0" height="5.2" fill="#4b4b4b" shape-rendering="crispEdges"/>
<rect x="935.0" y="711.2" width="1.0" height="5.2" fill="#4b4b4b" shape-rendering="crispEdges"/>
<rect x="941.0" y="731.9" width="1.0" height="5.2" fill="#4b4b4b" shape-rendering="crispEdges"/>
<rect x="942.0" y="700.8" width="1.0" height="5.2" fill="#4b4b4b" shape-rendering="crispEdges"/>
<rect x="945.0" y="700.8" width="1.0" height="5.2" fill="#4b4b4b" shape-rendering="crispEdges"/>
<rect x="950.0" y="700.8" width="1.0" height="10.4" fill="#4b4b4b" shape-rendering="crispEdges"/>
<rect x="957.0" y="706.0" width="1.0" height="5.2" fill="#4b4b4b" shape-rendering="crispEdges"/>
<rect x="959.0" y="706.0" width="1.0" height="5.2" fill="#4b4b4b" shape-rendering="crispEdges"/>
<rect x="967.0" y="731.9" width="1.0" height="10.4" fill="#4b4b4b" shape-rendering="crispEdges"/>
<rect x="977.0" y="706.0" width="1.0" height="5.2" fill="#4b4b4b" shape-rendering="crispEdges"/>
<rect x="981.0" y="706.0" width="1.0" height="5.2" fill="#4b4b4b" shape-rendering="crispEdges"/>
<rect x="989.0" y="721.5" width="1.0" height="10.4" fill="#4b4b4b" shape-rendering="crispEdges"/>
<rect x="1014.0" y="726.7" width="1.0" height="5.2" fill="#4b4b4b" shape-rendering="crispEdges"/>
<rect x="1016.0" y="726.7" width="1.0" height="5.2" fill="#4b4b4b" shape-rendering="crispEdges"/>
<rect x="1025.0" y="706.0" width="1.0" height="5.2" fill="#4b4b4b" shape-rendering="crispEdges"/>
<rect x="1027.0" y="731.9" width="1.0" height="10.4" fill="#4b4b4b" shape-rendering="crispEdges"/>
<rect x="1044.0" y="690.5" width="1.0" height="5.2" fill="#4b4b4b" shape-rendering="crispEdges"/>
<rect x="1046.0" y="716.4" width="1.0" height="5.2" fill="#4b4b4b" shape-rendering="crispEdges"/>
<rect x="1049.0" y="680.1" width="1.0" height="5.2" fill="#4b4b4b" shape-rendering="crispEdges"/>
<rect x="1050.0" y="711.2" width="1.0" height="5.2" fill="#4b4b4b" shape-rendering="crispEdges"/>
<rect x="1061.0" y="685.3" width="1.0" height="10.4" fill="#4b4b4b" shape-rendering="crispEdges"/>
<rect x="1063.0" y="695.6" width="1.0" height="5.2" fill="#4b4b4b" shape-rendering="crispEdges"/>
<rect x="1071.2" y="712.0" width="0.9" height="6.5" fill="#4b4b4b" shape-rendering="crispEdges"/>
<rect x="1059.4" y="712.0" width="0.9" height="12.6" fill="#4b4b4b" shape-rendering="crispEdges"/>
<rect x="1324.1" y="712.0" width="1.0" height="202.0" fill="#4b4b4b" shape-rendering="crispEdges"/>
<rect x="1330.0" y="819.0" width="6.0" height="11.0" fill="#4b4b4b" shape-rendering="crispEdges"/>
<rect x="1336.0" y="813.0" width="10.4" height="12.0" fill="#4b4b4b" shape-rendering="crispEdges"/>
<rect x="1345.9" y="766.0" width="1.0" height="42.0" fill="#4b4b4b" shape-rendering="crispEdges"/>
<rect x="1346.8" y="784.0" width="23.0" height="4.2" fill="#4b4b4b" shape-rendering="crispEdges"/>
<rect x="1369.0" y="789.6" width="12.4" height="7.2" fill="#4b4b4b" shape-rendering="crispEdges"/>
<rect x="1360.1" y="788.0" width="0.9" height="8.5" fill="#4b4b4b" shape-rendering="crispEdges"/>
<rect x="1357.3" y="778.0" width="0.9" height="7.0" fill="#4b4b4b" shape-rendering="crispEdges"/>
<rect x="1363.2" y="778.0" width="0.9" height="7.0" fill="#4b4b4b" shape-rendering="crispEdges"/>
<rect x="1355.2" y="778.0" width="0.9" height="7.0" fill="#4b4b4b" shape-rendering="crispEdges"/>
<rect x="1352.3" y="788.0" width="0.9" height="8.5" fill="#4b4b4b" shape-rendering="crispEdges"/>
<rect x="1354.6" y="788.0" width="0.9" height="8.5" fill="#4b4b4b" shape-rendering="crispEdges"/>
<rect x="1349.0" y="788.0" width="0.9" height="8.5" fill="#4b4b4b" shape-rendering="crispEdges"/>
<rect x="1357.8" y="788.0" width="0.9" height="8.5" fill="#4b4b4b" shape-rendering="crispEdges"/>
<rect x="1350.2" y="788.0" width="0.9" height="8.5" fill="#4b4b4b" shape-rendering="crispEdges"/>
<rect x="1365.0" y="778.0" width="0.9" height="7.0" fill="#4b4b4b" shape-rendering="crispEdges"/>
<rect x="1350.0" y="778.0" width="0.9" height="7.0" fill="#4b4b4b" shape-rendering="crispEdges"/>
<rect x="1364.2" y="788.0" width="0.9" height="8.5" fill="#4b4b4b" shape-rendering="crispEdges"/>
<rect x="1349.3" y="778.0" width="0.9" height="7.0" fill="#4b4b4b" shape-rendering="crispEdges"/>
<rect x="1367.2" y="778.0" width="0.9" height="7.0" fill="#4b4b4b" shape-rendering="crispEdges"/>
<rect x="1381.0" y="766.0" width="1.0" height="148.0" fill="#4b4b4b" shape-rendering="crispEdges"/>
<rect x="1386.4" y="823.0" width="6.6" height="7.0" fill="#4b4b4b" shape-rendering="crispEdges"/>
<rect x="1393.0" y="813.0" width="18.2" height="11.6" fill="#4b4b4b" shape-rendering="crispEdges"/>
<rect x="1411.0" y="758.0" width="0.9" height="76.4" fill="#4b4b4b" shape-rendering="crispEdges"/>
<rect x="1411.6" y="801.8" width="4.0" height="12.2" fill="#4b4b4b" shape-rendering="crispEdges"/>
<rect x="1415.5" y="796.0" width="8.0" height="6.6" fill="#4b4b4b" shape-rendering="crispEdges"/>
<rect x="1423.1" y="796.0" width="1.0" height="118.0" fill="#4b4b4b" shape-rendering="crispEdges"/>
<rect x="1430.0" y="814.0" width="2.0" height="12.0" fill="#4b4b4b" shape-rendering="crispEdges"/>
<rect x="1432.0" y="808.0" width="4.6" height="11.0" fill="#4b4b4b" shape-rendering="crispEdges"/>
<rect x="1436.6" y="803.0" width="5.0" height="11.0" fill="#4b4b4b" shape-rendering="crispEdges"/>
<rect x="1441.6" y="809.0" width="2.6" height="13.0" fill="#4b4b4b" shape-rendering="crispEdges"/>
<rect x="1444.0" y="813.0" width="3.0" height="15.3" fill="#4b4b4b" shape-rendering="crispEdges"/>
<rect x="1446.6" y="818.0" width="33.0" height="10.3" fill="#4b4b4b" shape-rendering="crispEdges"/>
<rect x="1479.0" y="786.6" width="0.9" height="43.4" fill="#4b4b4b" shape-rendering="crispEdges"/>
<rect x="1480.0" y="791.6" width="8.2" height="11.9" fill="#4b4b4b" shape-rendering="crispEdges"/>
<rect x="1450.6" y="821.0" width="0.8" height="5.0" fill="#fff" shape-rendering="crispEdges"/>
<rect x="1474.0" y="821.0" width="0.8" height="5.0" fill="#fff" shape-rendering="crispEdges"/>
<rect x="1472.6" y="821.0" width="0.8" height="5.0" fill="#fff" shape-rendering="crispEdges"/>
<rect x="1461.4" y="821.0" width="0.8" height="5.0" fill="#fff" shape-rendering="crispEdges"/>
<rect x="1468.9" y="821.0" width="0.8" height="5.0" fill="#fff" shape-rendering="crispEdges"/>
<rect x="1470.5" y="821.0" width="0.8" height="5.0" fill="#fff" shape-rendering="crispEdges"/>
<rect x="1487.9" y="787.0" width="1.0" height="127.0" fill="#4b4b4b" shape-rendering="crispEdges"/>
<rect x="1494.0" y="816.0" width="3.0" height="10.0" fill="#4b4b4b" shape-rendering="crispEdges"/>
<rect x="1497.0" y="810.0" width="4.0" height="10.0" fill="#4b4b4b" shape-rendering="crispEdges"/>
<rect x="1501.0" y="806.0" width="5.0" height="9.0" fill="#4b4b4b" shape-rendering="crispEdges"/>
<rect x="1506.0" y="809.2" width="4.0" height="13.0" fill="#4b4b4b" shape-rendering="crispEdges"/>
<rect x="1510.0" y="809.2" width="3.0" height="7.8" fill="#4b4b4b" shape-rendering="crispEdges"/>
<rect x="1513.0" y="811.8" width="1.0" height="5.2" fill="#4b4b4b" shape-rendering="crispEdges"/>
<rect x="1514.0" y="811.8" width="2.0" height="7.8" fill="#4b4b4b" shape-rendering="crispEdges"/>
<rect x="1516.0" y="814.4" width="1.0" height="5.2" fill="#4b4b4b" shape-rendering="crispEdges"/>
<rect x="1506.0" y="822.2" width="1.0" height="2.6" fill="#4b4b4b" shape-rendering="crispEdges"/>
<rect x="1507.0" y="822.2" width="1.0" height="7.8" fill="#4b4b4b" shape-rendering="crispEdges"/>
<rect x="1509.0" y="822.2" width="1.0" height="2.6" fill="#4b4b4b" shape-rendering="crispEdges"/>
<rect x="1510.0" y="806.6" width="1.0" height="2.6" fill="#4b4b4b" shape-rendering="crispEdges"/>
<rect x="1511.0" y="804.0" width="1.0" height="5.2" fill="#4b4b4b" shape-rendering="crispEdges"/>
<rect x="1513.0" y="817.0" width="1.0" height="2.6" fill="#4b4b4b" shape-rendering="crispEdges"/>
<rect x="1514.0" y="804.0" width="1.0" height="7.8" fill="#4b4b4b" shape-rendering="crispEdges"/>
<rect x="1516.9" y="712.0" width="1.6" height="102.0" fill="#4b4b4b" shape-rendering="crispEdges"/>
<rect x="1519.0" y="806.6" width="1.0" height="7.8" fill="#4b4b4b" shape-rendering="crispEdges"/>
<rect x="1520.0" y="804.0" width="2.0" height="10.4" fill="#4b4b4b" shape-rendering="crispEdges"/>
<rect x="1522.0" y="804.0" width="1.0" height="7.8" fill="#4b4b4b" shape-rendering="crispEdges"/>
<rect x="1523.0" y="804.0" width="1.0" height="10.4" fill="#4b4b4b" shape-rendering="crispEdges"/>
<rect x="1524.0" y="801.4" width="1.0" height="13.0" fill="#4b4b4b" shape-rendering="crispEdges"/>
<rect x="1525.0" y="801.4" width="2.0" height="10.4" fill="#4b4b4b" shape-rendering="crispEdges"/>
<rect x="1527.0" y="804.0" width="1.0" height="10.4" fill="#4b4b4b" shape-rendering="crispEdges"/>
<rect x="1528.0" y="801.4" width="2.0" height="13.0" fill="#4b4b4b" shape-rendering="crispEdges"/>
<rect x="1530.0" y="806.6" width="2.0" height="5.2" fill="#4b4b4b" shape-rendering="crispEdges"/>
<rect x="1532.0" y="806.6" width="1.0" height="2.6" fill="#4b4b4b" shape-rendering="crispEdges"/>
<rect x="1533.0" y="804.0" width="2.0" height="2.6" fill="#4b4b4b" shape-rendering="crispEdges"/>
<rect x="1535.0" y="801.4" width="2.0" height="10.4" fill="#4b4b4b" shape-rendering="crispEdges"/>
<rect x="1537.0" y="804.0" width="2.0" height="7.8" fill="#4b4b4b" shape-rendering="crispEdges"/>
<rect x="1539.0" y="801.4" width="3.0" height="5.2" fill="#4b4b4b" shape-rendering="crispEdges"/>
<rect x="1542.0" y="801.4" width="1.0" height="7.8" fill="#4b4b4b" shape-rendering="crispEdges"/>
<rect x="1543.0" y="798.8" width="2.0" height="10.4" fill="#4b4b4b" shape-rendering="crispEdges"/>
<rect x="1545.0" y="804.0" width="2.0" height="5.2" fill="#4b4b4b" shape-rendering="crispEdges"/>
<rect x="1547.0" y="801.4" width="6.0" height="5.2" fill="#4b4b4b" shape-rendering="crispEdges"/>
<rect x="1553.0" y="798.8" width="1.0" height="7.8" fill="#4b4b4b" shape-rendering="crispEdges"/>
<rect x="1554.0" y="798.8" width="1.0" height="5.2" fill="#4b4b4b" shape-rendering="crispEdges"/>
<rect x="1555.0" y="798.8" width="1.0" height="10.4" fill="#4b4b4b" shape-rendering="crispEdges"/>
<rect x="1556.0" y="801.4" width="1.0" height="7.8" fill="#4b4b4b" shape-rendering="crispEdges"/>
<rect x="1557.0" y="798.8" width="1.0" height="10.4" fill="#4b4b4b" shape-rendering="crispEdges"/>
<rect x="1558.0" y="804.0" width="1.0" height="5.2" fill="#4b4b4b" shape-rendering="crispEdges"/>
<rect x="1559.0" y="806.6" width="2.0" height="2.6" fill="#4b4b4b" shape-rendering="crispEdges"/>
<rect x="1561.0" y="804.0" width="1.0" height="7.8" fill="#4b4b4b" shape-rendering="crispEdges"/>
<rect x="1562.0" y="806.6" width="1.0" height="5.2" fill="#4b4b4b" shape-rendering="crispEdges"/>
<rect x="1520.0" y="801.4" width="1.0" height="2.6" fill="#4b4b4b" shape-rendering="crispEdges"/>
<rect x="1521.0" y="814.4" width="1.0" height="5.2" fill="#4b4b4b" shape-rendering="crispEdges"/>
<rect x="1522.0" y="811.8" width="1.0" height="7.8" fill="#4b4b4b" shape-rendering="crispEdges"/>
<rect x="1523.0" y="814.4" width="1.0" height="2.6" fill="#4b4b4b" shape-rendering="crispEdges"/>
<rect x="1525.0" y="796.2" width="1.0" height="5.2" fill="#4b4b4b" shape-rendering="crispEdges"/>
<rect x="1527.0" y="814.4" width="1.0" height="5.2" fill="#4b4b4b" shape-rendering="crispEdges"/>
<rect x="1533.0" y="806.6" width="1.0" height="7.8" fill="#4b4b4b" shape-rendering="crispEdges"/>
<rect x="1535.0" y="798.8" width="1.0" height="2.6" fill="#4b4b4b" shape-rendering="crispEdges"/>
<rect x="1536.0" y="798.8" width="1.0" height="2.6" fill="#4b4b4b" shape-rendering="crispEdges"/>
<rect x="1540.0" y="806.6" width="1.0" height="7.8" fill="#4b4b4b" shape-rendering="crispEdges"/>
<rect x="1542.0" y="796.2" width="1.0" height="5.2" fill="#4b4b4b" shape-rendering="crispEdges"/>
<rect x="1543.0" y="796.2" width="1.0" height="2.6" fill="#4b4b4b" shape-rendering="crispEdges"/>
<rect x="1545.0" y="809.2" width="1.0" height="7.8" fill="#4b4b4b" shape-rendering="crispEdges"/>
<rect x="1550.0" y="793.6" width="1.0" height="7.8" fill="#4b4b4b" shape-rendering="crispEdges"/>
<rect x="1555.0" y="793.6" width="1.0" height="5.2" fill="#4b4b4b" shape-rendering="crispEdges"/>
<rect x="1557.0" y="809.2" width="1.0" height="7.8" fill="#4b4b4b" shape-rendering="crispEdges"/>
<rect x="1560.0" y="809.2" width="1.0" height="5.2" fill="#4b4b4b" shape-rendering="crispEdges"/>
<rect x="1561.0" y="811.8" width="1.0" height="5.2" fill="#4b4b4b" shape-rendering="crispEdges"/>
<rect x="1562.0" y="811.8" width="1.0" height="2.6" fill="#4b4b4b" shape-rendering="crispEdges"/>
<rect x="1563.0" y="777.0" width="0.9" height="125.6" fill="#4b4b4b" shape-rendering="crispEdges"/>
<rect x="1570.0" y="798.8" width="2.0" height="7.8" fill="#4b4b4b" shape-rendering="crispEdges"/>
<rect x="1572.0" y="801.4" width="1.0" height="5.2" fill="#4b4b4b" shape-rendering="crispEdges"/>
<rect x="1573.0" y="798.8" width="1.0" height="10.4" fill="#4b4b4b" shape-rendering="crispEdges"/>
<rect x="1574.0" y="801.4" width="1.0" height="10.4" fill="#4b4b4b" shape-rendering="crispEdges"/>
<rect x="1575.0" y="801.4" width="1.0" height="7.8" fill="#4b4b4b" shape-rendering="crispEdges"/>
<rect x="1576.0" y="804.0" width="1.0" height="7.8" fill="#4b4b4b" shape-rendering="crispEdges"/>
<rect x="1577.0" y="804.0" width="1.0" height="13.0" fill="#4b4b4b" shape-rendering="crispEdges"/>
<rect x="1578.0" y="806.6" width="5.0" height="7.8" fill="#4b4b4b" shape-rendering="crispEdges"/>
<rect x="1583.0" y="804.0" width="2.0" height="10.4" fill="#4b4b4b" shape-rendering="crispEdges"/>
<rect x="1585.0" y="804.0" width="4.0" height="13.0" fill="#4b4b4b" shape-rendering="crispEdges"/>
<rect x="1589.0" y="809.2" width="1.0" height="5.2" fill="#4b4b4b" shape-rendering="crispEdges"/>
<rect x="1590.0" y="806.6" width="1.0" height="7.8" fill="#4b4b4b" shape-rendering="crispEdges"/>
<rect x="1570.0" y="806.6" width="1.0" height="5.2" fill="#4b4b4b" shape-rendering="crispEdges"/>
<rect x="1571.0" y="806.6" width="1.0" height="2.6" fill="#4b4b4b" shape-rendering="crispEdges"/>
<rect x="1572.0" y="798.8" width="1.0" height="2.6" fill="#4b4b4b" shape-rendering="crispEdges"/>
<rect x="1573.0" y="796.2" width="1.0" height="2.6" fill="#4b4b4b" shape-rendering="crispEdges"/>
<rect x="1574.0" y="796.2" width="1.0" height="5.2" fill="#4b4b4b" shape-rendering="crispEdges"/>
<rect x="1575.0" y="796.2" width="1.0" height="5.2" fill="#4b4b4b" shape-rendering="crispEdges"/>
<rect x="1577.0" y="817.0" width="1.0" height="2.6" fill="#4b4b4b" shape-rendering="crispEdges"/>
<rect x="1582.0" y="814.4" width="1.0" height="7.8" fill="#4b4b4b" shape-rendering="crispEdges"/>
<rect x="1583.0" y="814.4" width="1.0" height="5.2" fill="#4b4b4b" shape-rendering="crispEdges"/>
<rect x="1584.0" y="796.2" width="1.0" height="7.8" fill="#4b4b4b" shape-rendering="crispEdges"/>
<rect x="1587.0" y="801.4" width="1.0" height="2.6" fill="#4b4b4b" shape-rendering="crispEdges"/>
<rect x="1589.0" y="804.0" width="1.0" height="5.2" fill="#4b4b4b" shape-rendering="crispEdges"/>
<rect x="1590.0" y="814.4" width="1.0" height="7.8" fill="#4b4b4b" shape-rendering="crispEdges"/>
<rect x="1590.6" y="787.6" width="1.0" height="126.4" fill="#4b4b4b" shape-rendering="crispEdges"/>
<rect x="1599.0" y="832.6" width="1.0" height="10.4" fill="#4b4b4b" shape-rendering="crispEdges"/>
<rect x="1600.0" y="830.0" width="1.0" height="13.0" fill="#4b4b4b" shape-rendering="crispEdges"/>
<rect x="1601.0" y="832.6" width="1.0" height="7.8" fill="#4b4b4b" shape-rendering="crispEdges"/>
<rect x="1602.0" y="830.0" width="1.0" height="10.4" fill="#4b4b4b" shape-rendering="crispEdges"/>
<rect x="1603.0" y="827.4" width="1.0" height="7.8" fill="#4b4b4b" shape-rendering="crispEdges"/>
<rect x="1604.0" y="830.0" width="1.0" height="10.4" fill="#4b4b4b" shape-rendering="crispEdges"/>
<rect x="1605.0" y="830.0" width="1.0" height="7.8" fill="#4b4b4b" shape-rendering="crispEdges"/>
<rect x="1606.0" y="827.4" width="2.0" height="10.4" fill="#4b4b4b" shape-rendering="crispEdges"/>
<rect x="1608.0" y="830.0" width="1.0" height="7.8" fill="#4b4b4b" shape-rendering="crispEdges"/>
<rect x="1609.0" y="830.0" width="1.0" height="5.2" fill="#4b4b4b" shape-rendering="crispEdges"/>
<rect x="1610.0" y="830.0" width="1.0" height="10.4" fill="#4b4b4b" shape-rendering="crispEdges"/>
<rect x="1611.0" y="827.4" width="1.0" height="10.4" fill="#4b4b4b" shape-rendering="crispEdges"/>
<rect x="1612.0" y="832.6" width="2.0" height="5.2" fill="#4b4b4b" shape-rendering="crispEdges"/>
<rect x="1614.0" y="827.4" width="2.0" height="13.0" fill="#4b4b4b" shape-rendering="crispEdges"/>
<rect x="1616.0" y="832.6" width="1.0" height="7.8" fill="#4b4b4b" shape-rendering="crispEdges"/>
<rect x="1617.0" y="827.4" width="2.0" height="10.4" fill="#4b4b4b" shape-rendering="crispEdges"/>
<rect x="1619.0" y="827.4" width="2.0" height="5.2" fill="#4b4b4b" shape-rendering="crispEdges"/>
<rect x="1621.0" y="830.0" width="2.0" height="7.8" fill="#4b4b4b" shape-rendering="crispEdges"/>
<rect x="1623.0" y="827.4" width="2.0" height="10.4" fill="#4b4b4b" shape-rendering="crispEdges"/>
<rect x="1625.0" y="827.4" width="4.0" height="7.8" fill="#4b4b4b" shape-rendering="crispEdges"/>
<rect x="1629.0" y="827.4" width="1.0" height="10.4" fill="#4b4b4b" shape-rendering="crispEdges"/>
<rect x="1630.0" y="827.4" width="1.0" height="7.8" fill="#4b4b4b" shape-rendering="crispEdges"/>
<rect x="1631.0" y="830.0" width="1.0" height="7.8" fill="#4b4b4b" shape-rendering="crispEdges"/>
<rect x="1632.0" y="830.0" width="1.0" height="5.2" fill="#4b4b4b" shape-rendering="crispEdges"/>
<rect x="1633.0" y="827.4" width="1.0" height="7.8" fill="#4b4b4b" shape-rendering="crispEdges"/>
<rect x="1634.0" y="824.8" width="1.0" height="10.4" fill="#4b4b4b" shape-rendering="crispEdges"/>
<rect x="1635.0" y="822.2" width="1.0" height="7.8" fill="#4b4b4b" shape-rendering="crispEdges"/>
<rect x="1636.0" y="817.0" width="1.0" height="10.4" fill="#4b4b4b" shape-rendering="crispEdges"/>
<rect x="1637.0" y="814.4" width="2.0" height="10.4" fill="#4b4b4b" shape-rendering="crispEdges"/>
<rect x="1599.0" y="843.0" width="1.0" height="7.8" fill="#4b4b4b" shape-rendering="crispEdges"/>
<rect x="1601.0" y="840.4" width="1.0" height="7.8" fill="#4b4b4b" shape-rendering="crispEdges"/>
<rect x="1608.0" y="837.8" width="1.0" height="5.2" fill="#4b4b4b" shape-rendering="crispEdges"/>
<rect x="1609.0" y="822.2" width="1.0" height="7.8" fill="#4b4b4b" shape-rendering="crispEdges"/>
<rect x="1612.0" y="837.8" width="1.0" height="2.6" fill="#4b4b4b" shape-rendering="crispEdges"/>
<rect x="1613.0" y="837.8" width="1.0" height="2.6" fill="#4b4b4b" shape-rendering="crispEdges"/>
<rect x="1615.0" y="840.4" width="1.0" height="2.6" fill="#4b4b4b" shape-rendering="crispEdges"/>
<rect x="1616.0" y="830.0" width="1.0" height="2.6" fill="#4b4b4b" shape-rendering="crispEdges"/>
<rect x="1622.0" y="827.4" width="1.0" height="2.6" fill="#4b4b4b" shape-rendering="crispEdges"/>
<rect x="1627.0" y="822.2" width="1.0" height="5.2" fill="#4b4b4b" shape-rendering="crispEdges"/>
<rect x="1628.0" y="824.8" width="1.0" height="2.6" fill="#4b4b4b" shape-rendering="crispEdges"/>
<rect x="1629.0" y="837.8" width="1.0" height="2.6" fill="#4b4b4b" shape-rendering="crispEdges"/>
<rect x="1630.0" y="819.6" width="1.0" height="7.8" fill="#4b4b4b" shape-rendering="crispEdges"/>
<rect x="1632.0" y="824.8" width="1.0" height="5.2" fill="#4b4b4b" shape-rendering="crispEdges"/>
<rect x="1634.0" y="819.6" width="1.0" height="5.2" fill="#4b4b4b" shape-rendering="crispEdges"/>
<rect x="1637.0" y="809.2" width="1.0" height="5.2" fill="#4b4b4b" shape-rendering="crispEdges"/>
<rect x="1639.1" y="790.6" width="1.0" height="73.4" fill="#4b4b4b" shape-rendering="crispEdges"/>
<rect x="1640.0" y="809.2" width="2.0" height="13.0" fill="#4b4b4b" shape-rendering="crispEdges"/>
<rect x="1642.0" y="811.8" width="1.0" height="5.2" fill="#4b4b4b" shape-rendering="crispEdges"/>
<rect x="1643.0" y="811.8" width="1.0" height="7.8" fill="#4b4b4b" shape-rendering="crispEdges"/>
<rect x="1644.0" y="814.4" width="1.0" height="2.6" fill="#4b4b4b" shape-rendering="crispEdges"/>
<rect x="1645.0" y="814.4" width="1.0" height="5.2" fill="#4b4b4b" shape-rendering="crispEdges"/>
<rect x="1646.0" y="814.4" width="1.0" height="7.8" fill="#4b4b4b" shape-rendering="crispEdges"/>
<rect x="1647.0" y="814.4" width="4.0" height="10.4" fill="#4b4b4b" shape-rendering="crispEdges"/>
<rect x="1651.0" y="817.0" width="1.0" height="7.8" fill="#4b4b4b" shape-rendering="crispEdges"/>
<rect x="1652.0" y="814.4" width="1.0" height="10.4" fill="#4b4b4b" shape-rendering="crispEdges"/>
<rect x="1653.0" y="814.4" width="3.0" height="7.8" fill="#4b4b4b" shape-rendering="crispEdges"/>
<rect x="1656.0" y="817.0" width="2.0" height="5.2" fill="#4b4b4b" shape-rendering="crispEdges"/>
<rect x="1658.0" y="819.6" width="1.0" height="7.8" fill="#4b4b4b" shape-rendering="crispEdges"/>
<rect x="1659.0" y="819.6" width="1.0" height="2.6" fill="#4b4b4b" shape-rendering="crispEdges"/>
<rect x="1660.0" y="817.0" width="2.0" height="5.2" fill="#4b4b4b" shape-rendering="crispEdges"/>
<rect x="1662.0" y="814.4" width="2.0" height="7.8" fill="#4b4b4b" shape-rendering="crispEdges"/>
<rect x="1664.0" y="819.6" width="4.0" height="5.2" fill="#4b4b4b" shape-rendering="crispEdges"/>
<rect x="1668.0" y="814.4" width="3.0" height="13.0" fill="#4b4b4b" shape-rendering="crispEdges"/>
<rect x="1671.0" y="814.4" width="2.0" height="10.4" fill="#4b4b4b" shape-rendering="crispEdges"/>
<rect x="1673.0" y="817.0" width="2.0" height="10.4" fill="#4b4b4b" shape-rendering="crispEdges"/>
<rect x="1675.0" y="819.6" width="2.0" height="7.8" fill="#4b4b4b" shape-rendering="crispEdges"/>
<rect x="1677.0" y="814.4" width="5.0" height="10.4" fill="#4b4b4b" shape-rendering="crispEdges"/>
<rect x="1640.0" y="822.2" width="1.0" height="5.2" fill="#4b4b4b" shape-rendering="crispEdges"/>
<rect x="1642.0" y="804.0" width="1.0" height="7.8" fill="#4b4b4b" shape-rendering="crispEdges"/>
<rect x="1643.0" y="819.6" width="1.0" height="2.6" fill="#4b4b4b" shape-rendering="crispEdges"/>
<rect x="1644.0" y="811.8" width="1.0" height="2.6" fill="#4b4b4b" shape-rendering="crispEdges"/>
<rect x="1647.0" y="811.8" width="1.0" height="2.6" fill="#4b4b4b" shape-rendering="crispEdges"/>
<rect x="1648.0" y="806.6" width="1.0" height="7.8" fill="#4b4b4b" shape-rendering="crispEdges"/>
<rect x="1649.0" y="824.8" width="1.0" height="5.2" fill="#4b4b4b" shape-rendering="crispEdges"/>
<rect x="1652.0" y="811.8" width="1.0" height="2.6" fill="#4b4b4b" shape-rendering="crispEdges"/>
<rect x="1656.0" y="809.2" width="1.0" height="7.8" fill="#4b4b4b" shape-rendering="crispEdges"/>
<rect x="1658.0" y="827.4" width="1.0" height="5.2" fill="#4b4b4b" shape-rendering="crispEdges"/>
<rect x="1659.0" y="822.2" width="1.0" height="2.6" fill="#4b4b4b" shape-rendering="crispEdges"/>
<rect x="1660.0" y="814.4" width="1.0" height="2.6" fill="#4b4b4b" shape-rendering="crispEdges"/>
<rect x="1661.0" y="811.8" width="1.0" height="5.2" fill="#4b4b4b" shape-rendering="crispEdges"/>
<rect x="1665.0" y="814.4" width="1.0" height="5.2" fill="#4b4b4b" shape-rendering="crispEdges"/>
<rect x="1666.0" y="814.4" width="1.0" height="5.2" fill="#4b4b4b" shape-rendering="crispEdges"/>
<rect x="1669.0" y="809.2" width="1.0" height="5.2" fill="#4b4b4b" shape-rendering="crispEdges"/>
<rect x="1671.0" y="824.8" width="1.0" height="5.2" fill="#4b4b4b" shape-rendering="crispEdges"/>
<rect x="1672.0" y="824.8" width="1.0" height="2.6" fill="#4b4b4b" shape-rendering="crispEdges"/>
<rect x="1673.0" y="809.2" width="1.0" height="7.8" fill="#4b4b4b" shape-rendering="crispEdges"/>
<rect x="1674.0" y="827.4" width="1.0" height="2.6" fill="#4b4b4b" shape-rendering="crispEdges"/>
<rect x="1675.0" y="827.4" width="1.0" height="2.6" fill="#4b4b4b" shape-rendering="crispEdges"/>
<rect x="1679.0" y="824.8" width="1.0" height="7.8" fill="#4b4b4b" shape-rendering="crispEdges"/>
<rect x="1680.0" y="811.8" width="1.0" height="2.6" fill="#4b4b4b" shape-rendering="crispEdges"/>
<path d="M1375.6 789 L1381.6 766 L1381.6 789 Z" fill="#4b4b4b"/>
<polyline points="1325.2,914.0 1325.8,900.0 1326.6,873.0 1327.6,852.7 1328.6,838.5 1330.5,826.0" fill="none" stroke="#4b4b4b" stroke-width="2.2"/>
<polyline points="1382.2,914.0 1382.6,883.0 1383.5,863.0 1384.6,842.6 1386.6,832.0" fill="none" stroke="#4b4b4b" stroke-width="2.2"/>
<polyline points="1424.2,914.0 1424.7,893.5 1426.3,873.0 1428.3,842.6 1430.3,825.0" fill="none" stroke="#4b4b4b" stroke-width="2.2"/>
<polyline points="1489.0,914.0 1489.5,877.0 1491.4,842.6 1493.5,830.0 1496.5,819.0" fill="none" stroke="#4b4b4b" stroke-width="2.2"/>
<polyline points="1563.9,880.0 1564.4,852.7 1566.4,830.0 1568.4,818.0 1571.5,806.0" fill="none" stroke="#4b4b4b" stroke-width="2.2"/>
<polyline points="1591.6,914.0 1592.9,903.7 1593.9,883.0 1594.9,867.0 1596.9,850.7 1599.0,840.5 1601.0,836.0" fill="none" stroke="#4b4b4b" stroke-width="2.2"/>
<rect x="1324" y="856" width="2" height="58" fill="#f214e4"/>
<rect x="1324" y="912.6" width="358" height="1.6" fill="#e030d8"/>
<rect x="1346.1" y="892" width="1" height="22" fill="#f214e4"/>
<rect x="1380.2" y="880" width="1.7" height="34" fill="#f214e4"/>
<rect x="1411.1" y="881" width="1" height="33" fill="#f214e4"/>
<rect x="1422.6" y="907.5" width="1.2" height="6.5" fill="#f214e4"/>
<rect x="1479.2" y="903.7" width="1" height="10.299999999999955" fill="#f214e4"/>
<rect x="1487.4" y="909.5" width="1.1" height="4.5" fill="#f214e4"/>
<rect x="1009.9" y="712" width="1.9" height="3.4" fill="#fff"/>
<rect x="966.4" y="712" width="1.1" height="5.4" fill="#fff"/>
<rect x="921.8" y="712" width="1.2" height="4.8" fill="#fff"/>
<rect x="976.0" y="712" width="2.8" height="5.4" fill="#fff"/>
<rect x="915.6" y="712" width="2.9" height="3.5" fill="#fff"/>
<rect x="1008.2" y="712" width="2.7" height="4.3" fill="#fff"/>
<rect x="948.7" y="712" width="2.2" height="5.4" fill="#fff"/>
<rect x="1013.9" y="712" width="2.0" height="6.7" fill="#fff"/>
<rect x="969.4" y="712" width="0.8" height="6.0" fill="#fff"/>
<rect x="994.6" y="712" width="1.6" height="5.6" fill="#fff"/>
<rect x="982.6" y="712" width="1.6" height="4.3" fill="#fff"/>
<rect x="938.9" y="712" width="3.0" height="6.9" fill="#fff"/>
<rect x="946.5" y="712" width="1.2" height="5.6" fill="#fff"/>
<rect x="1029.6" y="712" width="2.3" height="6.3" fill="#fff"/>
<rect x="973.0" y="712" width="2.9" height="4.0" fill="#fff"/>
<rect x="982.5" y="712" width="1.2" height="4.4" fill="#fff"/>
<rect x="966.9" y="712" width="1.4" height="6.1" fill="#fff"/>
<rect x="935.5" y="712" width="2.9" height="3.1" fill="#fff"/>
<rect x="998.7" y="712" width="2.9" height="3.0" fill="#fff"/>
<rect x="945.5" y="712" width="1.7" height="3.7" fill="#fff"/>
<rect x="951.3" y="712" width="2.9" height="5.3" fill="#fff"/>
<rect x="954.3" y="712" width="1.4" height="3.3" fill="#fff"/>
<rect x="1003.7" y="712" width="2.2" height="5.6" fill="#fff"/>
<rect x="920.7" y="712" width="2.5" height="3.3" fill="#fff"/>
<rect x="971.2" y="712" width="1.2" height="6.9" fill="#fff"/>
<rect x="937.0" y="712" width="1.1" height="4.3" fill="#fff"/>
<rect x="559" y="790.6" width="1123" height="1.4" fill="#1c3aa6"/>
<rect x="559" y="788.6" width="160" height="2.2" fill="#c4c4c4"/>
<rect x="719.0" y="789.0" width="9.0" height="1.5" fill="#c4c4c4"/>
<rect x="735.9" y="789.0" width="15.0" height="1.5" fill="#c4c4c4"/>
<rect x="757.8" y="789.0" width="28.8" height="1.5" fill="#c4c4c4"/>
<rect x="789.7" y="789.0" width="23.3" height="1.5" fill="#c4c4c4"/>
<rect x="816.2" y="789.0" width="20.0" height="1.5" fill="#c4c4c4"/>
<rect x="837.8" y="789.0" width="32.8" height="1.5" fill="#c4c4c4"/>
<rect x="875.5" y="789.0" width="20.1" height="1.5" fill="#c4c4c4"/>
<rect x="901.3" y="789.0" width="3.7" height="1.5" fill="#c4c4c4"/>
<rect x="905.0" y="789.0" width="37.1" height="1.5" fill="#c4c4c4"/>
<rect x="945.3" y="789.0" width="25.1" height="1.5" fill="#c4c4c4"/>
<rect x="977.4" y="789.0" width="30.0" height="1.5" fill="#c4c4c4"/>
<rect x="1010.7" y="789.0" width="23.6" height="1.5" fill="#c4c4c4"/>
<rect x="1041.2" y="789.0" width="30.8" height="1.5" fill="#c4c4c4"/>
<rect x="1078.7" y="789.0" width="26.3" height="1.5" fill="#c4c4c4"/>
<rect x="1109.8" y="789.0" width="19.2" height="1.5" fill="#c4c4c4"/>
<rect x="1133.4" y="789.0" width="27.2" height="1.5" fill="#c4c4c4"/>
<rect x="1167.6" y="789.0" width="15.1" height="1.5" fill="#c4c4c4"/>
<rect x="1183.4" y="789.0" width="37.0" height="1.5" fill="#c4c4c4"/>
<rect x="1223.6" y="789.0" width="8.3" height="1.5" fill="#c4c4c4"/>
<rect x="1232.4" y="789.0" width="22.3" height="1.5" fill="#c4c4c4"/>
<rect x="1256.4" y="789.0" width="35.1" height="1.5" fill="#c4c4c4"/>
<rect x="1295.6" y="789.0" width="24.4" height="1.5" fill="#c4c4c4"/>
<rect x="1320.0" y="789.0" width="18.8" height="1.5" fill="#c4c4c4"/>
<rect x="1339.5" y="789.0" width="32.5" height="1.5" fill="#c4c4c4"/>
<rect x="1372.5" y="789.0" width="34.2" height="1.5" fill="#c4c4c4"/>
<rect x="1406.7" y="789.0" width="6.3" height="1.5" fill="#c4c4c4"/>
<rect x="1414.5" y="789.0" width="38.6" height="1.5" fill="#c4c4c4"/>
<rect x="1455.8" y="789.0" width="38.4" height="1.5" fill="#c4c4c4"/>
<rect x="1503.0" y="789.0" width="33.8" height="1.5" fill="#c4c4c4"/>
<rect x="1539.3" y="789.0" width="34.0" height="1.5" fill="#c4c4c4"/>
<rect x="1580.6" y="789.0" width="30.0" height="1.5" fill="#c4c4c4"/>
<rect x="1618.5" y="789.0" width="10.1" height="1.5" fill="#c4c4c4"/>
<rect x="1633.9" y="789.0" width="12.9" height="1.5" fill="#c4c4c4"/>
<rect x="1654.6" y="789.0" width="27.4" height="1.5" fill="#c4c4c4"/>
<rect x="1462.2" y="789.0" width="3.2" height="1.0" fill="#1c3aa6"/>
<rect x="1557.9" y="789.0" width="4.2" height="1.0" fill="#1c3aa6"/>
<rect x="1375.5" y="789.0" width="4.0" height="1.0" fill="#1c3aa6"/>
<rect x="1465.4" y="789.0" width="2.3" height="1.0" fill="#1c3aa6"/>
<rect x="1432.8" y="789.0" width="5.4" height="1.0" fill="#1c3aa6"/>
<rect x="1457.4" y="789.0" width="2.6" height="1.0" fill="#1c3aa6"/>
<rect x="1242.9" y="789.0" width="3.4" height="1.0" fill="#1c3aa6"/>
<rect x="1322.6" y="789.0" width="3.8" height="1.0" fill="#1c3aa6"/>
<rect x="1468.2" y="789.0" width="2.5" height="1.0" fill="#1c3aa6"/>
<rect x="1509.5" y="789.0" width="5.3" height="1.0" fill="#1c3aa6"/>
<rect x="1474.5" y="789.0" width="2.4" height="1.0" fill="#1c3aa6"/>
<rect x="1465.2" y="789.0" width="5.2" height="1.0" fill="#1c3aa6"/>
<rect x="1440.1" y="789.0" width="4.3" height="1.0" fill="#1c3aa6"/>
<rect x="1410.8" y="789.0" width="3.4" height="1.0" fill="#1c3aa6"/>
<rect x="1422.2" y="789.0" width="2.6" height="1.0" fill="#1c3aa6"/>
<rect x="1306.8" y="789.0" width="4.2" height="1.0" fill="#1c3aa6"/>
<rect x="1268.7" y="789.0" width="5.3" height="1.0" fill="#1c3aa6"/>
<rect x="1337.5" y="789.0" width="2.8" height="1.0" fill="#1c3aa6"/>
<rect x="1482.0" y="789.0" width="4.5" height="1.0" fill="#1c3aa6"/>
<rect x="1620.6" y="789.0" width="4.4" height="1.0" fill="#1c3aa6"/>
<rect x="1593.1" y="789.0" width="4.8" height="1.0" fill="#1c3aa6"/>
<rect x="1629.3" y="789.0" width="4.8" height="1.0" fill="#1c3aa6"/>
<rect x="1465.6" y="789.0" width="2.1" height="1.0" fill="#1c3aa6"/>
<rect x="1431.2" y="789.0" width="2.9" height="1.0" fill="#1c3aa6"/>
<rect x="1430.7" y="789.0" width="4.5" height="1.0" fill="#1c3aa6"/>
<rect x="1491.5" y="789.0" width="5.6" height="1.0" fill="#1c3aa6"/>
<rect x="1329.7" y="789.0" width="5.8" height="1.0" fill="#1c3aa6"/>
<rect x="1378.6" y="789.0" width="2.2" height="1.0" fill="#1c3aa6"/>
<rect x="1653.3" y="789.0" width="4.9" height="1.0" fill="#1c3aa6"/>
<rect x="1671.1" y="789.0" width="4.2" height="1.0" fill="#1c3aa6"/>
</g>
<rect x="1306" y="711" width="1" height="204" fill="#000"/>
<rect x="558" y="711" width="1125" height="204.4" fill="none" stroke="#000" stroke-width="2"/>
<rect x="558" y="925" width="1125" height="1" fill="#000"/>
<rect x="573.36" y="926" width="1" height="4.4" fill="#000"/>
<rect x="590.97" y="926" width="1" height="4.4" fill="#000"/>
<rect x="608.58" y="926" width="1" height="4.4" fill="#000"/>
<rect x="626.19" y="926" width="1" height="4.4" fill="#000"/>
<rect x="643.80" y="926" width="1" height="9" fill="#000"/>
<rect x="661.41" y="926" width="1" height="4.4" fill="#000"/>
<rect x="679.02" y="926" width="1" height="4.4" fill="#000"/>
<rect x="696.63" y="926" width="1" height="4.4" fill="#000"/>
<rect x="714.24" y="926" width="1" height="4.4" fill="#000"/>
<rect x="731.85" y="926" width="1" height="9" fill="#000"/>
<rect x="749.46" y="926" width="1" height="4.4" fill="#000"/>
<rect x="767.07" y="926" width="1" height="4.4" fill="#000"/>
<rect x="784.68" y="926" width="1" height="4.4" fill="#000"/>
<rect x="802.29" y="926" width="1" height="4.4" fill="#000"/>
<rect x="819.90" y="926" width="1" height="9" fill="#000"/>
<rect x="837.51" y="926" width="1" height="4.4" fill="#000"/>
<rect x="855.12" y="926" width="1" height="4.4" fill="#000"/>
<rect x="872.73" y="926" width="1" height="4.4" fill="#000"/>
<rect x="890.34" y="926" width="1" height="4.4" fill="#000"/>
<rect x="907.95" y="926" width="1" height="9" fill="#000"/>
<rect x="925.56" y="926" width="1" height="4.4" fill="#000"/>
<rect x="943.17" y="926" width="1" height="4.4" fill="#000"/>
<rect x="960.78" y="926" width="1" height="4.4" fill="#000"/>
<rect x="978.39" y="926" width="1" height="4.4" fill="#000"/>
<rect x="996.00" y="926" width="1" height="9" fill="#000"/>
<rect x="1013.61" y="926" width="1" height="4.4" fill="#000"/>
<rect x="1031.22" y="926" width="1" height="4.4" fill="#000"/>
<rect x="1048.83" y="926" width="1" height="4.4" fill="#000"/>
<rect x="1066.44" y="926" width="1" height="4.4" fill="#000"/>
<rect x="1084.05" y="926" width="1" height="9" fill="#000"/>
<rect x="1101.66" y="926" width="1" height="4.4" fill="#000"/>
<rect x="1119.27" y="926" width="1" height="4.4" fill="#000"/>
<rect x="1136.88" y="926" width="1" height="4.4" fill="#000"/>
<rect x="1154.49" y="926" width="1" height="4.4" fill="#000"/>
<rect x="1172.10" y="926" width="1" height="9" fill="#000"/>
<rect x="1189.71" y="926" width="1" height="4.4" fill="#000"/>
<rect x="1207.32" y="926" width="1" height="4.4" fill="#000"/>
<rect x="1224.93" y="926" width="1" height="4.4" fill="#000"/>
<rect x="1242.54" y="926" width="1" height="4.4" fill="#000"/>
<rect x="1260.15" y="926" width="1" height="9" fill="#000"/>
<rect x="1277.76" y="926" width="1" height="4.4" fill="#000"/>
<rect x="1295.37" y="926" width="1" height="4.4" fill="#000"/>
<rect x="1312.98" y="926" width="1" height="4.4" fill="#000"/>
<rect x="1330.59" y="926" width="1" height="4.4" fill="#000"/>
<rect x="1348.20" y="926" width="1" height="9" fill="#000"/>
<rect x="1365.81" y="926" width="1" height="4.4" fill="#000"/>
<rect x="1383.42" y="926" width="1" height="4.4" fill="#000"/>
<rect x="1401.03" y="926" width="1" height="4.4" fill="#000"/>
<rect x="1418.64" y="926" width="1" height="4.4" fill="#000"/>
<rect x="1436.25" y="926" width="1" height="9" fill="#000"/>
<rect x="1453.86" y="926" width="1" height="4.4" fill="#000"/>
<rect x="1471.47" y="926" width="1" height="4.4" fill="#000"/>
<rect x="1489.08" y="926" width="1" height="4.4" fill="#000"/>
<rect x="1506.69" y="926" width="1" height="4.4" fill="#000"/>
<rect x="1524.30" y="926" width="1" height="9" fill="#000"/>
<rect x="1541.91" y="926" width="1" height="4.4" fill="#000"/>
<rect x="1559.52" y="926" width="1" height="4.4" fill="#000"/>
<rect x="1577.13" y="926" width="1" height="4.4" fill="#000"/>
<rect x="1594.74" y="926" width="1" height="4.4" fill="#000"/>
<rect x="1612.35" y="926" width="1" height="9" fill="#000"/>
<rect x="1629.96" y="926" width="1" height="4.4" fill="#000"/>
<rect x="1647.57" y="926" width="1" height="4.4" fill="#000"/>
<rect x="1665.18" y="926" width="1" height="4.4" fill="#000"/>
<rect x="1306" y="926" width="1" height="9.6" fill="#000"/>
<text x="643.50" y="945.90" font-size="12" fill="#1a1a1a" text-anchor="middle" textLength="74.60" lengthAdjust="spacingAndGlyphs">18:15:50.000</text>
<text x="731.55" y="945.90" font-size="12" fill="#1a1a1a" text-anchor="middle" textLength="74.60" lengthAdjust="spacingAndGlyphs">18:20:00.000</text>
<text x="819.60" y="945.90" font-size="12" fill="#1a1a1a" text-anchor="middle" textLength="74.60" lengthAdjust="spacingAndGlyphs">18:24:10.000</text>
<text x="907.65" y="945.90" font-size="12" fill="#1a1a1a" text-anchor="middle" textLength="74.60" lengthAdjust="spacingAndGlyphs">18:28:20.000</text>
<text x="995.70" y="945.90" font-size="12" fill="#1a1a1a" text-anchor="middle" textLength="74.60" lengthAdjust="spacingAndGlyphs">18:32:30.000</text>
<text x="1083.75" y="945.90" font-size="12" fill="#1a1a1a" text-anchor="middle" textLength="74.60" lengthAdjust="spacingAndGlyphs">18:36:40.000</text>
<text x="1171.80" y="945.90" font-size="12" fill="#1a1a1a" text-anchor="middle" textLength="74.60" lengthAdjust="spacingAndGlyphs">18:40:50.000</text>
<text x="1259.85" y="945.90" font-size="12" fill="#1a1a1a" text-anchor="middle" textLength="74.60" lengthAdjust="spacingAndGlyphs">18:45:00.000</text>
<text x="1347.90" y="945.90" font-size="12" fill="#1a1a1a" text-anchor="middle" textLength="74.60" lengthAdjust="spacingAndGlyphs">18:49:10.000</text>
<text x="1435.95" y="945.90" font-size="12" fill="#1a1a1a" text-anchor="middle" textLength="74.60" lengthAdjust="spacingAndGlyphs">18:53:20.000</text>
<text x="1524.00" y="945.90" font-size="12" fill="#1a1a1a" text-anchor="middle" textLength="74.60" lengthAdjust="spacingAndGlyphs">18:57:30.000</text>
<text x="1612.05" y="945.90" font-size="12" fill="#1a1a1a" text-anchor="middle" textLength="74.60" lengthAdjust="spacingAndGlyphs">19:01:40.000</text>
<text x="495.80" y="936.60" font-size="12" fill="#1a1a1a" text-anchor="start" textLength="26.40" lengthAdjust="spacingAndGlyphs">Time</text>
<text x="495.40" y="950.60" font-size="12" fill="#1a1a1a" text-anchor="start" textLength="14.40" lengthAdjust="spacingAndGlyphs">(s)</text>
<rect x="559" y="953" width="1124" height="12" fill="#dfe9fb"/>
<rect x="572" y="953" width="1098" height="11.4" fill="#7fa6e0"/>
<rect x="573" y="954" width="1096" height="9.4" fill="url(#thumb)"/>
<path d="M561.6 958.6 L568.6 954.4 L568.6 962.8 Z" fill="#5b8bd6"/>
<path d="M1680.4 958.6 L1673.4 954.4 L1673.4 962.8 Z" fill="#5b8bd6"/>
<path d="M549.4 889.4 L557.6 894.2 L549.4 899 Z" fill="#f018e0" stroke="#301030" stroke-width="0.9"/>
<rect x="562.6" y="889.6" width="20.6" height="10.6" fill="#fff"/>
<text x="564.20" y="898.20" font-size="9.6" fill="#000" text-anchor="start" textLength="18.00" lengthAdjust="spacingAndGlyphs">0.36</text>
<rect x="549" y="856.4" width="8.6" height="2.2" fill="#f214e4"/>
<path d="M558.6 917.4 L564.4 917.4 L559.4 925.6 Z" fill="#e818da" stroke="#301030" stroke-width="0.8"/>
<text x="567.40" y="924.20" font-size="9.6" fill="#000" text-anchor="start" textLength="18.00" lengthAdjust="spacingAndGlyphs">0.00</text>
<path d="M1316.4 710.2 L1320.8 702.4 L1325.2 710.2 Z" fill="#f018e0" stroke="#40203c" stroke-width="0.9"/>
<text x="1328.40" y="710.00" font-size="9.6" fill="#000" text-anchor="start" textLength="17.60" lengthAdjust="spacingAndGlyphs">1.13</text>
<rect x="1706" y="57" width="207" height="628" fill="#bcbcbc"/>
<rect x="1707" y="58" width="205" height="626" fill="#fff"/>
<rect x="1708" y="59" width="13" height="13" fill="#0a0a0a"/>
<rect x="1709" y="60" width="11" height="11" fill="#ff1744"/>
<text x="1725.20" y="69.60" font-size="12.6" fill="#0a0a0a" text-anchor="start" textLength="69.00" lengthAdjust="spacingAndGlyphs">LabNTK_U21</text>
<text x="1908.60" y="69.60" font-size="12.6" fill="#0a0a0a" text-anchor="end" textLength="31.40" lengthAdjust="spacingAndGlyphs">0.513</text>
<rect x="1706" y="73" width="207" height="17" fill="#7da4e4"/>
<rect x="1707" y="74" width="205" height="15" fill="url(#selb)"/>
<rect x="1708" y="75" width="13" height="13" fill="#0a0a0a"/>
<rect x="1709" y="76" width="11" height="11" fill="#8f8f8f"/>
<text x="1725.20" y="85.60" font-size="12.6" fill="#0a0a0a" text-anchor="start" textLength="75.40" lengthAdjust="spacingAndGlyphs">Lam3L2C_R14</text>
<text x="1908.60" y="85.60" font-size="12.6" fill="#0a0a0a" text-anchor="end" textLength="31.40" lengthAdjust="spacingAndGlyphs">0.539</text>
<rect x="1707" y="105" width="205" height="1" fill="#c9c9c9"/>
<rect x="1708" y="91" width="13" height="13" fill="#0a0a0a"/>
<rect x="1709" y="92" width="11" height="11" fill="#000000"/>
<text x="1725.20" y="101.60" font-size="12.6" fill="#0a0a0a" text-anchor="start" textLength="99.00" lengthAdjust="spacingAndGlyphs">Lam3RawL2C_R22</text>
<text x="1908.60" y="101.60" font-size="12.6" fill="#0a0a0a" text-anchor="end" textLength="31.40" lengthAdjust="spacingAndGlyphs">0.518</text>
<rect x="1707" y="121" width="205" height="1" fill="#c9c9c9"/>
<rect x="1708" y="107" width="13" height="13" fill="#0a0a0a"/>
<rect x="1709" y="108" width="11" height="11" fill="#cdcdcd"/>
<text x="1725.20" y="117.60" font-size="12.6" fill="#0a0a0a" text-anchor="start" textLength="24.00" lengthAdjust="spacingAndGlyphs">vbat</text>
<text x="1908.60" y="117.60" font-size="12.6" fill="#0a0a0a" text-anchor="end" textLength="31.40" lengthAdjust="spacingAndGlyphs">14.05</text>
<rect x="1706" y="711" width="207" height="204" fill="#bcbcbc"/>
<rect x="1707" y="712" width="205" height="202" fill="#fff"/>
<rect x="1708" y="713" width="13" height="13" fill="#0a0a0a"/>
<rect x="1709" y="714" width="11" height="11" fill="#0a22c8"/>
<text x="1725.20" y="723.60" font-size="12.6" fill="#0a0a0a" text-anchor="start" textLength="31.00" lengthAdjust="spacingAndGlyphs">% O2</text>
<text x="1908.60" y="723.60" font-size="12.6" fill="#0a0a0a" text-anchor="end" textLength="31.40" lengthAdjust="spacingAndGlyphs">20.45</text>
<rect x="1706" y="727" width="207" height="17" fill="#f2c060"/>
<rect x="1707" y="728" width="205" height="15" fill="url(#selo)"/>
<rect x="1708" y="729" width="13" height="13" fill="#0a0a0a"/>
<rect x="1709" y="730" width="11" height="11" fill="#ff14f0"/>
<text x="1725.20" y="739.60" font-size="12.6" fill="#0a0a0a" text-anchor="start" textLength="88.00" lengthAdjust="spacingAndGlyphs">ExPressL2C_R11</text>
<text x="1908.60" y="739.60" font-size="12.6" fill="#0a0a0a" text-anchor="end" textLength="24.40" lengthAdjust="spacingAndGlyphs">1.07</text>
<rect x="1707" y="759" width="205" height="1" fill="#c9c9c9"/>
<rect x="1708" y="745" width="13" height="13" fill="#0a0a0a"/>
<rect x="1709" y="746" width="11" height="11" fill="#22c818"/>
<text x="1725.20" y="755.60" font-size="12.6" fill="#0a0a0a" text-anchor="start" textLength="57.00" lengthAdjust="spacingAndGlyphs">LamLabOK</text>
<text x="1908.60" y="755.60" font-size="12.6" fill="#0a0a0a" text-anchor="end" textLength="33.40" lengthAdjust="spacingAndGlyphs">####</text>
<rect x="1707" y="775" width="205" height="1" fill="#c9c9c9"/>
<rect x="1708" y="761" width="13" height="13" fill="#0a0a0a"/>
<rect x="1709" y="762" width="11" height="11" fill="#555555"/>
<text x="1725.20" y="771.60" font-size="12.6" fill="#0a0a0a" text-anchor="start" textLength="87.00" lengthAdjust="spacingAndGlyphs">LambdaLabError</text>
<text x="1908.60" y="771.60" font-size="12.6" fill="#0a0a0a" text-anchor="end" textLength="24.40" lengthAdjust="spacingAndGlyphs">5.07</text>
<rect x="1707" y="791" width="205" height="1" fill="#c9c9c9"/>
<rect x="1708" y="777" width="13" height="13" fill="#0a0a0a"/>
<rect x="1709" y="778" width="11" height="11" fill="#c2c2c2"/>
<text x="1725.20" y="787.60" font-size="12.6" fill="#0a0a0a" text-anchor="start" textLength="19.40" lengthAdjust="spacingAndGlyphs">bap</text>
<text x="1908.60" y="787.60" font-size="12.6" fill="#0a0a0a" text-anchor="end" textLength="27.80" lengthAdjust="spacingAndGlyphs">1002</text>
<rect x="1707" y="807" width="205" height="1" fill="#c9c9c9"/>
<rect x="1708" y="793" width="13" height="13" fill="#0a0a0a"/>
<rect x="1709" y="794" width="11" height="11" fill="#6aa0ff"/>
<text x="1725.20" y="803.60" font-size="12.6" fill="#0a0a0a" text-anchor="start" textLength="24.60" lengthAdjust="spacingAndGlyphs">egt1</text>
<text x="1908.60" y="803.60" font-size="12.6" fill="#0a0a0a" text-anchor="end" textLength="14.00" lengthAdjust="spacingAndGlyphs">16</text>
<rect x="1707" y="823" width="205" height="1" fill="#c9c9c9"/>
<rect x="1708" y="809" width="13" height="13" fill="#0a0a0a"/>
<rect x="1709" y="810" width="11" height="11" fill="#e88a10"/>
<text x="1725.20" y="819.60" font-size="12.6" fill="#0a0a0a" text-anchor="start" textLength="25.00" lengthAdjust="spacingAndGlyphs">egt2</text>
<text x="1908.60" y="819.60" font-size="12.6" fill="#0a0a0a" text-anchor="end" textLength="14.00" lengthAdjust="spacingAndGlyphs">76</text>
<text x="13.20" y="1000.80" font-size="12.4" fill="#218a21" text-anchor="start" textLength="438.00" lengthAdjust="spacingAndGlyphs">.\DownloadedData\27290\2024-09-25 18-11-48 plus 0h00m00s S12#27290.SD</text>
<text x="13.20" y="1014.80" font-size="12.4" fill="#218a21" text-anchor="start" textLength="584.00" lengthAdjust="spacingAndGlyphs">S12(27290) Cal(RICESP-RR286-NTKcalibration-43) Cfg(RICESP-RRL018-LAMBDA) Boot(1.80) Main(1.714.3)</text>
<text x="13.20" y="1028.80" font-size="12.4" fill="#218a21" text-anchor="start" textLength="318.00" lengthAdjust="spacingAndGlyphs">DateTime(2024\9\25 18:11) UncompressedSize(18.3 MB)</text>
<text x="13.20" y="1042.80" font-size="12.4" fill="#858585" text-anchor="start" textLength="262.00" lengthAdjust="spacingAndGlyphs">B1351-LZA08 V RR2222 2nd day run up testing</text>
<text x="13.20" y="1056.80" font-size="12.4" fill="#858585" text-anchor="start" textLength="144.00" lengthAdjust="spacingAndGlyphs">B1351 (148) B1460 (115)</text>
<rect x="1141" y="989" width="13" height="80" fill="#dfe9fb"/>
<path d="M1143.4 998.6 L1147.6 991.2 L1151.8 998.6 Z" fill="#5b8bd6"/>
<path d="M1143.4 1059.6 L1147.6 1067 L1151.8 1059.6 Z" fill="#5b8bd6"/>
<rect x="1142" y="1002.4" width="11" height="52" fill="#7fa6e0"/>
<rect x="1143" y="1003.4" width="9" height="50" fill="url(#thumb)"/>
<text x="1154.40" y="1000.80" font-size="12.4" fill="#e8952c" text-anchor="start" textLength="234.60" lengthAdjust="spacingAndGlyphs">ExPressL2C_R11 (100Hz) samples(319082)</text>
<text x="1154.40" y="1014.80" font-size="12.4" fill="#e8952c" text-anchor="start" textLength="213.60" lengthAdjust="spacingAndGlyphs">Unit(Pressure,Pounds per Square Inch)</text>
<text x="1154.40" y="1028.80" font-size="12.4" fill="#e8952c" text-anchor="start" textLength="309.60" lengthAdjust="spacingAndGlyphs">convert using y=(1*x)+0 to Millibar in the range 0..5000</text>
<text x="1154.40" y="1042.80" font-size="12.4" fill="#e8952c" text-anchor="start" textLength="153.60" lengthAdjust="spacingAndGlyphs">UnitGroup(ExPressL2C_R11)</text>
<text x="1168.20" y="1056.80" font-size="12.4" fill="#e8952c" text-anchor="start" textLength="88.00" lengthAdjust="spacingAndGlyphs">ExPressL2C_R11</text>
<rect x="1698" y="989" width="1" height="81" fill="#b0b0b0"/>
<text x="1706.20" y="1000.80" font-size="12.4" fill="#111" text-anchor="start" textLength="85.60" lengthAdjust="spacingAndGlyphs">Burst Log Mode</text>
<text x="1706.20" y="1028.80" font-size="12.4" fill="#111" text-anchor="start" textLength="98.00" lengthAdjust="spacingAndGlyphs">BASE, ENHANCED</text>
</svg>
</body></html>
